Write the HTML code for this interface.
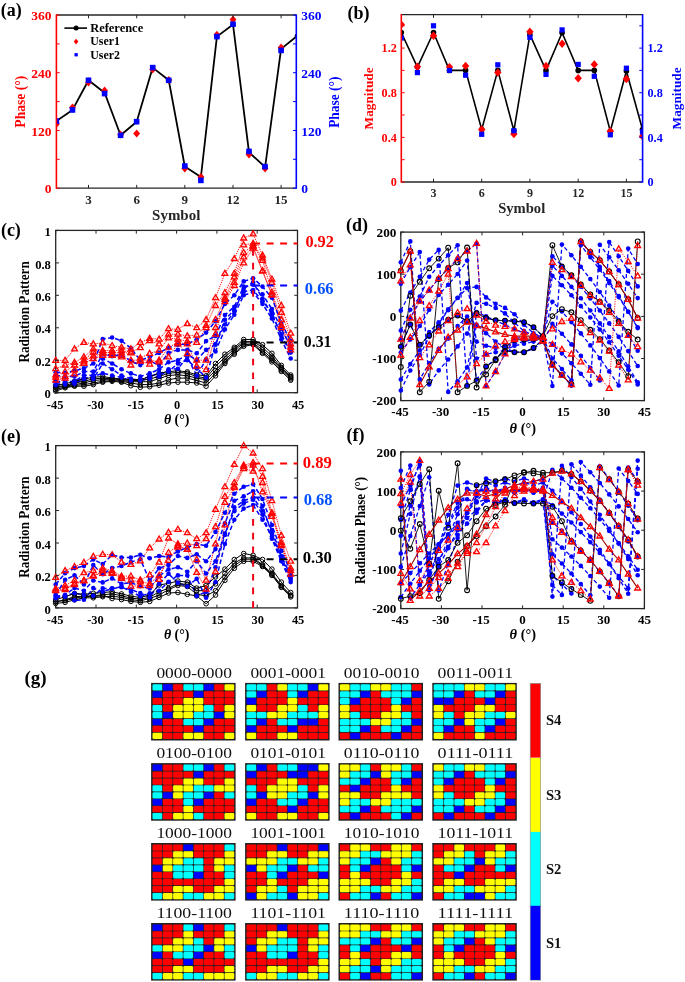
<!DOCTYPE html><html><head><meta charset="utf-8"><style>html,body{margin:0;padding:0;background:#fff;overflow:hidden}svg{display:block;will-change:transform}</style></head><body><svg width="685" height="982" viewBox="0 0 685 982">
<rect x="0" y="0" width="685" height="982" fill="#fff" stroke="none" stroke-width="0" rx="0"/>
<text x="0.7" y="15.6" font-family="Liberation Serif" font-size="18" font-weight="bold" fill="#000" text-anchor="start">(a)</text>
<text x="347.6" y="18.9" font-family="Liberation Serif" font-size="18" font-weight="bold" fill="#000" text-anchor="start">(b)</text>
<clipPath id="ca"><rect x="56.4" y="15" width="239.9" height="173.2"/></clipPath>
<g clip-path="url(#ca)">
<polyline points="56.4,121.1 72.5,109.9 88.5,80.3 104.6,92.8 120.6,135.3 136.7,121.7 152.7,67.6 168.8,80.3 184.8,166.5 200.9,177 216.9,36.6 233,24.5 249,152.3 265.1,167 281.1,48.9 297.1,35.9" fill="none" stroke="#000" stroke-width="1.8" stroke-linejoin="round" stroke-linecap="butt"/>
<circle cx="56.4" cy="121.1" r="2.5" fill="#000" stroke="none" stroke-width="0"/>
<circle cx="72.5" cy="109.9" r="2.5" fill="#000" stroke="none" stroke-width="0"/>
<circle cx="88.5" cy="80.3" r="2.5" fill="#000" stroke="none" stroke-width="0"/>
<circle cx="104.6" cy="92.8" r="2.5" fill="#000" stroke="none" stroke-width="0"/>
<circle cx="120.6" cy="135.3" r="2.5" fill="#000" stroke="none" stroke-width="0"/>
<circle cx="136.7" cy="121.7" r="2.5" fill="#000" stroke="none" stroke-width="0"/>
<circle cx="152.7" cy="67.6" r="2.5" fill="#000" stroke="none" stroke-width="0"/>
<circle cx="168.8" cy="80.3" r="2.5" fill="#000" stroke="none" stroke-width="0"/>
<circle cx="184.8" cy="166.5" r="2.5" fill="#000" stroke="none" stroke-width="0"/>
<circle cx="200.9" cy="177" r="2.5" fill="#000" stroke="none" stroke-width="0"/>
<circle cx="216.9" cy="36.6" r="2.5" fill="#000" stroke="none" stroke-width="0"/>
<circle cx="233" cy="24.5" r="2.5" fill="#000" stroke="none" stroke-width="0"/>
<circle cx="249" cy="152.3" r="2.5" fill="#000" stroke="none" stroke-width="0"/>
<circle cx="265.1" cy="167" r="2.5" fill="#000" stroke="none" stroke-width="0"/>
<circle cx="281.1" cy="48.9" r="2.5" fill="#000" stroke="none" stroke-width="0"/>
<circle cx="297.1" cy="35.9" r="2.5" fill="#000" stroke="none" stroke-width="0"/>
<path d="M56.4,120L59.8,124L56.4,128L53,124Z" fill="#ff0000"/>
<path d="M72.5,103.6L75.9,107.6L72.5,111.6L69,107.6Z" fill="#ff0000"/>
<path d="M88.5,78.5L91.9,82.5L88.5,86.5L85.1,82.5Z" fill="#ff0000"/>
<path d="M104.6,86.4L108,90.4L104.6,94.4L101.2,90.4Z" fill="#ff0000"/>
<path d="M120.6,130.5L124,134.5L120.6,138.5L117.2,134.5Z" fill="#ff0000"/>
<path d="M136.7,129.6L140.1,133.6L136.7,137.6L133.2,133.6Z" fill="#ff0000"/>
<path d="M152.7,65.5L156.1,69.5L152.7,73.5L149.3,69.5Z" fill="#ff0000"/>
<path d="M168.8,76L172.2,80L168.8,84L165.3,80Z" fill="#ff0000"/>
<path d="M184.8,164.5L188.2,168.5L184.8,172.5L181.4,168.5Z" fill="#ff0000"/>
<path d="M200.9,173L204.3,177L200.9,181L197.5,177Z" fill="#ff0000"/>
<path d="M216.9,30.8L220.3,34.8L216.9,38.8L213.5,34.8Z" fill="#ff0000"/>
<path d="M233,15.5L236.4,19.5L233,23.5L229.6,19.5Z" fill="#ff0000"/>
<path d="M249,150.6L252.4,154.6L249,158.6L245.6,154.6Z" fill="#ff0000"/>
<path d="M265.1,164.5L268.4,168.5L265.1,172.5L261.7,168.5Z" fill="#ff0000"/>
<path d="M281.1,43.4L284.5,47.4L281.1,51.4L277.7,47.4Z" fill="#ff0000"/>
<rect x="53.6" y="118.3" width="5.6" height="5.6" fill="#0000ff" stroke="none" stroke-width="0" rx="0"/>
<rect x="69.7" y="107.1" width="5.6" height="5.6" fill="#0000ff" stroke="none" stroke-width="0" rx="0"/>
<rect x="85.7" y="77.5" width="5.6" height="5.6" fill="#0000ff" stroke="none" stroke-width="0" rx="0"/>
<rect x="101.8" y="90.8" width="5.6" height="5.6" fill="#0000ff" stroke="none" stroke-width="0" rx="0"/>
<rect x="117.8" y="132.5" width="5.6" height="5.6" fill="#0000ff" stroke="none" stroke-width="0" rx="0"/>
<rect x="133.8" y="118.9" width="5.6" height="5.6" fill="#0000ff" stroke="none" stroke-width="0" rx="0"/>
<rect x="149.9" y="64.8" width="5.6" height="5.6" fill="#0000ff" stroke="none" stroke-width="0" rx="0"/>
<rect x="165.9" y="77.5" width="5.6" height="5.6" fill="#0000ff" stroke="none" stroke-width="0" rx="0"/>
<rect x="182" y="163.2" width="5.6" height="5.6" fill="#0000ff" stroke="none" stroke-width="0" rx="0"/>
<rect x="198.1" y="177.6" width="5.6" height="5.6" fill="#0000ff" stroke="none" stroke-width="0" rx="0"/>
<rect x="214.1" y="33.8" width="5.6" height="5.6" fill="#0000ff" stroke="none" stroke-width="0" rx="0"/>
<rect x="230.2" y="21.4" width="5.6" height="5.6" fill="#0000ff" stroke="none" stroke-width="0" rx="0"/>
<rect x="246.2" y="148.6" width="5.6" height="5.6" fill="#0000ff" stroke="none" stroke-width="0" rx="0"/>
<rect x="262.2" y="163.8" width="5.6" height="5.6" fill="#0000ff" stroke="none" stroke-width="0" rx="0"/>
<rect x="278.3" y="47.6" width="5.6" height="5.6" fill="#0000ff" stroke="none" stroke-width="0" rx="0"/>
</g>
<line x1="56.4" y1="15" x2="296.3" y2="15" stroke="#262626" stroke-width="1.3" stroke-linecap="butt"/>
<line x1="56.4" y1="188.2" x2="296.3" y2="188.2" stroke="#262626" stroke-width="1.3" stroke-linecap="butt"/>
<line x1="56.4" y1="14.4" x2="56.4" y2="188.8" stroke="#ff0000" stroke-width="1.6" stroke-linecap="butt"/>
<line x1="296.3" y1="14.4" x2="296.3" y2="188.8" stroke="#0000ff" stroke-width="1.6" stroke-linecap="butt"/>
<line x1="88.5" y1="188.2" x2="88.5" y2="184.9" stroke="#262626" stroke-width="1.0" stroke-linecap="butt"/>
<line x1="88.5" y1="15" x2="88.5" y2="18.3" stroke="#262626" stroke-width="1.0" stroke-linecap="butt"/>
<text x="88.5" y="204.3" font-family="Liberation Serif" font-size="13" font-weight="bold" fill="#262626" text-anchor="middle">3</text>
<line x1="136.7" y1="188.2" x2="136.7" y2="184.9" stroke="#262626" stroke-width="1.0" stroke-linecap="butt"/>
<line x1="136.7" y1="15" x2="136.7" y2="18.3" stroke="#262626" stroke-width="1.0" stroke-linecap="butt"/>
<text x="136.7" y="204.3" font-family="Liberation Serif" font-size="13" font-weight="bold" fill="#262626" text-anchor="middle">6</text>
<line x1="184.8" y1="188.2" x2="184.8" y2="184.9" stroke="#262626" stroke-width="1.0" stroke-linecap="butt"/>
<line x1="184.8" y1="15" x2="184.8" y2="18.3" stroke="#262626" stroke-width="1.0" stroke-linecap="butt"/>
<text x="184.8" y="204.3" font-family="Liberation Serif" font-size="13" font-weight="bold" fill="#262626" text-anchor="middle">9</text>
<line x1="233" y1="188.2" x2="233" y2="184.9" stroke="#262626" stroke-width="1.0" stroke-linecap="butt"/>
<line x1="233" y1="15" x2="233" y2="18.3" stroke="#262626" stroke-width="1.0" stroke-linecap="butt"/>
<text x="233" y="204.3" font-family="Liberation Serif" font-size="13" font-weight="bold" fill="#262626" text-anchor="middle">12</text>
<line x1="281.1" y1="188.2" x2="281.1" y2="184.9" stroke="#262626" stroke-width="1.0" stroke-linecap="butt"/>
<line x1="281.1" y1="15" x2="281.1" y2="18.3" stroke="#262626" stroke-width="1.0" stroke-linecap="butt"/>
<text x="281.1" y="204.3" font-family="Liberation Serif" font-size="13" font-weight="bold" fill="#262626" text-anchor="middle">15</text>
<line x1="56.4" y1="188.2" x2="59.7" y2="188.2" stroke="#ff0000" stroke-width="1.0" stroke-linecap="butt"/>
<line x1="296.3" y1="188.2" x2="293" y2="188.2" stroke="#0000ff" stroke-width="1.0" stroke-linecap="butt"/>
<line x1="56.4" y1="159.3" x2="59.7" y2="159.3" stroke="#ff0000" stroke-width="1.0" stroke-linecap="butt"/>
<line x1="296.3" y1="159.3" x2="293" y2="159.3" stroke="#0000ff" stroke-width="1.0" stroke-linecap="butt"/>
<line x1="56.4" y1="130.5" x2="59.7" y2="130.5" stroke="#ff0000" stroke-width="1.0" stroke-linecap="butt"/>
<line x1="296.3" y1="130.5" x2="293" y2="130.5" stroke="#0000ff" stroke-width="1.0" stroke-linecap="butt"/>
<line x1="56.4" y1="101.6" x2="59.7" y2="101.6" stroke="#ff0000" stroke-width="1.0" stroke-linecap="butt"/>
<line x1="296.3" y1="101.6" x2="293" y2="101.6" stroke="#0000ff" stroke-width="1.0" stroke-linecap="butt"/>
<line x1="56.4" y1="72.7" x2="59.7" y2="72.7" stroke="#ff0000" stroke-width="1.0" stroke-linecap="butt"/>
<line x1="296.3" y1="72.7" x2="293" y2="72.7" stroke="#0000ff" stroke-width="1.0" stroke-linecap="butt"/>
<line x1="56.4" y1="43.9" x2="59.7" y2="43.9" stroke="#ff0000" stroke-width="1.0" stroke-linecap="butt"/>
<line x1="296.3" y1="43.9" x2="293" y2="43.9" stroke="#0000ff" stroke-width="1.0" stroke-linecap="butt"/>
<line x1="56.4" y1="15" x2="59.7" y2="15" stroke="#ff0000" stroke-width="1.0" stroke-linecap="butt"/>
<line x1="296.3" y1="15" x2="293" y2="15" stroke="#0000ff" stroke-width="1.0" stroke-linecap="butt"/>
<text x="51.5" y="193.2" font-family="Liberation Serif" font-size="13.5" font-weight="bold" fill="#ff0000" text-anchor="end">0</text>
<text x="301.2" y="193.2" font-family="Liberation Serif" font-size="13.5" font-weight="bold" fill="#0000ff" text-anchor="start">0</text>
<text x="51.5" y="135.5" font-family="Liberation Serif" font-size="13.5" font-weight="bold" fill="#ff0000" text-anchor="end">120</text>
<text x="301.2" y="135.5" font-family="Liberation Serif" font-size="13.5" font-weight="bold" fill="#0000ff" text-anchor="start">120</text>
<text x="51.5" y="77.7" font-family="Liberation Serif" font-size="13.5" font-weight="bold" fill="#ff0000" text-anchor="end">240</text>
<text x="301.2" y="77.7" font-family="Liberation Serif" font-size="13.5" font-weight="bold" fill="#0000ff" text-anchor="start">240</text>
<text x="51.5" y="20" font-family="Liberation Serif" font-size="13.5" font-weight="bold" fill="#ff0000" text-anchor="end">360</text>
<text x="301.2" y="20" font-family="Liberation Serif" font-size="13.5" font-weight="bold" fill="#0000ff" text-anchor="start">360</text>
<text x="176.2" y="220.3" font-family="Liberation Serif" font-size="14.6" font-weight="bold" fill="#262626" text-anchor="middle" textLength="48.2" lengthAdjust="spacingAndGlyphs">Symbol</text>
<text x="24.9" y="101.7" font-family="Liberation Serif" font-size="14.2" font-weight="bold" fill="#ff0000" text-anchor="middle" transform="rotate(-90 24.9 101.7)" textLength="52" lengthAdjust="spacingAndGlyphs">Phase (°)</text>
<text x="339.2" y="102.2" font-family="Liberation Serif" font-size="14.2" font-weight="bold" fill="#0000ff" text-anchor="middle" transform="rotate(-90 339.2 102.2)" textLength="51.3" lengthAdjust="spacingAndGlyphs">Phase (°)</text>
<line x1="64.4" y1="28.1" x2="87" y2="28.1" stroke="#000" stroke-width="1.6" stroke-linecap="butt"/>
<circle cx="76.1" cy="28.1" r="2.5" fill="#000" stroke="none" stroke-width="0"/>
<path d="M76.1,38.8L78.4,41.6L76.1,44.4L73.8,41.6Z" fill="#ff0000"/>
<rect x="74.5" y="53.1" width="3.3" height="3.3" fill="#0000ff" stroke="none" stroke-width="0" rx="0"/>
<text x="90.2" y="31.9" font-family="Liberation Serif" font-size="12.4" font-weight="bold" fill="#000" text-anchor="start" textLength="53" lengthAdjust="spacingAndGlyphs">Reference</text>
<text x="90.2" y="45.4" font-family="Liberation Serif" font-size="12.4" font-weight="bold" fill="#000" text-anchor="start" textLength="29.7" lengthAdjust="spacingAndGlyphs">User1</text>
<text x="90.2" y="58.6" font-family="Liberation Serif" font-size="12.4" font-weight="bold" fill="#000" text-anchor="start" textLength="29.7" lengthAdjust="spacingAndGlyphs">User2</text>
<clipPath id="cb"><rect x="401.3" y="14.6" width="241.3" height="167.4"/></clipPath>
<g clip-path="url(#cb)">
<polyline points="401.3,32.5 417.4,67.1 433.5,32.5 449.5,70.4 465.6,70.4 481.7,129.5 497.8,70.4 513.9,130.7 529.9,34.7 546,70.4 562.1,32.8 578.2,70.4 594.3,70.4 610.3,131.2 626.4,71 642.5,129.5" fill="none" stroke="#000" stroke-width="1.6" stroke-linejoin="round" stroke-linecap="butt"/>
<circle cx="401.3" cy="32.5" r="2.8" fill="#000" stroke="none" stroke-width="0"/>
<circle cx="417.4" cy="67.1" r="2.8" fill="#000" stroke="none" stroke-width="0"/>
<circle cx="433.5" cy="32.5" r="2.8" fill="#000" stroke="none" stroke-width="0"/>
<circle cx="449.5" cy="70.4" r="2.8" fill="#000" stroke="none" stroke-width="0"/>
<circle cx="465.6" cy="70.4" r="2.8" fill="#000" stroke="none" stroke-width="0"/>
<circle cx="481.7" cy="129.5" r="2.8" fill="#000" stroke="none" stroke-width="0"/>
<circle cx="497.8" cy="70.4" r="2.8" fill="#000" stroke="none" stroke-width="0"/>
<circle cx="513.9" cy="130.7" r="2.8" fill="#000" stroke="none" stroke-width="0"/>
<circle cx="529.9" cy="34.7" r="2.8" fill="#000" stroke="none" stroke-width="0"/>
<circle cx="546" cy="70.4" r="2.8" fill="#000" stroke="none" stroke-width="0"/>
<circle cx="562.1" cy="32.8" r="2.8" fill="#000" stroke="none" stroke-width="0"/>
<circle cx="578.2" cy="70.4" r="2.8" fill="#000" stroke="none" stroke-width="0"/>
<circle cx="594.3" cy="70.4" r="2.8" fill="#000" stroke="none" stroke-width="0"/>
<circle cx="610.3" cy="131.2" r="2.8" fill="#000" stroke="none" stroke-width="0"/>
<circle cx="626.4" cy="71" r="2.8" fill="#000" stroke="none" stroke-width="0"/>
<circle cx="642.5" cy="129.5" r="2.8" fill="#000" stroke="none" stroke-width="0"/>
<path d="M401.3,20.4L405,24.6L401.3,28.8L397.6,24.6Z" fill="#ff0000"/>
<path d="M417.4,62.5L421.1,66.7L417.4,70.9L413.7,66.7Z" fill="#ff0000"/>
<path d="M433.5,31.6L437.2,35.8L433.5,40L429.8,35.8Z" fill="#ff0000"/>
<path d="M449.5,62.9L453.2,67.1L449.5,71.3L445.8,67.1Z" fill="#ff0000"/>
<path d="M465.6,61.7L469.3,65.9L465.6,70.1L461.9,65.9Z" fill="#ff0000"/>
<path d="M481.7,125.3L485.4,129.5L481.7,133.7L478,129.5Z" fill="#ff0000"/>
<path d="M497.8,68.4L501.5,72.6L497.8,76.8L494.1,72.6Z" fill="#ff0000"/>
<path d="M513.9,129.8L517.6,134L513.9,138.2L510.2,134Z" fill="#ff0000"/>
<path d="M529.9,27.6L533.6,31.8L529.9,36L526.2,31.8Z" fill="#ff0000"/>
<path d="M546,61.7L549.7,65.9L546,70.1L542.3,65.9Z" fill="#ff0000"/>
<path d="M562.1,39.6L565.8,43.8L562.1,48L558.4,43.8Z" fill="#ff0000"/>
<path d="M578.2,74L581.9,78.2L578.2,82.4L574.5,78.2Z" fill="#ff0000"/>
<path d="M594.3,60.2L598,64.4L594.3,68.6L590.6,64.4Z" fill="#ff0000"/>
<path d="M610.3,127L614,131.2L610.3,135.4L606.6,131.2Z" fill="#ff0000"/>
<path d="M626.4,74.8L630.1,79L626.4,83.2L622.7,79Z" fill="#ff0000"/>
<path d="M642.5,132L646.2,136.2L642.5,140.4L638.8,136.2Z" fill="#ff0000"/>
<rect x="398.7" y="35.4" width="5.2" height="5.2" fill="#0000ff" stroke="none" stroke-width="0" rx="0"/>
<rect x="414.8" y="70" width="5.2" height="5.2" fill="#0000ff" stroke="none" stroke-width="0" rx="0"/>
<rect x="430.9" y="23.2" width="5.2" height="5.2" fill="#0000ff" stroke="none" stroke-width="0" rx="0"/>
<rect x="446.9" y="67.8" width="5.2" height="5.2" fill="#0000ff" stroke="none" stroke-width="0" rx="0"/>
<rect x="463" y="72.6" width="5.2" height="5.2" fill="#0000ff" stroke="none" stroke-width="0" rx="0"/>
<rect x="479.1" y="131.7" width="5.2" height="5.2" fill="#0000ff" stroke="none" stroke-width="0" rx="0"/>
<rect x="495.2" y="62.2" width="5.2" height="5.2" fill="#0000ff" stroke="none" stroke-width="0" rx="0"/>
<rect x="511.3" y="128.1" width="5.2" height="5.2" fill="#0000ff" stroke="none" stroke-width="0" rx="0"/>
<rect x="527.3" y="34.8" width="5.2" height="5.2" fill="#0000ff" stroke="none" stroke-width="0" rx="0"/>
<rect x="543.4" y="71.8" width="5.2" height="5.2" fill="#0000ff" stroke="none" stroke-width="0" rx="0"/>
<rect x="559.5" y="27.3" width="5.2" height="5.2" fill="#0000ff" stroke="none" stroke-width="0" rx="0"/>
<rect x="575.6" y="61.8" width="5.2" height="5.2" fill="#0000ff" stroke="none" stroke-width="0" rx="0"/>
<rect x="591.7" y="73.7" width="5.2" height="5.2" fill="#0000ff" stroke="none" stroke-width="0" rx="0"/>
<rect x="607.7" y="132.2" width="5.2" height="5.2" fill="#0000ff" stroke="none" stroke-width="0" rx="0"/>
<rect x="623.8" y="65.6" width="5.2" height="5.2" fill="#0000ff" stroke="none" stroke-width="0" rx="0"/>
<rect x="639.9" y="129.2" width="5.2" height="5.2" fill="#0000ff" stroke="none" stroke-width="0" rx="0"/>
</g>
<line x1="401.3" y1="14.6" x2="642.6" y2="14.6" stroke="#262626" stroke-width="1.3" stroke-linecap="butt"/>
<line x1="401.3" y1="182" x2="642.6" y2="182" stroke="#262626" stroke-width="1.3" stroke-linecap="butt"/>
<line x1="401.3" y1="14" x2="401.3" y2="182.6" stroke="#ff0000" stroke-width="1.6" stroke-linecap="butt"/>
<line x1="642.6" y1="14" x2="642.6" y2="182.6" stroke="#0000ff" stroke-width="1.6" stroke-linecap="butt"/>
<line x1="433.5" y1="182" x2="433.5" y2="178.7" stroke="#262626" stroke-width="1.0" stroke-linecap="butt"/>
<line x1="433.5" y1="14.6" x2="433.5" y2="17.9" stroke="#262626" stroke-width="1.0" stroke-linecap="butt"/>
<text x="433.5" y="197.3" font-family="Liberation Serif" font-size="12" font-weight="bold" fill="#262626" text-anchor="middle">3</text>
<line x1="481.7" y1="182" x2="481.7" y2="178.7" stroke="#262626" stroke-width="1.0" stroke-linecap="butt"/>
<line x1="481.7" y1="14.6" x2="481.7" y2="17.9" stroke="#262626" stroke-width="1.0" stroke-linecap="butt"/>
<text x="481.7" y="197.3" font-family="Liberation Serif" font-size="12" font-weight="bold" fill="#262626" text-anchor="middle">6</text>
<line x1="529.9" y1="182" x2="529.9" y2="178.7" stroke="#262626" stroke-width="1.0" stroke-linecap="butt"/>
<line x1="529.9" y1="14.6" x2="529.9" y2="17.9" stroke="#262626" stroke-width="1.0" stroke-linecap="butt"/>
<text x="529.9" y="197.3" font-family="Liberation Serif" font-size="12" font-weight="bold" fill="#262626" text-anchor="middle">9</text>
<line x1="578.2" y1="182" x2="578.2" y2="178.7" stroke="#262626" stroke-width="1.0" stroke-linecap="butt"/>
<line x1="578.2" y1="14.6" x2="578.2" y2="17.9" stroke="#262626" stroke-width="1.0" stroke-linecap="butt"/>
<text x="578.2" y="197.3" font-family="Liberation Serif" font-size="12" font-weight="bold" fill="#262626" text-anchor="middle">12</text>
<line x1="626.4" y1="182" x2="626.4" y2="178.7" stroke="#262626" stroke-width="1.0" stroke-linecap="butt"/>
<line x1="626.4" y1="14.6" x2="626.4" y2="17.9" stroke="#262626" stroke-width="1.0" stroke-linecap="butt"/>
<text x="626.4" y="197.3" font-family="Liberation Serif" font-size="12" font-weight="bold" fill="#262626" text-anchor="middle">15</text>
<line x1="401.3" y1="182" x2="404.6" y2="182" stroke="#ff0000" stroke-width="1.0" stroke-linecap="butt"/>
<line x1="642.6" y1="182" x2="639.3" y2="182" stroke="#0000ff" stroke-width="1.0" stroke-linecap="butt"/>
<line x1="401.3" y1="159.7" x2="404.6" y2="159.7" stroke="#ff0000" stroke-width="1.0" stroke-linecap="butt"/>
<line x1="642.6" y1="159.7" x2="639.3" y2="159.7" stroke="#0000ff" stroke-width="1.0" stroke-linecap="butt"/>
<line x1="401.3" y1="137.4" x2="404.6" y2="137.4" stroke="#ff0000" stroke-width="1.0" stroke-linecap="butt"/>
<line x1="642.6" y1="137.4" x2="639.3" y2="137.4" stroke="#0000ff" stroke-width="1.0" stroke-linecap="butt"/>
<line x1="401.3" y1="115" x2="404.6" y2="115" stroke="#ff0000" stroke-width="1.0" stroke-linecap="butt"/>
<line x1="642.6" y1="115" x2="639.3" y2="115" stroke="#0000ff" stroke-width="1.0" stroke-linecap="butt"/>
<line x1="401.3" y1="92.7" x2="404.6" y2="92.7" stroke="#ff0000" stroke-width="1.0" stroke-linecap="butt"/>
<line x1="642.6" y1="92.7" x2="639.3" y2="92.7" stroke="#0000ff" stroke-width="1.0" stroke-linecap="butt"/>
<line x1="401.3" y1="70.4" x2="404.6" y2="70.4" stroke="#ff0000" stroke-width="1.0" stroke-linecap="butt"/>
<line x1="642.6" y1="70.4" x2="639.3" y2="70.4" stroke="#0000ff" stroke-width="1.0" stroke-linecap="butt"/>
<line x1="401.3" y1="48.1" x2="404.6" y2="48.1" stroke="#ff0000" stroke-width="1.0" stroke-linecap="butt"/>
<line x1="642.6" y1="48.1" x2="639.3" y2="48.1" stroke="#0000ff" stroke-width="1.0" stroke-linecap="butt"/>
<line x1="401.3" y1="25.8" x2="404.6" y2="25.8" stroke="#ff0000" stroke-width="1.0" stroke-linecap="butt"/>
<line x1="642.6" y1="25.8" x2="639.3" y2="25.8" stroke="#0000ff" stroke-width="1.0" stroke-linecap="butt"/>
<text x="396.8" y="186.2" font-family="Liberation Serif" font-size="12.2" font-weight="bold" fill="#ff0000" text-anchor="end">0</text>
<text x="647.5" y="186.2" font-family="Liberation Serif" font-size="12.2" font-weight="bold" fill="#0000ff" text-anchor="start">0</text>
<text x="396.8" y="141.6" font-family="Liberation Serif" font-size="12.2" font-weight="bold" fill="#ff0000" text-anchor="end">0.4</text>
<text x="647.5" y="141.6" font-family="Liberation Serif" font-size="12.2" font-weight="bold" fill="#0000ff" text-anchor="start">0.4</text>
<text x="396.8" y="96.9" font-family="Liberation Serif" font-size="12.2" font-weight="bold" fill="#ff0000" text-anchor="end">0.8</text>
<text x="647.5" y="96.9" font-family="Liberation Serif" font-size="12.2" font-weight="bold" fill="#0000ff" text-anchor="start">0.8</text>
<text x="396.8" y="52.3" font-family="Liberation Serif" font-size="12.2" font-weight="bold" fill="#ff0000" text-anchor="end">1.2</text>
<text x="647.5" y="52.3" font-family="Liberation Serif" font-size="12.2" font-weight="bold" fill="#0000ff" text-anchor="start">1.2</text>
<text x="521.7" y="212.9" font-family="Liberation Serif" font-size="14" font-weight="bold" fill="#262626" text-anchor="middle" textLength="47" lengthAdjust="spacingAndGlyphs">Symbol</text>
<text x="372.6" y="98.4" font-family="Liberation Serif" font-size="13.3" font-weight="bold" fill="#ff0000" text-anchor="middle" transform="rotate(-90 372.6 98.4)" textLength="62" lengthAdjust="spacingAndGlyphs">Magnitude</text>
<text x="681" y="98.4" font-family="Liberation Serif" font-size="13.3" font-weight="bold" fill="#0000ff" text-anchor="middle" transform="rotate(-90 681 98.4)" textLength="62" lengthAdjust="spacingAndGlyphs">Magnitude</text>
<text x="0.9" y="236" font-family="Liberation Serif" font-size="18" font-weight="bold" fill="#000" text-anchor="start">(c)</text>
<clipPath id="cc"><rect x="55.7" y="230.4" width="241.8" height="162.29999999999998"/></clipPath>
<g clip-path="url(#cc)">
<polyline points="55.7,360.4 65.1,360.4 74.5,348.9 83.9,342.4 93.3,344 102.7,342.9 112.1,345.6 121.5,347.3 130.9,348.9 140.3,342.4 149.7,338.5 159.1,339.1 168.5,328.8 177.9,329.4 187.3,323.7 196.7,327.8 206.1,319.7 215.5,297.8 224.9,273.4 234.3,258.8 243.7,238 253.1,234 262.5,255.2 271.9,279.1 281.3,305.5 290.7,333.3" fill="none" stroke="#ff0000" stroke-width="0.9" stroke-linejoin="round" stroke-linecap="butt" stroke-dasharray="1.3,0.9"/>
<polyline points="55.7,368.7 65.1,365.1 74.5,362.5 83.9,357 93.3,348.9 102.7,350.5 112.1,350.5 121.5,350.5 130.9,352.1 140.3,347.7 149.7,340.8 159.1,344 168.5,334.3 177.9,334.3 187.3,335.9 196.7,335.1 206.1,325.5 215.5,305.5 224.9,292.6 234.3,273.4 243.7,244.8 253.1,243.4 262.5,258 271.9,282.3 281.3,312.5 290.7,339.1" fill="none" stroke="#ff0000" stroke-width="0.9" stroke-linejoin="round" stroke-linecap="butt" stroke-dasharray="1.3,0.9"/>
<polyline points="55.7,374.8 65.1,371.6 74.5,365.1 83.9,360.2 93.3,352.1 102.7,352.1 112.1,352.8 121.5,352.9 130.9,352.9 140.3,358 149.7,353.4 159.1,350.5 168.5,338 177.9,339.1 187.3,341.4 196.7,342.4 206.1,327.8 215.5,319.7 224.9,297.8 234.3,277 243.7,252.6 253.1,245.3 262.5,260.4 271.9,292.1 281.3,319.7 290.7,344" fill="none" stroke="#ff0000" stroke-width="0.9" stroke-linejoin="round" stroke-linecap="butt" stroke-dasharray="1.3,0.9"/>
<polyline points="55.7,377.3 65.1,376.5 74.5,370 83.9,361.9 93.3,355.9 102.7,353.7 112.1,354.9 121.5,355.4 130.9,365.1 140.3,361.1 149.7,364.1 159.1,360.2 168.5,347.3 177.9,342.4 187.3,344 196.7,366.2 206.1,369.8 215.5,334.3 224.9,299.4 234.3,282.3 243.7,257 253.1,246.6 262.5,271 271.9,294.3 281.3,325.5 290.7,347.3" fill="none" stroke="#ff0000" stroke-width="0.9" stroke-linejoin="round" stroke-linecap="butt" stroke-dasharray="1.3,0.9"/>
<polyline points="55.7,380 65.1,378.1 74.5,373.9 83.9,363.5 93.3,358.6 102.7,355.4 112.1,355.4 121.5,357 130.9,360.2 140.3,360.2 149.7,360.2 159.1,361.9 168.5,357 177.9,344 187.3,353.7 196.7,360.2 206.1,360.2 215.5,327.8 224.9,301.8 234.3,285.6 243.7,262.9 253.1,248.3 262.5,271 271.9,295.3 281.3,327.8 290.7,349.9" fill="none" stroke="#ff0000" stroke-width="0.9" stroke-linejoin="round" stroke-linecap="butt" stroke-dasharray="1.3,0.9"/>
<polyline points="55.7,372.3 65.1,372.7 74.5,370.8 83.9,368.4 93.3,363.5 102.7,339.1 112.1,337.5 121.5,340.8 130.9,348.2 140.3,360.2 149.7,357 159.1,352.9 168.5,347.7 177.9,344.7 187.3,344 196.7,339.5 206.1,332.6 215.5,321.3 224.9,303.9 234.3,295.3 243.7,281.4 253.1,278.3 262.5,286.6 271.9,297.8 281.3,322.9 290.7,341.1" fill="none" stroke="#0000ff" stroke-width="1.5" stroke-linejoin="round" stroke-linecap="butt" stroke-dasharray="4.5,2.6"/>
<polyline points="55.7,375.3 65.1,376.5 74.5,376.5 83.9,371.6 93.3,371.6 102.7,353.7 112.1,356.2 121.5,354.4 130.9,361.1 140.3,365.1 149.7,361.1 159.1,365.1 168.5,352.9 177.9,349.9 187.3,349.9 196.7,353.3 206.1,341.1 215.5,335.9 224.9,315.1 234.3,306.7 243.7,286.6 253.1,284.8 262.5,294.3 271.9,309.1 281.3,328.9 290.7,346.3" fill="none" stroke="#0000ff" stroke-width="1.5" stroke-linejoin="round" stroke-linecap="butt" stroke-dasharray="4.5,2.6"/>
<polyline points="55.7,381.5 65.1,381.5 74.5,381.3 83.9,375.3 93.3,375.3 102.7,358.6 112.1,363.5 121.5,369.3 130.9,373.4 140.3,376.5 149.7,373.4 159.1,369.3 168.5,362.2 177.9,360.2 187.3,354.4 196.7,360.2 206.1,349.9 215.5,344.7 224.9,319.7 234.3,309.9 243.7,291.7 253.1,290 262.5,301.2 271.9,312.5 281.3,335.9 290.7,352.4" fill="none" stroke="#0000ff" stroke-width="1.5" stroke-linejoin="round" stroke-linecap="butt" stroke-dasharray="4.5,2.6"/>
<polyline points="55.7,385.1 65.1,384.6 74.5,383.8 83.9,378.9 93.3,378.9 102.7,363.5 112.1,369.3 121.5,375.5 130.9,378.6 140.3,380.5 149.7,378.6 159.1,376.5 168.5,369.3 177.9,368.8 187.3,357 196.7,375.8 206.1,359.4 215.5,351.5 224.9,329.4 234.3,314.8 243.7,295.3 253.1,292.1 262.5,303.9 271.9,318.5 281.3,339.5 290.7,358.5" fill="none" stroke="#0000ff" stroke-width="1.5" stroke-linejoin="round" stroke-linecap="butt" stroke-dasharray="4.5,2.6"/>
<polyline points="55.7,383 65.1,383 74.5,382.2 83.9,378.1 93.3,376.5 102.7,373.2 112.1,375.5 121.5,377.4 130.9,380.5 140.3,379.7 149.7,376.5 159.1,373.2 168.5,371.6 177.9,363.5 187.3,360.2 196.7,368.4 206.1,377.6 215.5,344 224.9,324.5 234.3,311.6 243.7,288.8 253.1,282.3 262.5,298.6 271.9,314.8 281.3,334.3 290.7,352.1" fill="none" stroke="#0000ff" stroke-width="1.5" stroke-linejoin="round" stroke-linecap="butt" stroke-dasharray="4.5,2.6"/>
<polyline points="55.7,385.4 65.1,383.8 74.5,381.3 83.9,378.9 93.3,377.3 102.7,376.5 112.1,378.1 121.5,378.9 130.9,379.7 140.3,379.7 149.7,376.5 159.1,373.4 168.5,371.6 177.9,370.8 187.3,371.9 196.7,374.8 206.1,375.8 215.5,363.5 224.9,354.2 234.3,347.3 243.7,339.5 253.1,339.5 262.5,344.7 271.9,353.3 281.3,365.4 290.7,375" fill="none" stroke="#000" stroke-width="1.0" stroke-linejoin="round" stroke-linecap="butt"/>
<polyline points="55.7,387 65.1,385.4 74.5,383 83.9,381.3 93.3,378.9 102.7,378.1 112.1,378.9 121.5,379.7 130.9,380.5 140.3,380.5 149.7,378.9 159.1,376.5 168.5,373.2 177.9,372.4 187.3,373.2 196.7,376.5 206.1,378.1 215.5,366.7 224.9,357 234.3,348.9 243.7,341.6 253.1,341.6 262.5,347.3 271.9,356.2 281.3,367.5 290.7,376.5" fill="none" stroke="#000" stroke-width="1.0" stroke-linejoin="round" stroke-linecap="butt"/>
<polyline points="55.7,387.8 65.1,386.2 74.5,384.6 83.9,383 93.3,380.5 102.7,379.7 112.1,379.7 121.5,380.5 130.9,381.7 140.3,381.7 149.7,381.7 159.1,378.6 168.5,375.5 177.9,374.8 187.3,375.8 196.7,378.1 206.1,379.7 215.5,370.6 224.9,360.2 234.3,350.7 243.7,342.9 253.1,342.9 262.5,349.9 271.9,358.5 281.3,368.8 290.7,377.6" fill="none" stroke="#000" stroke-width="1.0" stroke-linejoin="round" stroke-linecap="butt"/>
<polyline points="55.7,389.5 65.1,387 74.5,385.4 83.9,384.6 93.3,383 102.7,381.3 112.1,380.5 121.5,381.3 130.9,383 140.3,384.6 149.7,384.6 159.1,383 168.5,379.7 177.9,378.1 187.3,378.1 196.7,380.5 206.1,383 215.5,373.2 224.9,361.9 234.3,352.9 243.7,344.8 253.1,344 262.5,352.1 271.9,360.2 281.3,370 290.7,378.9" fill="none" stroke="#000" stroke-width="1.0" stroke-linejoin="round" stroke-linecap="butt"/>
<polyline points="55.7,391.1 65.1,387.8 74.5,386.2 83.9,386.2 93.3,384.6 102.7,382.2 112.1,381.3 121.5,382.2 130.9,385.7 140.3,387.3 149.7,386.7 159.1,385.2 168.5,383.1 177.9,382.2 187.3,382.2 196.7,383 206.1,386.2 215.5,375.8 224.9,363.5 234.3,354.2 243.7,346.3 253.1,344.7 262.5,353.3 271.9,361.9 281.3,371.4 290.7,380.2" fill="none" stroke="#000" stroke-width="1.0" stroke-linejoin="round" stroke-linecap="butt"/>
</g>
<rect x="55.7" y="230.4" width="241.8" height="162.29999999999998" fill="none" stroke="#262626" stroke-width="1.3"/>
<circle cx="55.7" cy="385.4" r="2.3" fill="none" stroke="#000" stroke-width="1.0"/>
<circle cx="65.1" cy="383.8" r="2.3" fill="none" stroke="#000" stroke-width="1.0"/>
<circle cx="74.5" cy="381.3" r="2.3" fill="none" stroke="#000" stroke-width="1.0"/>
<circle cx="83.9" cy="378.9" r="2.3" fill="none" stroke="#000" stroke-width="1.0"/>
<circle cx="93.3" cy="377.3" r="2.3" fill="none" stroke="#000" stroke-width="1.0"/>
<circle cx="102.7" cy="376.5" r="2.3" fill="none" stroke="#000" stroke-width="1.0"/>
<circle cx="112.1" cy="378.1" r="2.3" fill="none" stroke="#000" stroke-width="1.0"/>
<circle cx="121.5" cy="378.9" r="2.3" fill="none" stroke="#000" stroke-width="1.0"/>
<circle cx="130.9" cy="379.7" r="2.3" fill="none" stroke="#000" stroke-width="1.0"/>
<circle cx="140.3" cy="379.7" r="2.3" fill="none" stroke="#000" stroke-width="1.0"/>
<circle cx="149.7" cy="376.5" r="2.3" fill="none" stroke="#000" stroke-width="1.0"/>
<circle cx="159.1" cy="373.4" r="2.3" fill="none" stroke="#000" stroke-width="1.0"/>
<circle cx="168.5" cy="371.6" r="2.3" fill="none" stroke="#000" stroke-width="1.0"/>
<circle cx="177.9" cy="370.8" r="2.3" fill="none" stroke="#000" stroke-width="1.0"/>
<circle cx="187.3" cy="371.9" r="2.3" fill="none" stroke="#000" stroke-width="1.0"/>
<circle cx="196.7" cy="374.8" r="2.3" fill="none" stroke="#000" stroke-width="1.0"/>
<circle cx="206.1" cy="375.8" r="2.3" fill="none" stroke="#000" stroke-width="1.0"/>
<circle cx="215.5" cy="363.5" r="2.3" fill="none" stroke="#000" stroke-width="1.0"/>
<circle cx="224.9" cy="354.2" r="2.3" fill="none" stroke="#000" stroke-width="1.0"/>
<circle cx="234.3" cy="347.3" r="2.3" fill="none" stroke="#000" stroke-width="1.0"/>
<circle cx="243.7" cy="339.5" r="2.3" fill="none" stroke="#000" stroke-width="1.0"/>
<circle cx="253.1" cy="339.5" r="2.3" fill="none" stroke="#000" stroke-width="1.0"/>
<circle cx="262.5" cy="344.7" r="2.3" fill="none" stroke="#000" stroke-width="1.0"/>
<circle cx="271.9" cy="353.3" r="2.3" fill="none" stroke="#000" stroke-width="1.0"/>
<circle cx="281.3" cy="365.4" r="2.3" fill="none" stroke="#000" stroke-width="1.0"/>
<circle cx="290.7" cy="375" r="2.3" fill="none" stroke="#000" stroke-width="1.0"/>
<circle cx="55.7" cy="387" r="2.3" fill="none" stroke="#000" stroke-width="1.0"/>
<circle cx="65.1" cy="385.4" r="2.3" fill="none" stroke="#000" stroke-width="1.0"/>
<circle cx="74.5" cy="383" r="2.3" fill="none" stroke="#000" stroke-width="1.0"/>
<circle cx="83.9" cy="381.3" r="2.3" fill="none" stroke="#000" stroke-width="1.0"/>
<circle cx="93.3" cy="378.9" r="2.3" fill="none" stroke="#000" stroke-width="1.0"/>
<circle cx="102.7" cy="378.1" r="2.3" fill="none" stroke="#000" stroke-width="1.0"/>
<circle cx="112.1" cy="378.9" r="2.3" fill="none" stroke="#000" stroke-width="1.0"/>
<circle cx="121.5" cy="379.7" r="2.3" fill="none" stroke="#000" stroke-width="1.0"/>
<circle cx="130.9" cy="380.5" r="2.3" fill="none" stroke="#000" stroke-width="1.0"/>
<circle cx="140.3" cy="380.5" r="2.3" fill="none" stroke="#000" stroke-width="1.0"/>
<circle cx="149.7" cy="378.9" r="2.3" fill="none" stroke="#000" stroke-width="1.0"/>
<circle cx="159.1" cy="376.5" r="2.3" fill="none" stroke="#000" stroke-width="1.0"/>
<circle cx="168.5" cy="373.2" r="2.3" fill="none" stroke="#000" stroke-width="1.0"/>
<circle cx="177.9" cy="372.4" r="2.3" fill="none" stroke="#000" stroke-width="1.0"/>
<circle cx="187.3" cy="373.2" r="2.3" fill="none" stroke="#000" stroke-width="1.0"/>
<circle cx="196.7" cy="376.5" r="2.3" fill="none" stroke="#000" stroke-width="1.0"/>
<circle cx="206.1" cy="378.1" r="2.3" fill="none" stroke="#000" stroke-width="1.0"/>
<circle cx="215.5" cy="366.7" r="2.3" fill="none" stroke="#000" stroke-width="1.0"/>
<circle cx="224.9" cy="357" r="2.3" fill="none" stroke="#000" stroke-width="1.0"/>
<circle cx="234.3" cy="348.9" r="2.3" fill="none" stroke="#000" stroke-width="1.0"/>
<circle cx="243.7" cy="341.6" r="2.3" fill="none" stroke="#000" stroke-width="1.0"/>
<circle cx="253.1" cy="341.6" r="2.3" fill="none" stroke="#000" stroke-width="1.0"/>
<circle cx="262.5" cy="347.3" r="2.3" fill="none" stroke="#000" stroke-width="1.0"/>
<circle cx="271.9" cy="356.2" r="2.3" fill="none" stroke="#000" stroke-width="1.0"/>
<circle cx="281.3" cy="367.5" r="2.3" fill="none" stroke="#000" stroke-width="1.0"/>
<circle cx="290.7" cy="376.5" r="2.3" fill="none" stroke="#000" stroke-width="1.0"/>
<circle cx="55.7" cy="387.8" r="2.3" fill="none" stroke="#000" stroke-width="1.0"/>
<circle cx="65.1" cy="386.2" r="2.3" fill="none" stroke="#000" stroke-width="1.0"/>
<circle cx="74.5" cy="384.6" r="2.3" fill="none" stroke="#000" stroke-width="1.0"/>
<circle cx="83.9" cy="383" r="2.3" fill="none" stroke="#000" stroke-width="1.0"/>
<circle cx="93.3" cy="380.5" r="2.3" fill="none" stroke="#000" stroke-width="1.0"/>
<circle cx="102.7" cy="379.7" r="2.3" fill="none" stroke="#000" stroke-width="1.0"/>
<circle cx="112.1" cy="379.7" r="2.3" fill="none" stroke="#000" stroke-width="1.0"/>
<circle cx="121.5" cy="380.5" r="2.3" fill="none" stroke="#000" stroke-width="1.0"/>
<circle cx="130.9" cy="381.7" r="2.3" fill="none" stroke="#000" stroke-width="1.0"/>
<circle cx="140.3" cy="381.7" r="2.3" fill="none" stroke="#000" stroke-width="1.0"/>
<circle cx="149.7" cy="381.7" r="2.3" fill="none" stroke="#000" stroke-width="1.0"/>
<circle cx="159.1" cy="378.6" r="2.3" fill="none" stroke="#000" stroke-width="1.0"/>
<circle cx="168.5" cy="375.5" r="2.3" fill="none" stroke="#000" stroke-width="1.0"/>
<circle cx="177.9" cy="374.8" r="2.3" fill="none" stroke="#000" stroke-width="1.0"/>
<circle cx="187.3" cy="375.8" r="2.3" fill="none" stroke="#000" stroke-width="1.0"/>
<circle cx="196.7" cy="378.1" r="2.3" fill="none" stroke="#000" stroke-width="1.0"/>
<circle cx="206.1" cy="379.7" r="2.3" fill="none" stroke="#000" stroke-width="1.0"/>
<circle cx="215.5" cy="370.6" r="2.3" fill="none" stroke="#000" stroke-width="1.0"/>
<circle cx="224.9" cy="360.2" r="2.3" fill="none" stroke="#000" stroke-width="1.0"/>
<circle cx="234.3" cy="350.7" r="2.3" fill="none" stroke="#000" stroke-width="1.0"/>
<circle cx="243.7" cy="342.9" r="2.3" fill="none" stroke="#000" stroke-width="1.0"/>
<circle cx="253.1" cy="342.9" r="2.3" fill="none" stroke="#000" stroke-width="1.0"/>
<circle cx="262.5" cy="349.9" r="2.3" fill="none" stroke="#000" stroke-width="1.0"/>
<circle cx="271.9" cy="358.5" r="2.3" fill="none" stroke="#000" stroke-width="1.0"/>
<circle cx="281.3" cy="368.8" r="2.3" fill="none" stroke="#000" stroke-width="1.0"/>
<circle cx="290.7" cy="377.6" r="2.3" fill="none" stroke="#000" stroke-width="1.0"/>
<circle cx="55.7" cy="389.5" r="2.3" fill="none" stroke="#000" stroke-width="1.0"/>
<circle cx="65.1" cy="387" r="2.3" fill="none" stroke="#000" stroke-width="1.0"/>
<circle cx="74.5" cy="385.4" r="2.3" fill="none" stroke="#000" stroke-width="1.0"/>
<circle cx="83.9" cy="384.6" r="2.3" fill="none" stroke="#000" stroke-width="1.0"/>
<circle cx="93.3" cy="383" r="2.3" fill="none" stroke="#000" stroke-width="1.0"/>
<circle cx="102.7" cy="381.3" r="2.3" fill="none" stroke="#000" stroke-width="1.0"/>
<circle cx="112.1" cy="380.5" r="2.3" fill="none" stroke="#000" stroke-width="1.0"/>
<circle cx="121.5" cy="381.3" r="2.3" fill="none" stroke="#000" stroke-width="1.0"/>
<circle cx="130.9" cy="383" r="2.3" fill="none" stroke="#000" stroke-width="1.0"/>
<circle cx="140.3" cy="384.6" r="2.3" fill="none" stroke="#000" stroke-width="1.0"/>
<circle cx="149.7" cy="384.6" r="2.3" fill="none" stroke="#000" stroke-width="1.0"/>
<circle cx="159.1" cy="383" r="2.3" fill="none" stroke="#000" stroke-width="1.0"/>
<circle cx="168.5" cy="379.7" r="2.3" fill="none" stroke="#000" stroke-width="1.0"/>
<circle cx="177.9" cy="378.1" r="2.3" fill="none" stroke="#000" stroke-width="1.0"/>
<circle cx="187.3" cy="378.1" r="2.3" fill="none" stroke="#000" stroke-width="1.0"/>
<circle cx="196.7" cy="380.5" r="2.3" fill="none" stroke="#000" stroke-width="1.0"/>
<circle cx="206.1" cy="383" r="2.3" fill="none" stroke="#000" stroke-width="1.0"/>
<circle cx="215.5" cy="373.2" r="2.3" fill="none" stroke="#000" stroke-width="1.0"/>
<circle cx="224.9" cy="361.9" r="2.3" fill="none" stroke="#000" stroke-width="1.0"/>
<circle cx="234.3" cy="352.9" r="2.3" fill="none" stroke="#000" stroke-width="1.0"/>
<circle cx="243.7" cy="344.8" r="2.3" fill="none" stroke="#000" stroke-width="1.0"/>
<circle cx="253.1" cy="344" r="2.3" fill="none" stroke="#000" stroke-width="1.0"/>
<circle cx="262.5" cy="352.1" r="2.3" fill="none" stroke="#000" stroke-width="1.0"/>
<circle cx="271.9" cy="360.2" r="2.3" fill="none" stroke="#000" stroke-width="1.0"/>
<circle cx="281.3" cy="370" r="2.3" fill="none" stroke="#000" stroke-width="1.0"/>
<circle cx="290.7" cy="378.9" r="2.3" fill="none" stroke="#000" stroke-width="1.0"/>
<circle cx="55.7" cy="391.1" r="2.3" fill="none" stroke="#000" stroke-width="1.0"/>
<circle cx="65.1" cy="387.8" r="2.3" fill="none" stroke="#000" stroke-width="1.0"/>
<circle cx="74.5" cy="386.2" r="2.3" fill="none" stroke="#000" stroke-width="1.0"/>
<circle cx="83.9" cy="386.2" r="2.3" fill="none" stroke="#000" stroke-width="1.0"/>
<circle cx="93.3" cy="384.6" r="2.3" fill="none" stroke="#000" stroke-width="1.0"/>
<circle cx="102.7" cy="382.2" r="2.3" fill="none" stroke="#000" stroke-width="1.0"/>
<circle cx="112.1" cy="381.3" r="2.3" fill="none" stroke="#000" stroke-width="1.0"/>
<circle cx="121.5" cy="382.2" r="2.3" fill="none" stroke="#000" stroke-width="1.0"/>
<circle cx="130.9" cy="385.7" r="2.3" fill="none" stroke="#000" stroke-width="1.0"/>
<circle cx="140.3" cy="387.3" r="2.3" fill="none" stroke="#000" stroke-width="1.0"/>
<circle cx="149.7" cy="386.7" r="2.3" fill="none" stroke="#000" stroke-width="1.0"/>
<circle cx="159.1" cy="385.2" r="2.3" fill="none" stroke="#000" stroke-width="1.0"/>
<circle cx="168.5" cy="383.1" r="2.3" fill="none" stroke="#000" stroke-width="1.0"/>
<circle cx="177.9" cy="382.2" r="2.3" fill="none" stroke="#000" stroke-width="1.0"/>
<circle cx="187.3" cy="382.2" r="2.3" fill="none" stroke="#000" stroke-width="1.0"/>
<circle cx="196.7" cy="383" r="2.3" fill="none" stroke="#000" stroke-width="1.0"/>
<circle cx="206.1" cy="386.2" r="2.3" fill="none" stroke="#000" stroke-width="1.0"/>
<circle cx="215.5" cy="375.8" r="2.3" fill="none" stroke="#000" stroke-width="1.0"/>
<circle cx="224.9" cy="363.5" r="2.3" fill="none" stroke="#000" stroke-width="1.0"/>
<circle cx="234.3" cy="354.2" r="2.3" fill="none" stroke="#000" stroke-width="1.0"/>
<circle cx="243.7" cy="346.3" r="2.3" fill="none" stroke="#000" stroke-width="1.0"/>
<circle cx="253.1" cy="344.7" r="2.3" fill="none" stroke="#000" stroke-width="1.0"/>
<circle cx="262.5" cy="353.3" r="2.3" fill="none" stroke="#000" stroke-width="1.0"/>
<circle cx="271.9" cy="361.9" r="2.3" fill="none" stroke="#000" stroke-width="1.0"/>
<circle cx="281.3" cy="371.4" r="2.3" fill="none" stroke="#000" stroke-width="1.0"/>
<circle cx="290.7" cy="380.2" r="2.3" fill="none" stroke="#000" stroke-width="1.0"/>
<circle cx="55.7" cy="372.3" r="2.3" fill="#0000ff" stroke="none" stroke-width="0"/>
<circle cx="65.1" cy="372.7" r="2.3" fill="#0000ff" stroke="none" stroke-width="0"/>
<circle cx="74.5" cy="370.8" r="2.3" fill="#0000ff" stroke="none" stroke-width="0"/>
<circle cx="83.9" cy="368.4" r="2.3" fill="#0000ff" stroke="none" stroke-width="0"/>
<circle cx="93.3" cy="363.5" r="2.3" fill="#0000ff" stroke="none" stroke-width="0"/>
<circle cx="102.7" cy="339.1" r="2.3" fill="#0000ff" stroke="none" stroke-width="0"/>
<circle cx="112.1" cy="337.5" r="2.3" fill="#0000ff" stroke="none" stroke-width="0"/>
<circle cx="121.5" cy="340.8" r="2.3" fill="#0000ff" stroke="none" stroke-width="0"/>
<circle cx="130.9" cy="348.2" r="2.3" fill="#0000ff" stroke="none" stroke-width="0"/>
<circle cx="140.3" cy="360.2" r="2.3" fill="#0000ff" stroke="none" stroke-width="0"/>
<circle cx="149.7" cy="357" r="2.3" fill="#0000ff" stroke="none" stroke-width="0"/>
<circle cx="159.1" cy="352.9" r="2.3" fill="#0000ff" stroke="none" stroke-width="0"/>
<circle cx="168.5" cy="347.7" r="2.3" fill="#0000ff" stroke="none" stroke-width="0"/>
<circle cx="177.9" cy="344.7" r="2.3" fill="#0000ff" stroke="none" stroke-width="0"/>
<circle cx="187.3" cy="344" r="2.3" fill="#0000ff" stroke="none" stroke-width="0"/>
<circle cx="196.7" cy="339.5" r="2.3" fill="#0000ff" stroke="none" stroke-width="0"/>
<circle cx="206.1" cy="332.6" r="2.3" fill="#0000ff" stroke="none" stroke-width="0"/>
<circle cx="215.5" cy="321.3" r="2.3" fill="#0000ff" stroke="none" stroke-width="0"/>
<circle cx="224.9" cy="303.9" r="2.3" fill="#0000ff" stroke="none" stroke-width="0"/>
<circle cx="234.3" cy="295.3" r="2.3" fill="#0000ff" stroke="none" stroke-width="0"/>
<circle cx="243.7" cy="281.4" r="2.3" fill="#0000ff" stroke="none" stroke-width="0"/>
<circle cx="253.1" cy="278.3" r="2.3" fill="#0000ff" stroke="none" stroke-width="0"/>
<circle cx="262.5" cy="286.6" r="2.3" fill="#0000ff" stroke="none" stroke-width="0"/>
<circle cx="271.9" cy="297.8" r="2.3" fill="#0000ff" stroke="none" stroke-width="0"/>
<circle cx="281.3" cy="322.9" r="2.3" fill="#0000ff" stroke="none" stroke-width="0"/>
<circle cx="290.7" cy="341.1" r="2.3" fill="#0000ff" stroke="none" stroke-width="0"/>
<circle cx="55.7" cy="375.3" r="2.3" fill="#0000ff" stroke="none" stroke-width="0"/>
<circle cx="65.1" cy="376.5" r="2.3" fill="#0000ff" stroke="none" stroke-width="0"/>
<circle cx="74.5" cy="376.5" r="2.3" fill="#0000ff" stroke="none" stroke-width="0"/>
<circle cx="83.9" cy="371.6" r="2.3" fill="#0000ff" stroke="none" stroke-width="0"/>
<circle cx="93.3" cy="371.6" r="2.3" fill="#0000ff" stroke="none" stroke-width="0"/>
<circle cx="102.7" cy="353.7" r="2.3" fill="#0000ff" stroke="none" stroke-width="0"/>
<circle cx="112.1" cy="356.2" r="2.3" fill="#0000ff" stroke="none" stroke-width="0"/>
<circle cx="121.5" cy="354.4" r="2.3" fill="#0000ff" stroke="none" stroke-width="0"/>
<circle cx="130.9" cy="361.1" r="2.3" fill="#0000ff" stroke="none" stroke-width="0"/>
<circle cx="140.3" cy="365.1" r="2.3" fill="#0000ff" stroke="none" stroke-width="0"/>
<circle cx="149.7" cy="361.1" r="2.3" fill="#0000ff" stroke="none" stroke-width="0"/>
<circle cx="159.1" cy="365.1" r="2.3" fill="#0000ff" stroke="none" stroke-width="0"/>
<circle cx="168.5" cy="352.9" r="2.3" fill="#0000ff" stroke="none" stroke-width="0"/>
<circle cx="177.9" cy="349.9" r="2.3" fill="#0000ff" stroke="none" stroke-width="0"/>
<circle cx="187.3" cy="349.9" r="2.3" fill="#0000ff" stroke="none" stroke-width="0"/>
<circle cx="196.7" cy="353.3" r="2.3" fill="#0000ff" stroke="none" stroke-width="0"/>
<circle cx="206.1" cy="341.1" r="2.3" fill="#0000ff" stroke="none" stroke-width="0"/>
<circle cx="215.5" cy="335.9" r="2.3" fill="#0000ff" stroke="none" stroke-width="0"/>
<circle cx="224.9" cy="315.1" r="2.3" fill="#0000ff" stroke="none" stroke-width="0"/>
<circle cx="234.3" cy="306.7" r="2.3" fill="#0000ff" stroke="none" stroke-width="0"/>
<circle cx="243.7" cy="286.6" r="2.3" fill="#0000ff" stroke="none" stroke-width="0"/>
<circle cx="253.1" cy="284.8" r="2.3" fill="#0000ff" stroke="none" stroke-width="0"/>
<circle cx="262.5" cy="294.3" r="2.3" fill="#0000ff" stroke="none" stroke-width="0"/>
<circle cx="271.9" cy="309.1" r="2.3" fill="#0000ff" stroke="none" stroke-width="0"/>
<circle cx="281.3" cy="328.9" r="2.3" fill="#0000ff" stroke="none" stroke-width="0"/>
<circle cx="290.7" cy="346.3" r="2.3" fill="#0000ff" stroke="none" stroke-width="0"/>
<circle cx="55.7" cy="381.5" r="2.3" fill="#0000ff" stroke="none" stroke-width="0"/>
<circle cx="65.1" cy="381.5" r="2.3" fill="#0000ff" stroke="none" stroke-width="0"/>
<circle cx="74.5" cy="381.3" r="2.3" fill="#0000ff" stroke="none" stroke-width="0"/>
<circle cx="83.9" cy="375.3" r="2.3" fill="#0000ff" stroke="none" stroke-width="0"/>
<circle cx="93.3" cy="375.3" r="2.3" fill="#0000ff" stroke="none" stroke-width="0"/>
<circle cx="102.7" cy="358.6" r="2.3" fill="#0000ff" stroke="none" stroke-width="0"/>
<circle cx="112.1" cy="363.5" r="2.3" fill="#0000ff" stroke="none" stroke-width="0"/>
<circle cx="121.5" cy="369.3" r="2.3" fill="#0000ff" stroke="none" stroke-width="0"/>
<circle cx="130.9" cy="373.4" r="2.3" fill="#0000ff" stroke="none" stroke-width="0"/>
<circle cx="140.3" cy="376.5" r="2.3" fill="#0000ff" stroke="none" stroke-width="0"/>
<circle cx="149.7" cy="373.4" r="2.3" fill="#0000ff" stroke="none" stroke-width="0"/>
<circle cx="159.1" cy="369.3" r="2.3" fill="#0000ff" stroke="none" stroke-width="0"/>
<circle cx="168.5" cy="362.2" r="2.3" fill="#0000ff" stroke="none" stroke-width="0"/>
<circle cx="177.9" cy="360.2" r="2.3" fill="#0000ff" stroke="none" stroke-width="0"/>
<circle cx="187.3" cy="354.4" r="2.3" fill="#0000ff" stroke="none" stroke-width="0"/>
<circle cx="196.7" cy="360.2" r="2.3" fill="#0000ff" stroke="none" stroke-width="0"/>
<circle cx="206.1" cy="349.9" r="2.3" fill="#0000ff" stroke="none" stroke-width="0"/>
<circle cx="215.5" cy="344.7" r="2.3" fill="#0000ff" stroke="none" stroke-width="0"/>
<circle cx="224.9" cy="319.7" r="2.3" fill="#0000ff" stroke="none" stroke-width="0"/>
<circle cx="234.3" cy="309.9" r="2.3" fill="#0000ff" stroke="none" stroke-width="0"/>
<circle cx="243.7" cy="291.7" r="2.3" fill="#0000ff" stroke="none" stroke-width="0"/>
<circle cx="253.1" cy="290" r="2.3" fill="#0000ff" stroke="none" stroke-width="0"/>
<circle cx="262.5" cy="301.2" r="2.3" fill="#0000ff" stroke="none" stroke-width="0"/>
<circle cx="271.9" cy="312.5" r="2.3" fill="#0000ff" stroke="none" stroke-width="0"/>
<circle cx="281.3" cy="335.9" r="2.3" fill="#0000ff" stroke="none" stroke-width="0"/>
<circle cx="290.7" cy="352.4" r="2.3" fill="#0000ff" stroke="none" stroke-width="0"/>
<circle cx="55.7" cy="385.1" r="2.3" fill="#0000ff" stroke="none" stroke-width="0"/>
<circle cx="65.1" cy="384.6" r="2.3" fill="#0000ff" stroke="none" stroke-width="0"/>
<circle cx="74.5" cy="383.8" r="2.3" fill="#0000ff" stroke="none" stroke-width="0"/>
<circle cx="83.9" cy="378.9" r="2.3" fill="#0000ff" stroke="none" stroke-width="0"/>
<circle cx="93.3" cy="378.9" r="2.3" fill="#0000ff" stroke="none" stroke-width="0"/>
<circle cx="102.7" cy="363.5" r="2.3" fill="#0000ff" stroke="none" stroke-width="0"/>
<circle cx="112.1" cy="369.3" r="2.3" fill="#0000ff" stroke="none" stroke-width="0"/>
<circle cx="121.5" cy="375.5" r="2.3" fill="#0000ff" stroke="none" stroke-width="0"/>
<circle cx="130.9" cy="378.6" r="2.3" fill="#0000ff" stroke="none" stroke-width="0"/>
<circle cx="140.3" cy="380.5" r="2.3" fill="#0000ff" stroke="none" stroke-width="0"/>
<circle cx="149.7" cy="378.6" r="2.3" fill="#0000ff" stroke="none" stroke-width="0"/>
<circle cx="159.1" cy="376.5" r="2.3" fill="#0000ff" stroke="none" stroke-width="0"/>
<circle cx="168.5" cy="369.3" r="2.3" fill="#0000ff" stroke="none" stroke-width="0"/>
<circle cx="177.9" cy="368.8" r="2.3" fill="#0000ff" stroke="none" stroke-width="0"/>
<circle cx="187.3" cy="357" r="2.3" fill="#0000ff" stroke="none" stroke-width="0"/>
<circle cx="196.7" cy="375.8" r="2.3" fill="#0000ff" stroke="none" stroke-width="0"/>
<circle cx="206.1" cy="359.4" r="2.3" fill="#0000ff" stroke="none" stroke-width="0"/>
<circle cx="215.5" cy="351.5" r="2.3" fill="#0000ff" stroke="none" stroke-width="0"/>
<circle cx="224.9" cy="329.4" r="2.3" fill="#0000ff" stroke="none" stroke-width="0"/>
<circle cx="234.3" cy="314.8" r="2.3" fill="#0000ff" stroke="none" stroke-width="0"/>
<circle cx="243.7" cy="295.3" r="2.3" fill="#0000ff" stroke="none" stroke-width="0"/>
<circle cx="253.1" cy="292.1" r="2.3" fill="#0000ff" stroke="none" stroke-width="0"/>
<circle cx="262.5" cy="303.9" r="2.3" fill="#0000ff" stroke="none" stroke-width="0"/>
<circle cx="271.9" cy="318.5" r="2.3" fill="#0000ff" stroke="none" stroke-width="0"/>
<circle cx="281.3" cy="339.5" r="2.3" fill="#0000ff" stroke="none" stroke-width="0"/>
<circle cx="290.7" cy="358.5" r="2.3" fill="#0000ff" stroke="none" stroke-width="0"/>
<circle cx="55.7" cy="383" r="2.3" fill="#0000ff" stroke="none" stroke-width="0"/>
<circle cx="65.1" cy="383" r="2.3" fill="#0000ff" stroke="none" stroke-width="0"/>
<circle cx="74.5" cy="382.2" r="2.3" fill="#0000ff" stroke="none" stroke-width="0"/>
<circle cx="83.9" cy="378.1" r="2.3" fill="#0000ff" stroke="none" stroke-width="0"/>
<circle cx="93.3" cy="376.5" r="2.3" fill="#0000ff" stroke="none" stroke-width="0"/>
<circle cx="102.7" cy="373.2" r="2.3" fill="#0000ff" stroke="none" stroke-width="0"/>
<circle cx="112.1" cy="375.5" r="2.3" fill="#0000ff" stroke="none" stroke-width="0"/>
<circle cx="121.5" cy="377.4" r="2.3" fill="#0000ff" stroke="none" stroke-width="0"/>
<circle cx="130.9" cy="380.5" r="2.3" fill="#0000ff" stroke="none" stroke-width="0"/>
<circle cx="140.3" cy="379.7" r="2.3" fill="#0000ff" stroke="none" stroke-width="0"/>
<circle cx="149.7" cy="376.5" r="2.3" fill="#0000ff" stroke="none" stroke-width="0"/>
<circle cx="159.1" cy="373.2" r="2.3" fill="#0000ff" stroke="none" stroke-width="0"/>
<circle cx="168.5" cy="371.6" r="2.3" fill="#0000ff" stroke="none" stroke-width="0"/>
<circle cx="177.9" cy="363.5" r="2.3" fill="#0000ff" stroke="none" stroke-width="0"/>
<circle cx="187.3" cy="360.2" r="2.3" fill="#0000ff" stroke="none" stroke-width="0"/>
<circle cx="196.7" cy="368.4" r="2.3" fill="#0000ff" stroke="none" stroke-width="0"/>
<circle cx="206.1" cy="377.6" r="2.3" fill="#0000ff" stroke="none" stroke-width="0"/>
<circle cx="215.5" cy="344" r="2.3" fill="#0000ff" stroke="none" stroke-width="0"/>
<circle cx="224.9" cy="324.5" r="2.3" fill="#0000ff" stroke="none" stroke-width="0"/>
<circle cx="234.3" cy="311.6" r="2.3" fill="#0000ff" stroke="none" stroke-width="0"/>
<circle cx="243.7" cy="288.8" r="2.3" fill="#0000ff" stroke="none" stroke-width="0"/>
<circle cx="253.1" cy="282.3" r="2.3" fill="#0000ff" stroke="none" stroke-width="0"/>
<circle cx="262.5" cy="298.6" r="2.3" fill="#0000ff" stroke="none" stroke-width="0"/>
<circle cx="271.9" cy="314.8" r="2.3" fill="#0000ff" stroke="none" stroke-width="0"/>
<circle cx="281.3" cy="334.3" r="2.3" fill="#0000ff" stroke="none" stroke-width="0"/>
<circle cx="290.7" cy="352.1" r="2.3" fill="#0000ff" stroke="none" stroke-width="0"/>
<path d="M55.7,357.3L58.6,362.3L52.8,362.3Z" fill="none" stroke="#ff0000" stroke-width="1.3" stroke-linejoin="miter"/>
<path d="M65.1,357.3L68,362.3L62.2,362.3Z" fill="none" stroke="#ff0000" stroke-width="1.3" stroke-linejoin="miter"/>
<path d="M74.5,345.8L77.4,350.8L71.6,350.8Z" fill="none" stroke="#ff0000" stroke-width="1.3" stroke-linejoin="miter"/>
<path d="M83.9,339.3L86.8,344.3L81,344.3Z" fill="none" stroke="#ff0000" stroke-width="1.3" stroke-linejoin="miter"/>
<path d="M93.3,340.9L96.2,345.9L90.4,345.9Z" fill="none" stroke="#ff0000" stroke-width="1.3" stroke-linejoin="miter"/>
<path d="M102.7,339.8L105.6,344.8L99.8,344.8Z" fill="none" stroke="#ff0000" stroke-width="1.3" stroke-linejoin="miter"/>
<path d="M112.1,342.5L115,347.6L109.2,347.6Z" fill="none" stroke="#ff0000" stroke-width="1.3" stroke-linejoin="miter"/>
<path d="M121.5,344.2L124.4,349.2L118.6,349.2Z" fill="none" stroke="#ff0000" stroke-width="1.3" stroke-linejoin="miter"/>
<path d="M130.9,345.8L133.8,350.8L128,350.8Z" fill="none" stroke="#ff0000" stroke-width="1.3" stroke-linejoin="miter"/>
<path d="M140.3,339.3L143.2,344.3L137.4,344.3Z" fill="none" stroke="#ff0000" stroke-width="1.3" stroke-linejoin="miter"/>
<path d="M149.7,335.4L152.6,340.4L146.8,340.4Z" fill="none" stroke="#ff0000" stroke-width="1.3" stroke-linejoin="miter"/>
<path d="M159.1,336L162,341.1L156.2,341.1Z" fill="none" stroke="#ff0000" stroke-width="1.3" stroke-linejoin="miter"/>
<path d="M168.5,325.7L171.4,330.7L165.6,330.7Z" fill="none" stroke="#ff0000" stroke-width="1.3" stroke-linejoin="miter"/>
<path d="M177.9,326.3L180.8,331.3L175,331.3Z" fill="none" stroke="#ff0000" stroke-width="1.3" stroke-linejoin="miter"/>
<path d="M187.3,320.6L190.2,325.6L184.4,325.6Z" fill="none" stroke="#ff0000" stroke-width="1.3" stroke-linejoin="miter"/>
<path d="M196.7,324.7L199.6,329.7L193.8,329.7Z" fill="none" stroke="#ff0000" stroke-width="1.3" stroke-linejoin="miter"/>
<path d="M206.1,316.6L209,321.6L203.2,321.6Z" fill="none" stroke="#ff0000" stroke-width="1.3" stroke-linejoin="miter"/>
<path d="M215.5,294.7L218.4,299.7L212.6,299.7Z" fill="none" stroke="#ff0000" stroke-width="1.3" stroke-linejoin="miter"/>
<path d="M224.9,270.3L227.8,275.3L222,275.3Z" fill="none" stroke="#ff0000" stroke-width="1.3" stroke-linejoin="miter"/>
<path d="M234.3,255.7L237.2,260.7L231.4,260.7Z" fill="none" stroke="#ff0000" stroke-width="1.3" stroke-linejoin="miter"/>
<path d="M243.7,234.9L246.6,240L240.8,240Z" fill="none" stroke="#ff0000" stroke-width="1.3" stroke-linejoin="miter"/>
<path d="M253.1,230.9L256,235.9L250.2,235.9Z" fill="none" stroke="#ff0000" stroke-width="1.3" stroke-linejoin="miter"/>
<path d="M262.5,252.1L265.4,257.2L259.6,257.2Z" fill="none" stroke="#ff0000" stroke-width="1.3" stroke-linejoin="miter"/>
<path d="M271.9,276L274.8,281L269,281Z" fill="none" stroke="#ff0000" stroke-width="1.3" stroke-linejoin="miter"/>
<path d="M281.3,302.4L284.2,307.5L278.4,307.5Z" fill="none" stroke="#ff0000" stroke-width="1.3" stroke-linejoin="miter"/>
<path d="M290.7,330.2L293.6,335.2L287.8,335.2Z" fill="none" stroke="#ff0000" stroke-width="1.3" stroke-linejoin="miter"/>
<path d="M55.7,365.6L58.6,370.6L52.8,370.6Z" fill="none" stroke="#ff0000" stroke-width="1.3" stroke-linejoin="miter"/>
<path d="M65.1,362L68,367L62.2,367Z" fill="none" stroke="#ff0000" stroke-width="1.3" stroke-linejoin="miter"/>
<path d="M74.5,359.4L77.4,364.4L71.6,364.4Z" fill="none" stroke="#ff0000" stroke-width="1.3" stroke-linejoin="miter"/>
<path d="M83.9,353.9L86.8,358.9L81,358.9Z" fill="none" stroke="#ff0000" stroke-width="1.3" stroke-linejoin="miter"/>
<path d="M93.3,345.8L96.2,350.8L90.4,350.8Z" fill="none" stroke="#ff0000" stroke-width="1.3" stroke-linejoin="miter"/>
<path d="M102.7,347.4L105.6,352.4L99.8,352.4Z" fill="none" stroke="#ff0000" stroke-width="1.3" stroke-linejoin="miter"/>
<path d="M112.1,347.4L115,352.4L109.2,352.4Z" fill="none" stroke="#ff0000" stroke-width="1.3" stroke-linejoin="miter"/>
<path d="M121.5,347.4L124.4,352.4L118.6,352.4Z" fill="none" stroke="#ff0000" stroke-width="1.3" stroke-linejoin="miter"/>
<path d="M130.9,349L133.8,354L128,354Z" fill="none" stroke="#ff0000" stroke-width="1.3" stroke-linejoin="miter"/>
<path d="M140.3,344.6L143.2,349.7L137.4,349.7Z" fill="none" stroke="#ff0000" stroke-width="1.3" stroke-linejoin="miter"/>
<path d="M149.7,337.7L152.6,342.7L146.8,342.7Z" fill="none" stroke="#ff0000" stroke-width="1.3" stroke-linejoin="miter"/>
<path d="M159.1,340.9L162,345.9L156.2,345.9Z" fill="none" stroke="#ff0000" stroke-width="1.3" stroke-linejoin="miter"/>
<path d="M168.5,331.2L171.4,336.2L165.6,336.2Z" fill="none" stroke="#ff0000" stroke-width="1.3" stroke-linejoin="miter"/>
<path d="M177.9,331.2L180.8,336.2L175,336.2Z" fill="none" stroke="#ff0000" stroke-width="1.3" stroke-linejoin="miter"/>
<path d="M187.3,332.8L190.2,337.8L184.4,337.8Z" fill="none" stroke="#ff0000" stroke-width="1.3" stroke-linejoin="miter"/>
<path d="M196.7,332L199.6,337L193.8,337Z" fill="none" stroke="#ff0000" stroke-width="1.3" stroke-linejoin="miter"/>
<path d="M206.1,322.4L209,327.4L203.2,327.4Z" fill="none" stroke="#ff0000" stroke-width="1.3" stroke-linejoin="miter"/>
<path d="M215.5,302.4L218.4,307.5L212.6,307.5Z" fill="none" stroke="#ff0000" stroke-width="1.3" stroke-linejoin="miter"/>
<path d="M224.9,289.5L227.8,294.5L222,294.5Z" fill="none" stroke="#ff0000" stroke-width="1.3" stroke-linejoin="miter"/>
<path d="M234.3,270.3L237.2,275.3L231.4,275.3Z" fill="none" stroke="#ff0000" stroke-width="1.3" stroke-linejoin="miter"/>
<path d="M243.7,241.7L246.6,246.8L240.8,246.8Z" fill="none" stroke="#ff0000" stroke-width="1.3" stroke-linejoin="miter"/>
<path d="M253.1,240.3L256,245.3L250.2,245.3Z" fill="none" stroke="#ff0000" stroke-width="1.3" stroke-linejoin="miter"/>
<path d="M262.5,254.9L265.4,259.9L259.6,259.9Z" fill="none" stroke="#ff0000" stroke-width="1.3" stroke-linejoin="miter"/>
<path d="M271.9,279.2L274.8,284.3L269,284.3Z" fill="none" stroke="#ff0000" stroke-width="1.3" stroke-linejoin="miter"/>
<path d="M281.3,309.4L284.2,314.4L278.4,314.4Z" fill="none" stroke="#ff0000" stroke-width="1.3" stroke-linejoin="miter"/>
<path d="M290.7,336L293.6,341.1L287.8,341.1Z" fill="none" stroke="#ff0000" stroke-width="1.3" stroke-linejoin="miter"/>
<path d="M55.7,371.7L58.6,376.8L52.8,376.8Z" fill="none" stroke="#ff0000" stroke-width="1.3" stroke-linejoin="miter"/>
<path d="M65.1,368.5L68,373.5L62.2,373.5Z" fill="none" stroke="#ff0000" stroke-width="1.3" stroke-linejoin="miter"/>
<path d="M74.5,362L77.4,367L71.6,367Z" fill="none" stroke="#ff0000" stroke-width="1.3" stroke-linejoin="miter"/>
<path d="M83.9,357.1L86.8,362.2L81,362.2Z" fill="none" stroke="#ff0000" stroke-width="1.3" stroke-linejoin="miter"/>
<path d="M93.3,349L96.2,354L90.4,354Z" fill="none" stroke="#ff0000" stroke-width="1.3" stroke-linejoin="miter"/>
<path d="M102.7,349L105.6,354L99.8,354Z" fill="none" stroke="#ff0000" stroke-width="1.3" stroke-linejoin="miter"/>
<path d="M112.1,349.7L115,354.7L109.2,354.7Z" fill="none" stroke="#ff0000" stroke-width="1.3" stroke-linejoin="miter"/>
<path d="M121.5,349.8L124.4,354.9L118.6,354.9Z" fill="none" stroke="#ff0000" stroke-width="1.3" stroke-linejoin="miter"/>
<path d="M130.9,349.8L133.8,354.9L128,354.9Z" fill="none" stroke="#ff0000" stroke-width="1.3" stroke-linejoin="miter"/>
<path d="M140.3,354.9L143.2,359.9L137.4,359.9Z" fill="none" stroke="#ff0000" stroke-width="1.3" stroke-linejoin="miter"/>
<path d="M149.7,350.3L152.6,355.3L146.8,355.3Z" fill="none" stroke="#ff0000" stroke-width="1.3" stroke-linejoin="miter"/>
<path d="M159.1,347.4L162,352.4L156.2,352.4Z" fill="none" stroke="#ff0000" stroke-width="1.3" stroke-linejoin="miter"/>
<path d="M168.5,334.9L171.4,339.9L165.6,339.9Z" fill="none" stroke="#ff0000" stroke-width="1.3" stroke-linejoin="miter"/>
<path d="M177.9,336L180.8,341.1L175,341.1Z" fill="none" stroke="#ff0000" stroke-width="1.3" stroke-linejoin="miter"/>
<path d="M187.3,338.3L190.2,343.3L184.4,343.3Z" fill="none" stroke="#ff0000" stroke-width="1.3" stroke-linejoin="miter"/>
<path d="M196.7,339.3L199.6,344.3L193.8,344.3Z" fill="none" stroke="#ff0000" stroke-width="1.3" stroke-linejoin="miter"/>
<path d="M206.1,324.7L209,329.7L203.2,329.7Z" fill="none" stroke="#ff0000" stroke-width="1.3" stroke-linejoin="miter"/>
<path d="M215.5,316.6L218.4,321.6L212.6,321.6Z" fill="none" stroke="#ff0000" stroke-width="1.3" stroke-linejoin="miter"/>
<path d="M224.9,294.7L227.8,299.7L222,299.7Z" fill="none" stroke="#ff0000" stroke-width="1.3" stroke-linejoin="miter"/>
<path d="M234.3,273.9L237.2,278.9L231.4,278.9Z" fill="none" stroke="#ff0000" stroke-width="1.3" stroke-linejoin="miter"/>
<path d="M243.7,249.5L246.6,254.6L240.8,254.6Z" fill="none" stroke="#ff0000" stroke-width="1.3" stroke-linejoin="miter"/>
<path d="M253.1,242.2L256,247.3L250.2,247.3Z" fill="none" stroke="#ff0000" stroke-width="1.3" stroke-linejoin="miter"/>
<path d="M262.5,257.3L265.4,262.3L259.6,262.3Z" fill="none" stroke="#ff0000" stroke-width="1.3" stroke-linejoin="miter"/>
<path d="M271.9,289L274.8,294L269,294Z" fill="none" stroke="#ff0000" stroke-width="1.3" stroke-linejoin="miter"/>
<path d="M281.3,316.6L284.2,321.6L278.4,321.6Z" fill="none" stroke="#ff0000" stroke-width="1.3" stroke-linejoin="miter"/>
<path d="M290.7,340.9L293.6,345.9L287.8,345.9Z" fill="none" stroke="#ff0000" stroke-width="1.3" stroke-linejoin="miter"/>
<path d="M55.7,374.2L58.6,379.2L52.8,379.2Z" fill="none" stroke="#ff0000" stroke-width="1.3" stroke-linejoin="miter"/>
<path d="M65.1,373.4L68,378.4L62.2,378.4Z" fill="none" stroke="#ff0000" stroke-width="1.3" stroke-linejoin="miter"/>
<path d="M74.5,366.9L77.4,371.9L71.6,371.9Z" fill="none" stroke="#ff0000" stroke-width="1.3" stroke-linejoin="miter"/>
<path d="M83.9,358.8L86.8,363.8L81,363.8Z" fill="none" stroke="#ff0000" stroke-width="1.3" stroke-linejoin="miter"/>
<path d="M93.3,352.8L96.2,357.8L90.4,357.8Z" fill="none" stroke="#ff0000" stroke-width="1.3" stroke-linejoin="miter"/>
<path d="M102.7,350.6L105.6,355.7L99.8,355.7Z" fill="none" stroke="#ff0000" stroke-width="1.3" stroke-linejoin="miter"/>
<path d="M112.1,351.8L115,356.8L109.2,356.8Z" fill="none" stroke="#ff0000" stroke-width="1.3" stroke-linejoin="miter"/>
<path d="M121.5,352.3L124.4,357.3L118.6,357.3Z" fill="none" stroke="#ff0000" stroke-width="1.3" stroke-linejoin="miter"/>
<path d="M130.9,362L133.8,367L128,367Z" fill="none" stroke="#ff0000" stroke-width="1.3" stroke-linejoin="miter"/>
<path d="M140.3,358L143.2,363L137.4,363Z" fill="none" stroke="#ff0000" stroke-width="1.3" stroke-linejoin="miter"/>
<path d="M149.7,361L152.6,366.1L146.8,366.1Z" fill="none" stroke="#ff0000" stroke-width="1.3" stroke-linejoin="miter"/>
<path d="M159.1,357.1L162,362.2L156.2,362.2Z" fill="none" stroke="#ff0000" stroke-width="1.3" stroke-linejoin="miter"/>
<path d="M168.5,344.2L171.4,349.2L165.6,349.2Z" fill="none" stroke="#ff0000" stroke-width="1.3" stroke-linejoin="miter"/>
<path d="M177.9,339.3L180.8,344.3L175,344.3Z" fill="none" stroke="#ff0000" stroke-width="1.3" stroke-linejoin="miter"/>
<path d="M187.3,340.9L190.2,345.9L184.4,345.9Z" fill="none" stroke="#ff0000" stroke-width="1.3" stroke-linejoin="miter"/>
<path d="M196.7,363.1L199.6,368.2L193.8,368.2Z" fill="none" stroke="#ff0000" stroke-width="1.3" stroke-linejoin="miter"/>
<path d="M206.1,366.7L209,371.7L203.2,371.7Z" fill="none" stroke="#ff0000" stroke-width="1.3" stroke-linejoin="miter"/>
<path d="M215.5,331.2L218.4,336.2L212.6,336.2Z" fill="none" stroke="#ff0000" stroke-width="1.3" stroke-linejoin="miter"/>
<path d="M224.9,296.3L227.8,301.3L222,301.3Z" fill="none" stroke="#ff0000" stroke-width="1.3" stroke-linejoin="miter"/>
<path d="M234.3,279.2L237.2,284.3L231.4,284.3Z" fill="none" stroke="#ff0000" stroke-width="1.3" stroke-linejoin="miter"/>
<path d="M243.7,253.9L246.6,258.9L240.8,258.9Z" fill="none" stroke="#ff0000" stroke-width="1.3" stroke-linejoin="miter"/>
<path d="M253.1,243.5L256,248.6L250.2,248.6Z" fill="none" stroke="#ff0000" stroke-width="1.3" stroke-linejoin="miter"/>
<path d="M262.5,267.9L265.4,272.9L259.6,272.9Z" fill="none" stroke="#ff0000" stroke-width="1.3" stroke-linejoin="miter"/>
<path d="M271.9,291.2L274.8,296.3L269,296.3Z" fill="none" stroke="#ff0000" stroke-width="1.3" stroke-linejoin="miter"/>
<path d="M281.3,322.4L284.2,327.4L278.4,327.4Z" fill="none" stroke="#ff0000" stroke-width="1.3" stroke-linejoin="miter"/>
<path d="M290.7,344.2L293.6,349.2L287.8,349.2Z" fill="none" stroke="#ff0000" stroke-width="1.3" stroke-linejoin="miter"/>
<path d="M55.7,376.9L58.6,382L52.8,382Z" fill="none" stroke="#ff0000" stroke-width="1.3" stroke-linejoin="miter"/>
<path d="M65.1,375L68,380L62.2,380Z" fill="none" stroke="#ff0000" stroke-width="1.3" stroke-linejoin="miter"/>
<path d="M74.5,370.8L77.4,375.8L71.6,375.8Z" fill="none" stroke="#ff0000" stroke-width="1.3" stroke-linejoin="miter"/>
<path d="M83.9,360.4L86.8,365.4L81,365.4Z" fill="none" stroke="#ff0000" stroke-width="1.3" stroke-linejoin="miter"/>
<path d="M93.3,355.5L96.2,360.5L90.4,360.5Z" fill="none" stroke="#ff0000" stroke-width="1.3" stroke-linejoin="miter"/>
<path d="M102.7,352.3L105.6,357.3L99.8,357.3Z" fill="none" stroke="#ff0000" stroke-width="1.3" stroke-linejoin="miter"/>
<path d="M112.1,352.3L115,357.3L109.2,357.3Z" fill="none" stroke="#ff0000" stroke-width="1.3" stroke-linejoin="miter"/>
<path d="M121.5,353.9L124.4,358.9L118.6,358.9Z" fill="none" stroke="#ff0000" stroke-width="1.3" stroke-linejoin="miter"/>
<path d="M130.9,357.1L133.8,362.2L128,362.2Z" fill="none" stroke="#ff0000" stroke-width="1.3" stroke-linejoin="miter"/>
<path d="M140.3,357.1L143.2,362.2L137.4,362.2Z" fill="none" stroke="#ff0000" stroke-width="1.3" stroke-linejoin="miter"/>
<path d="M149.7,357.1L152.6,362.2L146.8,362.2Z" fill="none" stroke="#ff0000" stroke-width="1.3" stroke-linejoin="miter"/>
<path d="M159.1,358.8L162,363.8L156.2,363.8Z" fill="none" stroke="#ff0000" stroke-width="1.3" stroke-linejoin="miter"/>
<path d="M168.5,353.9L171.4,358.9L165.6,358.9Z" fill="none" stroke="#ff0000" stroke-width="1.3" stroke-linejoin="miter"/>
<path d="M177.9,340.9L180.8,345.9L175,345.9Z" fill="none" stroke="#ff0000" stroke-width="1.3" stroke-linejoin="miter"/>
<path d="M187.3,350.6L190.2,355.7L184.4,355.7Z" fill="none" stroke="#ff0000" stroke-width="1.3" stroke-linejoin="miter"/>
<path d="M196.7,357.1L199.6,362.2L193.8,362.2Z" fill="none" stroke="#ff0000" stroke-width="1.3" stroke-linejoin="miter"/>
<path d="M206.1,357.1L209,362.2L203.2,362.2Z" fill="none" stroke="#ff0000" stroke-width="1.3" stroke-linejoin="miter"/>
<path d="M215.5,324.7L218.4,329.7L212.6,329.7Z" fill="none" stroke="#ff0000" stroke-width="1.3" stroke-linejoin="miter"/>
<path d="M224.9,298.7L227.8,303.7L222,303.7Z" fill="none" stroke="#ff0000" stroke-width="1.3" stroke-linejoin="miter"/>
<path d="M234.3,282.5L237.2,287.5L231.4,287.5Z" fill="none" stroke="#ff0000" stroke-width="1.3" stroke-linejoin="miter"/>
<path d="M243.7,259.8L246.6,264.8L240.8,264.8Z" fill="none" stroke="#ff0000" stroke-width="1.3" stroke-linejoin="miter"/>
<path d="M253.1,245.2L256,250.2L250.2,250.2Z" fill="none" stroke="#ff0000" stroke-width="1.3" stroke-linejoin="miter"/>
<path d="M262.5,267.9L265.4,272.9L259.6,272.9Z" fill="none" stroke="#ff0000" stroke-width="1.3" stroke-linejoin="miter"/>
<path d="M271.9,292.2L274.8,297.2L269,297.2Z" fill="none" stroke="#ff0000" stroke-width="1.3" stroke-linejoin="miter"/>
<path d="M281.3,324.7L284.2,329.7L278.4,329.7Z" fill="none" stroke="#ff0000" stroke-width="1.3" stroke-linejoin="miter"/>
<path d="M290.7,346.8L293.6,351.8L287.8,351.8Z" fill="none" stroke="#ff0000" stroke-width="1.3" stroke-linejoin="miter"/>
<line x1="253.1" y1="392.7" x2="253.1" y2="243.4" stroke="#ee0018" stroke-width="2.0" stroke-linecap="butt" stroke-dasharray="6.6,7.1"/>
<line x1="253.1" y1="243.4" x2="297.5" y2="243.4" stroke="#ff0000" stroke-width="2.0" stroke-linecap="butt" stroke-dasharray="7,6.5"/>
<line x1="253.1" y1="285.6" x2="297.5" y2="285.6" stroke="#0000ff" stroke-width="2.0" stroke-linecap="butt" stroke-dasharray="7,6.5"/>
<line x1="253.1" y1="342.4" x2="297.5" y2="342.4" stroke="#000" stroke-width="2.0" stroke-linecap="butt" stroke-dasharray="7,6.5"/>
<line x1="55.7" y1="392.7" x2="55.7" y2="389.4" stroke="#262626" stroke-width="1.0" stroke-linecap="butt"/>
<line x1="55.7" y1="230.4" x2="55.7" y2="233.7" stroke="#262626" stroke-width="1.0" stroke-linecap="butt"/>
<text x="55.1" y="408.6" font-family="Liberation Serif" font-size="12.4" font-weight="bold" fill="#000" text-anchor="middle">-45</text>
<line x1="96" y1="392.7" x2="96" y2="389.4" stroke="#262626" stroke-width="1.0" stroke-linecap="butt"/>
<line x1="96" y1="230.4" x2="96" y2="233.7" stroke="#262626" stroke-width="1.0" stroke-linecap="butt"/>
<text x="95.4" y="408.6" font-family="Liberation Serif" font-size="12.4" font-weight="bold" fill="#000" text-anchor="middle">-30</text>
<line x1="136.3" y1="392.7" x2="136.3" y2="389.4" stroke="#262626" stroke-width="1.0" stroke-linecap="butt"/>
<line x1="136.3" y1="230.4" x2="136.3" y2="233.7" stroke="#262626" stroke-width="1.0" stroke-linecap="butt"/>
<text x="135.7" y="408.6" font-family="Liberation Serif" font-size="12.4" font-weight="bold" fill="#000" text-anchor="middle">-15</text>
<line x1="176.6" y1="392.7" x2="176.6" y2="389.4" stroke="#262626" stroke-width="1.0" stroke-linecap="butt"/>
<line x1="176.6" y1="230.4" x2="176.6" y2="233.7" stroke="#262626" stroke-width="1.0" stroke-linecap="butt"/>
<text x="177.2" y="408.6" font-family="Liberation Serif" font-size="12.4" font-weight="bold" fill="#000" text-anchor="middle">0</text>
<line x1="216.9" y1="392.7" x2="216.9" y2="389.4" stroke="#262626" stroke-width="1.0" stroke-linecap="butt"/>
<line x1="216.9" y1="230.4" x2="216.9" y2="233.7" stroke="#262626" stroke-width="1.0" stroke-linecap="butt"/>
<text x="217.5" y="408.6" font-family="Liberation Serif" font-size="12.4" font-weight="bold" fill="#000" text-anchor="middle">15</text>
<line x1="257.2" y1="392.7" x2="257.2" y2="389.4" stroke="#262626" stroke-width="1.0" stroke-linecap="butt"/>
<line x1="257.2" y1="230.4" x2="257.2" y2="233.7" stroke="#262626" stroke-width="1.0" stroke-linecap="butt"/>
<text x="257.8" y="408.6" font-family="Liberation Serif" font-size="12.4" font-weight="bold" fill="#000" text-anchor="middle">30</text>
<line x1="297.5" y1="392.7" x2="297.5" y2="389.4" stroke="#262626" stroke-width="1.0" stroke-linecap="butt"/>
<line x1="297.5" y1="230.4" x2="297.5" y2="233.7" stroke="#262626" stroke-width="1.0" stroke-linecap="butt"/>
<text x="298.1" y="408.6" font-family="Liberation Serif" font-size="12.4" font-weight="bold" fill="#000" text-anchor="middle">45</text>
<line x1="55.7" y1="392.7" x2="59" y2="392.7" stroke="#262626" stroke-width="1.0" stroke-linecap="butt"/>
<line x1="297.5" y1="392.7" x2="294.2" y2="392.7" stroke="#262626" stroke-width="1.0" stroke-linecap="butt"/>
<text x="50.9" y="398.3" font-family="Liberation Serif" font-size="12.6" font-weight="bold" fill="#000" text-anchor="end">0</text>
<line x1="55.7" y1="360.2" x2="59" y2="360.2" stroke="#262626" stroke-width="1.0" stroke-linecap="butt"/>
<line x1="297.5" y1="360.2" x2="294.2" y2="360.2" stroke="#262626" stroke-width="1.0" stroke-linecap="butt"/>
<text x="50.9" y="365.8" font-family="Liberation Serif" font-size="12.6" font-weight="bold" fill="#000" text-anchor="end">0.2</text>
<line x1="55.7" y1="327.8" x2="59" y2="327.8" stroke="#262626" stroke-width="1.0" stroke-linecap="butt"/>
<line x1="297.5" y1="327.8" x2="294.2" y2="327.8" stroke="#262626" stroke-width="1.0" stroke-linecap="butt"/>
<text x="50.9" y="333.4" font-family="Liberation Serif" font-size="12.6" font-weight="bold" fill="#000" text-anchor="end">0.4</text>
<line x1="55.7" y1="295.3" x2="59" y2="295.3" stroke="#262626" stroke-width="1.0" stroke-linecap="butt"/>
<line x1="297.5" y1="295.3" x2="294.2" y2="295.3" stroke="#262626" stroke-width="1.0" stroke-linecap="butt"/>
<text x="50.9" y="300.9" font-family="Liberation Serif" font-size="12.6" font-weight="bold" fill="#000" text-anchor="end">0.6</text>
<line x1="55.7" y1="262.9" x2="59" y2="262.9" stroke="#262626" stroke-width="1.0" stroke-linecap="butt"/>
<line x1="297.5" y1="262.9" x2="294.2" y2="262.9" stroke="#262626" stroke-width="1.0" stroke-linecap="butt"/>
<text x="50.9" y="268.5" font-family="Liberation Serif" font-size="12.6" font-weight="bold" fill="#000" text-anchor="end">0.8</text>
<line x1="55.7" y1="230.4" x2="59" y2="230.4" stroke="#262626" stroke-width="1.0" stroke-linecap="butt"/>
<line x1="297.5" y1="230.4" x2="294.2" y2="230.4" stroke="#262626" stroke-width="1.0" stroke-linecap="butt"/>
<text x="50.9" y="236" font-family="Liberation Serif" font-size="12.6" font-weight="bold" fill="#000" text-anchor="end">1</text>
<text x="176.7" y="424.1" font-family="Liberation Serif" font-size="14" font-weight="bold" fill="#000" text-anchor="middle" textLength="25.6" lengthAdjust="spacingAndGlyphs"><tspan font-style="italic">θ</tspan> (°)</text>
<text x="29.2" y="311.9" font-family="Liberation Serif" font-size="14.6" font-weight="bold" fill="#000" text-anchor="middle" transform="rotate(-90 29.2 311.9)" textLength="101.3" lengthAdjust="spacingAndGlyphs">Radiation Pattern</text>
<text x="305.4" y="246.8" font-family="Liberation Serif" font-size="16.8" font-weight="bold" fill="#ff0000" text-anchor="start" textLength="28.5" lengthAdjust="spacingAndGlyphs">0.92</text>
<text x="304.8" y="293.6" font-family="Liberation Serif" font-size="16.8" font-weight="bold" fill="#0050ff" text-anchor="start" textLength="28.8" lengthAdjust="spacingAndGlyphs">0.66</text>
<text x="303.8" y="346.9" font-family="Liberation Serif" font-size="16.8" font-weight="bold" fill="#000" text-anchor="start" textLength="27.7" lengthAdjust="spacingAndGlyphs">0.31</text>
<text x="0.9" y="441.8" font-family="Liberation Serif" font-size="18" font-weight="bold" fill="#000" text-anchor="start">(e)</text>
<clipPath id="ce"><rect x="55.7" y="445.6" width="241.8" height="162.29999999999995"/></clipPath>
<g clip-path="url(#ce)">
<polyline points="55.7,577.4 65.1,570.7 74.5,566.7 83.9,562.5 93.3,556.5 102.7,554.3 112.1,554.8 121.5,562.1 130.9,564.4 140.3,561 149.7,548 159.1,539.1 168.5,532.4 177.9,529.3 187.3,532.8 196.7,538.8 206.1,532.8 215.5,509.4 224.9,486.8 234.3,464.4 243.7,445.6 253.1,453.1 262.5,468.6 271.9,500.8 281.3,535.4 290.7,561.3" fill="none" stroke="#ff0000" stroke-width="0.9" stroke-linejoin="round" stroke-linecap="butt" stroke-dasharray="1.3,0.9"/>
<polyline points="55.7,588.6 65.1,585.5 74.5,580.5 83.9,572.7 93.3,570.7 102.7,568.1 112.1,570.6 121.5,576.1 130.9,576.1 140.3,580 149.7,575 159.1,562.1 168.5,538.1 177.9,544 187.3,543.1 196.7,545.7 206.1,538.8 215.5,526.8 224.9,496.4 234.3,482.6 243.7,465.2 253.1,462.6 262.5,476.4 271.9,512.8 281.3,542.3 290.7,568.3" fill="none" stroke="#ff0000" stroke-width="0.9" stroke-linejoin="round" stroke-linecap="butt" stroke-dasharray="1.3,0.9"/>
<polyline points="55.7,590.7 65.1,589.6 74.5,584.5 83.9,581 93.3,576.3 102.7,570.7 112.1,573.3 121.5,578.4 130.9,586.2 140.3,585.7 149.7,585.7 159.1,579.5 168.5,552.6 177.9,545.7 187.3,549.1 196.7,559.5 206.1,580.3 215.5,544 224.9,502.4 234.3,487.8 243.7,468.6 253.1,471.2 262.5,482.6 271.9,516.4 281.3,545.7 290.7,574.3" fill="none" stroke="#ff0000" stroke-width="0.9" stroke-linejoin="round" stroke-linecap="butt" stroke-dasharray="1.3,0.9"/>
<polyline points="55.7,590 65.1,588.4 74.5,583.6 83.9,580.3 93.3,575.4 102.7,573.3 112.1,572.7 121.5,577.1 130.9,580.3 140.3,581.9 149.7,583.6 159.1,575.4 168.5,560.3 177.9,547 187.3,549.5 196.7,572.5 206.1,589.1 215.5,571.7 224.9,525 234.3,486.2 243.7,466.7 253.1,465.1 262.5,492 271.9,513.8 281.3,544.6 290.7,570.6" fill="none" stroke="#ff0000" stroke-width="0.9" stroke-linejoin="round" stroke-linecap="butt" stroke-dasharray="1.3,0.9"/>
<polyline points="55.7,584.5 65.1,573.3 74.5,568.1 83.9,566 93.3,559.5 102.7,564.1 112.1,554.8 121.5,557.6 130.9,557.6 140.3,554.8 149.7,558.2 159.1,556 168.5,557.1 177.9,551.4 187.3,547.5 196.7,544 206.1,545.7 215.5,531.9 224.9,512.8 234.3,493.8 243.7,486.8 253.1,484.2 262.5,499 271.9,525 281.3,550.9 290.7,571.7" fill="none" stroke="#0000ff" stroke-width="1.5" stroke-linejoin="round" stroke-linecap="butt" stroke-dasharray="4.5,2.6"/>
<polyline points="55.7,594.8 65.1,579.8 74.5,575.4 83.9,584.5 93.3,565.1 102.7,574.3 112.1,568.1 121.5,566 130.9,562.1 140.3,559.2 149.7,580.6 159.1,568.3 168.5,564.9 177.9,556 187.3,557.9 196.7,554.3 206.1,561.3 215.5,549.1 224.9,523.2 234.3,500.8 243.7,496.4 253.1,491.2 262.5,506 271.9,533.6 281.3,557.9 290.7,576.9" fill="none" stroke="#0000ff" stroke-width="1.5" stroke-linejoin="round" stroke-linecap="butt" stroke-dasharray="4.5,2.6"/>
<polyline points="55.7,596.7 65.1,594.8 74.5,588.1 83.9,590.7 93.3,580.5 102.7,582.4 112.1,578.4 121.5,583.9 130.9,582.7 140.3,586.2 149.7,588.4 159.1,576.1 168.5,569.4 177.9,567.2 187.3,571.7 196.7,561.3 206.1,573.5 215.5,561.3 224.9,533.6 234.3,511.2 243.7,503.4 253.1,499.8 262.5,514.6 271.9,538.8 281.3,561.3 290.7,582.1" fill="none" stroke="#0000ff" stroke-width="1.5" stroke-linejoin="round" stroke-linecap="butt" stroke-dasharray="4.5,2.6"/>
<polyline points="55.7,595.7 65.1,596.7 74.5,600.3 83.9,599.8 93.3,588.1 102.7,591.7 112.1,588.6 121.5,587.3 130.9,589.6 140.3,593 149.7,597.4 159.1,583.9 168.5,573.8 177.9,582.7 187.3,586.5 196.7,578.7 206.1,597.7 215.5,582.1 224.9,544 234.3,519.8 243.7,508.6 253.1,505 262.5,519.8 271.9,536.5 281.3,559.2 290.7,579.5" fill="none" stroke="#0000ff" stroke-width="1.5" stroke-linejoin="round" stroke-linecap="butt" stroke-dasharray="4.5,2.6"/>
<polyline points="55.7,598.2 65.1,595.7 74.5,593.3 83.9,594.9 93.3,595.7 102.7,588.4 112.1,588.4 121.5,586.8 130.9,591.7 140.3,596.2 149.7,593.3 159.1,590.7 168.5,581.9 177.9,575.4 187.3,575.4 196.7,595.9 206.1,591.7 215.5,567.3 224.9,534.9 234.3,507.3 243.7,500.8 253.1,497.5 262.5,510.5 271.9,530 281.3,556 290.7,575.4" fill="none" stroke="#0000ff" stroke-width="1.5" stroke-linejoin="round" stroke-linecap="butt" stroke-dasharray="4.5,2.6"/>
<polyline points="55.7,599.8 65.1,596.7 74.5,593.6 83.9,594.3 93.3,593.3 102.7,592.6 112.1,591.7 121.5,593.9 130.9,596.2 140.3,597.4 149.7,595.1 159.1,585 168.5,583.4 177.9,581.1 187.3,582.1 196.7,588.1 206.1,585.5 215.5,576.9 224.9,569.1 234.3,559.5 243.7,553.5 253.1,555.3 262.5,559.5 271.9,569.1 281.3,582.1 290.7,592.5" fill="none" stroke="#000" stroke-width="1.0" stroke-linejoin="round" stroke-linecap="butt"/>
<polyline points="55.7,601.9 65.1,599.8 74.5,596.7 83.9,596.2 93.3,595.7 102.7,594.8 112.1,593.9 121.5,595.7 130.9,598.2 140.3,599 149.7,597.4 159.1,591.7 168.5,588.4 177.9,583.6 187.3,584.4 196.7,590.7 206.1,590.7 215.5,583.9 224.9,573.5 234.3,563.1 243.7,557.9 253.1,557.9 262.5,564.7 271.9,573.5 281.3,585.5 290.7,595.1" fill="none" stroke="#000" stroke-width="1.0" stroke-linejoin="round" stroke-linecap="butt"/>
<polyline points="55.7,603.4 65.1,602.4 74.5,599.8 83.9,597.8 93.3,597.8 102.7,596.7 112.1,596.2 121.5,597.4 130.9,599.6 140.3,600.8 149.7,598.5 159.1,595.1 168.5,589.6 177.9,585.5 187.3,586.5 196.7,594.3 206.1,595.9 215.5,590.7 224.9,577.1 234.3,565.7 243.7,559.2 253.1,559.2 262.5,565.7 271.9,574.6 281.3,586.8 290.7,595.7" fill="none" stroke="#000" stroke-width="1.0" stroke-linejoin="round" stroke-linecap="butt"/>
<polyline points="55.7,601.4 65.1,600.6 74.5,598.2 83.9,596.5 93.3,596.5 102.7,595.7 112.1,598.5 121.5,599.6 130.9,601.4 140.3,602.4 149.7,601.4 159.1,597.4 168.5,593 177.9,592.5 187.3,594.3 196.7,595.9 206.1,603.7 215.5,595.1 224.9,580.3 234.3,568.3 243.7,561.3 253.1,561.3 262.5,566.5 271.9,575.4 281.3,587.3 290.7,596.9" fill="none" stroke="#000" stroke-width="1.0" stroke-linejoin="round" stroke-linecap="butt"/>
</g>
<rect x="55.7" y="445.6" width="241.8" height="162.29999999999995" fill="none" stroke="#262626" stroke-width="1.3"/>
<circle cx="55.7" cy="599.8" r="2.3" fill="none" stroke="#000" stroke-width="1.0"/>
<circle cx="65.1" cy="596.7" r="2.3" fill="none" stroke="#000" stroke-width="1.0"/>
<circle cx="74.5" cy="593.6" r="2.3" fill="none" stroke="#000" stroke-width="1.0"/>
<circle cx="83.9" cy="594.3" r="2.3" fill="none" stroke="#000" stroke-width="1.0"/>
<circle cx="93.3" cy="593.3" r="2.3" fill="none" stroke="#000" stroke-width="1.0"/>
<circle cx="102.7" cy="592.6" r="2.3" fill="none" stroke="#000" stroke-width="1.0"/>
<circle cx="112.1" cy="591.7" r="2.3" fill="none" stroke="#000" stroke-width="1.0"/>
<circle cx="121.5" cy="593.9" r="2.3" fill="none" stroke="#000" stroke-width="1.0"/>
<circle cx="130.9" cy="596.2" r="2.3" fill="none" stroke="#000" stroke-width="1.0"/>
<circle cx="140.3" cy="597.4" r="2.3" fill="none" stroke="#000" stroke-width="1.0"/>
<circle cx="149.7" cy="595.1" r="2.3" fill="none" stroke="#000" stroke-width="1.0"/>
<circle cx="159.1" cy="585" r="2.3" fill="none" stroke="#000" stroke-width="1.0"/>
<circle cx="168.5" cy="583.4" r="2.3" fill="none" stroke="#000" stroke-width="1.0"/>
<circle cx="177.9" cy="581.1" r="2.3" fill="none" stroke="#000" stroke-width="1.0"/>
<circle cx="187.3" cy="582.1" r="2.3" fill="none" stroke="#000" stroke-width="1.0"/>
<circle cx="196.7" cy="588.1" r="2.3" fill="none" stroke="#000" stroke-width="1.0"/>
<circle cx="206.1" cy="585.5" r="2.3" fill="none" stroke="#000" stroke-width="1.0"/>
<circle cx="215.5" cy="576.9" r="2.3" fill="none" stroke="#000" stroke-width="1.0"/>
<circle cx="224.9" cy="569.1" r="2.3" fill="none" stroke="#000" stroke-width="1.0"/>
<circle cx="234.3" cy="559.5" r="2.3" fill="none" stroke="#000" stroke-width="1.0"/>
<circle cx="243.7" cy="553.5" r="2.3" fill="none" stroke="#000" stroke-width="1.0"/>
<circle cx="253.1" cy="555.3" r="2.3" fill="none" stroke="#000" stroke-width="1.0"/>
<circle cx="262.5" cy="559.5" r="2.3" fill="none" stroke="#000" stroke-width="1.0"/>
<circle cx="271.9" cy="569.1" r="2.3" fill="none" stroke="#000" stroke-width="1.0"/>
<circle cx="281.3" cy="582.1" r="2.3" fill="none" stroke="#000" stroke-width="1.0"/>
<circle cx="290.7" cy="592.5" r="2.3" fill="none" stroke="#000" stroke-width="1.0"/>
<circle cx="55.7" cy="601.9" r="2.3" fill="none" stroke="#000" stroke-width="1.0"/>
<circle cx="65.1" cy="599.8" r="2.3" fill="none" stroke="#000" stroke-width="1.0"/>
<circle cx="74.5" cy="596.7" r="2.3" fill="none" stroke="#000" stroke-width="1.0"/>
<circle cx="83.9" cy="596.2" r="2.3" fill="none" stroke="#000" stroke-width="1.0"/>
<circle cx="93.3" cy="595.7" r="2.3" fill="none" stroke="#000" stroke-width="1.0"/>
<circle cx="102.7" cy="594.8" r="2.3" fill="none" stroke="#000" stroke-width="1.0"/>
<circle cx="112.1" cy="593.9" r="2.3" fill="none" stroke="#000" stroke-width="1.0"/>
<circle cx="121.5" cy="595.7" r="2.3" fill="none" stroke="#000" stroke-width="1.0"/>
<circle cx="130.9" cy="598.2" r="2.3" fill="none" stroke="#000" stroke-width="1.0"/>
<circle cx="140.3" cy="599" r="2.3" fill="none" stroke="#000" stroke-width="1.0"/>
<circle cx="149.7" cy="597.4" r="2.3" fill="none" stroke="#000" stroke-width="1.0"/>
<circle cx="159.1" cy="591.7" r="2.3" fill="none" stroke="#000" stroke-width="1.0"/>
<circle cx="168.5" cy="588.4" r="2.3" fill="none" stroke="#000" stroke-width="1.0"/>
<circle cx="177.9" cy="583.6" r="2.3" fill="none" stroke="#000" stroke-width="1.0"/>
<circle cx="187.3" cy="584.4" r="2.3" fill="none" stroke="#000" stroke-width="1.0"/>
<circle cx="196.7" cy="590.7" r="2.3" fill="none" stroke="#000" stroke-width="1.0"/>
<circle cx="206.1" cy="590.7" r="2.3" fill="none" stroke="#000" stroke-width="1.0"/>
<circle cx="215.5" cy="583.9" r="2.3" fill="none" stroke="#000" stroke-width="1.0"/>
<circle cx="224.9" cy="573.5" r="2.3" fill="none" stroke="#000" stroke-width="1.0"/>
<circle cx="234.3" cy="563.1" r="2.3" fill="none" stroke="#000" stroke-width="1.0"/>
<circle cx="243.7" cy="557.9" r="2.3" fill="none" stroke="#000" stroke-width="1.0"/>
<circle cx="253.1" cy="557.9" r="2.3" fill="none" stroke="#000" stroke-width="1.0"/>
<circle cx="262.5" cy="564.7" r="2.3" fill="none" stroke="#000" stroke-width="1.0"/>
<circle cx="271.9" cy="573.5" r="2.3" fill="none" stroke="#000" stroke-width="1.0"/>
<circle cx="281.3" cy="585.5" r="2.3" fill="none" stroke="#000" stroke-width="1.0"/>
<circle cx="290.7" cy="595.1" r="2.3" fill="none" stroke="#000" stroke-width="1.0"/>
<circle cx="55.7" cy="603.4" r="2.3" fill="none" stroke="#000" stroke-width="1.0"/>
<circle cx="65.1" cy="602.4" r="2.3" fill="none" stroke="#000" stroke-width="1.0"/>
<circle cx="74.5" cy="599.8" r="2.3" fill="none" stroke="#000" stroke-width="1.0"/>
<circle cx="83.9" cy="597.8" r="2.3" fill="none" stroke="#000" stroke-width="1.0"/>
<circle cx="93.3" cy="597.8" r="2.3" fill="none" stroke="#000" stroke-width="1.0"/>
<circle cx="102.7" cy="596.7" r="2.3" fill="none" stroke="#000" stroke-width="1.0"/>
<circle cx="112.1" cy="596.2" r="2.3" fill="none" stroke="#000" stroke-width="1.0"/>
<circle cx="121.5" cy="597.4" r="2.3" fill="none" stroke="#000" stroke-width="1.0"/>
<circle cx="130.9" cy="599.6" r="2.3" fill="none" stroke="#000" stroke-width="1.0"/>
<circle cx="140.3" cy="600.8" r="2.3" fill="none" stroke="#000" stroke-width="1.0"/>
<circle cx="149.7" cy="598.5" r="2.3" fill="none" stroke="#000" stroke-width="1.0"/>
<circle cx="159.1" cy="595.1" r="2.3" fill="none" stroke="#000" stroke-width="1.0"/>
<circle cx="168.5" cy="589.6" r="2.3" fill="none" stroke="#000" stroke-width="1.0"/>
<circle cx="177.9" cy="585.5" r="2.3" fill="none" stroke="#000" stroke-width="1.0"/>
<circle cx="187.3" cy="586.5" r="2.3" fill="none" stroke="#000" stroke-width="1.0"/>
<circle cx="196.7" cy="594.3" r="2.3" fill="none" stroke="#000" stroke-width="1.0"/>
<circle cx="206.1" cy="595.9" r="2.3" fill="none" stroke="#000" stroke-width="1.0"/>
<circle cx="215.5" cy="590.7" r="2.3" fill="none" stroke="#000" stroke-width="1.0"/>
<circle cx="224.9" cy="577.1" r="2.3" fill="none" stroke="#000" stroke-width="1.0"/>
<circle cx="234.3" cy="565.7" r="2.3" fill="none" stroke="#000" stroke-width="1.0"/>
<circle cx="243.7" cy="559.2" r="2.3" fill="none" stroke="#000" stroke-width="1.0"/>
<circle cx="253.1" cy="559.2" r="2.3" fill="none" stroke="#000" stroke-width="1.0"/>
<circle cx="262.5" cy="565.7" r="2.3" fill="none" stroke="#000" stroke-width="1.0"/>
<circle cx="271.9" cy="574.6" r="2.3" fill="none" stroke="#000" stroke-width="1.0"/>
<circle cx="281.3" cy="586.8" r="2.3" fill="none" stroke="#000" stroke-width="1.0"/>
<circle cx="290.7" cy="595.7" r="2.3" fill="none" stroke="#000" stroke-width="1.0"/>
<circle cx="55.7" cy="601.4" r="2.3" fill="none" stroke="#000" stroke-width="1.0"/>
<circle cx="65.1" cy="600.6" r="2.3" fill="none" stroke="#000" stroke-width="1.0"/>
<circle cx="74.5" cy="598.2" r="2.3" fill="none" stroke="#000" stroke-width="1.0"/>
<circle cx="83.9" cy="596.5" r="2.3" fill="none" stroke="#000" stroke-width="1.0"/>
<circle cx="93.3" cy="596.5" r="2.3" fill="none" stroke="#000" stroke-width="1.0"/>
<circle cx="102.7" cy="595.7" r="2.3" fill="none" stroke="#000" stroke-width="1.0"/>
<circle cx="112.1" cy="598.5" r="2.3" fill="none" stroke="#000" stroke-width="1.0"/>
<circle cx="121.5" cy="599.6" r="2.3" fill="none" stroke="#000" stroke-width="1.0"/>
<circle cx="130.9" cy="601.4" r="2.3" fill="none" stroke="#000" stroke-width="1.0"/>
<circle cx="140.3" cy="602.4" r="2.3" fill="none" stroke="#000" stroke-width="1.0"/>
<circle cx="149.7" cy="601.4" r="2.3" fill="none" stroke="#000" stroke-width="1.0"/>
<circle cx="159.1" cy="597.4" r="2.3" fill="none" stroke="#000" stroke-width="1.0"/>
<circle cx="168.5" cy="593" r="2.3" fill="none" stroke="#000" stroke-width="1.0"/>
<circle cx="177.9" cy="592.5" r="2.3" fill="none" stroke="#000" stroke-width="1.0"/>
<circle cx="187.3" cy="594.3" r="2.3" fill="none" stroke="#000" stroke-width="1.0"/>
<circle cx="196.7" cy="595.9" r="2.3" fill="none" stroke="#000" stroke-width="1.0"/>
<circle cx="206.1" cy="603.7" r="2.3" fill="none" stroke="#000" stroke-width="1.0"/>
<circle cx="215.5" cy="595.1" r="2.3" fill="none" stroke="#000" stroke-width="1.0"/>
<circle cx="224.9" cy="580.3" r="2.3" fill="none" stroke="#000" stroke-width="1.0"/>
<circle cx="234.3" cy="568.3" r="2.3" fill="none" stroke="#000" stroke-width="1.0"/>
<circle cx="243.7" cy="561.3" r="2.3" fill="none" stroke="#000" stroke-width="1.0"/>
<circle cx="253.1" cy="561.3" r="2.3" fill="none" stroke="#000" stroke-width="1.0"/>
<circle cx="262.5" cy="566.5" r="2.3" fill="none" stroke="#000" stroke-width="1.0"/>
<circle cx="271.9" cy="575.4" r="2.3" fill="none" stroke="#000" stroke-width="1.0"/>
<circle cx="281.3" cy="587.3" r="2.3" fill="none" stroke="#000" stroke-width="1.0"/>
<circle cx="290.7" cy="596.9" r="2.3" fill="none" stroke="#000" stroke-width="1.0"/>
<circle cx="55.7" cy="584.5" r="2.3" fill="#0000ff" stroke="none" stroke-width="0"/>
<circle cx="65.1" cy="573.3" r="2.3" fill="#0000ff" stroke="none" stroke-width="0"/>
<circle cx="74.5" cy="568.1" r="2.3" fill="#0000ff" stroke="none" stroke-width="0"/>
<circle cx="83.9" cy="566" r="2.3" fill="#0000ff" stroke="none" stroke-width="0"/>
<circle cx="93.3" cy="559.5" r="2.3" fill="#0000ff" stroke="none" stroke-width="0"/>
<circle cx="102.7" cy="564.1" r="2.3" fill="#0000ff" stroke="none" stroke-width="0"/>
<circle cx="112.1" cy="554.8" r="2.3" fill="#0000ff" stroke="none" stroke-width="0"/>
<circle cx="121.5" cy="557.6" r="2.3" fill="#0000ff" stroke="none" stroke-width="0"/>
<circle cx="130.9" cy="557.6" r="2.3" fill="#0000ff" stroke="none" stroke-width="0"/>
<circle cx="140.3" cy="554.8" r="2.3" fill="#0000ff" stroke="none" stroke-width="0"/>
<circle cx="149.7" cy="558.2" r="2.3" fill="#0000ff" stroke="none" stroke-width="0"/>
<circle cx="159.1" cy="556" r="2.3" fill="#0000ff" stroke="none" stroke-width="0"/>
<circle cx="168.5" cy="557.1" r="2.3" fill="#0000ff" stroke="none" stroke-width="0"/>
<circle cx="177.9" cy="551.4" r="2.3" fill="#0000ff" stroke="none" stroke-width="0"/>
<circle cx="187.3" cy="547.5" r="2.3" fill="#0000ff" stroke="none" stroke-width="0"/>
<circle cx="196.7" cy="544" r="2.3" fill="#0000ff" stroke="none" stroke-width="0"/>
<circle cx="206.1" cy="545.7" r="2.3" fill="#0000ff" stroke="none" stroke-width="0"/>
<circle cx="215.5" cy="531.9" r="2.3" fill="#0000ff" stroke="none" stroke-width="0"/>
<circle cx="224.9" cy="512.8" r="2.3" fill="#0000ff" stroke="none" stroke-width="0"/>
<circle cx="234.3" cy="493.8" r="2.3" fill="#0000ff" stroke="none" stroke-width="0"/>
<circle cx="243.7" cy="486.8" r="2.3" fill="#0000ff" stroke="none" stroke-width="0"/>
<circle cx="253.1" cy="484.2" r="2.3" fill="#0000ff" stroke="none" stroke-width="0"/>
<circle cx="262.5" cy="499" r="2.3" fill="#0000ff" stroke="none" stroke-width="0"/>
<circle cx="271.9" cy="525" r="2.3" fill="#0000ff" stroke="none" stroke-width="0"/>
<circle cx="281.3" cy="550.9" r="2.3" fill="#0000ff" stroke="none" stroke-width="0"/>
<circle cx="290.7" cy="571.7" r="2.3" fill="#0000ff" stroke="none" stroke-width="0"/>
<circle cx="55.7" cy="594.8" r="2.3" fill="#0000ff" stroke="none" stroke-width="0"/>
<circle cx="65.1" cy="579.8" r="2.3" fill="#0000ff" stroke="none" stroke-width="0"/>
<circle cx="74.5" cy="575.4" r="2.3" fill="#0000ff" stroke="none" stroke-width="0"/>
<circle cx="83.9" cy="584.5" r="2.3" fill="#0000ff" stroke="none" stroke-width="0"/>
<circle cx="93.3" cy="565.1" r="2.3" fill="#0000ff" stroke="none" stroke-width="0"/>
<circle cx="102.7" cy="574.3" r="2.3" fill="#0000ff" stroke="none" stroke-width="0"/>
<circle cx="112.1" cy="568.1" r="2.3" fill="#0000ff" stroke="none" stroke-width="0"/>
<circle cx="121.5" cy="566" r="2.3" fill="#0000ff" stroke="none" stroke-width="0"/>
<circle cx="130.9" cy="562.1" r="2.3" fill="#0000ff" stroke="none" stroke-width="0"/>
<circle cx="140.3" cy="559.2" r="2.3" fill="#0000ff" stroke="none" stroke-width="0"/>
<circle cx="149.7" cy="580.6" r="2.3" fill="#0000ff" stroke="none" stroke-width="0"/>
<circle cx="159.1" cy="568.3" r="2.3" fill="#0000ff" stroke="none" stroke-width="0"/>
<circle cx="168.5" cy="564.9" r="2.3" fill="#0000ff" stroke="none" stroke-width="0"/>
<circle cx="177.9" cy="556" r="2.3" fill="#0000ff" stroke="none" stroke-width="0"/>
<circle cx="187.3" cy="557.9" r="2.3" fill="#0000ff" stroke="none" stroke-width="0"/>
<circle cx="196.7" cy="554.3" r="2.3" fill="#0000ff" stroke="none" stroke-width="0"/>
<circle cx="206.1" cy="561.3" r="2.3" fill="#0000ff" stroke="none" stroke-width="0"/>
<circle cx="215.5" cy="549.1" r="2.3" fill="#0000ff" stroke="none" stroke-width="0"/>
<circle cx="224.9" cy="523.2" r="2.3" fill="#0000ff" stroke="none" stroke-width="0"/>
<circle cx="234.3" cy="500.8" r="2.3" fill="#0000ff" stroke="none" stroke-width="0"/>
<circle cx="243.7" cy="496.4" r="2.3" fill="#0000ff" stroke="none" stroke-width="0"/>
<circle cx="253.1" cy="491.2" r="2.3" fill="#0000ff" stroke="none" stroke-width="0"/>
<circle cx="262.5" cy="506" r="2.3" fill="#0000ff" stroke="none" stroke-width="0"/>
<circle cx="271.9" cy="533.6" r="2.3" fill="#0000ff" stroke="none" stroke-width="0"/>
<circle cx="281.3" cy="557.9" r="2.3" fill="#0000ff" stroke="none" stroke-width="0"/>
<circle cx="290.7" cy="576.9" r="2.3" fill="#0000ff" stroke="none" stroke-width="0"/>
<circle cx="55.7" cy="596.7" r="2.3" fill="#0000ff" stroke="none" stroke-width="0"/>
<circle cx="65.1" cy="594.8" r="2.3" fill="#0000ff" stroke="none" stroke-width="0"/>
<circle cx="74.5" cy="588.1" r="2.3" fill="#0000ff" stroke="none" stroke-width="0"/>
<circle cx="83.9" cy="590.7" r="2.3" fill="#0000ff" stroke="none" stroke-width="0"/>
<circle cx="93.3" cy="580.5" r="2.3" fill="#0000ff" stroke="none" stroke-width="0"/>
<circle cx="102.7" cy="582.4" r="2.3" fill="#0000ff" stroke="none" stroke-width="0"/>
<circle cx="112.1" cy="578.4" r="2.3" fill="#0000ff" stroke="none" stroke-width="0"/>
<circle cx="121.5" cy="583.9" r="2.3" fill="#0000ff" stroke="none" stroke-width="0"/>
<circle cx="130.9" cy="582.7" r="2.3" fill="#0000ff" stroke="none" stroke-width="0"/>
<circle cx="140.3" cy="586.2" r="2.3" fill="#0000ff" stroke="none" stroke-width="0"/>
<circle cx="149.7" cy="588.4" r="2.3" fill="#0000ff" stroke="none" stroke-width="0"/>
<circle cx="159.1" cy="576.1" r="2.3" fill="#0000ff" stroke="none" stroke-width="0"/>
<circle cx="168.5" cy="569.4" r="2.3" fill="#0000ff" stroke="none" stroke-width="0"/>
<circle cx="177.9" cy="567.2" r="2.3" fill="#0000ff" stroke="none" stroke-width="0"/>
<circle cx="187.3" cy="571.7" r="2.3" fill="#0000ff" stroke="none" stroke-width="0"/>
<circle cx="196.7" cy="561.3" r="2.3" fill="#0000ff" stroke="none" stroke-width="0"/>
<circle cx="206.1" cy="573.5" r="2.3" fill="#0000ff" stroke="none" stroke-width="0"/>
<circle cx="215.5" cy="561.3" r="2.3" fill="#0000ff" stroke="none" stroke-width="0"/>
<circle cx="224.9" cy="533.6" r="2.3" fill="#0000ff" stroke="none" stroke-width="0"/>
<circle cx="234.3" cy="511.2" r="2.3" fill="#0000ff" stroke="none" stroke-width="0"/>
<circle cx="243.7" cy="503.4" r="2.3" fill="#0000ff" stroke="none" stroke-width="0"/>
<circle cx="253.1" cy="499.8" r="2.3" fill="#0000ff" stroke="none" stroke-width="0"/>
<circle cx="262.5" cy="514.6" r="2.3" fill="#0000ff" stroke="none" stroke-width="0"/>
<circle cx="271.9" cy="538.8" r="2.3" fill="#0000ff" stroke="none" stroke-width="0"/>
<circle cx="281.3" cy="561.3" r="2.3" fill="#0000ff" stroke="none" stroke-width="0"/>
<circle cx="290.7" cy="582.1" r="2.3" fill="#0000ff" stroke="none" stroke-width="0"/>
<circle cx="55.7" cy="595.7" r="2.3" fill="#0000ff" stroke="none" stroke-width="0"/>
<circle cx="65.1" cy="596.7" r="2.3" fill="#0000ff" stroke="none" stroke-width="0"/>
<circle cx="74.5" cy="600.3" r="2.3" fill="#0000ff" stroke="none" stroke-width="0"/>
<circle cx="83.9" cy="599.8" r="2.3" fill="#0000ff" stroke="none" stroke-width="0"/>
<circle cx="93.3" cy="588.1" r="2.3" fill="#0000ff" stroke="none" stroke-width="0"/>
<circle cx="102.7" cy="591.7" r="2.3" fill="#0000ff" stroke="none" stroke-width="0"/>
<circle cx="112.1" cy="588.6" r="2.3" fill="#0000ff" stroke="none" stroke-width="0"/>
<circle cx="121.5" cy="587.3" r="2.3" fill="#0000ff" stroke="none" stroke-width="0"/>
<circle cx="130.9" cy="589.6" r="2.3" fill="#0000ff" stroke="none" stroke-width="0"/>
<circle cx="140.3" cy="593" r="2.3" fill="#0000ff" stroke="none" stroke-width="0"/>
<circle cx="149.7" cy="597.4" r="2.3" fill="#0000ff" stroke="none" stroke-width="0"/>
<circle cx="159.1" cy="583.9" r="2.3" fill="#0000ff" stroke="none" stroke-width="0"/>
<circle cx="168.5" cy="573.8" r="2.3" fill="#0000ff" stroke="none" stroke-width="0"/>
<circle cx="177.9" cy="582.7" r="2.3" fill="#0000ff" stroke="none" stroke-width="0"/>
<circle cx="187.3" cy="586.5" r="2.3" fill="#0000ff" stroke="none" stroke-width="0"/>
<circle cx="196.7" cy="578.7" r="2.3" fill="#0000ff" stroke="none" stroke-width="0"/>
<circle cx="206.1" cy="597.7" r="2.3" fill="#0000ff" stroke="none" stroke-width="0"/>
<circle cx="215.5" cy="582.1" r="2.3" fill="#0000ff" stroke="none" stroke-width="0"/>
<circle cx="224.9" cy="544" r="2.3" fill="#0000ff" stroke="none" stroke-width="0"/>
<circle cx="234.3" cy="519.8" r="2.3" fill="#0000ff" stroke="none" stroke-width="0"/>
<circle cx="243.7" cy="508.6" r="2.3" fill="#0000ff" stroke="none" stroke-width="0"/>
<circle cx="253.1" cy="505" r="2.3" fill="#0000ff" stroke="none" stroke-width="0"/>
<circle cx="262.5" cy="519.8" r="2.3" fill="#0000ff" stroke="none" stroke-width="0"/>
<circle cx="271.9" cy="536.5" r="2.3" fill="#0000ff" stroke="none" stroke-width="0"/>
<circle cx="281.3" cy="559.2" r="2.3" fill="#0000ff" stroke="none" stroke-width="0"/>
<circle cx="290.7" cy="579.5" r="2.3" fill="#0000ff" stroke="none" stroke-width="0"/>
<circle cx="55.7" cy="598.2" r="2.3" fill="#0000ff" stroke="none" stroke-width="0"/>
<circle cx="65.1" cy="595.7" r="2.3" fill="#0000ff" stroke="none" stroke-width="0"/>
<circle cx="74.5" cy="593.3" r="2.3" fill="#0000ff" stroke="none" stroke-width="0"/>
<circle cx="83.9" cy="594.9" r="2.3" fill="#0000ff" stroke="none" stroke-width="0"/>
<circle cx="93.3" cy="595.7" r="2.3" fill="#0000ff" stroke="none" stroke-width="0"/>
<circle cx="102.7" cy="588.4" r="2.3" fill="#0000ff" stroke="none" stroke-width="0"/>
<circle cx="112.1" cy="588.4" r="2.3" fill="#0000ff" stroke="none" stroke-width="0"/>
<circle cx="121.5" cy="586.8" r="2.3" fill="#0000ff" stroke="none" stroke-width="0"/>
<circle cx="130.9" cy="591.7" r="2.3" fill="#0000ff" stroke="none" stroke-width="0"/>
<circle cx="140.3" cy="596.2" r="2.3" fill="#0000ff" stroke="none" stroke-width="0"/>
<circle cx="149.7" cy="593.3" r="2.3" fill="#0000ff" stroke="none" stroke-width="0"/>
<circle cx="159.1" cy="590.7" r="2.3" fill="#0000ff" stroke="none" stroke-width="0"/>
<circle cx="168.5" cy="581.9" r="2.3" fill="#0000ff" stroke="none" stroke-width="0"/>
<circle cx="177.9" cy="575.4" r="2.3" fill="#0000ff" stroke="none" stroke-width="0"/>
<circle cx="187.3" cy="575.4" r="2.3" fill="#0000ff" stroke="none" stroke-width="0"/>
<circle cx="196.7" cy="595.9" r="2.3" fill="#0000ff" stroke="none" stroke-width="0"/>
<circle cx="206.1" cy="591.7" r="2.3" fill="#0000ff" stroke="none" stroke-width="0"/>
<circle cx="215.5" cy="567.3" r="2.3" fill="#0000ff" stroke="none" stroke-width="0"/>
<circle cx="224.9" cy="534.9" r="2.3" fill="#0000ff" stroke="none" stroke-width="0"/>
<circle cx="234.3" cy="507.3" r="2.3" fill="#0000ff" stroke="none" stroke-width="0"/>
<circle cx="243.7" cy="500.8" r="2.3" fill="#0000ff" stroke="none" stroke-width="0"/>
<circle cx="253.1" cy="497.5" r="2.3" fill="#0000ff" stroke="none" stroke-width="0"/>
<circle cx="262.5" cy="510.5" r="2.3" fill="#0000ff" stroke="none" stroke-width="0"/>
<circle cx="271.9" cy="530" r="2.3" fill="#0000ff" stroke="none" stroke-width="0"/>
<circle cx="281.3" cy="556" r="2.3" fill="#0000ff" stroke="none" stroke-width="0"/>
<circle cx="290.7" cy="575.4" r="2.3" fill="#0000ff" stroke="none" stroke-width="0"/>
<path d="M55.7,574.3L58.6,579.3L52.8,579.3Z" fill="none" stroke="#ff0000" stroke-width="1.3" stroke-linejoin="miter"/>
<path d="M65.1,567.6L68,572.7L62.2,572.7Z" fill="none" stroke="#ff0000" stroke-width="1.3" stroke-linejoin="miter"/>
<path d="M74.5,563.6L77.4,568.6L71.6,568.6Z" fill="none" stroke="#ff0000" stroke-width="1.3" stroke-linejoin="miter"/>
<path d="M83.9,559.4L86.8,564.4L81,564.4Z" fill="none" stroke="#ff0000" stroke-width="1.3" stroke-linejoin="miter"/>
<path d="M93.3,553.4L96.2,558.4L90.4,558.4Z" fill="none" stroke="#ff0000" stroke-width="1.3" stroke-linejoin="miter"/>
<path d="M102.7,551.2L105.6,556.3L99.8,556.3Z" fill="none" stroke="#ff0000" stroke-width="1.3" stroke-linejoin="miter"/>
<path d="M112.1,551.7L115,556.7L109.2,556.7Z" fill="none" stroke="#ff0000" stroke-width="1.3" stroke-linejoin="miter"/>
<path d="M121.5,559L124.4,564.1L118.6,564.1Z" fill="none" stroke="#ff0000" stroke-width="1.3" stroke-linejoin="miter"/>
<path d="M130.9,561.3L133.8,566.3L128,566.3Z" fill="none" stroke="#ff0000" stroke-width="1.3" stroke-linejoin="miter"/>
<path d="M140.3,557.9L143.2,562.9L137.4,562.9Z" fill="none" stroke="#ff0000" stroke-width="1.3" stroke-linejoin="miter"/>
<path d="M149.7,544.9L152.6,549.9L146.8,549.9Z" fill="none" stroke="#ff0000" stroke-width="1.3" stroke-linejoin="miter"/>
<path d="M159.1,536L162,541L156.2,541Z" fill="none" stroke="#ff0000" stroke-width="1.3" stroke-linejoin="miter"/>
<path d="M168.5,529.3L171.4,534.4L165.6,534.4Z" fill="none" stroke="#ff0000" stroke-width="1.3" stroke-linejoin="miter"/>
<path d="M177.9,526.2L180.8,531.3L175,531.3Z" fill="none" stroke="#ff0000" stroke-width="1.3" stroke-linejoin="miter"/>
<path d="M187.3,529.7L190.2,534.7L184.4,534.7Z" fill="none" stroke="#ff0000" stroke-width="1.3" stroke-linejoin="miter"/>
<path d="M196.7,535.7L199.6,540.7L193.8,540.7Z" fill="none" stroke="#ff0000" stroke-width="1.3" stroke-linejoin="miter"/>
<path d="M206.1,529.7L209,534.7L203.2,534.7Z" fill="none" stroke="#ff0000" stroke-width="1.3" stroke-linejoin="miter"/>
<path d="M215.5,506.3L218.4,511.3L212.6,511.3Z" fill="none" stroke="#ff0000" stroke-width="1.3" stroke-linejoin="miter"/>
<path d="M224.9,483.7L227.8,488.7L222,488.7Z" fill="none" stroke="#ff0000" stroke-width="1.3" stroke-linejoin="miter"/>
<path d="M234.3,461.3L237.2,466.3L231.4,466.3Z" fill="none" stroke="#ff0000" stroke-width="1.3" stroke-linejoin="miter"/>
<path d="M243.7,442.5L246.6,447.5L240.8,447.5Z" fill="none" stroke="#ff0000" stroke-width="1.3" stroke-linejoin="miter"/>
<path d="M253.1,450L256,455L250.2,455Z" fill="none" stroke="#ff0000" stroke-width="1.3" stroke-linejoin="miter"/>
<path d="M262.5,465.5L265.4,470.6L259.6,470.6Z" fill="none" stroke="#ff0000" stroke-width="1.3" stroke-linejoin="miter"/>
<path d="M271.9,497.7L274.8,502.7L269,502.7Z" fill="none" stroke="#ff0000" stroke-width="1.3" stroke-linejoin="miter"/>
<path d="M281.3,532.3L284.2,537.3L278.4,537.3Z" fill="none" stroke="#ff0000" stroke-width="1.3" stroke-linejoin="miter"/>
<path d="M290.7,558.2L293.6,563.2L287.8,563.2Z" fill="none" stroke="#ff0000" stroke-width="1.3" stroke-linejoin="miter"/>
<path d="M55.7,585.5L58.6,590.5L52.8,590.5Z" fill="none" stroke="#ff0000" stroke-width="1.3" stroke-linejoin="miter"/>
<path d="M65.1,582.4L68,587.4L62.2,587.4Z" fill="none" stroke="#ff0000" stroke-width="1.3" stroke-linejoin="miter"/>
<path d="M74.5,577.4L77.4,582.4L71.6,582.4Z" fill="none" stroke="#ff0000" stroke-width="1.3" stroke-linejoin="miter"/>
<path d="M83.9,569.6L86.8,574.6L81,574.6Z" fill="none" stroke="#ff0000" stroke-width="1.3" stroke-linejoin="miter"/>
<path d="M93.3,567.6L96.2,572.7L90.4,572.7Z" fill="none" stroke="#ff0000" stroke-width="1.3" stroke-linejoin="miter"/>
<path d="M102.7,565L105.6,570.1L99.8,570.1Z" fill="none" stroke="#ff0000" stroke-width="1.3" stroke-linejoin="miter"/>
<path d="M112.1,567.5L115,572.5L109.2,572.5Z" fill="none" stroke="#ff0000" stroke-width="1.3" stroke-linejoin="miter"/>
<path d="M121.5,573L124.4,578L118.6,578Z" fill="none" stroke="#ff0000" stroke-width="1.3" stroke-linejoin="miter"/>
<path d="M130.9,573L133.8,578L128,578Z" fill="none" stroke="#ff0000" stroke-width="1.3" stroke-linejoin="miter"/>
<path d="M140.3,576.9L143.2,581.9L137.4,581.9Z" fill="none" stroke="#ff0000" stroke-width="1.3" stroke-linejoin="miter"/>
<path d="M149.7,571.9L152.6,576.9L146.8,576.9Z" fill="none" stroke="#ff0000" stroke-width="1.3" stroke-linejoin="miter"/>
<path d="M159.1,559L162,564.1L156.2,564.1Z" fill="none" stroke="#ff0000" stroke-width="1.3" stroke-linejoin="miter"/>
<path d="M168.5,535L171.4,540L165.6,540Z" fill="none" stroke="#ff0000" stroke-width="1.3" stroke-linejoin="miter"/>
<path d="M177.9,540.9L180.8,545.9L175,545.9Z" fill="none" stroke="#ff0000" stroke-width="1.3" stroke-linejoin="miter"/>
<path d="M187.3,540L190.2,545.1L184.4,545.1Z" fill="none" stroke="#ff0000" stroke-width="1.3" stroke-linejoin="miter"/>
<path d="M196.7,542.6L199.6,547.7L193.8,547.7Z" fill="none" stroke="#ff0000" stroke-width="1.3" stroke-linejoin="miter"/>
<path d="M206.1,535.7L209,540.7L203.2,540.7Z" fill="none" stroke="#ff0000" stroke-width="1.3" stroke-linejoin="miter"/>
<path d="M215.5,523.6L218.4,528.7L212.6,528.7Z" fill="none" stroke="#ff0000" stroke-width="1.3" stroke-linejoin="miter"/>
<path d="M224.9,493.3L227.8,498.3L222,498.3Z" fill="none" stroke="#ff0000" stroke-width="1.3" stroke-linejoin="miter"/>
<path d="M234.3,479.5L237.2,484.5L231.4,484.5Z" fill="none" stroke="#ff0000" stroke-width="1.3" stroke-linejoin="miter"/>
<path d="M243.7,462.1L246.6,467.2L240.8,467.2Z" fill="none" stroke="#ff0000" stroke-width="1.3" stroke-linejoin="miter"/>
<path d="M253.1,459.5L256,464.6L250.2,464.6Z" fill="none" stroke="#ff0000" stroke-width="1.3" stroke-linejoin="miter"/>
<path d="M262.5,473.3L265.4,478.4L259.6,478.4Z" fill="none" stroke="#ff0000" stroke-width="1.3" stroke-linejoin="miter"/>
<path d="M271.9,509.7L274.8,514.7L269,514.7Z" fill="none" stroke="#ff0000" stroke-width="1.3" stroke-linejoin="miter"/>
<path d="M281.3,539.2L284.2,544.3L278.4,544.3Z" fill="none" stroke="#ff0000" stroke-width="1.3" stroke-linejoin="miter"/>
<path d="M290.7,565.2L293.6,570.2L287.8,570.2Z" fill="none" stroke="#ff0000" stroke-width="1.3" stroke-linejoin="miter"/>
<path d="M55.7,587.6L58.6,592.6L52.8,592.6Z" fill="none" stroke="#ff0000" stroke-width="1.3" stroke-linejoin="miter"/>
<path d="M65.1,586.5L68,591.5L62.2,591.5Z" fill="none" stroke="#ff0000" stroke-width="1.3" stroke-linejoin="miter"/>
<path d="M74.5,581.4L77.4,586.5L71.6,586.5Z" fill="none" stroke="#ff0000" stroke-width="1.3" stroke-linejoin="miter"/>
<path d="M83.9,577.9L86.8,582.9L81,582.9Z" fill="none" stroke="#ff0000" stroke-width="1.3" stroke-linejoin="miter"/>
<path d="M93.3,573.2L96.2,578.2L90.4,578.2Z" fill="none" stroke="#ff0000" stroke-width="1.3" stroke-linejoin="miter"/>
<path d="M102.7,567.6L105.6,572.7L99.8,572.7Z" fill="none" stroke="#ff0000" stroke-width="1.3" stroke-linejoin="miter"/>
<path d="M112.1,570.2L115,575.3L109.2,575.3Z" fill="none" stroke="#ff0000" stroke-width="1.3" stroke-linejoin="miter"/>
<path d="M121.5,575.3L124.4,580.3L118.6,580.3Z" fill="none" stroke="#ff0000" stroke-width="1.3" stroke-linejoin="miter"/>
<path d="M130.9,583.1L133.8,588.1L128,588.1Z" fill="none" stroke="#ff0000" stroke-width="1.3" stroke-linejoin="miter"/>
<path d="M140.3,582.6L143.2,587.6L137.4,587.6Z" fill="none" stroke="#ff0000" stroke-width="1.3" stroke-linejoin="miter"/>
<path d="M149.7,582.6L152.6,587.6L146.8,587.6Z" fill="none" stroke="#ff0000" stroke-width="1.3" stroke-linejoin="miter"/>
<path d="M159.1,576.4L162,581.4L156.2,581.4Z" fill="none" stroke="#ff0000" stroke-width="1.3" stroke-linejoin="miter"/>
<path d="M168.5,549.5L171.4,554.5L165.6,554.5Z" fill="none" stroke="#ff0000" stroke-width="1.3" stroke-linejoin="miter"/>
<path d="M177.9,542.6L180.8,547.7L175,547.7Z" fill="none" stroke="#ff0000" stroke-width="1.3" stroke-linejoin="miter"/>
<path d="M187.3,546L190.2,551.1L184.4,551.1Z" fill="none" stroke="#ff0000" stroke-width="1.3" stroke-linejoin="miter"/>
<path d="M196.7,556.4L199.6,561.5L193.8,561.5Z" fill="none" stroke="#ff0000" stroke-width="1.3" stroke-linejoin="miter"/>
<path d="M206.1,577.2L209,582.2L203.2,582.2Z" fill="none" stroke="#ff0000" stroke-width="1.3" stroke-linejoin="miter"/>
<path d="M215.5,540.9L218.4,545.9L212.6,545.9Z" fill="none" stroke="#ff0000" stroke-width="1.3" stroke-linejoin="miter"/>
<path d="M224.9,499.3L227.8,504.3L222,504.3Z" fill="none" stroke="#ff0000" stroke-width="1.3" stroke-linejoin="miter"/>
<path d="M234.3,484.7L237.2,489.7L231.4,489.7Z" fill="none" stroke="#ff0000" stroke-width="1.3" stroke-linejoin="miter"/>
<path d="M243.7,465.5L246.6,470.6L240.8,470.6Z" fill="none" stroke="#ff0000" stroke-width="1.3" stroke-linejoin="miter"/>
<path d="M253.1,468.1L256,473.2L250.2,473.2Z" fill="none" stroke="#ff0000" stroke-width="1.3" stroke-linejoin="miter"/>
<path d="M262.5,479.5L265.4,484.5L259.6,484.5Z" fill="none" stroke="#ff0000" stroke-width="1.3" stroke-linejoin="miter"/>
<path d="M271.9,513.3L274.8,518.3L269,518.3Z" fill="none" stroke="#ff0000" stroke-width="1.3" stroke-linejoin="miter"/>
<path d="M281.3,542.6L284.2,547.7L278.4,547.7Z" fill="none" stroke="#ff0000" stroke-width="1.3" stroke-linejoin="miter"/>
<path d="M290.7,571.2L293.6,576.2L287.8,576.2Z" fill="none" stroke="#ff0000" stroke-width="1.3" stroke-linejoin="miter"/>
<path d="M55.7,586.9L58.6,592L52.8,592Z" fill="none" stroke="#ff0000" stroke-width="1.3" stroke-linejoin="miter"/>
<path d="M65.1,585.3L68,590.3L62.2,590.3Z" fill="none" stroke="#ff0000" stroke-width="1.3" stroke-linejoin="miter"/>
<path d="M74.5,580.5L77.4,585.5L71.6,585.5Z" fill="none" stroke="#ff0000" stroke-width="1.3" stroke-linejoin="miter"/>
<path d="M83.9,577.2L86.8,582.2L81,582.2Z" fill="none" stroke="#ff0000" stroke-width="1.3" stroke-linejoin="miter"/>
<path d="M93.3,572.3L96.2,577.4L90.4,577.4Z" fill="none" stroke="#ff0000" stroke-width="1.3" stroke-linejoin="miter"/>
<path d="M102.7,570.2L105.6,575.3L99.8,575.3Z" fill="none" stroke="#ff0000" stroke-width="1.3" stroke-linejoin="miter"/>
<path d="M112.1,569.6L115,574.6L109.2,574.6Z" fill="none" stroke="#ff0000" stroke-width="1.3" stroke-linejoin="miter"/>
<path d="M121.5,574L124.4,579L118.6,579Z" fill="none" stroke="#ff0000" stroke-width="1.3" stroke-linejoin="miter"/>
<path d="M130.9,577.2L133.8,582.2L128,582.2Z" fill="none" stroke="#ff0000" stroke-width="1.3" stroke-linejoin="miter"/>
<path d="M140.3,578.8L143.2,583.9L137.4,583.9Z" fill="none" stroke="#ff0000" stroke-width="1.3" stroke-linejoin="miter"/>
<path d="M149.7,580.5L152.6,585.5L146.8,585.5Z" fill="none" stroke="#ff0000" stroke-width="1.3" stroke-linejoin="miter"/>
<path d="M159.1,572.3L162,577.4L156.2,577.4Z" fill="none" stroke="#ff0000" stroke-width="1.3" stroke-linejoin="miter"/>
<path d="M168.5,557.2L171.4,562.3L165.6,562.3Z" fill="none" stroke="#ff0000" stroke-width="1.3" stroke-linejoin="miter"/>
<path d="M177.9,543.9L180.8,549L175,549Z" fill="none" stroke="#ff0000" stroke-width="1.3" stroke-linejoin="miter"/>
<path d="M187.3,546.4L190.2,551.4L184.4,551.4Z" fill="none" stroke="#ff0000" stroke-width="1.3" stroke-linejoin="miter"/>
<path d="M196.7,569.4L199.6,574.4L193.8,574.4Z" fill="none" stroke="#ff0000" stroke-width="1.3" stroke-linejoin="miter"/>
<path d="M206.1,586L209,591L203.2,591Z" fill="none" stroke="#ff0000" stroke-width="1.3" stroke-linejoin="miter"/>
<path d="M215.5,568.6L218.4,573.6L212.6,573.6Z" fill="none" stroke="#ff0000" stroke-width="1.3" stroke-linejoin="miter"/>
<path d="M224.9,521.9L227.8,526.9L222,526.9Z" fill="none" stroke="#ff0000" stroke-width="1.3" stroke-linejoin="miter"/>
<path d="M234.3,483.1L237.2,488.1L231.4,488.1Z" fill="none" stroke="#ff0000" stroke-width="1.3" stroke-linejoin="miter"/>
<path d="M243.7,463.6L246.6,468.6L240.8,468.6Z" fill="none" stroke="#ff0000" stroke-width="1.3" stroke-linejoin="miter"/>
<path d="M253.1,462L256,467L250.2,467Z" fill="none" stroke="#ff0000" stroke-width="1.3" stroke-linejoin="miter"/>
<path d="M262.5,488.9L265.4,493.9L259.6,493.9Z" fill="none" stroke="#ff0000" stroke-width="1.3" stroke-linejoin="miter"/>
<path d="M271.9,510.7L274.8,515.7L269,515.7Z" fill="none" stroke="#ff0000" stroke-width="1.3" stroke-linejoin="miter"/>
<path d="M281.3,541.5L284.2,546.5L278.4,546.5Z" fill="none" stroke="#ff0000" stroke-width="1.3" stroke-linejoin="miter"/>
<path d="M290.7,567.5L293.6,572.5L287.8,572.5Z" fill="none" stroke="#ff0000" stroke-width="1.3" stroke-linejoin="miter"/>
<line x1="253.1" y1="607.9" x2="253.1" y2="463.5" stroke="#ee0018" stroke-width="2.0" stroke-linecap="butt" stroke-dasharray="6.6,7.1"/>
<line x1="253.1" y1="463.5" x2="297.5" y2="463.5" stroke="#ff0000" stroke-width="2.0" stroke-linecap="butt" stroke-dasharray="7,6.5"/>
<line x1="253.1" y1="497.5" x2="297.5" y2="497.5" stroke="#0000ff" stroke-width="2.0" stroke-linecap="butt" stroke-dasharray="7,6.5"/>
<line x1="253.1" y1="559.2" x2="297.5" y2="559.2" stroke="#000" stroke-width="2.0" stroke-linecap="butt" stroke-dasharray="7,6.5"/>
<line x1="55.7" y1="607.9" x2="55.7" y2="604.6" stroke="#262626" stroke-width="1.0" stroke-linecap="butt"/>
<line x1="55.7" y1="445.6" x2="55.7" y2="448.9" stroke="#262626" stroke-width="1.0" stroke-linecap="butt"/>
<text x="55.1" y="623.8" font-family="Liberation Serif" font-size="12.4" font-weight="bold" fill="#000" text-anchor="middle">-45</text>
<line x1="96" y1="607.9" x2="96" y2="604.6" stroke="#262626" stroke-width="1.0" stroke-linecap="butt"/>
<line x1="96" y1="445.6" x2="96" y2="448.9" stroke="#262626" stroke-width="1.0" stroke-linecap="butt"/>
<text x="95.4" y="623.8" font-family="Liberation Serif" font-size="12.4" font-weight="bold" fill="#000" text-anchor="middle">-30</text>
<line x1="136.3" y1="607.9" x2="136.3" y2="604.6" stroke="#262626" stroke-width="1.0" stroke-linecap="butt"/>
<line x1="136.3" y1="445.6" x2="136.3" y2="448.9" stroke="#262626" stroke-width="1.0" stroke-linecap="butt"/>
<text x="135.7" y="623.8" font-family="Liberation Serif" font-size="12.4" font-weight="bold" fill="#000" text-anchor="middle">-15</text>
<line x1="176.6" y1="607.9" x2="176.6" y2="604.6" stroke="#262626" stroke-width="1.0" stroke-linecap="butt"/>
<line x1="176.6" y1="445.6" x2="176.6" y2="448.9" stroke="#262626" stroke-width="1.0" stroke-linecap="butt"/>
<text x="177.2" y="623.8" font-family="Liberation Serif" font-size="12.4" font-weight="bold" fill="#000" text-anchor="middle">0</text>
<line x1="216.9" y1="607.9" x2="216.9" y2="604.6" stroke="#262626" stroke-width="1.0" stroke-linecap="butt"/>
<line x1="216.9" y1="445.6" x2="216.9" y2="448.9" stroke="#262626" stroke-width="1.0" stroke-linecap="butt"/>
<text x="217.5" y="623.8" font-family="Liberation Serif" font-size="12.4" font-weight="bold" fill="#000" text-anchor="middle">15</text>
<line x1="257.2" y1="607.9" x2="257.2" y2="604.6" stroke="#262626" stroke-width="1.0" stroke-linecap="butt"/>
<line x1="257.2" y1="445.6" x2="257.2" y2="448.9" stroke="#262626" stroke-width="1.0" stroke-linecap="butt"/>
<text x="257.8" y="623.8" font-family="Liberation Serif" font-size="12.4" font-weight="bold" fill="#000" text-anchor="middle">30</text>
<line x1="297.5" y1="607.9" x2="297.5" y2="604.6" stroke="#262626" stroke-width="1.0" stroke-linecap="butt"/>
<line x1="297.5" y1="445.6" x2="297.5" y2="448.9" stroke="#262626" stroke-width="1.0" stroke-linecap="butt"/>
<text x="298.1" y="623.8" font-family="Liberation Serif" font-size="12.4" font-weight="bold" fill="#000" text-anchor="middle">45</text>
<line x1="55.7" y1="607.9" x2="59" y2="607.9" stroke="#262626" stroke-width="1.0" stroke-linecap="butt"/>
<line x1="297.5" y1="607.9" x2="294.2" y2="607.9" stroke="#262626" stroke-width="1.0" stroke-linecap="butt"/>
<text x="50.9" y="613.5" font-family="Liberation Serif" font-size="12.6" font-weight="bold" fill="#000" text-anchor="end">0</text>
<line x1="55.7" y1="575.4" x2="59" y2="575.4" stroke="#262626" stroke-width="1.0" stroke-linecap="butt"/>
<line x1="297.5" y1="575.4" x2="294.2" y2="575.4" stroke="#262626" stroke-width="1.0" stroke-linecap="butt"/>
<text x="50.9" y="581" font-family="Liberation Serif" font-size="12.6" font-weight="bold" fill="#000" text-anchor="end">0.2</text>
<line x1="55.7" y1="543" x2="59" y2="543" stroke="#262626" stroke-width="1.0" stroke-linecap="butt"/>
<line x1="297.5" y1="543" x2="294.2" y2="543" stroke="#262626" stroke-width="1.0" stroke-linecap="butt"/>
<text x="50.9" y="548.6" font-family="Liberation Serif" font-size="12.6" font-weight="bold" fill="#000" text-anchor="end">0.4</text>
<line x1="55.7" y1="510.5" x2="59" y2="510.5" stroke="#262626" stroke-width="1.0" stroke-linecap="butt"/>
<line x1="297.5" y1="510.5" x2="294.2" y2="510.5" stroke="#262626" stroke-width="1.0" stroke-linecap="butt"/>
<text x="50.9" y="516.1" font-family="Liberation Serif" font-size="12.6" font-weight="bold" fill="#000" text-anchor="end">0.6</text>
<line x1="55.7" y1="478.1" x2="59" y2="478.1" stroke="#262626" stroke-width="1.0" stroke-linecap="butt"/>
<line x1="297.5" y1="478.1" x2="294.2" y2="478.1" stroke="#262626" stroke-width="1.0" stroke-linecap="butt"/>
<text x="50.9" y="483.7" font-family="Liberation Serif" font-size="12.6" font-weight="bold" fill="#000" text-anchor="end">0.8</text>
<line x1="55.7" y1="445.6" x2="59" y2="445.6" stroke="#262626" stroke-width="1.0" stroke-linecap="butt"/>
<line x1="297.5" y1="445.6" x2="294.2" y2="445.6" stroke="#262626" stroke-width="1.0" stroke-linecap="butt"/>
<text x="50.9" y="451.2" font-family="Liberation Serif" font-size="12.6" font-weight="bold" fill="#000" text-anchor="end">1</text>
<text x="176.7" y="639.3" font-family="Liberation Serif" font-size="14" font-weight="bold" fill="#000" text-anchor="middle" textLength="25.6" lengthAdjust="spacingAndGlyphs"><tspan font-style="italic">θ</tspan> (°)</text>
<text x="29.2" y="527" font-family="Liberation Serif" font-size="14.6" font-weight="bold" fill="#000" text-anchor="middle" transform="rotate(-90 29.2 527)" textLength="101.3" lengthAdjust="spacingAndGlyphs">Radiation Pattern</text>
<text x="302.7" y="468" font-family="Liberation Serif" font-size="16.8" font-weight="bold" fill="#ff0000" text-anchor="start" textLength="29.1" lengthAdjust="spacingAndGlyphs">0.89</text>
<text x="303.7" y="504.6" font-family="Liberation Serif" font-size="16.8" font-weight="bold" fill="#0050ff" text-anchor="start" textLength="28.9" lengthAdjust="spacingAndGlyphs">0.68</text>
<text x="302.7" y="563.4" font-family="Liberation Serif" font-size="16.8" font-weight="bold" fill="#000" text-anchor="start" textLength="29.1" lengthAdjust="spacingAndGlyphs">0.30</text>
<text x="346.1" y="231.4" font-family="Liberation Serif" font-size="18" font-weight="bold" fill="#000" text-anchor="start">(d)</text>
<clipPath id="cd"><rect x="400.8" y="232.1" width="243.59999999999997" height="168.50000000000003"/></clipPath>
<g clip-path="url(#cd)">
<polyline points="400.8,379.5 410.3,364.1 419.8,350.2 429.2,332.1 438.7,322.3 448.2,309.4 457.6,297.7 467.1,288.1 476.6,286.9 486.1,297.4 495.6,303.7 505,307.9 514.5,314.2 524,324.8 533.5,333.2 542.9,337.4 552.4,256.3 561.9,265.8 571.4,276 580.8,286.8 590.3,298.4 599.8,310.5 609.2,323.4 618.7,336.9 628.2,351.1 637.7,366" fill="none" stroke="#0000ff" stroke-width="1.3" stroke-linejoin="round" stroke-linecap="butt" stroke-dasharray="4,2.6"/>
<polyline points="400.8,352.6 410.3,339.4 419.8,326 429.2,309.8 438.7,294.9 448.2,284.8 457.6,274 467.1,260.5 476.6,358.5 486.1,354.3 495.6,352.2 505,350.1 514.5,352.2 524,352.2 533.5,347.9 542.9,339.5 552.4,275.8 561.9,285.2 571.4,295.3 580.8,306.1 590.3,317.5 599.8,329.5 609.2,342.3 618.7,355.7 628.2,369.7 637.7,384.4" fill="none" stroke="#0000ff" stroke-width="1.3" stroke-linejoin="round" stroke-linecap="butt" stroke-dasharray="4,2.6"/>
<polyline points="400.8,330.5 410.3,309.7 419.8,296.6 429.2,276.8 438.7,265.6 448.2,255.3 457.6,245.3 467.1,385.6 476.6,312.1 486.1,316.4 495.6,320.6 505,324.8 514.5,329 524,333.2 533.5,335.3 542.9,336.6 552.4,301.7 561.9,311.5 571.4,322.1 580.8,333.4 590.3,345.4 599.8,358.1 609.2,371.4 618.7,385.5 628.2,248.6 637.7,264" fill="none" stroke="#0000ff" stroke-width="1.3" stroke-linejoin="round" stroke-linecap="butt" stroke-dasharray="4,2.6"/>
<polyline points="400.8,310.6 410.3,292.6 419.8,276.8 429.2,259.6 438.7,249.9 448.2,391.9 457.6,381.2 467.1,367.4 476.6,324.8 486.1,333.2 495.6,341.6 505,347.9 514.5,352.2 524,352.2 533.5,348.8 542.9,341.6 552.4,323.9 561.9,333.8 571.4,344.4 580.8,355.7 590.3,367.7 599.8,380.4 609.2,242.1 618.7,256.2 628.2,270.9 637.7,286.4" fill="none" stroke="#0000ff" stroke-width="1.3" stroke-linejoin="round" stroke-linecap="butt" stroke-dasharray="4,2.6"/>
<polyline points="400.8,283.7 410.3,267.2 419.8,252.1 429.2,384.4 438.7,370.4 448.2,359.5 457.6,346.4 467.1,333.6 476.6,302.9 486.1,303.7 495.6,307.9 505,313.4 514.5,322.7 524,331.1 533.5,335.3 542.9,337.4 552.4,344.3 561.9,353.4 571.4,363.2 580.8,373.7 590.3,384.7 599.8,244.8 609.2,257.2 618.7,270.2 628.2,283.8 637.7,298.1" fill="none" stroke="#0000ff" stroke-width="1.3" stroke-linejoin="round" stroke-linecap="butt" stroke-dasharray="4,2.6"/>
<polyline points="400.8,262.3 410.3,241.4 419.8,379.4 429.2,363.2 438.7,348.9 448.2,338.6 457.6,326 467.1,316.5 476.6,379.5 486.1,366.9 495.6,358.5 505,350.1 514.5,345.8 524,343.7 533.5,341.6 542.9,337.4 552.4,365.1 561.9,375 571.4,385.6 580.8,245.2 590.3,257.1 599.8,269.7 609.2,283.1 618.7,297.1 628.2,311.8 637.7,327.2" fill="none" stroke="#0000ff" stroke-width="1.3" stroke-linejoin="round" stroke-linecap="butt" stroke-dasharray="4,2.6"/>
<polyline points="400.8,390.5 410.3,370.5 419.8,355.2 429.2,336.7 438.7,323.5 448.2,310.3 457.6,298 467.1,283 476.6,341.6 486.1,345.8 495.6,347.9 505,345.8 514.5,343.7 524,341.6 533.5,339.5 542.9,338.3 552.4,386 561.9,244.5 571.4,255.3 580.8,266.8 590.3,279 599.8,292 609.2,305.6 618.7,320 628.2,335 637.7,350.8" fill="none" stroke="#0000ff" stroke-width="1.3" stroke-linejoin="round" stroke-linecap="butt" stroke-dasharray="4,2.6"/>
<polyline points="400.8,346.6 410.3,324.4 419.8,344.8 429.2,335.5 438.7,327.2 448.2,319.7 457.6,315.5 467.1,321.2 476.6,313.3 486.1,318 495.6,320.3 505,320.6 514.5,321.2 524,322.1 533.5,327.3 542.9,336.1 552.4,265.8 561.9,275.9 571.4,286.7 580.8,298.3 590.3,310.5 599.8,323.4 609.2,337.1 618.7,351.4 628.2,366.5 637.7,382.3" fill="none" stroke="#0000ff" stroke-width="1.3" stroke-linejoin="round" stroke-linecap="butt" stroke-dasharray="4,2.6"/>
<polyline points="400.8,339.1 410.3,318 419.8,301.2 429.2,290.2 438.7,278.4 448.2,268.7 457.6,258.6 467.1,251.1 476.6,243.5 486.1,385.9 495.6,371.5 505,353.8 514.5,338.3 524,337.4 533.5,337.4 542.9,337.4 552.4,358.5 561.9,369 571.4,380.3 580.8,240.6 590.3,253.4 599.8,266.9 609.2,281.1 618.7,296 628.2,311.7 637.7,328.1" fill="none" stroke="#0000ff" stroke-width="1.3" stroke-linejoin="round" stroke-linecap="butt" stroke-dasharray="4,2.6"/>
<polyline points="400.8,270.6 410.3,251.2 419.8,392.2 429.2,381.6 438.7,279 448.2,267.9 457.6,262.4 467.1,247.5 476.6,387.5 486.1,366.5 495.6,360.2 505,347.1 514.5,339.9 524,339.5 533.5,338.7 542.9,339.5 552.4,245.2 561.9,266.6 571.4,275.3 580.8,284.5 590.3,294.4 599.8,301.8 609.2,310.5 618.7,321.6 628.2,331.8 637.7,339.5" fill="none" stroke="#000" stroke-width="0.9" stroke-linejoin="round" stroke-linecap="butt"/>
<polyline points="400.8,346.6 410.3,324.4 419.8,344.8 429.2,335.5 438.7,327.2 448.2,319.7 457.6,315.5 467.1,321.2 476.6,313.3 486.1,318 495.6,320.3 505,320.6 514.5,321.2 524,322.1 533.5,327.3 542.9,336.1 552.4,316.1 561.9,309.2 571.4,312.3 580.8,320.1 590.3,329.8 599.8,339.1 609.2,350.5 618.7,362.3 628.2,376.2 637.7,241.4" fill="none" stroke="#000" stroke-width="0.9" stroke-linejoin="round" stroke-linecap="butt"/>
<polyline points="400.8,366.9 410.3,295.7 419.8,281.8 429.2,268.3 438.7,258.6 448.2,247.7 457.6,392.2 467.1,385.9 476.6,380.8 486.1,374.5 495.6,359.3 505,350.9 514.5,352.2 524,352.2 533.5,347.9 542.9,339.9 552.4,364.4 561.9,374.9 571.4,384.2 580.8,241.6 590.3,251.9 599.8,260.1 609.2,271.5 618.7,284.3 628.2,299.3 637.7,318" fill="none" stroke="#000" stroke-width="0.9" stroke-linejoin="round" stroke-linecap="butt"/>
<polyline points="400.8,270.6 410.3,251.2 419.8,384.6 429.2,366.9 438.7,350.5 448.2,337.2 457.6,330.1 467.1,322.1 476.6,325.6 486.1,328.3 495.6,331.9 505,334.5 514.5,336.1 524,336.1 533.5,336.1 542.9,340.8 552.4,365.2 561.9,375.3 571.4,384.6 580.8,241.8 590.3,252.1 599.8,260.3 609.2,271.7 618.7,284.5 628.2,299.5 637.7,318.3" fill="none" stroke="#a00000" stroke-width="1.1" stroke-linejoin="round" stroke-linecap="butt"/>
<polyline points="400.8,281 410.3,265 419.8,357.6 429.2,345 438.7,331.1 448.2,320.6 457.6,312.6 467.1,308.8 476.6,315.1 486.1,321.4 495.6,325.2 505,326.5 514.5,329 524,332.4 533.5,334.9 542.9,337.4 552.4,262.4 561.9,269.7 571.4,276.6 580.8,285.5 590.3,295.7 599.8,302.2 609.2,312.3 618.7,323.5 628.2,335.5 637.7,346.7" fill="none" stroke="#ff0000" stroke-width="0.9" stroke-linejoin="round" stroke-linecap="butt" stroke-dasharray="1.2,1.2"/>
<polyline points="400.8,339.1 410.3,318 419.8,301.2 429.2,290.2 438.7,278.4 448.2,268.7 457.6,258.6 467.1,251.1 476.6,243.5 486.1,385.9 495.6,371.5 505,353.8 514.5,338.3 524,337.4 533.5,337.4 542.9,337.4 552.4,329 561.9,321.6 571.4,318.5 580.8,323.5 590.3,332.8 599.8,340.2 609.2,351.3 618.7,365.2 628.2,380 637.7,245.6" fill="none" stroke="#ff0000" stroke-width="0.9" stroke-linejoin="round" stroke-linecap="butt" stroke-dasharray="1.2,1.2"/>
<polyline points="400.8,355.1 410.3,337.4 419.8,320.6 429.2,305.8 438.7,291.1 448.2,274.2 457.6,385 467.1,377 476.6,363.7 486.1,354.3 495.6,345.8 505,341.6 514.5,339.5 524,338.3 533.5,338.3 542.9,341.1 552.4,344.4 561.9,349.4 571.4,354.1 580.8,361.8 590.3,370.3 599.8,377.9 609.2,388.4 618.7,249 628.2,261.6 637.7,275.9" fill="none" stroke="#ff0000" stroke-width="0.9" stroke-linejoin="round" stroke-linecap="butt" stroke-dasharray="1.2,1.2"/>
</g>
<rect x="400.8" y="232.1" width="243.59999999999997" height="168.50000000000003" fill="none" stroke="#262626" stroke-width="1.3"/>
<circle cx="400.8" cy="379.5" r="2.3" fill="#0000ff" stroke="none" stroke-width="0"/>
<circle cx="410.3" cy="364.1" r="2.3" fill="#0000ff" stroke="none" stroke-width="0"/>
<circle cx="419.8" cy="350.2" r="2.3" fill="#0000ff" stroke="none" stroke-width="0"/>
<circle cx="429.2" cy="332.1" r="2.3" fill="#0000ff" stroke="none" stroke-width="0"/>
<circle cx="438.7" cy="322.3" r="2.3" fill="#0000ff" stroke="none" stroke-width="0"/>
<circle cx="448.2" cy="309.4" r="2.3" fill="#0000ff" stroke="none" stroke-width="0"/>
<circle cx="457.6" cy="297.7" r="2.3" fill="#0000ff" stroke="none" stroke-width="0"/>
<circle cx="467.1" cy="288.1" r="2.3" fill="#0000ff" stroke="none" stroke-width="0"/>
<circle cx="476.6" cy="286.9" r="2.3" fill="#0000ff" stroke="none" stroke-width="0"/>
<circle cx="486.1" cy="297.4" r="2.3" fill="#0000ff" stroke="none" stroke-width="0"/>
<circle cx="495.6" cy="303.7" r="2.3" fill="#0000ff" stroke="none" stroke-width="0"/>
<circle cx="505" cy="307.9" r="2.3" fill="#0000ff" stroke="none" stroke-width="0"/>
<circle cx="514.5" cy="314.2" r="2.3" fill="#0000ff" stroke="none" stroke-width="0"/>
<circle cx="524" cy="324.8" r="2.3" fill="#0000ff" stroke="none" stroke-width="0"/>
<circle cx="533.5" cy="333.2" r="2.3" fill="#0000ff" stroke="none" stroke-width="0"/>
<circle cx="542.9" cy="337.4" r="2.3" fill="#0000ff" stroke="none" stroke-width="0"/>
<circle cx="552.4" cy="256.3" r="2.3" fill="#0000ff" stroke="none" stroke-width="0"/>
<circle cx="561.9" cy="265.8" r="2.3" fill="#0000ff" stroke="none" stroke-width="0"/>
<circle cx="571.4" cy="276" r="2.3" fill="#0000ff" stroke="none" stroke-width="0"/>
<circle cx="580.8" cy="286.8" r="2.3" fill="#0000ff" stroke="none" stroke-width="0"/>
<circle cx="590.3" cy="298.4" r="2.3" fill="#0000ff" stroke="none" stroke-width="0"/>
<circle cx="599.8" cy="310.5" r="2.3" fill="#0000ff" stroke="none" stroke-width="0"/>
<circle cx="609.2" cy="323.4" r="2.3" fill="#0000ff" stroke="none" stroke-width="0"/>
<circle cx="618.7" cy="336.9" r="2.3" fill="#0000ff" stroke="none" stroke-width="0"/>
<circle cx="628.2" cy="351.1" r="2.3" fill="#0000ff" stroke="none" stroke-width="0"/>
<circle cx="637.7" cy="366" r="2.3" fill="#0000ff" stroke="none" stroke-width="0"/>
<circle cx="400.8" cy="352.6" r="2.3" fill="#0000ff" stroke="none" stroke-width="0"/>
<circle cx="410.3" cy="339.4" r="2.3" fill="#0000ff" stroke="none" stroke-width="0"/>
<circle cx="419.8" cy="326" r="2.3" fill="#0000ff" stroke="none" stroke-width="0"/>
<circle cx="429.2" cy="309.8" r="2.3" fill="#0000ff" stroke="none" stroke-width="0"/>
<circle cx="438.7" cy="294.9" r="2.3" fill="#0000ff" stroke="none" stroke-width="0"/>
<circle cx="448.2" cy="284.8" r="2.3" fill="#0000ff" stroke="none" stroke-width="0"/>
<circle cx="457.6" cy="274" r="2.3" fill="#0000ff" stroke="none" stroke-width="0"/>
<circle cx="467.1" cy="260.5" r="2.3" fill="#0000ff" stroke="none" stroke-width="0"/>
<circle cx="476.6" cy="358.5" r="2.3" fill="#0000ff" stroke="none" stroke-width="0"/>
<circle cx="486.1" cy="354.3" r="2.3" fill="#0000ff" stroke="none" stroke-width="0"/>
<circle cx="495.6" cy="352.2" r="2.3" fill="#0000ff" stroke="none" stroke-width="0"/>
<circle cx="505" cy="350.1" r="2.3" fill="#0000ff" stroke="none" stroke-width="0"/>
<circle cx="514.5" cy="352.2" r="2.3" fill="#0000ff" stroke="none" stroke-width="0"/>
<circle cx="524" cy="352.2" r="2.3" fill="#0000ff" stroke="none" stroke-width="0"/>
<circle cx="533.5" cy="347.9" r="2.3" fill="#0000ff" stroke="none" stroke-width="0"/>
<circle cx="542.9" cy="339.5" r="2.3" fill="#0000ff" stroke="none" stroke-width="0"/>
<circle cx="552.4" cy="275.8" r="2.3" fill="#0000ff" stroke="none" stroke-width="0"/>
<circle cx="561.9" cy="285.2" r="2.3" fill="#0000ff" stroke="none" stroke-width="0"/>
<circle cx="571.4" cy="295.3" r="2.3" fill="#0000ff" stroke="none" stroke-width="0"/>
<circle cx="580.8" cy="306.1" r="2.3" fill="#0000ff" stroke="none" stroke-width="0"/>
<circle cx="590.3" cy="317.5" r="2.3" fill="#0000ff" stroke="none" stroke-width="0"/>
<circle cx="599.8" cy="329.5" r="2.3" fill="#0000ff" stroke="none" stroke-width="0"/>
<circle cx="609.2" cy="342.3" r="2.3" fill="#0000ff" stroke="none" stroke-width="0"/>
<circle cx="618.7" cy="355.7" r="2.3" fill="#0000ff" stroke="none" stroke-width="0"/>
<circle cx="628.2" cy="369.7" r="2.3" fill="#0000ff" stroke="none" stroke-width="0"/>
<circle cx="637.7" cy="384.4" r="2.3" fill="#0000ff" stroke="none" stroke-width="0"/>
<circle cx="400.8" cy="330.5" r="2.3" fill="#0000ff" stroke="none" stroke-width="0"/>
<circle cx="410.3" cy="309.7" r="2.3" fill="#0000ff" stroke="none" stroke-width="0"/>
<circle cx="419.8" cy="296.6" r="2.3" fill="#0000ff" stroke="none" stroke-width="0"/>
<circle cx="429.2" cy="276.8" r="2.3" fill="#0000ff" stroke="none" stroke-width="0"/>
<circle cx="438.7" cy="265.6" r="2.3" fill="#0000ff" stroke="none" stroke-width="0"/>
<circle cx="448.2" cy="255.3" r="2.3" fill="#0000ff" stroke="none" stroke-width="0"/>
<circle cx="457.6" cy="245.3" r="2.3" fill="#0000ff" stroke="none" stroke-width="0"/>
<circle cx="467.1" cy="385.6" r="2.3" fill="#0000ff" stroke="none" stroke-width="0"/>
<circle cx="476.6" cy="312.1" r="2.3" fill="#0000ff" stroke="none" stroke-width="0"/>
<circle cx="486.1" cy="316.4" r="2.3" fill="#0000ff" stroke="none" stroke-width="0"/>
<circle cx="495.6" cy="320.6" r="2.3" fill="#0000ff" stroke="none" stroke-width="0"/>
<circle cx="505" cy="324.8" r="2.3" fill="#0000ff" stroke="none" stroke-width="0"/>
<circle cx="514.5" cy="329" r="2.3" fill="#0000ff" stroke="none" stroke-width="0"/>
<circle cx="524" cy="333.2" r="2.3" fill="#0000ff" stroke="none" stroke-width="0"/>
<circle cx="533.5" cy="335.3" r="2.3" fill="#0000ff" stroke="none" stroke-width="0"/>
<circle cx="542.9" cy="336.6" r="2.3" fill="#0000ff" stroke="none" stroke-width="0"/>
<circle cx="552.4" cy="301.7" r="2.3" fill="#0000ff" stroke="none" stroke-width="0"/>
<circle cx="561.9" cy="311.5" r="2.3" fill="#0000ff" stroke="none" stroke-width="0"/>
<circle cx="571.4" cy="322.1" r="2.3" fill="#0000ff" stroke="none" stroke-width="0"/>
<circle cx="580.8" cy="333.4" r="2.3" fill="#0000ff" stroke="none" stroke-width="0"/>
<circle cx="590.3" cy="345.4" r="2.3" fill="#0000ff" stroke="none" stroke-width="0"/>
<circle cx="599.8" cy="358.1" r="2.3" fill="#0000ff" stroke="none" stroke-width="0"/>
<circle cx="609.2" cy="371.4" r="2.3" fill="#0000ff" stroke="none" stroke-width="0"/>
<circle cx="618.7" cy="385.5" r="2.3" fill="#0000ff" stroke="none" stroke-width="0"/>
<circle cx="628.2" cy="248.6" r="2.3" fill="#0000ff" stroke="none" stroke-width="0"/>
<circle cx="637.7" cy="264" r="2.3" fill="#0000ff" stroke="none" stroke-width="0"/>
<circle cx="400.8" cy="310.6" r="2.3" fill="#0000ff" stroke="none" stroke-width="0"/>
<circle cx="410.3" cy="292.6" r="2.3" fill="#0000ff" stroke="none" stroke-width="0"/>
<circle cx="419.8" cy="276.8" r="2.3" fill="#0000ff" stroke="none" stroke-width="0"/>
<circle cx="429.2" cy="259.6" r="2.3" fill="#0000ff" stroke="none" stroke-width="0"/>
<circle cx="438.7" cy="249.9" r="2.3" fill="#0000ff" stroke="none" stroke-width="0"/>
<circle cx="448.2" cy="391.9" r="2.3" fill="#0000ff" stroke="none" stroke-width="0"/>
<circle cx="457.6" cy="381.2" r="2.3" fill="#0000ff" stroke="none" stroke-width="0"/>
<circle cx="467.1" cy="367.4" r="2.3" fill="#0000ff" stroke="none" stroke-width="0"/>
<circle cx="476.6" cy="324.8" r="2.3" fill="#0000ff" stroke="none" stroke-width="0"/>
<circle cx="486.1" cy="333.2" r="2.3" fill="#0000ff" stroke="none" stroke-width="0"/>
<circle cx="495.6" cy="341.6" r="2.3" fill="#0000ff" stroke="none" stroke-width="0"/>
<circle cx="505" cy="347.9" r="2.3" fill="#0000ff" stroke="none" stroke-width="0"/>
<circle cx="514.5" cy="352.2" r="2.3" fill="#0000ff" stroke="none" stroke-width="0"/>
<circle cx="524" cy="352.2" r="2.3" fill="#0000ff" stroke="none" stroke-width="0"/>
<circle cx="533.5" cy="348.8" r="2.3" fill="#0000ff" stroke="none" stroke-width="0"/>
<circle cx="542.9" cy="341.6" r="2.3" fill="#0000ff" stroke="none" stroke-width="0"/>
<circle cx="552.4" cy="323.9" r="2.3" fill="#0000ff" stroke="none" stroke-width="0"/>
<circle cx="561.9" cy="333.8" r="2.3" fill="#0000ff" stroke="none" stroke-width="0"/>
<circle cx="571.4" cy="344.4" r="2.3" fill="#0000ff" stroke="none" stroke-width="0"/>
<circle cx="580.8" cy="355.7" r="2.3" fill="#0000ff" stroke="none" stroke-width="0"/>
<circle cx="590.3" cy="367.7" r="2.3" fill="#0000ff" stroke="none" stroke-width="0"/>
<circle cx="599.8" cy="380.4" r="2.3" fill="#0000ff" stroke="none" stroke-width="0"/>
<circle cx="609.2" cy="242.1" r="2.3" fill="#0000ff" stroke="none" stroke-width="0"/>
<circle cx="618.7" cy="256.2" r="2.3" fill="#0000ff" stroke="none" stroke-width="0"/>
<circle cx="628.2" cy="270.9" r="2.3" fill="#0000ff" stroke="none" stroke-width="0"/>
<circle cx="637.7" cy="286.4" r="2.3" fill="#0000ff" stroke="none" stroke-width="0"/>
<circle cx="400.8" cy="283.7" r="2.3" fill="#0000ff" stroke="none" stroke-width="0"/>
<circle cx="410.3" cy="267.2" r="2.3" fill="#0000ff" stroke="none" stroke-width="0"/>
<circle cx="419.8" cy="252.1" r="2.3" fill="#0000ff" stroke="none" stroke-width="0"/>
<circle cx="429.2" cy="384.4" r="2.3" fill="#0000ff" stroke="none" stroke-width="0"/>
<circle cx="438.7" cy="370.4" r="2.3" fill="#0000ff" stroke="none" stroke-width="0"/>
<circle cx="448.2" cy="359.5" r="2.3" fill="#0000ff" stroke="none" stroke-width="0"/>
<circle cx="457.6" cy="346.4" r="2.3" fill="#0000ff" stroke="none" stroke-width="0"/>
<circle cx="467.1" cy="333.6" r="2.3" fill="#0000ff" stroke="none" stroke-width="0"/>
<circle cx="476.6" cy="302.9" r="2.3" fill="#0000ff" stroke="none" stroke-width="0"/>
<circle cx="486.1" cy="303.7" r="2.3" fill="#0000ff" stroke="none" stroke-width="0"/>
<circle cx="495.6" cy="307.9" r="2.3" fill="#0000ff" stroke="none" stroke-width="0"/>
<circle cx="505" cy="313.4" r="2.3" fill="#0000ff" stroke="none" stroke-width="0"/>
<circle cx="514.5" cy="322.7" r="2.3" fill="#0000ff" stroke="none" stroke-width="0"/>
<circle cx="524" cy="331.1" r="2.3" fill="#0000ff" stroke="none" stroke-width="0"/>
<circle cx="533.5" cy="335.3" r="2.3" fill="#0000ff" stroke="none" stroke-width="0"/>
<circle cx="542.9" cy="337.4" r="2.3" fill="#0000ff" stroke="none" stroke-width="0"/>
<circle cx="552.4" cy="344.3" r="2.3" fill="#0000ff" stroke="none" stroke-width="0"/>
<circle cx="561.9" cy="353.4" r="2.3" fill="#0000ff" stroke="none" stroke-width="0"/>
<circle cx="571.4" cy="363.2" r="2.3" fill="#0000ff" stroke="none" stroke-width="0"/>
<circle cx="580.8" cy="373.7" r="2.3" fill="#0000ff" stroke="none" stroke-width="0"/>
<circle cx="590.3" cy="384.7" r="2.3" fill="#0000ff" stroke="none" stroke-width="0"/>
<circle cx="599.8" cy="244.8" r="2.3" fill="#0000ff" stroke="none" stroke-width="0"/>
<circle cx="609.2" cy="257.2" r="2.3" fill="#0000ff" stroke="none" stroke-width="0"/>
<circle cx="618.7" cy="270.2" r="2.3" fill="#0000ff" stroke="none" stroke-width="0"/>
<circle cx="628.2" cy="283.8" r="2.3" fill="#0000ff" stroke="none" stroke-width="0"/>
<circle cx="637.7" cy="298.1" r="2.3" fill="#0000ff" stroke="none" stroke-width="0"/>
<circle cx="400.8" cy="262.3" r="2.3" fill="#0000ff" stroke="none" stroke-width="0"/>
<circle cx="410.3" cy="241.4" r="2.3" fill="#0000ff" stroke="none" stroke-width="0"/>
<circle cx="419.8" cy="379.4" r="2.3" fill="#0000ff" stroke="none" stroke-width="0"/>
<circle cx="429.2" cy="363.2" r="2.3" fill="#0000ff" stroke="none" stroke-width="0"/>
<circle cx="438.7" cy="348.9" r="2.3" fill="#0000ff" stroke="none" stroke-width="0"/>
<circle cx="448.2" cy="338.6" r="2.3" fill="#0000ff" stroke="none" stroke-width="0"/>
<circle cx="457.6" cy="326" r="2.3" fill="#0000ff" stroke="none" stroke-width="0"/>
<circle cx="467.1" cy="316.5" r="2.3" fill="#0000ff" stroke="none" stroke-width="0"/>
<circle cx="476.6" cy="379.5" r="2.3" fill="#0000ff" stroke="none" stroke-width="0"/>
<circle cx="486.1" cy="366.9" r="2.3" fill="#0000ff" stroke="none" stroke-width="0"/>
<circle cx="495.6" cy="358.5" r="2.3" fill="#0000ff" stroke="none" stroke-width="0"/>
<circle cx="505" cy="350.1" r="2.3" fill="#0000ff" stroke="none" stroke-width="0"/>
<circle cx="514.5" cy="345.8" r="2.3" fill="#0000ff" stroke="none" stroke-width="0"/>
<circle cx="524" cy="343.7" r="2.3" fill="#0000ff" stroke="none" stroke-width="0"/>
<circle cx="533.5" cy="341.6" r="2.3" fill="#0000ff" stroke="none" stroke-width="0"/>
<circle cx="542.9" cy="337.4" r="2.3" fill="#0000ff" stroke="none" stroke-width="0"/>
<circle cx="552.4" cy="365.1" r="2.3" fill="#0000ff" stroke="none" stroke-width="0"/>
<circle cx="561.9" cy="375" r="2.3" fill="#0000ff" stroke="none" stroke-width="0"/>
<circle cx="571.4" cy="385.6" r="2.3" fill="#0000ff" stroke="none" stroke-width="0"/>
<circle cx="580.8" cy="245.2" r="2.3" fill="#0000ff" stroke="none" stroke-width="0"/>
<circle cx="590.3" cy="257.1" r="2.3" fill="#0000ff" stroke="none" stroke-width="0"/>
<circle cx="599.8" cy="269.7" r="2.3" fill="#0000ff" stroke="none" stroke-width="0"/>
<circle cx="609.2" cy="283.1" r="2.3" fill="#0000ff" stroke="none" stroke-width="0"/>
<circle cx="618.7" cy="297.1" r="2.3" fill="#0000ff" stroke="none" stroke-width="0"/>
<circle cx="628.2" cy="311.8" r="2.3" fill="#0000ff" stroke="none" stroke-width="0"/>
<circle cx="637.7" cy="327.2" r="2.3" fill="#0000ff" stroke="none" stroke-width="0"/>
<circle cx="400.8" cy="390.5" r="2.3" fill="#0000ff" stroke="none" stroke-width="0"/>
<circle cx="410.3" cy="370.5" r="2.3" fill="#0000ff" stroke="none" stroke-width="0"/>
<circle cx="419.8" cy="355.2" r="2.3" fill="#0000ff" stroke="none" stroke-width="0"/>
<circle cx="429.2" cy="336.7" r="2.3" fill="#0000ff" stroke="none" stroke-width="0"/>
<circle cx="438.7" cy="323.5" r="2.3" fill="#0000ff" stroke="none" stroke-width="0"/>
<circle cx="448.2" cy="310.3" r="2.3" fill="#0000ff" stroke="none" stroke-width="0"/>
<circle cx="457.6" cy="298" r="2.3" fill="#0000ff" stroke="none" stroke-width="0"/>
<circle cx="467.1" cy="283" r="2.3" fill="#0000ff" stroke="none" stroke-width="0"/>
<circle cx="476.6" cy="341.6" r="2.3" fill="#0000ff" stroke="none" stroke-width="0"/>
<circle cx="486.1" cy="345.8" r="2.3" fill="#0000ff" stroke="none" stroke-width="0"/>
<circle cx="495.6" cy="347.9" r="2.3" fill="#0000ff" stroke="none" stroke-width="0"/>
<circle cx="505" cy="345.8" r="2.3" fill="#0000ff" stroke="none" stroke-width="0"/>
<circle cx="514.5" cy="343.7" r="2.3" fill="#0000ff" stroke="none" stroke-width="0"/>
<circle cx="524" cy="341.6" r="2.3" fill="#0000ff" stroke="none" stroke-width="0"/>
<circle cx="533.5" cy="339.5" r="2.3" fill="#0000ff" stroke="none" stroke-width="0"/>
<circle cx="542.9" cy="338.3" r="2.3" fill="#0000ff" stroke="none" stroke-width="0"/>
<circle cx="552.4" cy="386" r="2.3" fill="#0000ff" stroke="none" stroke-width="0"/>
<circle cx="561.9" cy="244.5" r="2.3" fill="#0000ff" stroke="none" stroke-width="0"/>
<circle cx="571.4" cy="255.3" r="2.3" fill="#0000ff" stroke="none" stroke-width="0"/>
<circle cx="580.8" cy="266.8" r="2.3" fill="#0000ff" stroke="none" stroke-width="0"/>
<circle cx="590.3" cy="279" r="2.3" fill="#0000ff" stroke="none" stroke-width="0"/>
<circle cx="599.8" cy="292" r="2.3" fill="#0000ff" stroke="none" stroke-width="0"/>
<circle cx="609.2" cy="305.6" r="2.3" fill="#0000ff" stroke="none" stroke-width="0"/>
<circle cx="618.7" cy="320" r="2.3" fill="#0000ff" stroke="none" stroke-width="0"/>
<circle cx="628.2" cy="335" r="2.3" fill="#0000ff" stroke="none" stroke-width="0"/>
<circle cx="637.7" cy="350.8" r="2.3" fill="#0000ff" stroke="none" stroke-width="0"/>
<circle cx="400.8" cy="346.6" r="2.3" fill="#0000ff" stroke="none" stroke-width="0"/>
<circle cx="410.3" cy="324.4" r="2.3" fill="#0000ff" stroke="none" stroke-width="0"/>
<circle cx="419.8" cy="344.8" r="2.3" fill="#0000ff" stroke="none" stroke-width="0"/>
<circle cx="429.2" cy="335.5" r="2.3" fill="#0000ff" stroke="none" stroke-width="0"/>
<circle cx="438.7" cy="327.2" r="2.3" fill="#0000ff" stroke="none" stroke-width="0"/>
<circle cx="448.2" cy="319.7" r="2.3" fill="#0000ff" stroke="none" stroke-width="0"/>
<circle cx="457.6" cy="315.5" r="2.3" fill="#0000ff" stroke="none" stroke-width="0"/>
<circle cx="467.1" cy="321.2" r="2.3" fill="#0000ff" stroke="none" stroke-width="0"/>
<circle cx="476.6" cy="313.3" r="2.3" fill="#0000ff" stroke="none" stroke-width="0"/>
<circle cx="486.1" cy="318" r="2.3" fill="#0000ff" stroke="none" stroke-width="0"/>
<circle cx="495.6" cy="320.3" r="2.3" fill="#0000ff" stroke="none" stroke-width="0"/>
<circle cx="505" cy="320.6" r="2.3" fill="#0000ff" stroke="none" stroke-width="0"/>
<circle cx="514.5" cy="321.2" r="2.3" fill="#0000ff" stroke="none" stroke-width="0"/>
<circle cx="524" cy="322.1" r="2.3" fill="#0000ff" stroke="none" stroke-width="0"/>
<circle cx="533.5" cy="327.3" r="2.3" fill="#0000ff" stroke="none" stroke-width="0"/>
<circle cx="542.9" cy="336.1" r="2.3" fill="#0000ff" stroke="none" stroke-width="0"/>
<circle cx="552.4" cy="265.8" r="2.3" fill="#0000ff" stroke="none" stroke-width="0"/>
<circle cx="561.9" cy="275.9" r="2.3" fill="#0000ff" stroke="none" stroke-width="0"/>
<circle cx="571.4" cy="286.7" r="2.3" fill="#0000ff" stroke="none" stroke-width="0"/>
<circle cx="580.8" cy="298.3" r="2.3" fill="#0000ff" stroke="none" stroke-width="0"/>
<circle cx="590.3" cy="310.5" r="2.3" fill="#0000ff" stroke="none" stroke-width="0"/>
<circle cx="599.8" cy="323.4" r="2.3" fill="#0000ff" stroke="none" stroke-width="0"/>
<circle cx="609.2" cy="337.1" r="2.3" fill="#0000ff" stroke="none" stroke-width="0"/>
<circle cx="618.7" cy="351.4" r="2.3" fill="#0000ff" stroke="none" stroke-width="0"/>
<circle cx="628.2" cy="366.5" r="2.3" fill="#0000ff" stroke="none" stroke-width="0"/>
<circle cx="637.7" cy="382.3" r="2.3" fill="#0000ff" stroke="none" stroke-width="0"/>
<circle cx="400.8" cy="339.1" r="2.3" fill="#0000ff" stroke="none" stroke-width="0"/>
<circle cx="410.3" cy="318" r="2.3" fill="#0000ff" stroke="none" stroke-width="0"/>
<circle cx="419.8" cy="301.2" r="2.3" fill="#0000ff" stroke="none" stroke-width="0"/>
<circle cx="429.2" cy="290.2" r="2.3" fill="#0000ff" stroke="none" stroke-width="0"/>
<circle cx="438.7" cy="278.4" r="2.3" fill="#0000ff" stroke="none" stroke-width="0"/>
<circle cx="448.2" cy="268.7" r="2.3" fill="#0000ff" stroke="none" stroke-width="0"/>
<circle cx="457.6" cy="258.6" r="2.3" fill="#0000ff" stroke="none" stroke-width="0"/>
<circle cx="467.1" cy="251.1" r="2.3" fill="#0000ff" stroke="none" stroke-width="0"/>
<circle cx="476.6" cy="243.5" r="2.3" fill="#0000ff" stroke="none" stroke-width="0"/>
<circle cx="486.1" cy="385.9" r="2.3" fill="#0000ff" stroke="none" stroke-width="0"/>
<circle cx="495.6" cy="371.5" r="2.3" fill="#0000ff" stroke="none" stroke-width="0"/>
<circle cx="505" cy="353.8" r="2.3" fill="#0000ff" stroke="none" stroke-width="0"/>
<circle cx="514.5" cy="338.3" r="2.3" fill="#0000ff" stroke="none" stroke-width="0"/>
<circle cx="524" cy="337.4" r="2.3" fill="#0000ff" stroke="none" stroke-width="0"/>
<circle cx="533.5" cy="337.4" r="2.3" fill="#0000ff" stroke="none" stroke-width="0"/>
<circle cx="542.9" cy="337.4" r="2.3" fill="#0000ff" stroke="none" stroke-width="0"/>
<circle cx="552.4" cy="358.5" r="2.3" fill="#0000ff" stroke="none" stroke-width="0"/>
<circle cx="561.9" cy="369" r="2.3" fill="#0000ff" stroke="none" stroke-width="0"/>
<circle cx="571.4" cy="380.3" r="2.3" fill="#0000ff" stroke="none" stroke-width="0"/>
<circle cx="580.8" cy="240.6" r="2.3" fill="#0000ff" stroke="none" stroke-width="0"/>
<circle cx="590.3" cy="253.4" r="2.3" fill="#0000ff" stroke="none" stroke-width="0"/>
<circle cx="599.8" cy="266.9" r="2.3" fill="#0000ff" stroke="none" stroke-width="0"/>
<circle cx="609.2" cy="281.1" r="2.3" fill="#0000ff" stroke="none" stroke-width="0"/>
<circle cx="618.7" cy="296" r="2.3" fill="#0000ff" stroke="none" stroke-width="0"/>
<circle cx="628.2" cy="311.7" r="2.3" fill="#0000ff" stroke="none" stroke-width="0"/>
<circle cx="637.7" cy="328.1" r="2.3" fill="#0000ff" stroke="none" stroke-width="0"/>
<circle cx="400.8" cy="270.6" r="2.4" fill="none" stroke="#000" stroke-width="1.1"/>
<circle cx="410.3" cy="251.2" r="2.4" fill="none" stroke="#000" stroke-width="1.1"/>
<circle cx="419.8" cy="392.2" r="2.4" fill="none" stroke="#000" stroke-width="1.1"/>
<circle cx="429.2" cy="381.6" r="2.4" fill="none" stroke="#000" stroke-width="1.1"/>
<circle cx="438.7" cy="279" r="2.4" fill="none" stroke="#000" stroke-width="1.1"/>
<circle cx="448.2" cy="267.9" r="2.4" fill="none" stroke="#000" stroke-width="1.1"/>
<circle cx="457.6" cy="262.4" r="2.4" fill="none" stroke="#000" stroke-width="1.1"/>
<circle cx="467.1" cy="247.5" r="2.4" fill="none" stroke="#000" stroke-width="1.1"/>
<circle cx="476.6" cy="387.5" r="2.4" fill="none" stroke="#000" stroke-width="1.1"/>
<circle cx="486.1" cy="366.5" r="2.4" fill="none" stroke="#000" stroke-width="1.1"/>
<circle cx="495.6" cy="360.2" r="2.4" fill="none" stroke="#000" stroke-width="1.1"/>
<circle cx="505" cy="347.1" r="2.4" fill="none" stroke="#000" stroke-width="1.1"/>
<circle cx="514.5" cy="339.9" r="2.4" fill="none" stroke="#000" stroke-width="1.1"/>
<circle cx="524" cy="339.5" r="2.4" fill="none" stroke="#000" stroke-width="1.1"/>
<circle cx="533.5" cy="338.7" r="2.4" fill="none" stroke="#000" stroke-width="1.1"/>
<circle cx="542.9" cy="339.5" r="2.4" fill="none" stroke="#000" stroke-width="1.1"/>
<circle cx="552.4" cy="245.2" r="2.4" fill="none" stroke="#000" stroke-width="1.1"/>
<circle cx="561.9" cy="266.6" r="2.4" fill="none" stroke="#000" stroke-width="1.1"/>
<circle cx="571.4" cy="275.3" r="2.4" fill="none" stroke="#000" stroke-width="1.1"/>
<circle cx="580.8" cy="284.5" r="2.4" fill="none" stroke="#000" stroke-width="1.1"/>
<circle cx="590.3" cy="294.4" r="2.4" fill="none" stroke="#000" stroke-width="1.1"/>
<circle cx="599.8" cy="301.8" r="2.4" fill="none" stroke="#000" stroke-width="1.1"/>
<circle cx="609.2" cy="310.5" r="2.4" fill="none" stroke="#000" stroke-width="1.1"/>
<circle cx="618.7" cy="321.6" r="2.4" fill="none" stroke="#000" stroke-width="1.1"/>
<circle cx="628.2" cy="331.8" r="2.4" fill="none" stroke="#000" stroke-width="1.1"/>
<circle cx="637.7" cy="339.5" r="2.4" fill="none" stroke="#000" stroke-width="1.1"/>
<circle cx="400.8" cy="346.6" r="2.4" fill="none" stroke="#000" stroke-width="1.1"/>
<circle cx="410.3" cy="324.4" r="2.4" fill="none" stroke="#000" stroke-width="1.1"/>
<circle cx="419.8" cy="344.8" r="2.4" fill="none" stroke="#000" stroke-width="1.1"/>
<circle cx="429.2" cy="335.5" r="2.4" fill="none" stroke="#000" stroke-width="1.1"/>
<circle cx="438.7" cy="327.2" r="2.4" fill="none" stroke="#000" stroke-width="1.1"/>
<circle cx="448.2" cy="319.7" r="2.4" fill="none" stroke="#000" stroke-width="1.1"/>
<circle cx="457.6" cy="315.5" r="2.4" fill="none" stroke="#000" stroke-width="1.1"/>
<circle cx="467.1" cy="321.2" r="2.4" fill="none" stroke="#000" stroke-width="1.1"/>
<circle cx="476.6" cy="313.3" r="2.4" fill="none" stroke="#000" stroke-width="1.1"/>
<circle cx="486.1" cy="318" r="2.4" fill="none" stroke="#000" stroke-width="1.1"/>
<circle cx="495.6" cy="320.3" r="2.4" fill="none" stroke="#000" stroke-width="1.1"/>
<circle cx="505" cy="320.6" r="2.4" fill="none" stroke="#000" stroke-width="1.1"/>
<circle cx="514.5" cy="321.2" r="2.4" fill="none" stroke="#000" stroke-width="1.1"/>
<circle cx="524" cy="322.1" r="2.4" fill="none" stroke="#000" stroke-width="1.1"/>
<circle cx="533.5" cy="327.3" r="2.4" fill="none" stroke="#000" stroke-width="1.1"/>
<circle cx="542.9" cy="336.1" r="2.4" fill="none" stroke="#000" stroke-width="1.1"/>
<circle cx="552.4" cy="316.1" r="2.4" fill="none" stroke="#000" stroke-width="1.1"/>
<circle cx="561.9" cy="309.2" r="2.4" fill="none" stroke="#000" stroke-width="1.1"/>
<circle cx="571.4" cy="312.3" r="2.4" fill="none" stroke="#000" stroke-width="1.1"/>
<circle cx="580.8" cy="320.1" r="2.4" fill="none" stroke="#000" stroke-width="1.1"/>
<circle cx="590.3" cy="329.8" r="2.4" fill="none" stroke="#000" stroke-width="1.1"/>
<circle cx="599.8" cy="339.1" r="2.4" fill="none" stroke="#000" stroke-width="1.1"/>
<circle cx="609.2" cy="350.5" r="2.4" fill="none" stroke="#000" stroke-width="1.1"/>
<circle cx="618.7" cy="362.3" r="2.4" fill="none" stroke="#000" stroke-width="1.1"/>
<circle cx="628.2" cy="376.2" r="2.4" fill="none" stroke="#000" stroke-width="1.1"/>
<circle cx="637.7" cy="241.4" r="2.4" fill="none" stroke="#000" stroke-width="1.1"/>
<circle cx="400.8" cy="366.9" r="2.4" fill="none" stroke="#000" stroke-width="1.1"/>
<circle cx="410.3" cy="295.7" r="2.4" fill="none" stroke="#000" stroke-width="1.1"/>
<circle cx="419.8" cy="281.8" r="2.4" fill="none" stroke="#000" stroke-width="1.1"/>
<circle cx="429.2" cy="268.3" r="2.4" fill="none" stroke="#000" stroke-width="1.1"/>
<circle cx="438.7" cy="258.6" r="2.4" fill="none" stroke="#000" stroke-width="1.1"/>
<circle cx="448.2" cy="247.7" r="2.4" fill="none" stroke="#000" stroke-width="1.1"/>
<circle cx="457.6" cy="392.2" r="2.4" fill="none" stroke="#000" stroke-width="1.1"/>
<circle cx="467.1" cy="385.9" r="2.4" fill="none" stroke="#000" stroke-width="1.1"/>
<circle cx="476.6" cy="380.8" r="2.4" fill="none" stroke="#000" stroke-width="1.1"/>
<circle cx="486.1" cy="374.5" r="2.4" fill="none" stroke="#000" stroke-width="1.1"/>
<circle cx="495.6" cy="359.3" r="2.4" fill="none" stroke="#000" stroke-width="1.1"/>
<circle cx="505" cy="350.9" r="2.4" fill="none" stroke="#000" stroke-width="1.1"/>
<circle cx="514.5" cy="352.2" r="2.4" fill="none" stroke="#000" stroke-width="1.1"/>
<circle cx="524" cy="352.2" r="2.4" fill="none" stroke="#000" stroke-width="1.1"/>
<circle cx="533.5" cy="347.9" r="2.4" fill="none" stroke="#000" stroke-width="1.1"/>
<circle cx="542.9" cy="339.9" r="2.4" fill="none" stroke="#000" stroke-width="1.1"/>
<circle cx="552.4" cy="364.4" r="2.4" fill="none" stroke="#000" stroke-width="1.1"/>
<circle cx="561.9" cy="374.9" r="2.4" fill="none" stroke="#000" stroke-width="1.1"/>
<circle cx="571.4" cy="384.2" r="2.4" fill="none" stroke="#000" stroke-width="1.1"/>
<circle cx="580.8" cy="241.6" r="2.4" fill="none" stroke="#000" stroke-width="1.1"/>
<circle cx="590.3" cy="251.9" r="2.4" fill="none" stroke="#000" stroke-width="1.1"/>
<circle cx="599.8" cy="260.1" r="2.4" fill="none" stroke="#000" stroke-width="1.1"/>
<circle cx="609.2" cy="271.5" r="2.4" fill="none" stroke="#000" stroke-width="1.1"/>
<circle cx="618.7" cy="284.3" r="2.4" fill="none" stroke="#000" stroke-width="1.1"/>
<circle cx="628.2" cy="299.3" r="2.4" fill="none" stroke="#000" stroke-width="1.1"/>
<circle cx="637.7" cy="318" r="2.4" fill="none" stroke="#000" stroke-width="1.1"/>
<path d="M400.8,277.9L403.7,282.9L397.9,282.9Z" fill="none" stroke="#ff0000" stroke-width="1.3" stroke-linejoin="miter"/>
<path d="M410.3,261.9L413.2,266.9L407.3,266.9Z" fill="none" stroke="#ff0000" stroke-width="1.3" stroke-linejoin="miter"/>
<path d="M419.8,354.5L422.7,359.6L416.8,359.6Z" fill="none" stroke="#ff0000" stroke-width="1.3" stroke-linejoin="miter"/>
<path d="M429.2,341.9L432.2,346.9L426.3,346.9Z" fill="none" stroke="#ff0000" stroke-width="1.3" stroke-linejoin="miter"/>
<path d="M438.7,328L441.6,333L435.8,333Z" fill="none" stroke="#ff0000" stroke-width="1.3" stroke-linejoin="miter"/>
<path d="M448.2,317.5L451.1,322.5L445.2,322.5Z" fill="none" stroke="#ff0000" stroke-width="1.3" stroke-linejoin="miter"/>
<path d="M457.6,309.5L460.6,314.5L454.7,314.5Z" fill="none" stroke="#ff0000" stroke-width="1.3" stroke-linejoin="miter"/>
<path d="M467.1,305.7L470.1,310.7L464.2,310.7Z" fill="none" stroke="#ff0000" stroke-width="1.3" stroke-linejoin="miter"/>
<path d="M476.6,312L479.5,317L473.7,317Z" fill="none" stroke="#ff0000" stroke-width="1.3" stroke-linejoin="miter"/>
<path d="M486.1,318.3L489,323.3L483.1,323.3Z" fill="none" stroke="#ff0000" stroke-width="1.3" stroke-linejoin="miter"/>
<path d="M495.6,322.1L498.5,327.1L492.6,327.1Z" fill="none" stroke="#ff0000" stroke-width="1.3" stroke-linejoin="miter"/>
<path d="M505,323.4L508,328.4L502.1,328.4Z" fill="none" stroke="#ff0000" stroke-width="1.3" stroke-linejoin="miter"/>
<path d="M514.5,325.9L517.4,330.9L511.6,330.9Z" fill="none" stroke="#ff0000" stroke-width="1.3" stroke-linejoin="miter"/>
<path d="M524,329.3L526.9,334.3L521,334.3Z" fill="none" stroke="#ff0000" stroke-width="1.3" stroke-linejoin="miter"/>
<path d="M533.5,331.8L536.4,336.8L530.5,336.8Z" fill="none" stroke="#ff0000" stroke-width="1.3" stroke-linejoin="miter"/>
<path d="M542.9,334.3L545.9,339.3L540,339.3Z" fill="none" stroke="#ff0000" stroke-width="1.3" stroke-linejoin="miter"/>
<path d="M552.4,259.3L555.3,264.4L549.5,264.4Z" fill="none" stroke="#ff0000" stroke-width="1.3" stroke-linejoin="miter"/>
<path d="M561.9,266.6L564.8,271.6L558.9,271.6Z" fill="none" stroke="#ff0000" stroke-width="1.3" stroke-linejoin="miter"/>
<path d="M571.4,273.5L574.3,278.5L568.4,278.5Z" fill="none" stroke="#ff0000" stroke-width="1.3" stroke-linejoin="miter"/>
<path d="M580.8,282.4L583.8,287.4L577.9,287.4Z" fill="none" stroke="#ff0000" stroke-width="1.3" stroke-linejoin="miter"/>
<path d="M590.3,292.6L593.2,297.6L587.4,297.6Z" fill="none" stroke="#ff0000" stroke-width="1.3" stroke-linejoin="miter"/>
<path d="M599.8,299.1L602.7,304.1L596.8,304.1Z" fill="none" stroke="#ff0000" stroke-width="1.3" stroke-linejoin="miter"/>
<path d="M609.2,309.2L612.2,314.3L606.3,314.3Z" fill="none" stroke="#ff0000" stroke-width="1.3" stroke-linejoin="miter"/>
<path d="M618.7,320.4L621.7,325.4L615.8,325.4Z" fill="none" stroke="#ff0000" stroke-width="1.3" stroke-linejoin="miter"/>
<path d="M628.2,332.4L631.1,337.4L625.3,337.4Z" fill="none" stroke="#ff0000" stroke-width="1.3" stroke-linejoin="miter"/>
<path d="M637.7,343.6L640.6,348.6L634.7,348.6Z" fill="none" stroke="#ff0000" stroke-width="1.3" stroke-linejoin="miter"/>
<path d="M400.8,336L403.7,341L397.9,341Z" fill="none" stroke="#ff0000" stroke-width="1.3" stroke-linejoin="miter"/>
<path d="M410.3,314.9L413.2,320L407.3,320Z" fill="none" stroke="#ff0000" stroke-width="1.3" stroke-linejoin="miter"/>
<path d="M419.8,298.1L422.7,303.1L416.8,303.1Z" fill="none" stroke="#ff0000" stroke-width="1.3" stroke-linejoin="miter"/>
<path d="M429.2,287.1L432.2,292.2L426.3,292.2Z" fill="none" stroke="#ff0000" stroke-width="1.3" stroke-linejoin="miter"/>
<path d="M438.7,275.3L441.6,280.4L435.8,280.4Z" fill="none" stroke="#ff0000" stroke-width="1.3" stroke-linejoin="miter"/>
<path d="M448.2,265.6L451.1,270.7L445.2,270.7Z" fill="none" stroke="#ff0000" stroke-width="1.3" stroke-linejoin="miter"/>
<path d="M457.6,255.5L460.6,260.6L454.7,260.6Z" fill="none" stroke="#ff0000" stroke-width="1.3" stroke-linejoin="miter"/>
<path d="M467.1,248L470.1,253L464.2,253Z" fill="none" stroke="#ff0000" stroke-width="1.3" stroke-linejoin="miter"/>
<path d="M476.6,240.4L479.5,245.4L473.7,245.4Z" fill="none" stroke="#ff0000" stroke-width="1.3" stroke-linejoin="miter"/>
<path d="M486.1,382.8L489,387.8L483.1,387.8Z" fill="none" stroke="#ff0000" stroke-width="1.3" stroke-linejoin="miter"/>
<path d="M495.6,368.4L498.5,373.5L492.6,373.5Z" fill="none" stroke="#ff0000" stroke-width="1.3" stroke-linejoin="miter"/>
<path d="M505,350.7L508,355.8L502.1,355.8Z" fill="none" stroke="#ff0000" stroke-width="1.3" stroke-linejoin="miter"/>
<path d="M514.5,335.2L517.4,340.2L511.6,340.2Z" fill="none" stroke="#ff0000" stroke-width="1.3" stroke-linejoin="miter"/>
<path d="M524,334.3L526.9,339.3L521,339.3Z" fill="none" stroke="#ff0000" stroke-width="1.3" stroke-linejoin="miter"/>
<path d="M533.5,334.3L536.4,339.3L530.5,339.3Z" fill="none" stroke="#ff0000" stroke-width="1.3" stroke-linejoin="miter"/>
<path d="M542.9,334.3L545.9,339.3L540,339.3Z" fill="none" stroke="#ff0000" stroke-width="1.3" stroke-linejoin="miter"/>
<path d="M552.4,325.9L555.3,330.9L549.5,330.9Z" fill="none" stroke="#ff0000" stroke-width="1.3" stroke-linejoin="miter"/>
<path d="M561.9,318.5L564.8,323.5L558.9,323.5Z" fill="none" stroke="#ff0000" stroke-width="1.3" stroke-linejoin="miter"/>
<path d="M571.4,315.4L574.3,320.4L568.4,320.4Z" fill="none" stroke="#ff0000" stroke-width="1.3" stroke-linejoin="miter"/>
<path d="M580.8,320.4L583.8,325.4L577.9,325.4Z" fill="none" stroke="#ff0000" stroke-width="1.3" stroke-linejoin="miter"/>
<path d="M590.3,329.7L593.2,334.7L587.4,334.7Z" fill="none" stroke="#ff0000" stroke-width="1.3" stroke-linejoin="miter"/>
<path d="M599.8,337.1L602.7,342.1L596.8,342.1Z" fill="none" stroke="#ff0000" stroke-width="1.3" stroke-linejoin="miter"/>
<path d="M609.2,348.2L612.2,353.2L606.3,353.2Z" fill="none" stroke="#ff0000" stroke-width="1.3" stroke-linejoin="miter"/>
<path d="M618.7,362.1L621.7,367.1L615.8,367.1Z" fill="none" stroke="#ff0000" stroke-width="1.3" stroke-linejoin="miter"/>
<path d="M628.2,376.9L631.1,381.9L625.3,381.9Z" fill="none" stroke="#ff0000" stroke-width="1.3" stroke-linejoin="miter"/>
<path d="M637.7,242.5L640.6,247.5L634.7,247.5Z" fill="none" stroke="#ff0000" stroke-width="1.3" stroke-linejoin="miter"/>
<path d="M400.8,352L403.7,357L397.9,357Z" fill="none" stroke="#ff0000" stroke-width="1.3" stroke-linejoin="miter"/>
<path d="M410.3,334.3L413.2,339.3L407.3,339.3Z" fill="none" stroke="#ff0000" stroke-width="1.3" stroke-linejoin="miter"/>
<path d="M419.8,317.5L422.7,322.5L416.8,322.5Z" fill="none" stroke="#ff0000" stroke-width="1.3" stroke-linejoin="miter"/>
<path d="M429.2,302.7L432.2,307.7L426.3,307.7Z" fill="none" stroke="#ff0000" stroke-width="1.3" stroke-linejoin="miter"/>
<path d="M438.7,288L441.6,293L435.8,293Z" fill="none" stroke="#ff0000" stroke-width="1.3" stroke-linejoin="miter"/>
<path d="M448.2,271.1L451.1,276.1L445.2,276.1Z" fill="none" stroke="#ff0000" stroke-width="1.3" stroke-linejoin="miter"/>
<path d="M457.6,381.9L460.6,386.9L454.7,386.9Z" fill="none" stroke="#ff0000" stroke-width="1.3" stroke-linejoin="miter"/>
<path d="M467.1,373.9L470.1,378.9L464.2,378.9Z" fill="none" stroke="#ff0000" stroke-width="1.3" stroke-linejoin="miter"/>
<path d="M476.6,360.6L479.5,365.7L473.7,365.7Z" fill="none" stroke="#ff0000" stroke-width="1.3" stroke-linejoin="miter"/>
<path d="M486.1,351.2L489,356.2L483.1,356.2Z" fill="none" stroke="#ff0000" stroke-width="1.3" stroke-linejoin="miter"/>
<path d="M495.6,342.7L498.5,347.8L492.6,347.8Z" fill="none" stroke="#ff0000" stroke-width="1.3" stroke-linejoin="miter"/>
<path d="M505,338.5L508,343.5L502.1,343.5Z" fill="none" stroke="#ff0000" stroke-width="1.3" stroke-linejoin="miter"/>
<path d="M514.5,336.4L517.4,341.4L511.6,341.4Z" fill="none" stroke="#ff0000" stroke-width="1.3" stroke-linejoin="miter"/>
<path d="M524,335.2L526.9,340.2L521,340.2Z" fill="none" stroke="#ff0000" stroke-width="1.3" stroke-linejoin="miter"/>
<path d="M533.5,335.2L536.4,340.2L530.5,340.2Z" fill="none" stroke="#ff0000" stroke-width="1.3" stroke-linejoin="miter"/>
<path d="M542.9,338L545.9,343L540,343Z" fill="none" stroke="#ff0000" stroke-width="1.3" stroke-linejoin="miter"/>
<path d="M552.4,341.3L555.3,346.3L549.5,346.3Z" fill="none" stroke="#ff0000" stroke-width="1.3" stroke-linejoin="miter"/>
<path d="M561.9,346.3L564.8,351.3L558.9,351.3Z" fill="none" stroke="#ff0000" stroke-width="1.3" stroke-linejoin="miter"/>
<path d="M571.4,351L574.3,356L568.4,356Z" fill="none" stroke="#ff0000" stroke-width="1.3" stroke-linejoin="miter"/>
<path d="M580.8,358.7L583.8,363.8L577.9,363.8Z" fill="none" stroke="#ff0000" stroke-width="1.3" stroke-linejoin="miter"/>
<path d="M590.3,367.2L593.2,372.2L587.4,372.2Z" fill="none" stroke="#ff0000" stroke-width="1.3" stroke-linejoin="miter"/>
<path d="M599.8,374.8L602.7,379.8L596.8,379.8Z" fill="none" stroke="#ff0000" stroke-width="1.3" stroke-linejoin="miter"/>
<path d="M609.2,385.3L612.2,390.3L606.3,390.3Z" fill="none" stroke="#ff0000" stroke-width="1.3" stroke-linejoin="miter"/>
<path d="M618.7,245.9L621.7,250.9L615.8,250.9Z" fill="none" stroke="#ff0000" stroke-width="1.3" stroke-linejoin="miter"/>
<path d="M628.2,258.5L631.1,263.5L625.3,263.5Z" fill="none" stroke="#ff0000" stroke-width="1.3" stroke-linejoin="miter"/>
<path d="M637.7,272.8L640.6,277.8L634.7,277.8Z" fill="none" stroke="#ff0000" stroke-width="1.3" stroke-linejoin="miter"/>
<path d="M400.8,267.5L403.7,272.6L397.9,272.6Z" fill="none" stroke="#ff0000" stroke-width="1.3" stroke-linejoin="miter"/>
<path d="M410.3,248.1L413.2,253.1L407.3,253.1Z" fill="none" stroke="#ff0000" stroke-width="1.3" stroke-linejoin="miter"/>
<path d="M419.8,381.5L422.7,386.5L416.8,386.5Z" fill="none" stroke="#ff0000" stroke-width="1.3" stroke-linejoin="miter"/>
<path d="M429.2,363.8L432.2,368.8L426.3,368.8Z" fill="none" stroke="#ff0000" stroke-width="1.3" stroke-linejoin="miter"/>
<path d="M438.7,347.4L441.6,352.4L435.8,352.4Z" fill="none" stroke="#ff0000" stroke-width="1.3" stroke-linejoin="miter"/>
<path d="M448.2,334.1L451.1,339.1L445.2,339.1Z" fill="none" stroke="#ff0000" stroke-width="1.3" stroke-linejoin="miter"/>
<path d="M457.6,327L460.6,332L454.7,332Z" fill="none" stroke="#ff0000" stroke-width="1.3" stroke-linejoin="miter"/>
<path d="M467.1,319L470.1,324L464.2,324Z" fill="none" stroke="#ff0000" stroke-width="1.3" stroke-linejoin="miter"/>
<path d="M476.6,322.5L479.5,327.5L473.7,327.5Z" fill="none" stroke="#ff0000" stroke-width="1.3" stroke-linejoin="miter"/>
<path d="M486.1,325.2L489,330.2L483.1,330.2Z" fill="none" stroke="#ff0000" stroke-width="1.3" stroke-linejoin="miter"/>
<path d="M495.6,328.8L498.5,333.8L492.6,333.8Z" fill="none" stroke="#ff0000" stroke-width="1.3" stroke-linejoin="miter"/>
<path d="M505,331.4L508,336.4L502.1,336.4Z" fill="none" stroke="#ff0000" stroke-width="1.3" stroke-linejoin="miter"/>
<path d="M514.5,333L517.4,338.1L511.6,338.1Z" fill="none" stroke="#ff0000" stroke-width="1.3" stroke-linejoin="miter"/>
<path d="M524,333L526.9,338.1L521,338.1Z" fill="none" stroke="#ff0000" stroke-width="1.3" stroke-linejoin="miter"/>
<path d="M533.5,333L536.4,338.1L530.5,338.1Z" fill="none" stroke="#ff0000" stroke-width="1.3" stroke-linejoin="miter"/>
<path d="M542.9,337.7L545.9,342.7L540,342.7Z" fill="none" stroke="#ff0000" stroke-width="1.3" stroke-linejoin="miter"/>
<path d="M552.4,362.1L555.3,367.1L549.5,367.1Z" fill="none" stroke="#ff0000" stroke-width="1.3" stroke-linejoin="miter"/>
<path d="M561.9,372.2L564.8,377.2L558.9,377.2Z" fill="none" stroke="#ff0000" stroke-width="1.3" stroke-linejoin="miter"/>
<path d="M571.4,381.5L574.3,386.5L568.4,386.5Z" fill="none" stroke="#ff0000" stroke-width="1.3" stroke-linejoin="miter"/>
<path d="M580.8,238.7L583.8,243.7L577.9,243.7Z" fill="none" stroke="#ff0000" stroke-width="1.3" stroke-linejoin="miter"/>
<path d="M590.3,249L593.2,254L587.4,254Z" fill="none" stroke="#ff0000" stroke-width="1.3" stroke-linejoin="miter"/>
<path d="M599.8,257.2L602.7,262.2L596.8,262.2Z" fill="none" stroke="#ff0000" stroke-width="1.3" stroke-linejoin="miter"/>
<path d="M609.2,268.6L612.2,273.6L606.3,273.6Z" fill="none" stroke="#ff0000" stroke-width="1.3" stroke-linejoin="miter"/>
<path d="M618.7,281.4L621.7,286.5L615.8,286.5Z" fill="none" stroke="#ff0000" stroke-width="1.3" stroke-linejoin="miter"/>
<path d="M628.2,296.4L631.1,301.4L625.3,301.4Z" fill="none" stroke="#ff0000" stroke-width="1.3" stroke-linejoin="miter"/>
<path d="M637.7,315.2L640.6,320.2L634.7,320.2Z" fill="none" stroke="#ff0000" stroke-width="1.3" stroke-linejoin="miter"/>
<line x1="400.8" y1="400.6" x2="400.8" y2="397.3" stroke="#262626" stroke-width="1.0" stroke-linecap="butt"/>
<line x1="400.8" y1="232.1" x2="400.8" y2="235.4" stroke="#262626" stroke-width="1.0" stroke-linecap="butt"/>
<text x="400" y="416.2" font-family="Liberation Serif" font-size="13.0" font-weight="bold" fill="#000" text-anchor="middle">-45</text>
<line x1="441.4" y1="400.6" x2="441.4" y2="397.3" stroke="#262626" stroke-width="1.0" stroke-linecap="butt"/>
<line x1="441.4" y1="232.1" x2="441.4" y2="235.4" stroke="#262626" stroke-width="1.0" stroke-linecap="butt"/>
<text x="440.6" y="416.2" font-family="Liberation Serif" font-size="13.0" font-weight="bold" fill="#000" text-anchor="middle">-30</text>
<line x1="482" y1="400.6" x2="482" y2="397.3" stroke="#262626" stroke-width="1.0" stroke-linecap="butt"/>
<line x1="482" y1="232.1" x2="482" y2="235.4" stroke="#262626" stroke-width="1.0" stroke-linecap="butt"/>
<text x="481.2" y="416.2" font-family="Liberation Serif" font-size="13.0" font-weight="bold" fill="#000" text-anchor="middle">-15</text>
<line x1="522.6" y1="400.6" x2="522.6" y2="397.3" stroke="#262626" stroke-width="1.0" stroke-linecap="butt"/>
<line x1="522.6" y1="232.1" x2="522.6" y2="235.4" stroke="#262626" stroke-width="1.0" stroke-linecap="butt"/>
<text x="522.6" y="416.2" font-family="Liberation Serif" font-size="13.0" font-weight="bold" fill="#000" text-anchor="middle">0</text>
<line x1="563.2" y1="400.6" x2="563.2" y2="397.3" stroke="#262626" stroke-width="1.0" stroke-linecap="butt"/>
<line x1="563.2" y1="232.1" x2="563.2" y2="235.4" stroke="#262626" stroke-width="1.0" stroke-linecap="butt"/>
<text x="563.2" y="416.2" font-family="Liberation Serif" font-size="13.0" font-weight="bold" fill="#000" text-anchor="middle">15</text>
<line x1="603.8" y1="400.6" x2="603.8" y2="397.3" stroke="#262626" stroke-width="1.0" stroke-linecap="butt"/>
<line x1="603.8" y1="232.1" x2="603.8" y2="235.4" stroke="#262626" stroke-width="1.0" stroke-linecap="butt"/>
<text x="603.8" y="416.2" font-family="Liberation Serif" font-size="13.0" font-weight="bold" fill="#000" text-anchor="middle">30</text>
<line x1="644.4" y1="400.6" x2="644.4" y2="397.3" stroke="#262626" stroke-width="1.0" stroke-linecap="butt"/>
<line x1="644.4" y1="232.1" x2="644.4" y2="235.4" stroke="#262626" stroke-width="1.0" stroke-linecap="butt"/>
<text x="644.4" y="416.2" font-family="Liberation Serif" font-size="13.0" font-weight="bold" fill="#000" text-anchor="middle">45</text>
<line x1="400.8" y1="400.6" x2="404.1" y2="400.6" stroke="#262626" stroke-width="1.0" stroke-linecap="butt"/>
<line x1="644.4" y1="400.6" x2="641.1" y2="400.6" stroke="#262626" stroke-width="1.0" stroke-linecap="butt"/>
<text x="396.4" y="405.4" font-family="Liberation Serif" font-size="13.2" font-weight="bold" fill="#000" text-anchor="end">-200</text>
<line x1="400.8" y1="358.5" x2="404.1" y2="358.5" stroke="#262626" stroke-width="1.0" stroke-linecap="butt"/>
<line x1="644.4" y1="358.5" x2="641.1" y2="358.5" stroke="#262626" stroke-width="1.0" stroke-linecap="butt"/>
<text x="396.4" y="363.3" font-family="Liberation Serif" font-size="13.2" font-weight="bold" fill="#000" text-anchor="end">-100</text>
<line x1="400.8" y1="316.4" x2="404.1" y2="316.4" stroke="#262626" stroke-width="1.0" stroke-linecap="butt"/>
<line x1="644.4" y1="316.4" x2="641.1" y2="316.4" stroke="#262626" stroke-width="1.0" stroke-linecap="butt"/>
<text x="396.4" y="321.2" font-family="Liberation Serif" font-size="13.2" font-weight="bold" fill="#000" text-anchor="end">0</text>
<line x1="400.8" y1="274.2" x2="404.1" y2="274.2" stroke="#262626" stroke-width="1.0" stroke-linecap="butt"/>
<line x1="644.4" y1="274.2" x2="641.1" y2="274.2" stroke="#262626" stroke-width="1.0" stroke-linecap="butt"/>
<text x="396.4" y="279" font-family="Liberation Serif" font-size="13.2" font-weight="bold" fill="#000" text-anchor="end">100</text>
<line x1="400.8" y1="232.1" x2="404.1" y2="232.1" stroke="#262626" stroke-width="1.0" stroke-linecap="butt"/>
<line x1="644.4" y1="232.1" x2="641.1" y2="232.1" stroke="#262626" stroke-width="1.0" stroke-linecap="butt"/>
<text x="396.4" y="236.9" font-family="Liberation Serif" font-size="13.2" font-weight="bold" fill="#000" text-anchor="end">200</text>
<text x="522.8" y="432.7" font-family="Liberation Serif" font-size="14" font-weight="bold" fill="#000" text-anchor="middle" textLength="26.5" lengthAdjust="spacingAndGlyphs"><tspan font-style="italic">θ</tspan> (°)</text>
<text x="346.5" y="440.5" font-family="Liberation Serif" font-size="18" font-weight="bold" fill="#000" text-anchor="start">(f)</text>
<clipPath id="cf"><rect x="400.8" y="451.9" width="243.59999999999997" height="156.70000000000005"/></clipPath>
<g clip-path="url(#cf)">
<polyline points="400.8,597.1 410.3,583.7 419.8,570.8 429.2,558.2 438.7,546 448.2,534.3 457.6,522.9 467.1,511.9 476.6,501.3 486.1,489.5 495.6,492.6 505,489.5 514.5,492.6 524,489.5 533.5,492.6 542.9,489.5 552.4,596.6 561.9,465.9 571.4,477.1 580.8,488.9 590.3,501.5 599.8,514.8 609.2,528.9 618.7,543.6 628.2,559.1 637.7,575.3" fill="none" stroke="#0000ff" stroke-width="1.3" stroke-linejoin="round" stroke-linecap="butt" stroke-dasharray="4,2.6"/>
<polyline points="400.8,583.4 410.3,573.1 419.8,563.2 429.2,553.5 438.7,544.2 448.2,535.2 457.6,526.4 467.1,518 476.6,509.9 486.1,500.5 495.6,503.6 505,500.5 514.5,503.6 524,500.5 533.5,503.6 542.9,500.5 552.4,469.8 561.9,478.5 571.4,487.8 580.8,497.7 590.3,508.2 599.8,519.3 609.2,531 618.7,543.3 628.2,556.2 637.7,569.7" fill="none" stroke="#0000ff" stroke-width="1.3" stroke-linejoin="round" stroke-linecap="butt" stroke-dasharray="4,2.6"/>
<polyline points="400.8,566.9 410.3,536 419.8,506.1 429.2,477.3 438.7,590.5 448.2,563.7 457.6,538 467.1,513.2 476.6,491.1 486.1,487.9 495.6,491.1 505,487.9 514.5,491.1 524,487.9 533.5,491.1 542.9,487.9 552.4,575.9 561.9,584.3 571.4,593.4 580.8,462 590.3,472.2 599.8,483 609.2,494.4 618.7,506.4 628.2,519 637.7,532.2" fill="none" stroke="#0000ff" stroke-width="1.3" stroke-linejoin="round" stroke-linecap="butt" stroke-dasharray="4,2.6"/>
<polyline points="400.8,553.5 410.3,514 419.8,476.3 429.2,581.4 438.7,547.2 448.2,514.7 457.6,485.6 467.1,482.5 476.6,485.6 486.1,482.5 495.6,485.6 505,482.5 514.5,485.6 524,482.5 533.5,485.6 542.9,482.5 552.4,490.9 561.9,501.2 571.4,512.3 580.8,524 590.3,536.5 599.8,549.7 609.2,563.6 618.7,578.3 628.2,593.7 637.7,468.7" fill="none" stroke="#0000ff" stroke-width="1.3" stroke-linejoin="round" stroke-linecap="butt" stroke-dasharray="4,2.6"/>
<polyline points="400.8,535.7 410.3,505.7 419.8,477 429.2,590.3 438.7,563.8 448.2,538.4 457.6,514.2 467.1,489.5 476.6,492.6 486.1,489.5 495.6,492.6 505,489.5 514.5,492.6 524,489.5 533.5,492.6 542.9,489.5 552.4,554.2 561.9,563.5 571.4,573.5 580.8,584.1 590.3,595.3 599.8,466.2 609.2,478.7 618.7,491.9 628.2,505.8 637.7,520.3" fill="none" stroke="#0000ff" stroke-width="1.3" stroke-linejoin="round" stroke-linecap="butt" stroke-dasharray="4,2.6"/>
<polyline points="400.8,519.9 410.3,489.9 419.8,461.2 429.2,574.9 438.7,548.9 448.2,524.2 457.6,502.4 467.1,499.3 476.6,502.4 486.1,499.3 495.6,502.4 505,499.3 514.5,502.4 524,499.3 533.5,502.4 542.9,499.3 552.4,505.2 561.9,513.6 571.4,522.5 580.8,532.1 590.3,542.2 599.8,552.9 609.2,564.2 618.7,576.1 628.2,588.6 637.7,460.6" fill="none" stroke="#0000ff" stroke-width="1.3" stroke-linejoin="round" stroke-linecap="butt" stroke-dasharray="4,2.6"/>
<polyline points="400.8,506.2 410.3,485.2 419.8,464.8 429.2,586 438.7,566.8 448.2,548.2 457.6,530.3 467.1,512.9 476.6,496.2 486.1,478.5 495.6,481.7 505,478.5 514.5,481.7 524,478.5 533.5,481.7 542.9,478.5 552.4,539.3 561.9,547.6 571.4,556.5 580.8,565.9 590.3,576 599.8,586.6 609.2,597.8 618.7,468.5 628.2,480.9 637.7,493.9" fill="none" stroke="#0000ff" stroke-width="1.3" stroke-linejoin="round" stroke-linecap="butt" stroke-dasharray="4,2.6"/>
<polyline points="400.8,488 410.3,465.6 419.8,585.1 429.2,564.5 438.7,544.6 448.2,525.7 457.6,507.6 467.1,488.7 476.6,491.9 486.1,488.7 495.6,491.9 505,488.7 514.5,491.9 524,488.7 533.5,491.9 542.9,488.7 552.4,522 561.9,530.7 571.4,540 580.8,549.9 590.3,560.4 599.8,571.5 609.2,583.2 618.7,595.6 628.2,467.5 637.7,481" fill="none" stroke="#0000ff" stroke-width="1.3" stroke-linejoin="round" stroke-linecap="butt" stroke-dasharray="4,2.6"/>
<polyline points="400.8,470.8 410.3,598 419.8,584.6 429.2,571.6 438.7,559 448.2,546.8 457.6,535 467.1,523.6 476.6,512.6 486.1,500.5 495.6,503.6 505,500.5 514.5,503.6 524,500.5 533.5,503.6 542.9,500.5 552.4,585.1 561.9,594.9 571.4,464.3 580.8,475.5 590.3,487.3 599.8,499.8 609.2,513 618.7,526.9 628.2,541.5 637.7,556.8" fill="none" stroke="#0000ff" stroke-width="1.3" stroke-linejoin="round" stroke-linecap="butt" stroke-dasharray="4,2.6"/>
<polyline points="400.8,598.8 410.3,596.1 419.8,593.2 429.2,579.9 438.7,566.7 448.2,560 457.6,542.8 467.1,535.3 476.6,521.2 486.1,508.7 495.6,504.9 505,502 514.5,503.1 524,503.5 533.5,503.6 542.9,503.6 552.4,506.7 561.9,521.2 571.4,541.6 580.8,550.9 590.3,560 599.8,571.4 609.2,583.3 618.7,596.3 628.2,469.5 637.7,481.4" fill="none" stroke="#000" stroke-width="0.9" stroke-linejoin="round" stroke-linecap="butt"/>
<polyline points="400.8,518.2 410.3,501.3 419.8,484.1 429.2,469.3 438.7,598.8 448.2,581.2 457.6,561.6 467.1,545.9 476.6,536.1 486.1,526.3 495.6,516.5 505,504.8 514.5,480.5 524,472.7 533.5,470.8 542.9,472.7 552.4,472.7 561.9,470.8 571.4,474 580.8,481.4 590.3,490.7 599.8,500.9 609.2,513 618.7,525.9 628.2,539.7 637.7,556.5" fill="none" stroke="#000" stroke-width="0.9" stroke-linejoin="round" stroke-linecap="butt"/>
<polyline points="400.8,530.6 410.3,548.7 419.8,524 429.2,563.7 438.7,490.8 448.2,527.7 457.6,463.3 467.1,590.2 476.6,485.2 486.1,483.2 495.6,481.3 505,479.3 514.5,475.4 524,472.3 533.5,473.4 542.9,475.4 552.4,575.7 561.9,582.4 571.4,589 580.8,594.9 590.3,600.8 599.8,467.6 609.2,479.3 618.7,491.9 628.2,503.6 637.7,518.5" fill="none" stroke="#000" stroke-width="0.9" stroke-linejoin="round" stroke-linecap="butt"/>
<polyline points="400.8,582.7 410.3,566.7 419.8,549.6 429.2,534.4 438.7,520.1 448.2,507.8 457.6,499.3 467.1,493 476.6,493 486.1,496.6 495.6,493.6 505,490.7 514.5,489.9 524,488.9 533.5,489.5 542.9,490.3 552.4,495.4 561.9,501.8 571.4,508.3 580.8,517.7 590.3,526.8 599.8,536 609.2,549.1 618.7,560 628.2,574.1 637.7,588.1" fill="none" stroke="#a00000" stroke-width="1.1" stroke-linejoin="round" stroke-linecap="butt"/>
<polyline points="400.8,479.3 410.3,600.4 419.8,591 429.2,581.2 438.7,573.3 448.2,564.7 457.6,553.8 467.1,545.9 476.6,534.2 486.1,514.6 495.6,498.9 505,489.1 514.5,485.2 524,483.2 533.5,481.3 542.9,479.3 552.4,473.1 561.9,471.2 571.4,474 580.8,481.4 590.3,490.7 599.8,500.9 609.2,513 618.7,525.9 628.2,539.7 637.7,556.5" fill="none" stroke="#a00000" stroke-width="1.1" stroke-linejoin="round" stroke-linecap="butt"/>
<polyline points="400.8,493.6 410.3,474.6 419.8,460.5 429.2,596.1 438.7,588.5 448.2,578.4 457.6,563.2 467.1,553.4 476.6,551.8 486.1,542.8 495.6,525.9 505,510.7 514.5,495.8 524,491.1 533.5,490.3 542.9,490.3 552.4,517.7 561.9,532.4 571.4,541.6 580.8,550.9 590.3,560 599.8,571.4 609.2,583.3 618.7,596.3 628.2,469.5 637.7,481.4" fill="none" stroke="#ff0000" stroke-width="0.9" stroke-linejoin="round" stroke-linecap="butt" stroke-dasharray="1.2,1.2"/>
<polyline points="400.8,503.1 410.3,482.2 419.8,580.8 429.2,564.7 438.7,550.5 448.2,540 457.6,527.7 467.1,508.7 476.6,492.6 486.1,491.1 495.6,490.7 505,490.3 514.5,489.5 524,488.7 533.5,488.7 542.9,491.1 552.4,522.4 561.9,532.4 571.4,541.6 580.8,550.9 590.3,560 599.8,571.4 609.2,583.3 618.7,595.3 628.2,469.5 637.7,485.2" fill="none" stroke="#ff0000" stroke-width="0.9" stroke-linejoin="round" stroke-linecap="butt" stroke-dasharray="1.2,1.2"/>
<polyline points="400.8,573.3 410.3,589 419.8,596.1 429.2,588.5 438.7,577.7 448.2,573 457.6,566.7 467.1,551.4 476.6,542.8 486.1,525.9 495.6,506.7 505,493 514.5,487.2 524,487.2 533.5,487.9 542.9,489.1 552.4,560 561.9,575.9 571.4,582.4 580.8,590.8 590.3,599 599.8,467.6 609.2,479.7 618.7,491.6 628.2,503.6 637.7,519.3" fill="none" stroke="#ff0000" stroke-width="0.9" stroke-linejoin="round" stroke-linecap="butt" stroke-dasharray="1.2,1.2"/>
</g>
<rect x="400.8" y="451.9" width="243.59999999999997" height="156.70000000000005" fill="none" stroke="#262626" stroke-width="1.3"/>
<circle cx="400.8" cy="597.1" r="2.3" fill="#0000ff" stroke="none" stroke-width="0"/>
<circle cx="410.3" cy="583.7" r="2.3" fill="#0000ff" stroke="none" stroke-width="0"/>
<circle cx="419.8" cy="570.8" r="2.3" fill="#0000ff" stroke="none" stroke-width="0"/>
<circle cx="429.2" cy="558.2" r="2.3" fill="#0000ff" stroke="none" stroke-width="0"/>
<circle cx="438.7" cy="546" r="2.3" fill="#0000ff" stroke="none" stroke-width="0"/>
<circle cx="448.2" cy="534.3" r="2.3" fill="#0000ff" stroke="none" stroke-width="0"/>
<circle cx="457.6" cy="522.9" r="2.3" fill="#0000ff" stroke="none" stroke-width="0"/>
<circle cx="467.1" cy="511.9" r="2.3" fill="#0000ff" stroke="none" stroke-width="0"/>
<circle cx="476.6" cy="501.3" r="2.3" fill="#0000ff" stroke="none" stroke-width="0"/>
<circle cx="486.1" cy="489.5" r="2.3" fill="#0000ff" stroke="none" stroke-width="0"/>
<circle cx="495.6" cy="492.6" r="2.3" fill="#0000ff" stroke="none" stroke-width="0"/>
<circle cx="505" cy="489.5" r="2.3" fill="#0000ff" stroke="none" stroke-width="0"/>
<circle cx="514.5" cy="492.6" r="2.3" fill="#0000ff" stroke="none" stroke-width="0"/>
<circle cx="524" cy="489.5" r="2.3" fill="#0000ff" stroke="none" stroke-width="0"/>
<circle cx="533.5" cy="492.6" r="2.3" fill="#0000ff" stroke="none" stroke-width="0"/>
<circle cx="542.9" cy="489.5" r="2.3" fill="#0000ff" stroke="none" stroke-width="0"/>
<circle cx="552.4" cy="596.6" r="2.3" fill="#0000ff" stroke="none" stroke-width="0"/>
<circle cx="561.9" cy="465.9" r="2.3" fill="#0000ff" stroke="none" stroke-width="0"/>
<circle cx="571.4" cy="477.1" r="2.3" fill="#0000ff" stroke="none" stroke-width="0"/>
<circle cx="580.8" cy="488.9" r="2.3" fill="#0000ff" stroke="none" stroke-width="0"/>
<circle cx="590.3" cy="501.5" r="2.3" fill="#0000ff" stroke="none" stroke-width="0"/>
<circle cx="599.8" cy="514.8" r="2.3" fill="#0000ff" stroke="none" stroke-width="0"/>
<circle cx="609.2" cy="528.9" r="2.3" fill="#0000ff" stroke="none" stroke-width="0"/>
<circle cx="618.7" cy="543.6" r="2.3" fill="#0000ff" stroke="none" stroke-width="0"/>
<circle cx="628.2" cy="559.1" r="2.3" fill="#0000ff" stroke="none" stroke-width="0"/>
<circle cx="637.7" cy="575.3" r="2.3" fill="#0000ff" stroke="none" stroke-width="0"/>
<circle cx="400.8" cy="583.4" r="2.3" fill="#0000ff" stroke="none" stroke-width="0"/>
<circle cx="410.3" cy="573.1" r="2.3" fill="#0000ff" stroke="none" stroke-width="0"/>
<circle cx="419.8" cy="563.2" r="2.3" fill="#0000ff" stroke="none" stroke-width="0"/>
<circle cx="429.2" cy="553.5" r="2.3" fill="#0000ff" stroke="none" stroke-width="0"/>
<circle cx="438.7" cy="544.2" r="2.3" fill="#0000ff" stroke="none" stroke-width="0"/>
<circle cx="448.2" cy="535.2" r="2.3" fill="#0000ff" stroke="none" stroke-width="0"/>
<circle cx="457.6" cy="526.4" r="2.3" fill="#0000ff" stroke="none" stroke-width="0"/>
<circle cx="467.1" cy="518" r="2.3" fill="#0000ff" stroke="none" stroke-width="0"/>
<circle cx="476.6" cy="509.9" r="2.3" fill="#0000ff" stroke="none" stroke-width="0"/>
<circle cx="486.1" cy="500.5" r="2.3" fill="#0000ff" stroke="none" stroke-width="0"/>
<circle cx="495.6" cy="503.6" r="2.3" fill="#0000ff" stroke="none" stroke-width="0"/>
<circle cx="505" cy="500.5" r="2.3" fill="#0000ff" stroke="none" stroke-width="0"/>
<circle cx="514.5" cy="503.6" r="2.3" fill="#0000ff" stroke="none" stroke-width="0"/>
<circle cx="524" cy="500.5" r="2.3" fill="#0000ff" stroke="none" stroke-width="0"/>
<circle cx="533.5" cy="503.6" r="2.3" fill="#0000ff" stroke="none" stroke-width="0"/>
<circle cx="542.9" cy="500.5" r="2.3" fill="#0000ff" stroke="none" stroke-width="0"/>
<circle cx="552.4" cy="469.8" r="2.3" fill="#0000ff" stroke="none" stroke-width="0"/>
<circle cx="561.9" cy="478.5" r="2.3" fill="#0000ff" stroke="none" stroke-width="0"/>
<circle cx="571.4" cy="487.8" r="2.3" fill="#0000ff" stroke="none" stroke-width="0"/>
<circle cx="580.8" cy="497.7" r="2.3" fill="#0000ff" stroke="none" stroke-width="0"/>
<circle cx="590.3" cy="508.2" r="2.3" fill="#0000ff" stroke="none" stroke-width="0"/>
<circle cx="599.8" cy="519.3" r="2.3" fill="#0000ff" stroke="none" stroke-width="0"/>
<circle cx="609.2" cy="531" r="2.3" fill="#0000ff" stroke="none" stroke-width="0"/>
<circle cx="618.7" cy="543.3" r="2.3" fill="#0000ff" stroke="none" stroke-width="0"/>
<circle cx="628.2" cy="556.2" r="2.3" fill="#0000ff" stroke="none" stroke-width="0"/>
<circle cx="637.7" cy="569.7" r="2.3" fill="#0000ff" stroke="none" stroke-width="0"/>
<circle cx="400.8" cy="566.9" r="2.3" fill="#0000ff" stroke="none" stroke-width="0"/>
<circle cx="410.3" cy="536" r="2.3" fill="#0000ff" stroke="none" stroke-width="0"/>
<circle cx="419.8" cy="506.1" r="2.3" fill="#0000ff" stroke="none" stroke-width="0"/>
<circle cx="429.2" cy="477.3" r="2.3" fill="#0000ff" stroke="none" stroke-width="0"/>
<circle cx="438.7" cy="590.5" r="2.3" fill="#0000ff" stroke="none" stroke-width="0"/>
<circle cx="448.2" cy="563.7" r="2.3" fill="#0000ff" stroke="none" stroke-width="0"/>
<circle cx="457.6" cy="538" r="2.3" fill="#0000ff" stroke="none" stroke-width="0"/>
<circle cx="467.1" cy="513.2" r="2.3" fill="#0000ff" stroke="none" stroke-width="0"/>
<circle cx="476.6" cy="491.1" r="2.3" fill="#0000ff" stroke="none" stroke-width="0"/>
<circle cx="486.1" cy="487.9" r="2.3" fill="#0000ff" stroke="none" stroke-width="0"/>
<circle cx="495.6" cy="491.1" r="2.3" fill="#0000ff" stroke="none" stroke-width="0"/>
<circle cx="505" cy="487.9" r="2.3" fill="#0000ff" stroke="none" stroke-width="0"/>
<circle cx="514.5" cy="491.1" r="2.3" fill="#0000ff" stroke="none" stroke-width="0"/>
<circle cx="524" cy="487.9" r="2.3" fill="#0000ff" stroke="none" stroke-width="0"/>
<circle cx="533.5" cy="491.1" r="2.3" fill="#0000ff" stroke="none" stroke-width="0"/>
<circle cx="542.9" cy="487.9" r="2.3" fill="#0000ff" stroke="none" stroke-width="0"/>
<circle cx="552.4" cy="575.9" r="2.3" fill="#0000ff" stroke="none" stroke-width="0"/>
<circle cx="561.9" cy="584.3" r="2.3" fill="#0000ff" stroke="none" stroke-width="0"/>
<circle cx="571.4" cy="593.4" r="2.3" fill="#0000ff" stroke="none" stroke-width="0"/>
<circle cx="580.8" cy="462" r="2.3" fill="#0000ff" stroke="none" stroke-width="0"/>
<circle cx="590.3" cy="472.2" r="2.3" fill="#0000ff" stroke="none" stroke-width="0"/>
<circle cx="599.8" cy="483" r="2.3" fill="#0000ff" stroke="none" stroke-width="0"/>
<circle cx="609.2" cy="494.4" r="2.3" fill="#0000ff" stroke="none" stroke-width="0"/>
<circle cx="618.7" cy="506.4" r="2.3" fill="#0000ff" stroke="none" stroke-width="0"/>
<circle cx="628.2" cy="519" r="2.3" fill="#0000ff" stroke="none" stroke-width="0"/>
<circle cx="637.7" cy="532.2" r="2.3" fill="#0000ff" stroke="none" stroke-width="0"/>
<circle cx="400.8" cy="553.5" r="2.3" fill="#0000ff" stroke="none" stroke-width="0"/>
<circle cx="410.3" cy="514" r="2.3" fill="#0000ff" stroke="none" stroke-width="0"/>
<circle cx="419.8" cy="476.3" r="2.3" fill="#0000ff" stroke="none" stroke-width="0"/>
<circle cx="429.2" cy="581.4" r="2.3" fill="#0000ff" stroke="none" stroke-width="0"/>
<circle cx="438.7" cy="547.2" r="2.3" fill="#0000ff" stroke="none" stroke-width="0"/>
<circle cx="448.2" cy="514.7" r="2.3" fill="#0000ff" stroke="none" stroke-width="0"/>
<circle cx="457.6" cy="485.6" r="2.3" fill="#0000ff" stroke="none" stroke-width="0"/>
<circle cx="467.1" cy="482.5" r="2.3" fill="#0000ff" stroke="none" stroke-width="0"/>
<circle cx="476.6" cy="485.6" r="2.3" fill="#0000ff" stroke="none" stroke-width="0"/>
<circle cx="486.1" cy="482.5" r="2.3" fill="#0000ff" stroke="none" stroke-width="0"/>
<circle cx="495.6" cy="485.6" r="2.3" fill="#0000ff" stroke="none" stroke-width="0"/>
<circle cx="505" cy="482.5" r="2.3" fill="#0000ff" stroke="none" stroke-width="0"/>
<circle cx="514.5" cy="485.6" r="2.3" fill="#0000ff" stroke="none" stroke-width="0"/>
<circle cx="524" cy="482.5" r="2.3" fill="#0000ff" stroke="none" stroke-width="0"/>
<circle cx="533.5" cy="485.6" r="2.3" fill="#0000ff" stroke="none" stroke-width="0"/>
<circle cx="542.9" cy="482.5" r="2.3" fill="#0000ff" stroke="none" stroke-width="0"/>
<circle cx="552.4" cy="490.9" r="2.3" fill="#0000ff" stroke="none" stroke-width="0"/>
<circle cx="561.9" cy="501.2" r="2.3" fill="#0000ff" stroke="none" stroke-width="0"/>
<circle cx="571.4" cy="512.3" r="2.3" fill="#0000ff" stroke="none" stroke-width="0"/>
<circle cx="580.8" cy="524" r="2.3" fill="#0000ff" stroke="none" stroke-width="0"/>
<circle cx="590.3" cy="536.5" r="2.3" fill="#0000ff" stroke="none" stroke-width="0"/>
<circle cx="599.8" cy="549.7" r="2.3" fill="#0000ff" stroke="none" stroke-width="0"/>
<circle cx="609.2" cy="563.6" r="2.3" fill="#0000ff" stroke="none" stroke-width="0"/>
<circle cx="618.7" cy="578.3" r="2.3" fill="#0000ff" stroke="none" stroke-width="0"/>
<circle cx="628.2" cy="593.7" r="2.3" fill="#0000ff" stroke="none" stroke-width="0"/>
<circle cx="637.7" cy="468.7" r="2.3" fill="#0000ff" stroke="none" stroke-width="0"/>
<circle cx="400.8" cy="535.7" r="2.3" fill="#0000ff" stroke="none" stroke-width="0"/>
<circle cx="410.3" cy="505.7" r="2.3" fill="#0000ff" stroke="none" stroke-width="0"/>
<circle cx="419.8" cy="477" r="2.3" fill="#0000ff" stroke="none" stroke-width="0"/>
<circle cx="429.2" cy="590.3" r="2.3" fill="#0000ff" stroke="none" stroke-width="0"/>
<circle cx="438.7" cy="563.8" r="2.3" fill="#0000ff" stroke="none" stroke-width="0"/>
<circle cx="448.2" cy="538.4" r="2.3" fill="#0000ff" stroke="none" stroke-width="0"/>
<circle cx="457.6" cy="514.2" r="2.3" fill="#0000ff" stroke="none" stroke-width="0"/>
<circle cx="467.1" cy="489.5" r="2.3" fill="#0000ff" stroke="none" stroke-width="0"/>
<circle cx="476.6" cy="492.6" r="2.3" fill="#0000ff" stroke="none" stroke-width="0"/>
<circle cx="486.1" cy="489.5" r="2.3" fill="#0000ff" stroke="none" stroke-width="0"/>
<circle cx="495.6" cy="492.6" r="2.3" fill="#0000ff" stroke="none" stroke-width="0"/>
<circle cx="505" cy="489.5" r="2.3" fill="#0000ff" stroke="none" stroke-width="0"/>
<circle cx="514.5" cy="492.6" r="2.3" fill="#0000ff" stroke="none" stroke-width="0"/>
<circle cx="524" cy="489.5" r="2.3" fill="#0000ff" stroke="none" stroke-width="0"/>
<circle cx="533.5" cy="492.6" r="2.3" fill="#0000ff" stroke="none" stroke-width="0"/>
<circle cx="542.9" cy="489.5" r="2.3" fill="#0000ff" stroke="none" stroke-width="0"/>
<circle cx="552.4" cy="554.2" r="2.3" fill="#0000ff" stroke="none" stroke-width="0"/>
<circle cx="561.9" cy="563.5" r="2.3" fill="#0000ff" stroke="none" stroke-width="0"/>
<circle cx="571.4" cy="573.5" r="2.3" fill="#0000ff" stroke="none" stroke-width="0"/>
<circle cx="580.8" cy="584.1" r="2.3" fill="#0000ff" stroke="none" stroke-width="0"/>
<circle cx="590.3" cy="595.3" r="2.3" fill="#0000ff" stroke="none" stroke-width="0"/>
<circle cx="599.8" cy="466.2" r="2.3" fill="#0000ff" stroke="none" stroke-width="0"/>
<circle cx="609.2" cy="478.7" r="2.3" fill="#0000ff" stroke="none" stroke-width="0"/>
<circle cx="618.7" cy="491.9" r="2.3" fill="#0000ff" stroke="none" stroke-width="0"/>
<circle cx="628.2" cy="505.8" r="2.3" fill="#0000ff" stroke="none" stroke-width="0"/>
<circle cx="637.7" cy="520.3" r="2.3" fill="#0000ff" stroke="none" stroke-width="0"/>
<circle cx="400.8" cy="519.9" r="2.3" fill="#0000ff" stroke="none" stroke-width="0"/>
<circle cx="410.3" cy="489.9" r="2.3" fill="#0000ff" stroke="none" stroke-width="0"/>
<circle cx="419.8" cy="461.2" r="2.3" fill="#0000ff" stroke="none" stroke-width="0"/>
<circle cx="429.2" cy="574.9" r="2.3" fill="#0000ff" stroke="none" stroke-width="0"/>
<circle cx="438.7" cy="548.9" r="2.3" fill="#0000ff" stroke="none" stroke-width="0"/>
<circle cx="448.2" cy="524.2" r="2.3" fill="#0000ff" stroke="none" stroke-width="0"/>
<circle cx="457.6" cy="502.4" r="2.3" fill="#0000ff" stroke="none" stroke-width="0"/>
<circle cx="467.1" cy="499.3" r="2.3" fill="#0000ff" stroke="none" stroke-width="0"/>
<circle cx="476.6" cy="502.4" r="2.3" fill="#0000ff" stroke="none" stroke-width="0"/>
<circle cx="486.1" cy="499.3" r="2.3" fill="#0000ff" stroke="none" stroke-width="0"/>
<circle cx="495.6" cy="502.4" r="2.3" fill="#0000ff" stroke="none" stroke-width="0"/>
<circle cx="505" cy="499.3" r="2.3" fill="#0000ff" stroke="none" stroke-width="0"/>
<circle cx="514.5" cy="502.4" r="2.3" fill="#0000ff" stroke="none" stroke-width="0"/>
<circle cx="524" cy="499.3" r="2.3" fill="#0000ff" stroke="none" stroke-width="0"/>
<circle cx="533.5" cy="502.4" r="2.3" fill="#0000ff" stroke="none" stroke-width="0"/>
<circle cx="542.9" cy="499.3" r="2.3" fill="#0000ff" stroke="none" stroke-width="0"/>
<circle cx="552.4" cy="505.2" r="2.3" fill="#0000ff" stroke="none" stroke-width="0"/>
<circle cx="561.9" cy="513.6" r="2.3" fill="#0000ff" stroke="none" stroke-width="0"/>
<circle cx="571.4" cy="522.5" r="2.3" fill="#0000ff" stroke="none" stroke-width="0"/>
<circle cx="580.8" cy="532.1" r="2.3" fill="#0000ff" stroke="none" stroke-width="0"/>
<circle cx="590.3" cy="542.2" r="2.3" fill="#0000ff" stroke="none" stroke-width="0"/>
<circle cx="599.8" cy="552.9" r="2.3" fill="#0000ff" stroke="none" stroke-width="0"/>
<circle cx="609.2" cy="564.2" r="2.3" fill="#0000ff" stroke="none" stroke-width="0"/>
<circle cx="618.7" cy="576.1" r="2.3" fill="#0000ff" stroke="none" stroke-width="0"/>
<circle cx="628.2" cy="588.6" r="2.3" fill="#0000ff" stroke="none" stroke-width="0"/>
<circle cx="637.7" cy="460.6" r="2.3" fill="#0000ff" stroke="none" stroke-width="0"/>
<circle cx="400.8" cy="506.2" r="2.3" fill="#0000ff" stroke="none" stroke-width="0"/>
<circle cx="410.3" cy="485.2" r="2.3" fill="#0000ff" stroke="none" stroke-width="0"/>
<circle cx="419.8" cy="464.8" r="2.3" fill="#0000ff" stroke="none" stroke-width="0"/>
<circle cx="429.2" cy="586" r="2.3" fill="#0000ff" stroke="none" stroke-width="0"/>
<circle cx="438.7" cy="566.8" r="2.3" fill="#0000ff" stroke="none" stroke-width="0"/>
<circle cx="448.2" cy="548.2" r="2.3" fill="#0000ff" stroke="none" stroke-width="0"/>
<circle cx="457.6" cy="530.3" r="2.3" fill="#0000ff" stroke="none" stroke-width="0"/>
<circle cx="467.1" cy="512.9" r="2.3" fill="#0000ff" stroke="none" stroke-width="0"/>
<circle cx="476.6" cy="496.2" r="2.3" fill="#0000ff" stroke="none" stroke-width="0"/>
<circle cx="486.1" cy="478.5" r="2.3" fill="#0000ff" stroke="none" stroke-width="0"/>
<circle cx="495.6" cy="481.7" r="2.3" fill="#0000ff" stroke="none" stroke-width="0"/>
<circle cx="505" cy="478.5" r="2.3" fill="#0000ff" stroke="none" stroke-width="0"/>
<circle cx="514.5" cy="481.7" r="2.3" fill="#0000ff" stroke="none" stroke-width="0"/>
<circle cx="524" cy="478.5" r="2.3" fill="#0000ff" stroke="none" stroke-width="0"/>
<circle cx="533.5" cy="481.7" r="2.3" fill="#0000ff" stroke="none" stroke-width="0"/>
<circle cx="542.9" cy="478.5" r="2.3" fill="#0000ff" stroke="none" stroke-width="0"/>
<circle cx="552.4" cy="539.3" r="2.3" fill="#0000ff" stroke="none" stroke-width="0"/>
<circle cx="561.9" cy="547.6" r="2.3" fill="#0000ff" stroke="none" stroke-width="0"/>
<circle cx="571.4" cy="556.5" r="2.3" fill="#0000ff" stroke="none" stroke-width="0"/>
<circle cx="580.8" cy="565.9" r="2.3" fill="#0000ff" stroke="none" stroke-width="0"/>
<circle cx="590.3" cy="576" r="2.3" fill="#0000ff" stroke="none" stroke-width="0"/>
<circle cx="599.8" cy="586.6" r="2.3" fill="#0000ff" stroke="none" stroke-width="0"/>
<circle cx="609.2" cy="597.8" r="2.3" fill="#0000ff" stroke="none" stroke-width="0"/>
<circle cx="618.7" cy="468.5" r="2.3" fill="#0000ff" stroke="none" stroke-width="0"/>
<circle cx="628.2" cy="480.9" r="2.3" fill="#0000ff" stroke="none" stroke-width="0"/>
<circle cx="637.7" cy="493.9" r="2.3" fill="#0000ff" stroke="none" stroke-width="0"/>
<circle cx="400.8" cy="488" r="2.3" fill="#0000ff" stroke="none" stroke-width="0"/>
<circle cx="410.3" cy="465.6" r="2.3" fill="#0000ff" stroke="none" stroke-width="0"/>
<circle cx="419.8" cy="585.1" r="2.3" fill="#0000ff" stroke="none" stroke-width="0"/>
<circle cx="429.2" cy="564.5" r="2.3" fill="#0000ff" stroke="none" stroke-width="0"/>
<circle cx="438.7" cy="544.6" r="2.3" fill="#0000ff" stroke="none" stroke-width="0"/>
<circle cx="448.2" cy="525.7" r="2.3" fill="#0000ff" stroke="none" stroke-width="0"/>
<circle cx="457.6" cy="507.6" r="2.3" fill="#0000ff" stroke="none" stroke-width="0"/>
<circle cx="467.1" cy="488.7" r="2.3" fill="#0000ff" stroke="none" stroke-width="0"/>
<circle cx="476.6" cy="491.9" r="2.3" fill="#0000ff" stroke="none" stroke-width="0"/>
<circle cx="486.1" cy="488.7" r="2.3" fill="#0000ff" stroke="none" stroke-width="0"/>
<circle cx="495.6" cy="491.9" r="2.3" fill="#0000ff" stroke="none" stroke-width="0"/>
<circle cx="505" cy="488.7" r="2.3" fill="#0000ff" stroke="none" stroke-width="0"/>
<circle cx="514.5" cy="491.9" r="2.3" fill="#0000ff" stroke="none" stroke-width="0"/>
<circle cx="524" cy="488.7" r="2.3" fill="#0000ff" stroke="none" stroke-width="0"/>
<circle cx="533.5" cy="491.9" r="2.3" fill="#0000ff" stroke="none" stroke-width="0"/>
<circle cx="542.9" cy="488.7" r="2.3" fill="#0000ff" stroke="none" stroke-width="0"/>
<circle cx="552.4" cy="522" r="2.3" fill="#0000ff" stroke="none" stroke-width="0"/>
<circle cx="561.9" cy="530.7" r="2.3" fill="#0000ff" stroke="none" stroke-width="0"/>
<circle cx="571.4" cy="540" r="2.3" fill="#0000ff" stroke="none" stroke-width="0"/>
<circle cx="580.8" cy="549.9" r="2.3" fill="#0000ff" stroke="none" stroke-width="0"/>
<circle cx="590.3" cy="560.4" r="2.3" fill="#0000ff" stroke="none" stroke-width="0"/>
<circle cx="599.8" cy="571.5" r="2.3" fill="#0000ff" stroke="none" stroke-width="0"/>
<circle cx="609.2" cy="583.2" r="2.3" fill="#0000ff" stroke="none" stroke-width="0"/>
<circle cx="618.7" cy="595.6" r="2.3" fill="#0000ff" stroke="none" stroke-width="0"/>
<circle cx="628.2" cy="467.5" r="2.3" fill="#0000ff" stroke="none" stroke-width="0"/>
<circle cx="637.7" cy="481" r="2.3" fill="#0000ff" stroke="none" stroke-width="0"/>
<circle cx="400.8" cy="470.8" r="2.3" fill="#0000ff" stroke="none" stroke-width="0"/>
<circle cx="410.3" cy="598" r="2.3" fill="#0000ff" stroke="none" stroke-width="0"/>
<circle cx="419.8" cy="584.6" r="2.3" fill="#0000ff" stroke="none" stroke-width="0"/>
<circle cx="429.2" cy="571.6" r="2.3" fill="#0000ff" stroke="none" stroke-width="0"/>
<circle cx="438.7" cy="559" r="2.3" fill="#0000ff" stroke="none" stroke-width="0"/>
<circle cx="448.2" cy="546.8" r="2.3" fill="#0000ff" stroke="none" stroke-width="0"/>
<circle cx="457.6" cy="535" r="2.3" fill="#0000ff" stroke="none" stroke-width="0"/>
<circle cx="467.1" cy="523.6" r="2.3" fill="#0000ff" stroke="none" stroke-width="0"/>
<circle cx="476.6" cy="512.6" r="2.3" fill="#0000ff" stroke="none" stroke-width="0"/>
<circle cx="486.1" cy="500.5" r="2.3" fill="#0000ff" stroke="none" stroke-width="0"/>
<circle cx="495.6" cy="503.6" r="2.3" fill="#0000ff" stroke="none" stroke-width="0"/>
<circle cx="505" cy="500.5" r="2.3" fill="#0000ff" stroke="none" stroke-width="0"/>
<circle cx="514.5" cy="503.6" r="2.3" fill="#0000ff" stroke="none" stroke-width="0"/>
<circle cx="524" cy="500.5" r="2.3" fill="#0000ff" stroke="none" stroke-width="0"/>
<circle cx="533.5" cy="503.6" r="2.3" fill="#0000ff" stroke="none" stroke-width="0"/>
<circle cx="542.9" cy="500.5" r="2.3" fill="#0000ff" stroke="none" stroke-width="0"/>
<circle cx="552.4" cy="585.1" r="2.3" fill="#0000ff" stroke="none" stroke-width="0"/>
<circle cx="561.9" cy="594.9" r="2.3" fill="#0000ff" stroke="none" stroke-width="0"/>
<circle cx="571.4" cy="464.3" r="2.3" fill="#0000ff" stroke="none" stroke-width="0"/>
<circle cx="580.8" cy="475.5" r="2.3" fill="#0000ff" stroke="none" stroke-width="0"/>
<circle cx="590.3" cy="487.3" r="2.3" fill="#0000ff" stroke="none" stroke-width="0"/>
<circle cx="599.8" cy="499.8" r="2.3" fill="#0000ff" stroke="none" stroke-width="0"/>
<circle cx="609.2" cy="513" r="2.3" fill="#0000ff" stroke="none" stroke-width="0"/>
<circle cx="618.7" cy="526.9" r="2.3" fill="#0000ff" stroke="none" stroke-width="0"/>
<circle cx="628.2" cy="541.5" r="2.3" fill="#0000ff" stroke="none" stroke-width="0"/>
<circle cx="637.7" cy="556.8" r="2.3" fill="#0000ff" stroke="none" stroke-width="0"/>
<circle cx="400.8" cy="598.8" r="2.4" fill="none" stroke="#000" stroke-width="1.1"/>
<circle cx="410.3" cy="596.1" r="2.4" fill="none" stroke="#000" stroke-width="1.1"/>
<circle cx="419.8" cy="593.2" r="2.4" fill="none" stroke="#000" stroke-width="1.1"/>
<circle cx="429.2" cy="579.9" r="2.4" fill="none" stroke="#000" stroke-width="1.1"/>
<circle cx="438.7" cy="566.7" r="2.4" fill="none" stroke="#000" stroke-width="1.1"/>
<circle cx="448.2" cy="560" r="2.4" fill="none" stroke="#000" stroke-width="1.1"/>
<circle cx="457.6" cy="542.8" r="2.4" fill="none" stroke="#000" stroke-width="1.1"/>
<circle cx="467.1" cy="535.3" r="2.4" fill="none" stroke="#000" stroke-width="1.1"/>
<circle cx="476.6" cy="521.2" r="2.4" fill="none" stroke="#000" stroke-width="1.1"/>
<circle cx="486.1" cy="508.7" r="2.4" fill="none" stroke="#000" stroke-width="1.1"/>
<circle cx="495.6" cy="504.9" r="2.4" fill="none" stroke="#000" stroke-width="1.1"/>
<circle cx="505" cy="502" r="2.4" fill="none" stroke="#000" stroke-width="1.1"/>
<circle cx="514.5" cy="503.1" r="2.4" fill="none" stroke="#000" stroke-width="1.1"/>
<circle cx="524" cy="503.5" r="2.4" fill="none" stroke="#000" stroke-width="1.1"/>
<circle cx="533.5" cy="503.6" r="2.4" fill="none" stroke="#000" stroke-width="1.1"/>
<circle cx="542.9" cy="503.6" r="2.4" fill="none" stroke="#000" stroke-width="1.1"/>
<circle cx="552.4" cy="506.7" r="2.4" fill="none" stroke="#000" stroke-width="1.1"/>
<circle cx="561.9" cy="521.2" r="2.4" fill="none" stroke="#000" stroke-width="1.1"/>
<circle cx="571.4" cy="541.6" r="2.4" fill="none" stroke="#000" stroke-width="1.1"/>
<circle cx="580.8" cy="550.9" r="2.4" fill="none" stroke="#000" stroke-width="1.1"/>
<circle cx="590.3" cy="560" r="2.4" fill="none" stroke="#000" stroke-width="1.1"/>
<circle cx="599.8" cy="571.4" r="2.4" fill="none" stroke="#000" stroke-width="1.1"/>
<circle cx="609.2" cy="583.3" r="2.4" fill="none" stroke="#000" stroke-width="1.1"/>
<circle cx="618.7" cy="596.3" r="2.4" fill="none" stroke="#000" stroke-width="1.1"/>
<circle cx="628.2" cy="469.5" r="2.4" fill="none" stroke="#000" stroke-width="1.1"/>
<circle cx="637.7" cy="481.4" r="2.4" fill="none" stroke="#000" stroke-width="1.1"/>
<circle cx="400.8" cy="518.2" r="2.4" fill="none" stroke="#000" stroke-width="1.1"/>
<circle cx="410.3" cy="501.3" r="2.4" fill="none" stroke="#000" stroke-width="1.1"/>
<circle cx="419.8" cy="484.1" r="2.4" fill="none" stroke="#000" stroke-width="1.1"/>
<circle cx="429.2" cy="469.3" r="2.4" fill="none" stroke="#000" stroke-width="1.1"/>
<circle cx="438.7" cy="598.8" r="2.4" fill="none" stroke="#000" stroke-width="1.1"/>
<circle cx="448.2" cy="581.2" r="2.4" fill="none" stroke="#000" stroke-width="1.1"/>
<circle cx="457.6" cy="561.6" r="2.4" fill="none" stroke="#000" stroke-width="1.1"/>
<circle cx="467.1" cy="545.9" r="2.4" fill="none" stroke="#000" stroke-width="1.1"/>
<circle cx="476.6" cy="536.1" r="2.4" fill="none" stroke="#000" stroke-width="1.1"/>
<circle cx="486.1" cy="526.3" r="2.4" fill="none" stroke="#000" stroke-width="1.1"/>
<circle cx="495.6" cy="516.5" r="2.4" fill="none" stroke="#000" stroke-width="1.1"/>
<circle cx="505" cy="504.8" r="2.4" fill="none" stroke="#000" stroke-width="1.1"/>
<circle cx="514.5" cy="480.5" r="2.4" fill="none" stroke="#000" stroke-width="1.1"/>
<circle cx="524" cy="472.7" r="2.4" fill="none" stroke="#000" stroke-width="1.1"/>
<circle cx="533.5" cy="470.8" r="2.4" fill="none" stroke="#000" stroke-width="1.1"/>
<circle cx="542.9" cy="472.7" r="2.4" fill="none" stroke="#000" stroke-width="1.1"/>
<circle cx="552.4" cy="472.7" r="2.4" fill="none" stroke="#000" stroke-width="1.1"/>
<circle cx="561.9" cy="470.8" r="2.4" fill="none" stroke="#000" stroke-width="1.1"/>
<circle cx="571.4" cy="474" r="2.4" fill="none" stroke="#000" stroke-width="1.1"/>
<circle cx="580.8" cy="481.4" r="2.4" fill="none" stroke="#000" stroke-width="1.1"/>
<circle cx="590.3" cy="490.7" r="2.4" fill="none" stroke="#000" stroke-width="1.1"/>
<circle cx="599.8" cy="500.9" r="2.4" fill="none" stroke="#000" stroke-width="1.1"/>
<circle cx="609.2" cy="513" r="2.4" fill="none" stroke="#000" stroke-width="1.1"/>
<circle cx="618.7" cy="525.9" r="2.4" fill="none" stroke="#000" stroke-width="1.1"/>
<circle cx="628.2" cy="539.7" r="2.4" fill="none" stroke="#000" stroke-width="1.1"/>
<circle cx="637.7" cy="556.5" r="2.4" fill="none" stroke="#000" stroke-width="1.1"/>
<circle cx="400.8" cy="530.6" r="2.4" fill="none" stroke="#000" stroke-width="1.1"/>
<circle cx="410.3" cy="548.7" r="2.4" fill="none" stroke="#000" stroke-width="1.1"/>
<circle cx="419.8" cy="524" r="2.4" fill="none" stroke="#000" stroke-width="1.1"/>
<circle cx="429.2" cy="563.7" r="2.4" fill="none" stroke="#000" stroke-width="1.1"/>
<circle cx="438.7" cy="490.8" r="2.4" fill="none" stroke="#000" stroke-width="1.1"/>
<circle cx="448.2" cy="527.7" r="2.4" fill="none" stroke="#000" stroke-width="1.1"/>
<circle cx="457.6" cy="463.3" r="2.4" fill="none" stroke="#000" stroke-width="1.1"/>
<circle cx="467.1" cy="590.2" r="2.4" fill="none" stroke="#000" stroke-width="1.1"/>
<circle cx="476.6" cy="485.2" r="2.4" fill="none" stroke="#000" stroke-width="1.1"/>
<circle cx="486.1" cy="483.2" r="2.4" fill="none" stroke="#000" stroke-width="1.1"/>
<circle cx="495.6" cy="481.3" r="2.4" fill="none" stroke="#000" stroke-width="1.1"/>
<circle cx="505" cy="479.3" r="2.4" fill="none" stroke="#000" stroke-width="1.1"/>
<circle cx="514.5" cy="475.4" r="2.4" fill="none" stroke="#000" stroke-width="1.1"/>
<circle cx="524" cy="472.3" r="2.4" fill="none" stroke="#000" stroke-width="1.1"/>
<circle cx="533.5" cy="473.4" r="2.4" fill="none" stroke="#000" stroke-width="1.1"/>
<circle cx="542.9" cy="475.4" r="2.4" fill="none" stroke="#000" stroke-width="1.1"/>
<circle cx="552.4" cy="575.7" r="2.4" fill="none" stroke="#000" stroke-width="1.1"/>
<circle cx="561.9" cy="582.4" r="2.4" fill="none" stroke="#000" stroke-width="1.1"/>
<circle cx="571.4" cy="589" r="2.4" fill="none" stroke="#000" stroke-width="1.1"/>
<circle cx="580.8" cy="594.9" r="2.4" fill="none" stroke="#000" stroke-width="1.1"/>
<circle cx="590.3" cy="600.8" r="2.4" fill="none" stroke="#000" stroke-width="1.1"/>
<circle cx="599.8" cy="467.6" r="2.4" fill="none" stroke="#000" stroke-width="1.1"/>
<circle cx="609.2" cy="479.3" r="2.4" fill="none" stroke="#000" stroke-width="1.1"/>
<circle cx="618.7" cy="491.9" r="2.4" fill="none" stroke="#000" stroke-width="1.1"/>
<circle cx="628.2" cy="503.6" r="2.4" fill="none" stroke="#000" stroke-width="1.1"/>
<circle cx="637.7" cy="518.5" r="2.4" fill="none" stroke="#000" stroke-width="1.1"/>
<path d="M400.8,490.5L403.7,495.5L397.9,495.5Z" fill="none" stroke="#ff0000" stroke-width="1.3" stroke-linejoin="miter"/>
<path d="M410.3,471.5L413.2,476.5L407.3,476.5Z" fill="none" stroke="#ff0000" stroke-width="1.3" stroke-linejoin="miter"/>
<path d="M419.8,457.4L422.7,462.4L416.8,462.4Z" fill="none" stroke="#ff0000" stroke-width="1.3" stroke-linejoin="miter"/>
<path d="M429.2,593L432.2,598L426.3,598Z" fill="none" stroke="#ff0000" stroke-width="1.3" stroke-linejoin="miter"/>
<path d="M438.7,585.4L441.6,590.4L435.8,590.4Z" fill="none" stroke="#ff0000" stroke-width="1.3" stroke-linejoin="miter"/>
<path d="M448.2,575.3L451.1,580.4L445.2,580.4Z" fill="none" stroke="#ff0000" stroke-width="1.3" stroke-linejoin="miter"/>
<path d="M457.6,560.1L460.6,565.1L454.7,565.1Z" fill="none" stroke="#ff0000" stroke-width="1.3" stroke-linejoin="miter"/>
<path d="M467.1,550.3L470.1,555.3L464.2,555.3Z" fill="none" stroke="#ff0000" stroke-width="1.3" stroke-linejoin="miter"/>
<path d="M476.6,548.7L479.5,553.7L473.7,553.7Z" fill="none" stroke="#ff0000" stroke-width="1.3" stroke-linejoin="miter"/>
<path d="M486.1,539.7L489,544.7L483.1,544.7Z" fill="none" stroke="#ff0000" stroke-width="1.3" stroke-linejoin="miter"/>
<path d="M495.6,522.8L498.5,527.9L492.6,527.9Z" fill="none" stroke="#ff0000" stroke-width="1.3" stroke-linejoin="miter"/>
<path d="M505,507.6L508,512.6L502.1,512.6Z" fill="none" stroke="#ff0000" stroke-width="1.3" stroke-linejoin="miter"/>
<path d="M514.5,492.7L517.4,497.7L511.6,497.7Z" fill="none" stroke="#ff0000" stroke-width="1.3" stroke-linejoin="miter"/>
<path d="M524,488L526.9,493L521,493Z" fill="none" stroke="#ff0000" stroke-width="1.3" stroke-linejoin="miter"/>
<path d="M533.5,487.2L536.4,492.2L530.5,492.2Z" fill="none" stroke="#ff0000" stroke-width="1.3" stroke-linejoin="miter"/>
<path d="M542.9,487.2L545.9,492.2L540,492.2Z" fill="none" stroke="#ff0000" stroke-width="1.3" stroke-linejoin="miter"/>
<path d="M552.4,514.6L555.3,519.6L549.5,519.6Z" fill="none" stroke="#ff0000" stroke-width="1.3" stroke-linejoin="miter"/>
<path d="M561.9,529.3L564.8,534.3L558.9,534.3Z" fill="none" stroke="#ff0000" stroke-width="1.3" stroke-linejoin="miter"/>
<path d="M571.4,538.5L574.3,543.5L568.4,543.5Z" fill="none" stroke="#ff0000" stroke-width="1.3" stroke-linejoin="miter"/>
<path d="M580.8,547.8L583.8,552.9L577.9,552.9Z" fill="none" stroke="#ff0000" stroke-width="1.3" stroke-linejoin="miter"/>
<path d="M590.3,556.9L593.2,561.9L587.4,561.9Z" fill="none" stroke="#ff0000" stroke-width="1.3" stroke-linejoin="miter"/>
<path d="M599.8,568.3L602.7,573.3L596.8,573.3Z" fill="none" stroke="#ff0000" stroke-width="1.3" stroke-linejoin="miter"/>
<path d="M609.2,580.2L612.2,585.3L606.3,585.3Z" fill="none" stroke="#ff0000" stroke-width="1.3" stroke-linejoin="miter"/>
<path d="M618.7,593.2L621.7,598.2L615.8,598.2Z" fill="none" stroke="#ff0000" stroke-width="1.3" stroke-linejoin="miter"/>
<path d="M628.2,466.4L631.1,471.5L625.3,471.5Z" fill="none" stroke="#ff0000" stroke-width="1.3" stroke-linejoin="miter"/>
<path d="M637.7,478.3L640.6,483.4L634.7,483.4Z" fill="none" stroke="#ff0000" stroke-width="1.3" stroke-linejoin="miter"/>
<path d="M400.8,500L403.7,505L397.9,505Z" fill="none" stroke="#ff0000" stroke-width="1.3" stroke-linejoin="miter"/>
<path d="M410.3,479.1L413.2,484.1L407.3,484.1Z" fill="none" stroke="#ff0000" stroke-width="1.3" stroke-linejoin="miter"/>
<path d="M419.8,577.7L422.7,582.7L416.8,582.7Z" fill="none" stroke="#ff0000" stroke-width="1.3" stroke-linejoin="miter"/>
<path d="M429.2,561.6L432.2,566.6L426.3,566.6Z" fill="none" stroke="#ff0000" stroke-width="1.3" stroke-linejoin="miter"/>
<path d="M438.7,547.4L441.6,552.4L435.8,552.4Z" fill="none" stroke="#ff0000" stroke-width="1.3" stroke-linejoin="miter"/>
<path d="M448.2,536.9L451.1,542L445.2,542Z" fill="none" stroke="#ff0000" stroke-width="1.3" stroke-linejoin="miter"/>
<path d="M457.6,524.6L460.6,529.6L454.7,529.6Z" fill="none" stroke="#ff0000" stroke-width="1.3" stroke-linejoin="miter"/>
<path d="M467.1,505.6L470.1,510.6L464.2,510.6Z" fill="none" stroke="#ff0000" stroke-width="1.3" stroke-linejoin="miter"/>
<path d="M476.6,489.5L479.5,494.6L473.7,494.6Z" fill="none" stroke="#ff0000" stroke-width="1.3" stroke-linejoin="miter"/>
<path d="M486.1,488L489,493L483.1,493Z" fill="none" stroke="#ff0000" stroke-width="1.3" stroke-linejoin="miter"/>
<path d="M495.6,487.6L498.5,492.6L492.6,492.6Z" fill="none" stroke="#ff0000" stroke-width="1.3" stroke-linejoin="miter"/>
<path d="M505,487.2L508,492.2L502.1,492.2Z" fill="none" stroke="#ff0000" stroke-width="1.3" stroke-linejoin="miter"/>
<path d="M514.5,486.4L517.4,491.4L511.6,491.4Z" fill="none" stroke="#ff0000" stroke-width="1.3" stroke-linejoin="miter"/>
<path d="M524,485.6L526.9,490.6L521,490.6Z" fill="none" stroke="#ff0000" stroke-width="1.3" stroke-linejoin="miter"/>
<path d="M533.5,485.6L536.4,490.6L530.5,490.6Z" fill="none" stroke="#ff0000" stroke-width="1.3" stroke-linejoin="miter"/>
<path d="M542.9,488L545.9,493L540,493Z" fill="none" stroke="#ff0000" stroke-width="1.3" stroke-linejoin="miter"/>
<path d="M552.4,519.3L555.3,524.3L549.5,524.3Z" fill="none" stroke="#ff0000" stroke-width="1.3" stroke-linejoin="miter"/>
<path d="M561.9,529.3L564.8,534.3L558.9,534.3Z" fill="none" stroke="#ff0000" stroke-width="1.3" stroke-linejoin="miter"/>
<path d="M571.4,538.5L574.3,543.5L568.4,543.5Z" fill="none" stroke="#ff0000" stroke-width="1.3" stroke-linejoin="miter"/>
<path d="M580.8,547.8L583.8,552.9L577.9,552.9Z" fill="none" stroke="#ff0000" stroke-width="1.3" stroke-linejoin="miter"/>
<path d="M590.3,556.9L593.2,561.9L587.4,561.9Z" fill="none" stroke="#ff0000" stroke-width="1.3" stroke-linejoin="miter"/>
<path d="M599.8,568.3L602.7,573.3L596.8,573.3Z" fill="none" stroke="#ff0000" stroke-width="1.3" stroke-linejoin="miter"/>
<path d="M609.2,580.2L612.2,585.3L606.3,585.3Z" fill="none" stroke="#ff0000" stroke-width="1.3" stroke-linejoin="miter"/>
<path d="M618.7,592.2L621.7,597.2L615.8,597.2Z" fill="none" stroke="#ff0000" stroke-width="1.3" stroke-linejoin="miter"/>
<path d="M628.2,466.4L631.1,471.5L625.3,471.5Z" fill="none" stroke="#ff0000" stroke-width="1.3" stroke-linejoin="miter"/>
<path d="M637.7,482.1L640.6,487.1L634.7,487.1Z" fill="none" stroke="#ff0000" stroke-width="1.3" stroke-linejoin="miter"/>
<path d="M400.8,570.2L403.7,575.3L397.9,575.3Z" fill="none" stroke="#ff0000" stroke-width="1.3" stroke-linejoin="miter"/>
<path d="M410.3,585.9L413.2,590.9L407.3,590.9Z" fill="none" stroke="#ff0000" stroke-width="1.3" stroke-linejoin="miter"/>
<path d="M419.8,593L422.7,598L416.8,598Z" fill="none" stroke="#ff0000" stroke-width="1.3" stroke-linejoin="miter"/>
<path d="M429.2,585.4L432.2,590.4L426.3,590.4Z" fill="none" stroke="#ff0000" stroke-width="1.3" stroke-linejoin="miter"/>
<path d="M438.7,574.6L441.6,579.6L435.8,579.6Z" fill="none" stroke="#ff0000" stroke-width="1.3" stroke-linejoin="miter"/>
<path d="M448.2,569.9L451.1,574.9L445.2,574.9Z" fill="none" stroke="#ff0000" stroke-width="1.3" stroke-linejoin="miter"/>
<path d="M457.6,563.6L460.6,568.6L454.7,568.6Z" fill="none" stroke="#ff0000" stroke-width="1.3" stroke-linejoin="miter"/>
<path d="M467.1,548.3L470.1,553.3L464.2,553.3Z" fill="none" stroke="#ff0000" stroke-width="1.3" stroke-linejoin="miter"/>
<path d="M476.6,539.7L479.5,544.7L473.7,544.7Z" fill="none" stroke="#ff0000" stroke-width="1.3" stroke-linejoin="miter"/>
<path d="M486.1,522.8L489,527.9L483.1,527.9Z" fill="none" stroke="#ff0000" stroke-width="1.3" stroke-linejoin="miter"/>
<path d="M495.6,503.6L498.5,508.7L492.6,508.7Z" fill="none" stroke="#ff0000" stroke-width="1.3" stroke-linejoin="miter"/>
<path d="M505,489.9L508,495L502.1,495Z" fill="none" stroke="#ff0000" stroke-width="1.3" stroke-linejoin="miter"/>
<path d="M514.5,484.1L517.4,489.1L511.6,489.1Z" fill="none" stroke="#ff0000" stroke-width="1.3" stroke-linejoin="miter"/>
<path d="M524,484.1L526.9,489.1L521,489.1Z" fill="none" stroke="#ff0000" stroke-width="1.3" stroke-linejoin="miter"/>
<path d="M533.5,484.8L536.4,489.9L530.5,489.9Z" fill="none" stroke="#ff0000" stroke-width="1.3" stroke-linejoin="miter"/>
<path d="M542.9,486L545.9,491L540,491Z" fill="none" stroke="#ff0000" stroke-width="1.3" stroke-linejoin="miter"/>
<path d="M552.4,556.9L555.3,561.9L549.5,561.9Z" fill="none" stroke="#ff0000" stroke-width="1.3" stroke-linejoin="miter"/>
<path d="M561.9,572.8L564.8,577.8L558.9,577.8Z" fill="none" stroke="#ff0000" stroke-width="1.3" stroke-linejoin="miter"/>
<path d="M571.4,579.3L574.3,584.3L568.4,584.3Z" fill="none" stroke="#ff0000" stroke-width="1.3" stroke-linejoin="miter"/>
<path d="M580.8,587.7L583.8,592.7L577.9,592.7Z" fill="none" stroke="#ff0000" stroke-width="1.3" stroke-linejoin="miter"/>
<path d="M590.3,595.9L593.2,601L587.4,601Z" fill="none" stroke="#ff0000" stroke-width="1.3" stroke-linejoin="miter"/>
<path d="M599.8,464.5L602.7,469.5L596.8,469.5Z" fill="none" stroke="#ff0000" stroke-width="1.3" stroke-linejoin="miter"/>
<path d="M609.2,476.6L612.2,481.6L606.3,481.6Z" fill="none" stroke="#ff0000" stroke-width="1.3" stroke-linejoin="miter"/>
<path d="M618.7,488.5L621.7,493.5L615.8,493.5Z" fill="none" stroke="#ff0000" stroke-width="1.3" stroke-linejoin="miter"/>
<path d="M628.2,500.5L631.1,505.5L625.3,505.5Z" fill="none" stroke="#ff0000" stroke-width="1.3" stroke-linejoin="miter"/>
<path d="M637.7,516.2L640.6,521.2L634.7,521.2Z" fill="none" stroke="#ff0000" stroke-width="1.3" stroke-linejoin="miter"/>
<path d="M400.8,579.6L403.7,584.7L397.9,584.7Z" fill="none" stroke="#ff0000" stroke-width="1.3" stroke-linejoin="miter"/>
<path d="M410.3,563.6L413.2,568.6L407.3,568.6Z" fill="none" stroke="#ff0000" stroke-width="1.3" stroke-linejoin="miter"/>
<path d="M419.8,546.5L422.7,551.6L416.8,551.6Z" fill="none" stroke="#ff0000" stroke-width="1.3" stroke-linejoin="miter"/>
<path d="M429.2,531.3L432.2,536.3L426.3,536.3Z" fill="none" stroke="#ff0000" stroke-width="1.3" stroke-linejoin="miter"/>
<path d="M438.7,517L441.6,522L435.8,522Z" fill="none" stroke="#ff0000" stroke-width="1.3" stroke-linejoin="miter"/>
<path d="M448.2,504.7L451.1,509.7L445.2,509.7Z" fill="none" stroke="#ff0000" stroke-width="1.3" stroke-linejoin="miter"/>
<path d="M457.6,496.2L460.6,501.2L454.7,501.2Z" fill="none" stroke="#ff0000" stroke-width="1.3" stroke-linejoin="miter"/>
<path d="M467.1,489.9L470.1,495L464.2,495Z" fill="none" stroke="#ff0000" stroke-width="1.3" stroke-linejoin="miter"/>
<path d="M476.6,489.9L479.5,495L473.7,495Z" fill="none" stroke="#ff0000" stroke-width="1.3" stroke-linejoin="miter"/>
<path d="M486.1,493.5L489,498.5L483.1,498.5Z" fill="none" stroke="#ff0000" stroke-width="1.3" stroke-linejoin="miter"/>
<path d="M495.6,490.5L498.5,495.5L492.6,495.5Z" fill="none" stroke="#ff0000" stroke-width="1.3" stroke-linejoin="miter"/>
<path d="M505,487.6L508,492.6L502.1,492.6Z" fill="none" stroke="#ff0000" stroke-width="1.3" stroke-linejoin="miter"/>
<path d="M514.5,486.8L517.4,491.8L511.6,491.8Z" fill="none" stroke="#ff0000" stroke-width="1.3" stroke-linejoin="miter"/>
<path d="M524,485.8L526.9,490.8L521,490.8Z" fill="none" stroke="#ff0000" stroke-width="1.3" stroke-linejoin="miter"/>
<path d="M533.5,486.4L536.4,491.4L530.5,491.4Z" fill="none" stroke="#ff0000" stroke-width="1.3" stroke-linejoin="miter"/>
<path d="M542.9,487.2L545.9,492.2L540,492.2Z" fill="none" stroke="#ff0000" stroke-width="1.3" stroke-linejoin="miter"/>
<path d="M552.4,492.3L555.3,497.3L549.5,497.3Z" fill="none" stroke="#ff0000" stroke-width="1.3" stroke-linejoin="miter"/>
<path d="M561.9,498.7L564.8,503.7L558.9,503.7Z" fill="none" stroke="#ff0000" stroke-width="1.3" stroke-linejoin="miter"/>
<path d="M571.4,505.2L574.3,510.2L568.4,510.2Z" fill="none" stroke="#ff0000" stroke-width="1.3" stroke-linejoin="miter"/>
<path d="M580.8,514.6L583.8,519.6L577.9,519.6Z" fill="none" stroke="#ff0000" stroke-width="1.3" stroke-linejoin="miter"/>
<path d="M590.3,523.7L593.2,528.7L587.4,528.7Z" fill="none" stroke="#ff0000" stroke-width="1.3" stroke-linejoin="miter"/>
<path d="M599.8,532.9L602.7,538L596.8,538Z" fill="none" stroke="#ff0000" stroke-width="1.3" stroke-linejoin="miter"/>
<path d="M609.2,546L612.2,551L606.3,551Z" fill="none" stroke="#ff0000" stroke-width="1.3" stroke-linejoin="miter"/>
<path d="M618.7,556.9L621.7,561.9L615.8,561.9Z" fill="none" stroke="#ff0000" stroke-width="1.3" stroke-linejoin="miter"/>
<path d="M628.2,571L631.1,576L625.3,576Z" fill="none" stroke="#ff0000" stroke-width="1.3" stroke-linejoin="miter"/>
<path d="M637.7,585L640.6,590L634.7,590Z" fill="none" stroke="#ff0000" stroke-width="1.3" stroke-linejoin="miter"/>
<path d="M400.8,476.2L403.7,481.2L397.9,481.2Z" fill="none" stroke="#ff0000" stroke-width="1.3" stroke-linejoin="miter"/>
<path d="M410.3,597.3L413.2,602.3L407.3,602.3Z" fill="none" stroke="#ff0000" stroke-width="1.3" stroke-linejoin="miter"/>
<path d="M419.8,587.9L422.7,592.9L416.8,592.9Z" fill="none" stroke="#ff0000" stroke-width="1.3" stroke-linejoin="miter"/>
<path d="M429.2,578.1L432.2,583.1L426.3,583.1Z" fill="none" stroke="#ff0000" stroke-width="1.3" stroke-linejoin="miter"/>
<path d="M438.7,570.2L441.6,575.3L435.8,575.3Z" fill="none" stroke="#ff0000" stroke-width="1.3" stroke-linejoin="miter"/>
<path d="M448.2,561.6L451.1,566.6L445.2,566.6Z" fill="none" stroke="#ff0000" stroke-width="1.3" stroke-linejoin="miter"/>
<path d="M457.6,550.7L460.6,555.7L454.7,555.7Z" fill="none" stroke="#ff0000" stroke-width="1.3" stroke-linejoin="miter"/>
<path d="M467.1,542.8L470.1,547.8L464.2,547.8Z" fill="none" stroke="#ff0000" stroke-width="1.3" stroke-linejoin="miter"/>
<path d="M476.6,531.1L479.5,536.1L473.7,536.1Z" fill="none" stroke="#ff0000" stroke-width="1.3" stroke-linejoin="miter"/>
<path d="M486.1,511.5L489,516.5L483.1,516.5Z" fill="none" stroke="#ff0000" stroke-width="1.3" stroke-linejoin="miter"/>
<path d="M495.6,495.8L498.5,500.8L492.6,500.8Z" fill="none" stroke="#ff0000" stroke-width="1.3" stroke-linejoin="miter"/>
<path d="M505,486L508,491L502.1,491Z" fill="none" stroke="#ff0000" stroke-width="1.3" stroke-linejoin="miter"/>
<path d="M514.5,482.1L517.4,487.1L511.6,487.1Z" fill="none" stroke="#ff0000" stroke-width="1.3" stroke-linejoin="miter"/>
<path d="M524,480.1L526.9,485.2L521,485.2Z" fill="none" stroke="#ff0000" stroke-width="1.3" stroke-linejoin="miter"/>
<path d="M533.5,478.2L536.4,483.2L530.5,483.2Z" fill="none" stroke="#ff0000" stroke-width="1.3" stroke-linejoin="miter"/>
<path d="M542.9,476.2L545.9,481.2L540,481.2Z" fill="none" stroke="#ff0000" stroke-width="1.3" stroke-linejoin="miter"/>
<path d="M552.4,470L555.3,475L549.5,475Z" fill="none" stroke="#ff0000" stroke-width="1.3" stroke-linejoin="miter"/>
<path d="M561.9,468.1L564.8,473.1L558.9,473.1Z" fill="none" stroke="#ff0000" stroke-width="1.3" stroke-linejoin="miter"/>
<path d="M571.4,470.9L574.3,475.9L568.4,475.9Z" fill="none" stroke="#ff0000" stroke-width="1.3" stroke-linejoin="miter"/>
<path d="M580.8,478.3L583.8,483.3L577.9,483.3Z" fill="none" stroke="#ff0000" stroke-width="1.3" stroke-linejoin="miter"/>
<path d="M590.3,487.6L593.2,492.6L587.4,492.6Z" fill="none" stroke="#ff0000" stroke-width="1.3" stroke-linejoin="miter"/>
<path d="M599.8,497.8L602.7,502.8L596.8,502.8Z" fill="none" stroke="#ff0000" stroke-width="1.3" stroke-linejoin="miter"/>
<path d="M609.2,509.9L612.2,514.9L606.3,514.9Z" fill="none" stroke="#ff0000" stroke-width="1.3" stroke-linejoin="miter"/>
<path d="M618.7,522.8L621.7,527.9L615.8,527.9Z" fill="none" stroke="#ff0000" stroke-width="1.3" stroke-linejoin="miter"/>
<path d="M628.2,536.6L631.1,541.6L625.3,541.6Z" fill="none" stroke="#ff0000" stroke-width="1.3" stroke-linejoin="miter"/>
<path d="M637.7,553.4L640.6,558.4L634.7,558.4Z" fill="none" stroke="#ff0000" stroke-width="1.3" stroke-linejoin="miter"/>
<line x1="400.8" y1="608.6" x2="400.8" y2="605.3" stroke="#262626" stroke-width="1.0" stroke-linecap="butt"/>
<line x1="400.8" y1="451.9" x2="400.8" y2="455.2" stroke="#262626" stroke-width="1.0" stroke-linecap="butt"/>
<text x="400" y="624.2" font-family="Liberation Serif" font-size="13.0" font-weight="bold" fill="#000" text-anchor="middle">-45</text>
<line x1="441.4" y1="608.6" x2="441.4" y2="605.3" stroke="#262626" stroke-width="1.0" stroke-linecap="butt"/>
<line x1="441.4" y1="451.9" x2="441.4" y2="455.2" stroke="#262626" stroke-width="1.0" stroke-linecap="butt"/>
<text x="440.6" y="624.2" font-family="Liberation Serif" font-size="13.0" font-weight="bold" fill="#000" text-anchor="middle">-30</text>
<line x1="482" y1="608.6" x2="482" y2="605.3" stroke="#262626" stroke-width="1.0" stroke-linecap="butt"/>
<line x1="482" y1="451.9" x2="482" y2="455.2" stroke="#262626" stroke-width="1.0" stroke-linecap="butt"/>
<text x="481.2" y="624.2" font-family="Liberation Serif" font-size="13.0" font-weight="bold" fill="#000" text-anchor="middle">-15</text>
<line x1="522.6" y1="608.6" x2="522.6" y2="605.3" stroke="#262626" stroke-width="1.0" stroke-linecap="butt"/>
<line x1="522.6" y1="451.9" x2="522.6" y2="455.2" stroke="#262626" stroke-width="1.0" stroke-linecap="butt"/>
<text x="522.6" y="624.2" font-family="Liberation Serif" font-size="13.0" font-weight="bold" fill="#000" text-anchor="middle">0</text>
<line x1="563.2" y1="608.6" x2="563.2" y2="605.3" stroke="#262626" stroke-width="1.0" stroke-linecap="butt"/>
<line x1="563.2" y1="451.9" x2="563.2" y2="455.2" stroke="#262626" stroke-width="1.0" stroke-linecap="butt"/>
<text x="563.2" y="624.2" font-family="Liberation Serif" font-size="13.0" font-weight="bold" fill="#000" text-anchor="middle">15</text>
<line x1="603.8" y1="608.6" x2="603.8" y2="605.3" stroke="#262626" stroke-width="1.0" stroke-linecap="butt"/>
<line x1="603.8" y1="451.9" x2="603.8" y2="455.2" stroke="#262626" stroke-width="1.0" stroke-linecap="butt"/>
<text x="603.8" y="624.2" font-family="Liberation Serif" font-size="13.0" font-weight="bold" fill="#000" text-anchor="middle">30</text>
<line x1="644.4" y1="608.6" x2="644.4" y2="605.3" stroke="#262626" stroke-width="1.0" stroke-linecap="butt"/>
<line x1="644.4" y1="451.9" x2="644.4" y2="455.2" stroke="#262626" stroke-width="1.0" stroke-linecap="butt"/>
<text x="644.4" y="624.2" font-family="Liberation Serif" font-size="13.0" font-weight="bold" fill="#000" text-anchor="middle">45</text>
<line x1="400.8" y1="608.6" x2="404.1" y2="608.6" stroke="#262626" stroke-width="1.0" stroke-linecap="butt"/>
<line x1="644.4" y1="608.6" x2="641.1" y2="608.6" stroke="#262626" stroke-width="1.0" stroke-linecap="butt"/>
<text x="396.4" y="613.4" font-family="Liberation Serif" font-size="13.2" font-weight="bold" fill="#000" text-anchor="end">-200</text>
<line x1="400.8" y1="569.4" x2="404.1" y2="569.4" stroke="#262626" stroke-width="1.0" stroke-linecap="butt"/>
<line x1="644.4" y1="569.4" x2="641.1" y2="569.4" stroke="#262626" stroke-width="1.0" stroke-linecap="butt"/>
<text x="396.4" y="574.2" font-family="Liberation Serif" font-size="13.2" font-weight="bold" fill="#000" text-anchor="end">-100</text>
<line x1="400.8" y1="530.2" x2="404.1" y2="530.2" stroke="#262626" stroke-width="1.0" stroke-linecap="butt"/>
<line x1="644.4" y1="530.2" x2="641.1" y2="530.2" stroke="#262626" stroke-width="1.0" stroke-linecap="butt"/>
<text x="396.4" y="535" font-family="Liberation Serif" font-size="13.2" font-weight="bold" fill="#000" text-anchor="end">0</text>
<line x1="400.8" y1="491.1" x2="404.1" y2="491.1" stroke="#262626" stroke-width="1.0" stroke-linecap="butt"/>
<line x1="644.4" y1="491.1" x2="641.1" y2="491.1" stroke="#262626" stroke-width="1.0" stroke-linecap="butt"/>
<text x="396.4" y="495.9" font-family="Liberation Serif" font-size="13.2" font-weight="bold" fill="#000" text-anchor="end">100</text>
<line x1="400.8" y1="451.9" x2="404.1" y2="451.9" stroke="#262626" stroke-width="1.0" stroke-linecap="butt"/>
<line x1="644.4" y1="451.9" x2="641.1" y2="451.9" stroke="#262626" stroke-width="1.0" stroke-linecap="butt"/>
<text x="396.4" y="456.7" font-family="Liberation Serif" font-size="13.2" font-weight="bold" fill="#000" text-anchor="end">200</text>
<text x="522.8" y="638.7" font-family="Liberation Serif" font-size="14" font-weight="bold" fill="#000" text-anchor="middle" textLength="26.5" lengthAdjust="spacingAndGlyphs"><tspan font-style="italic">θ</tspan> (°)</text>
<text x="365" y="530.5" font-family="Liberation Serif" font-size="14.2" font-weight="bold" fill="#000" text-anchor="middle" transform="rotate(-90 365 530.5)" textLength="107.2" lengthAdjust="spacingAndGlyphs">Radiation Phase (°)</text>
<rect x="151.1" y="682.9" width="84.5" height="57.6" fill="#222" stroke="none" stroke-width="0" rx="0"/>
<rect x="152.5" y="684.3" width="9.7" height="6.3" fill="#00ffff" stroke="none" stroke-width="0" rx="1.3"/>
<rect x="162.8" y="684.3" width="9.7" height="6.3" fill="#0000ff" stroke="none" stroke-width="0" rx="1.3"/>
<rect x="173.1" y="684.3" width="9.7" height="6.3" fill="#ff0000" stroke="none" stroke-width="0" rx="1.3"/>
<rect x="183.4" y="684.3" width="9.7" height="6.3" fill="#00ffff" stroke="none" stroke-width="0" rx="1.3"/>
<rect x="193.7" y="684.3" width="9.7" height="6.3" fill="#00ffff" stroke="none" stroke-width="0" rx="1.3"/>
<rect x="203.9" y="684.3" width="9.7" height="6.3" fill="#0000ff" stroke="none" stroke-width="0" rx="1.3"/>
<rect x="214.2" y="684.3" width="9.7" height="6.3" fill="#ff0000" stroke="none" stroke-width="0" rx="1.3"/>
<rect x="224.5" y="684.3" width="9.7" height="6.3" fill="#ffff00" stroke="none" stroke-width="0" rx="1.3"/>
<rect x="152.5" y="691.2" width="9.7" height="6.3" fill="#0000ff" stroke="none" stroke-width="0" rx="1.3"/>
<rect x="162.8" y="691.2" width="9.7" height="6.3" fill="#ff0000" stroke="none" stroke-width="0" rx="1.3"/>
<rect x="173.1" y="691.2" width="9.7" height="6.3" fill="#ff0000" stroke="none" stroke-width="0" rx="1.3"/>
<rect x="183.4" y="691.2" width="9.7" height="6.3" fill="#ff0000" stroke="none" stroke-width="0" rx="1.3"/>
<rect x="193.7" y="691.2" width="9.7" height="6.3" fill="#0000ff" stroke="none" stroke-width="0" rx="1.3"/>
<rect x="203.9" y="691.2" width="9.7" height="6.3" fill="#ff0000" stroke="none" stroke-width="0" rx="1.3"/>
<rect x="214.2" y="691.2" width="9.7" height="6.3" fill="#ff0000" stroke="none" stroke-width="0" rx="1.3"/>
<rect x="224.5" y="691.2" width="9.7" height="6.3" fill="#ff0000" stroke="none" stroke-width="0" rx="1.3"/>
<rect x="152.5" y="698.1" width="9.7" height="6.3" fill="#ff0000" stroke="none" stroke-width="0" rx="1.3"/>
<rect x="162.8" y="698.1" width="9.7" height="6.3" fill="#ff0000" stroke="none" stroke-width="0" rx="1.3"/>
<rect x="173.1" y="698.1" width="9.7" height="6.3" fill="#ff0000" stroke="none" stroke-width="0" rx="1.3"/>
<rect x="183.4" y="698.1" width="9.7" height="6.3" fill="#ffff00" stroke="none" stroke-width="0" rx="1.3"/>
<rect x="193.7" y="698.1" width="9.7" height="6.3" fill="#ffff00" stroke="none" stroke-width="0" rx="1.3"/>
<rect x="203.9" y="698.1" width="9.7" height="6.3" fill="#ff0000" stroke="none" stroke-width="0" rx="1.3"/>
<rect x="214.2" y="698.1" width="9.7" height="6.3" fill="#ff0000" stroke="none" stroke-width="0" rx="1.3"/>
<rect x="224.5" y="698.1" width="9.7" height="6.3" fill="#ff0000" stroke="none" stroke-width="0" rx="1.3"/>
<rect x="152.5" y="705.1" width="9.7" height="6.3" fill="#00ffff" stroke="none" stroke-width="0" rx="1.3"/>
<rect x="162.8" y="705.1" width="9.7" height="6.3" fill="#ff0000" stroke="none" stroke-width="0" rx="1.3"/>
<rect x="173.1" y="705.1" width="9.7" height="6.3" fill="#ffff00" stroke="none" stroke-width="0" rx="1.3"/>
<rect x="183.4" y="705.1" width="9.7" height="6.3" fill="#ffff00" stroke="none" stroke-width="0" rx="1.3"/>
<rect x="193.7" y="705.1" width="9.7" height="6.3" fill="#ffff00" stroke="none" stroke-width="0" rx="1.3"/>
<rect x="203.9" y="705.1" width="9.7" height="6.3" fill="#00ffff" stroke="none" stroke-width="0" rx="1.3"/>
<rect x="214.2" y="705.1" width="9.7" height="6.3" fill="#ff0000" stroke="none" stroke-width="0" rx="1.3"/>
<rect x="224.5" y="705.1" width="9.7" height="6.3" fill="#ffff00" stroke="none" stroke-width="0" rx="1.3"/>
<rect x="152.5" y="712" width="9.7" height="6.3" fill="#00ffff" stroke="none" stroke-width="0" rx="1.3"/>
<rect x="162.8" y="712" width="9.7" height="6.3" fill="#0000ff" stroke="none" stroke-width="0" rx="1.3"/>
<rect x="173.1" y="712" width="9.7" height="6.3" fill="#ffff00" stroke="none" stroke-width="0" rx="1.3"/>
<rect x="183.4" y="712" width="9.7" height="6.3" fill="#ffff00" stroke="none" stroke-width="0" rx="1.3"/>
<rect x="193.7" y="712" width="9.7" height="6.3" fill="#00ffff" stroke="none" stroke-width="0" rx="1.3"/>
<rect x="203.9" y="712" width="9.7" height="6.3" fill="#00ffff" stroke="none" stroke-width="0" rx="1.3"/>
<rect x="214.2" y="712" width="9.7" height="6.3" fill="#0000ff" stroke="none" stroke-width="0" rx="1.3"/>
<rect x="224.5" y="712" width="9.7" height="6.3" fill="#ffff00" stroke="none" stroke-width="0" rx="1.3"/>
<rect x="152.5" y="718.9" width="9.7" height="6.3" fill="#0000ff" stroke="none" stroke-width="0" rx="1.3"/>
<rect x="162.8" y="718.9" width="9.7" height="6.3" fill="#ff0000" stroke="none" stroke-width="0" rx="1.3"/>
<rect x="173.1" y="718.9" width="9.7" height="6.3" fill="#ff0000" stroke="none" stroke-width="0" rx="1.3"/>
<rect x="183.4" y="718.9" width="9.7" height="6.3" fill="#00ffff" stroke="none" stroke-width="0" rx="1.3"/>
<rect x="193.7" y="718.9" width="9.7" height="6.3" fill="#00ffff" stroke="none" stroke-width="0" rx="1.3"/>
<rect x="203.9" y="718.9" width="9.7" height="6.3" fill="#0000ff" stroke="none" stroke-width="0" rx="1.3"/>
<rect x="214.2" y="718.9" width="9.7" height="6.3" fill="#ff0000" stroke="none" stroke-width="0" rx="1.3"/>
<rect x="224.5" y="718.9" width="9.7" height="6.3" fill="#ff0000" stroke="none" stroke-width="0" rx="1.3"/>
<rect x="152.5" y="725.8" width="9.7" height="6.3" fill="#ff0000" stroke="none" stroke-width="0" rx="1.3"/>
<rect x="162.8" y="725.8" width="9.7" height="6.3" fill="#ff0000" stroke="none" stroke-width="0" rx="1.3"/>
<rect x="173.1" y="725.8" width="9.7" height="6.3" fill="#ff0000" stroke="none" stroke-width="0" rx="1.3"/>
<rect x="183.4" y="725.8" width="9.7" height="6.3" fill="#ff0000" stroke="none" stroke-width="0" rx="1.3"/>
<rect x="193.7" y="725.8" width="9.7" height="6.3" fill="#0000ff" stroke="none" stroke-width="0" rx="1.3"/>
<rect x="203.9" y="725.8" width="9.7" height="6.3" fill="#ff0000" stroke="none" stroke-width="0" rx="1.3"/>
<rect x="214.2" y="725.8" width="9.7" height="6.3" fill="#ff0000" stroke="none" stroke-width="0" rx="1.3"/>
<rect x="224.5" y="725.8" width="9.7" height="6.3" fill="#ff0000" stroke="none" stroke-width="0" rx="1.3"/>
<rect x="152.5" y="732.8" width="9.7" height="6.3" fill="#ffff00" stroke="none" stroke-width="0" rx="1.3"/>
<rect x="162.8" y="732.8" width="9.7" height="6.3" fill="#ff0000" stroke="none" stroke-width="0" rx="1.3"/>
<rect x="173.1" y="732.8" width="9.7" height="6.3" fill="#ff0000" stroke="none" stroke-width="0" rx="1.3"/>
<rect x="183.4" y="732.8" width="9.7" height="6.3" fill="#ffff00" stroke="none" stroke-width="0" rx="1.3"/>
<rect x="193.7" y="732.8" width="9.7" height="6.3" fill="#ffff00" stroke="none" stroke-width="0" rx="1.3"/>
<rect x="203.9" y="732.8" width="9.7" height="6.3" fill="#ff0000" stroke="none" stroke-width="0" rx="1.3"/>
<rect x="214.2" y="732.8" width="9.7" height="6.3" fill="#ff0000" stroke="none" stroke-width="0" rx="1.3"/>
<rect x="224.5" y="732.8" width="9.7" height="6.3" fill="#ffff00" stroke="none" stroke-width="0" rx="1.3"/>
<text x="194.2" y="677.7" font-family="Liberation Serif" font-size="14.8" font-weight="normal" fill="#111" text-anchor="middle" textLength="75.6" lengthAdjust="spacingAndGlyphs">0000-0000</text>
<rect x="245.1" y="682.9" width="84.5" height="57.6" fill="#222" stroke="none" stroke-width="0" rx="0"/>
<rect x="246.5" y="684.3" width="9.7" height="6.3" fill="#00ffff" stroke="none" stroke-width="0" rx="1.3"/>
<rect x="256.8" y="684.3" width="9.7" height="6.3" fill="#00ffff" stroke="none" stroke-width="0" rx="1.3"/>
<rect x="267.1" y="684.3" width="9.7" height="6.3" fill="#ff0000" stroke="none" stroke-width="0" rx="1.3"/>
<rect x="277.4" y="684.3" width="9.7" height="6.3" fill="#ffff00" stroke="none" stroke-width="0" rx="1.3"/>
<rect x="287.6" y="684.3" width="9.7" height="6.3" fill="#00ffff" stroke="none" stroke-width="0" rx="1.3"/>
<rect x="297.9" y="684.3" width="9.7" height="6.3" fill="#00ffff" stroke="none" stroke-width="0" rx="1.3"/>
<rect x="308.2" y="684.3" width="9.7" height="6.3" fill="#0000ff" stroke="none" stroke-width="0" rx="1.3"/>
<rect x="318.5" y="684.3" width="9.7" height="6.3" fill="#ffff00" stroke="none" stroke-width="0" rx="1.3"/>
<rect x="246.5" y="691.2" width="9.7" height="6.3" fill="#00ffff" stroke="none" stroke-width="0" rx="1.3"/>
<rect x="256.8" y="691.2" width="9.7" height="6.3" fill="#0000ff" stroke="none" stroke-width="0" rx="1.3"/>
<rect x="267.1" y="691.2" width="9.7" height="6.3" fill="#ff0000" stroke="none" stroke-width="0" rx="1.3"/>
<rect x="277.4" y="691.2" width="9.7" height="6.3" fill="#ff0000" stroke="none" stroke-width="0" rx="1.3"/>
<rect x="287.6" y="691.2" width="9.7" height="6.3" fill="#00ffff" stroke="none" stroke-width="0" rx="1.3"/>
<rect x="297.9" y="691.2" width="9.7" height="6.3" fill="#0000ff" stroke="none" stroke-width="0" rx="1.3"/>
<rect x="308.2" y="691.2" width="9.7" height="6.3" fill="#ff0000" stroke="none" stroke-width="0" rx="1.3"/>
<rect x="318.5" y="691.2" width="9.7" height="6.3" fill="#ff0000" stroke="none" stroke-width="0" rx="1.3"/>
<rect x="246.5" y="698.1" width="9.7" height="6.3" fill="#0000ff" stroke="none" stroke-width="0" rx="1.3"/>
<rect x="256.8" y="698.1" width="9.7" height="6.3" fill="#ff0000" stroke="none" stroke-width="0" rx="1.3"/>
<rect x="267.1" y="698.1" width="9.7" height="6.3" fill="#ff0000" stroke="none" stroke-width="0" rx="1.3"/>
<rect x="277.4" y="698.1" width="9.7" height="6.3" fill="#ff0000" stroke="none" stroke-width="0" rx="1.3"/>
<rect x="287.6" y="698.1" width="9.7" height="6.3" fill="#ffff00" stroke="none" stroke-width="0" rx="1.3"/>
<rect x="297.9" y="698.1" width="9.7" height="6.3" fill="#ff0000" stroke="none" stroke-width="0" rx="1.3"/>
<rect x="308.2" y="698.1" width="9.7" height="6.3" fill="#ff0000" stroke="none" stroke-width="0" rx="1.3"/>
<rect x="318.5" y="698.1" width="9.7" height="6.3" fill="#ff0000" stroke="none" stroke-width="0" rx="1.3"/>
<rect x="246.5" y="705.1" width="9.7" height="6.3" fill="#ffff00" stroke="none" stroke-width="0" rx="1.3"/>
<rect x="256.8" y="705.1" width="9.7" height="6.3" fill="#ff0000" stroke="none" stroke-width="0" rx="1.3"/>
<rect x="267.1" y="705.1" width="9.7" height="6.3" fill="#ff0000" stroke="none" stroke-width="0" rx="1.3"/>
<rect x="277.4" y="705.1" width="9.7" height="6.3" fill="#ffff00" stroke="none" stroke-width="0" rx="1.3"/>
<rect x="287.6" y="705.1" width="9.7" height="6.3" fill="#ffff00" stroke="none" stroke-width="0" rx="1.3"/>
<rect x="297.9" y="705.1" width="9.7" height="6.3" fill="#00ffff" stroke="none" stroke-width="0" rx="1.3"/>
<rect x="308.2" y="705.1" width="9.7" height="6.3" fill="#ff0000" stroke="none" stroke-width="0" rx="1.3"/>
<rect x="318.5" y="705.1" width="9.7" height="6.3" fill="#ffff00" stroke="none" stroke-width="0" rx="1.3"/>
<rect x="246.5" y="712" width="9.7" height="6.3" fill="#00ffff" stroke="none" stroke-width="0" rx="1.3"/>
<rect x="256.8" y="712" width="9.7" height="6.3" fill="#00ffff" stroke="none" stroke-width="0" rx="1.3"/>
<rect x="267.1" y="712" width="9.7" height="6.3" fill="#ffff00" stroke="none" stroke-width="0" rx="1.3"/>
<rect x="277.4" y="712" width="9.7" height="6.3" fill="#ffff00" stroke="none" stroke-width="0" rx="1.3"/>
<rect x="287.6" y="712" width="9.7" height="6.3" fill="#00ffff" stroke="none" stroke-width="0" rx="1.3"/>
<rect x="297.9" y="712" width="9.7" height="6.3" fill="#00ffff" stroke="none" stroke-width="0" rx="1.3"/>
<rect x="308.2" y="712" width="9.7" height="6.3" fill="#00ffff" stroke="none" stroke-width="0" rx="1.3"/>
<rect x="318.5" y="712" width="9.7" height="6.3" fill="#ffff00" stroke="none" stroke-width="0" rx="1.3"/>
<rect x="246.5" y="718.9" width="9.7" height="6.3" fill="#00ffff" stroke="none" stroke-width="0" rx="1.3"/>
<rect x="256.8" y="718.9" width="9.7" height="6.3" fill="#0000ff" stroke="none" stroke-width="0" rx="1.3"/>
<rect x="267.1" y="718.9" width="9.7" height="6.3" fill="#ff0000" stroke="none" stroke-width="0" rx="1.3"/>
<rect x="277.4" y="718.9" width="9.7" height="6.3" fill="#00ffff" stroke="none" stroke-width="0" rx="1.3"/>
<rect x="287.6" y="718.9" width="9.7" height="6.3" fill="#00ffff" stroke="none" stroke-width="0" rx="1.3"/>
<rect x="297.9" y="718.9" width="9.7" height="6.3" fill="#0000ff" stroke="none" stroke-width="0" rx="1.3"/>
<rect x="308.2" y="718.9" width="9.7" height="6.3" fill="#0000ff" stroke="none" stroke-width="0" rx="1.3"/>
<rect x="318.5" y="718.9" width="9.7" height="6.3" fill="#ff0000" stroke="none" stroke-width="0" rx="1.3"/>
<rect x="246.5" y="725.8" width="9.7" height="6.3" fill="#0000ff" stroke="none" stroke-width="0" rx="1.3"/>
<rect x="256.8" y="725.8" width="9.7" height="6.3" fill="#ff0000" stroke="none" stroke-width="0" rx="1.3"/>
<rect x="267.1" y="725.8" width="9.7" height="6.3" fill="#ff0000" stroke="none" stroke-width="0" rx="1.3"/>
<rect x="277.4" y="725.8" width="9.7" height="6.3" fill="#ff0000" stroke="none" stroke-width="0" rx="1.3"/>
<rect x="287.6" y="725.8" width="9.7" height="6.3" fill="#0000ff" stroke="none" stroke-width="0" rx="1.3"/>
<rect x="297.9" y="725.8" width="9.7" height="6.3" fill="#ff0000" stroke="none" stroke-width="0" rx="1.3"/>
<rect x="308.2" y="725.8" width="9.7" height="6.3" fill="#ff0000" stroke="none" stroke-width="0" rx="1.3"/>
<rect x="318.5" y="725.8" width="9.7" height="6.3" fill="#ff0000" stroke="none" stroke-width="0" rx="1.3"/>
<rect x="246.5" y="732.8" width="9.7" height="6.3" fill="#ffff00" stroke="none" stroke-width="0" rx="1.3"/>
<rect x="256.8" y="732.8" width="9.7" height="6.3" fill="#ff0000" stroke="none" stroke-width="0" rx="1.3"/>
<rect x="267.1" y="732.8" width="9.7" height="6.3" fill="#ff0000" stroke="none" stroke-width="0" rx="1.3"/>
<rect x="277.4" y="732.8" width="9.7" height="6.3" fill="#ffff00" stroke="none" stroke-width="0" rx="1.3"/>
<rect x="287.6" y="732.8" width="9.7" height="6.3" fill="#ffff00" stroke="none" stroke-width="0" rx="1.3"/>
<rect x="297.9" y="732.8" width="9.7" height="6.3" fill="#ff0000" stroke="none" stroke-width="0" rx="1.3"/>
<rect x="308.2" y="732.8" width="9.7" height="6.3" fill="#ff0000" stroke="none" stroke-width="0" rx="1.3"/>
<rect x="318.5" y="732.8" width="9.7" height="6.3" fill="#ff0000" stroke="none" stroke-width="0" rx="1.3"/>
<text x="288.2" y="677.7" font-family="Liberation Serif" font-size="14.8" font-weight="normal" fill="#111" text-anchor="middle" textLength="75.6" lengthAdjust="spacingAndGlyphs">0001-0001</text>
<rect x="338.5" y="682.9" width="84.5" height="57.6" fill="#222" stroke="none" stroke-width="0" rx="0"/>
<rect x="339.9" y="684.3" width="9.7" height="6.3" fill="#ffff00" stroke="none" stroke-width="0" rx="1.3"/>
<rect x="350.2" y="684.3" width="9.7" height="6.3" fill="#00ffff" stroke="none" stroke-width="0" rx="1.3"/>
<rect x="360.5" y="684.3" width="9.7" height="6.3" fill="#00ffff" stroke="none" stroke-width="0" rx="1.3"/>
<rect x="370.8" y="684.3" width="9.7" height="6.3" fill="#ffff00" stroke="none" stroke-width="0" rx="1.3"/>
<rect x="381.1" y="684.3" width="9.7" height="6.3" fill="#ffff00" stroke="none" stroke-width="0" rx="1.3"/>
<rect x="391.3" y="684.3" width="9.7" height="6.3" fill="#00ffff" stroke="none" stroke-width="0" rx="1.3"/>
<rect x="401.6" y="684.3" width="9.7" height="6.3" fill="#00ffff" stroke="none" stroke-width="0" rx="1.3"/>
<rect x="411.9" y="684.3" width="9.7" height="6.3" fill="#ff0000" stroke="none" stroke-width="0" rx="1.3"/>
<rect x="339.9" y="691.2" width="9.7" height="6.3" fill="#00ffff" stroke="none" stroke-width="0" rx="1.3"/>
<rect x="350.2" y="691.2" width="9.7" height="6.3" fill="#00ffff" stroke="none" stroke-width="0" rx="1.3"/>
<rect x="360.5" y="691.2" width="9.7" height="6.3" fill="#0000ff" stroke="none" stroke-width="0" rx="1.3"/>
<rect x="370.8" y="691.2" width="9.7" height="6.3" fill="#ff0000" stroke="none" stroke-width="0" rx="1.3"/>
<rect x="381.1" y="691.2" width="9.7" height="6.3" fill="#00ffff" stroke="none" stroke-width="0" rx="1.3"/>
<rect x="391.3" y="691.2" width="9.7" height="6.3" fill="#00ffff" stroke="none" stroke-width="0" rx="1.3"/>
<rect x="401.6" y="691.2" width="9.7" height="6.3" fill="#00ffff" stroke="none" stroke-width="0" rx="1.3"/>
<rect x="411.9" y="691.2" width="9.7" height="6.3" fill="#0000ff" stroke="none" stroke-width="0" rx="1.3"/>
<rect x="339.9" y="698.1" width="9.7" height="6.3" fill="#00ffff" stroke="none" stroke-width="0" rx="1.3"/>
<rect x="350.2" y="698.1" width="9.7" height="6.3" fill="#0000ff" stroke="none" stroke-width="0" rx="1.3"/>
<rect x="360.5" y="698.1" width="9.7" height="6.3" fill="#ff0000" stroke="none" stroke-width="0" rx="1.3"/>
<rect x="370.8" y="698.1" width="9.7" height="6.3" fill="#ff0000" stroke="none" stroke-width="0" rx="1.3"/>
<rect x="381.1" y="698.1" width="9.7" height="6.3" fill="#ff0000" stroke="none" stroke-width="0" rx="1.3"/>
<rect x="391.3" y="698.1" width="9.7" height="6.3" fill="#00ffff" stroke="none" stroke-width="0" rx="1.3"/>
<rect x="401.6" y="698.1" width="9.7" height="6.3" fill="#0000ff" stroke="none" stroke-width="0" rx="1.3"/>
<rect x="411.9" y="698.1" width="9.7" height="6.3" fill="#ff0000" stroke="none" stroke-width="0" rx="1.3"/>
<rect x="339.9" y="705.1" width="9.7" height="6.3" fill="#ffff00" stroke="none" stroke-width="0" rx="1.3"/>
<rect x="350.2" y="705.1" width="9.7" height="6.3" fill="#ff0000" stroke="none" stroke-width="0" rx="1.3"/>
<rect x="360.5" y="705.1" width="9.7" height="6.3" fill="#ff0000" stroke="none" stroke-width="0" rx="1.3"/>
<rect x="370.8" y="705.1" width="9.7" height="6.3" fill="#ff0000" stroke="none" stroke-width="0" rx="1.3"/>
<rect x="381.1" y="705.1" width="9.7" height="6.3" fill="#ff0000" stroke="none" stroke-width="0" rx="1.3"/>
<rect x="391.3" y="705.1" width="9.7" height="6.3" fill="#ffff00" stroke="none" stroke-width="0" rx="1.3"/>
<rect x="401.6" y="705.1" width="9.7" height="6.3" fill="#ff0000" stroke="none" stroke-width="0" rx="1.3"/>
<rect x="411.9" y="705.1" width="9.7" height="6.3" fill="#ff0000" stroke="none" stroke-width="0" rx="1.3"/>
<rect x="339.9" y="712" width="9.7" height="6.3" fill="#ffff00" stroke="none" stroke-width="0" rx="1.3"/>
<rect x="350.2" y="712" width="9.7" height="6.3" fill="#00ffff" stroke="none" stroke-width="0" rx="1.3"/>
<rect x="360.5" y="712" width="9.7" height="6.3" fill="#ff0000" stroke="none" stroke-width="0" rx="1.3"/>
<rect x="370.8" y="712" width="9.7" height="6.3" fill="#ff0000" stroke="none" stroke-width="0" rx="1.3"/>
<rect x="381.1" y="712" width="9.7" height="6.3" fill="#ffff00" stroke="none" stroke-width="0" rx="1.3"/>
<rect x="391.3" y="712" width="9.7" height="6.3" fill="#ffff00" stroke="none" stroke-width="0" rx="1.3"/>
<rect x="401.6" y="712" width="9.7" height="6.3" fill="#00ffff" stroke="none" stroke-width="0" rx="1.3"/>
<rect x="411.9" y="712" width="9.7" height="6.3" fill="#ff0000" stroke="none" stroke-width="0" rx="1.3"/>
<rect x="339.9" y="718.9" width="9.7" height="6.3" fill="#00ffff" stroke="none" stroke-width="0" rx="1.3"/>
<rect x="350.2" y="718.9" width="9.7" height="6.3" fill="#00ffff" stroke="none" stroke-width="0" rx="1.3"/>
<rect x="360.5" y="718.9" width="9.7" height="6.3" fill="#00ffff" stroke="none" stroke-width="0" rx="1.3"/>
<rect x="370.8" y="718.9" width="9.7" height="6.3" fill="#ffff00" stroke="none" stroke-width="0" rx="1.3"/>
<rect x="381.1" y="718.9" width="9.7" height="6.3" fill="#ffff00" stroke="none" stroke-width="0" rx="1.3"/>
<rect x="391.3" y="718.9" width="9.7" height="6.3" fill="#00ffff" stroke="none" stroke-width="0" rx="1.3"/>
<rect x="401.6" y="718.9" width="9.7" height="6.3" fill="#00ffff" stroke="none" stroke-width="0" rx="1.3"/>
<rect x="411.9" y="718.9" width="9.7" height="6.3" fill="#0000ff" stroke="none" stroke-width="0" rx="1.3"/>
<rect x="339.9" y="725.8" width="9.7" height="6.3" fill="#00ffff" stroke="none" stroke-width="0" rx="1.3"/>
<rect x="350.2" y="725.8" width="9.7" height="6.3" fill="#00ffff" stroke="none" stroke-width="0" rx="1.3"/>
<rect x="360.5" y="725.8" width="9.7" height="6.3" fill="#0000ff" stroke="none" stroke-width="0" rx="1.3"/>
<rect x="370.8" y="725.8" width="9.7" height="6.3" fill="#ff0000" stroke="none" stroke-width="0" rx="1.3"/>
<rect x="381.1" y="725.8" width="9.7" height="6.3" fill="#00ffff" stroke="none" stroke-width="0" rx="1.3"/>
<rect x="391.3" y="725.8" width="9.7" height="6.3" fill="#00ffff" stroke="none" stroke-width="0" rx="1.3"/>
<rect x="401.6" y="725.8" width="9.7" height="6.3" fill="#0000ff" stroke="none" stroke-width="0" rx="1.3"/>
<rect x="411.9" y="725.8" width="9.7" height="6.3" fill="#ff0000" stroke="none" stroke-width="0" rx="1.3"/>
<rect x="339.9" y="732.8" width="9.7" height="6.3" fill="#ff0000" stroke="none" stroke-width="0" rx="1.3"/>
<rect x="350.2" y="732.8" width="9.7" height="6.3" fill="#0000ff" stroke="none" stroke-width="0" rx="1.3"/>
<rect x="360.5" y="732.8" width="9.7" height="6.3" fill="#ff0000" stroke="none" stroke-width="0" rx="1.3"/>
<rect x="370.8" y="732.8" width="9.7" height="6.3" fill="#ff0000" stroke="none" stroke-width="0" rx="1.3"/>
<rect x="381.1" y="732.8" width="9.7" height="6.3" fill="#ff0000" stroke="none" stroke-width="0" rx="1.3"/>
<rect x="391.3" y="732.8" width="9.7" height="6.3" fill="#0000ff" stroke="none" stroke-width="0" rx="1.3"/>
<rect x="401.6" y="732.8" width="9.7" height="6.3" fill="#ff0000" stroke="none" stroke-width="0" rx="1.3"/>
<rect x="411.9" y="732.8" width="9.7" height="6.3" fill="#ff0000" stroke="none" stroke-width="0" rx="1.3"/>
<text x="381.6" y="677.7" font-family="Liberation Serif" font-size="14.8" font-weight="normal" fill="#111" text-anchor="middle" textLength="75.6" lengthAdjust="spacingAndGlyphs">0010-0010</text>
<rect x="432.3" y="682.9" width="84.5" height="57.6" fill="#222" stroke="none" stroke-width="0" rx="0"/>
<rect x="433.7" y="684.3" width="9.7" height="6.3" fill="#00ffff" stroke="none" stroke-width="0" rx="1.3"/>
<rect x="444" y="684.3" width="9.7" height="6.3" fill="#00ffff" stroke="none" stroke-width="0" rx="1.3"/>
<rect x="454.3" y="684.3" width="9.7" height="6.3" fill="#00ffff" stroke="none" stroke-width="0" rx="1.3"/>
<rect x="464.6" y="684.3" width="9.7" height="6.3" fill="#ffff00" stroke="none" stroke-width="0" rx="1.3"/>
<rect x="474.9" y="684.3" width="9.7" height="6.3" fill="#ffff00" stroke="none" stroke-width="0" rx="1.3"/>
<rect x="485.1" y="684.3" width="9.7" height="6.3" fill="#00ffff" stroke="none" stroke-width="0" rx="1.3"/>
<rect x="495.4" y="684.3" width="9.7" height="6.3" fill="#00ffff" stroke="none" stroke-width="0" rx="1.3"/>
<rect x="505.7" y="684.3" width="9.7" height="6.3" fill="#ffff00" stroke="none" stroke-width="0" rx="1.3"/>
<rect x="433.7" y="691.2" width="9.7" height="6.3" fill="#00ffff" stroke="none" stroke-width="0" rx="1.3"/>
<rect x="444" y="691.2" width="9.7" height="6.3" fill="#00ffff" stroke="none" stroke-width="0" rx="1.3"/>
<rect x="454.3" y="691.2" width="9.7" height="6.3" fill="#0000ff" stroke="none" stroke-width="0" rx="1.3"/>
<rect x="464.6" y="691.2" width="9.7" height="6.3" fill="#ff0000" stroke="none" stroke-width="0" rx="1.3"/>
<rect x="474.9" y="691.2" width="9.7" height="6.3" fill="#00ffff" stroke="none" stroke-width="0" rx="1.3"/>
<rect x="485.1" y="691.2" width="9.7" height="6.3" fill="#00ffff" stroke="none" stroke-width="0" rx="1.3"/>
<rect x="495.4" y="691.2" width="9.7" height="6.3" fill="#0000ff" stroke="none" stroke-width="0" rx="1.3"/>
<rect x="505.7" y="691.2" width="9.7" height="6.3" fill="#ff0000" stroke="none" stroke-width="0" rx="1.3"/>
<rect x="433.7" y="698.1" width="9.7" height="6.3" fill="#0000ff" stroke="none" stroke-width="0" rx="1.3"/>
<rect x="444" y="698.1" width="9.7" height="6.3" fill="#0000ff" stroke="none" stroke-width="0" rx="1.3"/>
<rect x="454.3" y="698.1" width="9.7" height="6.3" fill="#ff0000" stroke="none" stroke-width="0" rx="1.3"/>
<rect x="464.6" y="698.1" width="9.7" height="6.3" fill="#ff0000" stroke="none" stroke-width="0" rx="1.3"/>
<rect x="474.9" y="698.1" width="9.7" height="6.3" fill="#ff0000" stroke="none" stroke-width="0" rx="1.3"/>
<rect x="485.1" y="698.1" width="9.7" height="6.3" fill="#0000ff" stroke="none" stroke-width="0" rx="1.3"/>
<rect x="495.4" y="698.1" width="9.7" height="6.3" fill="#ff0000" stroke="none" stroke-width="0" rx="1.3"/>
<rect x="505.7" y="698.1" width="9.7" height="6.3" fill="#ff0000" stroke="none" stroke-width="0" rx="1.3"/>
<rect x="433.7" y="705.1" width="9.7" height="6.3" fill="#ffff00" stroke="none" stroke-width="0" rx="1.3"/>
<rect x="444" y="705.1" width="9.7" height="6.3" fill="#ff0000" stroke="none" stroke-width="0" rx="1.3"/>
<rect x="454.3" y="705.1" width="9.7" height="6.3" fill="#ff0000" stroke="none" stroke-width="0" rx="1.3"/>
<rect x="464.6" y="705.1" width="9.7" height="6.3" fill="#ff0000" stroke="none" stroke-width="0" rx="1.3"/>
<rect x="474.9" y="705.1" width="9.7" height="6.3" fill="#ffff00" stroke="none" stroke-width="0" rx="1.3"/>
<rect x="485.1" y="705.1" width="9.7" height="6.3" fill="#ffff00" stroke="none" stroke-width="0" rx="1.3"/>
<rect x="495.4" y="705.1" width="9.7" height="6.3" fill="#ff0000" stroke="none" stroke-width="0" rx="1.3"/>
<rect x="505.7" y="705.1" width="9.7" height="6.3" fill="#ff0000" stroke="none" stroke-width="0" rx="1.3"/>
<rect x="433.7" y="712" width="9.7" height="6.3" fill="#ffff00" stroke="none" stroke-width="0" rx="1.3"/>
<rect x="444" y="712" width="9.7" height="6.3" fill="#00ffff" stroke="none" stroke-width="0" rx="1.3"/>
<rect x="454.3" y="712" width="9.7" height="6.3" fill="#ff0000" stroke="none" stroke-width="0" rx="1.3"/>
<rect x="464.6" y="712" width="9.7" height="6.3" fill="#ffff00" stroke="none" stroke-width="0" rx="1.3"/>
<rect x="474.9" y="712" width="9.7" height="6.3" fill="#ffff00" stroke="none" stroke-width="0" rx="1.3"/>
<rect x="485.1" y="712" width="9.7" height="6.3" fill="#00ffff" stroke="none" stroke-width="0" rx="1.3"/>
<rect x="495.4" y="712" width="9.7" height="6.3" fill="#00ffff" stroke="none" stroke-width="0" rx="1.3"/>
<rect x="505.7" y="712" width="9.7" height="6.3" fill="#ffff00" stroke="none" stroke-width="0" rx="1.3"/>
<rect x="433.7" y="718.9" width="9.7" height="6.3" fill="#00ffff" stroke="none" stroke-width="0" rx="1.3"/>
<rect x="444" y="718.9" width="9.7" height="6.3" fill="#00ffff" stroke="none" stroke-width="0" rx="1.3"/>
<rect x="454.3" y="718.9" width="9.7" height="6.3" fill="#0000ff" stroke="none" stroke-width="0" rx="1.3"/>
<rect x="464.6" y="718.9" width="9.7" height="6.3" fill="#ffff00" stroke="none" stroke-width="0" rx="1.3"/>
<rect x="474.9" y="718.9" width="9.7" height="6.3" fill="#00ffff" stroke="none" stroke-width="0" rx="1.3"/>
<rect x="485.1" y="718.9" width="9.7" height="6.3" fill="#00ffff" stroke="none" stroke-width="0" rx="1.3"/>
<rect x="495.4" y="718.9" width="9.7" height="6.3" fill="#0000ff" stroke="none" stroke-width="0" rx="1.3"/>
<rect x="505.7" y="718.9" width="9.7" height="6.3" fill="#ff0000" stroke="none" stroke-width="0" rx="1.3"/>
<rect x="433.7" y="725.8" width="9.7" height="6.3" fill="#00ffff" stroke="none" stroke-width="0" rx="1.3"/>
<rect x="444" y="725.8" width="9.7" height="6.3" fill="#0000ff" stroke="none" stroke-width="0" rx="1.3"/>
<rect x="454.3" y="725.8" width="9.7" height="6.3" fill="#ff0000" stroke="none" stroke-width="0" rx="1.3"/>
<rect x="464.6" y="725.8" width="9.7" height="6.3" fill="#ff0000" stroke="none" stroke-width="0" rx="1.3"/>
<rect x="474.9" y="725.8" width="9.7" height="6.3" fill="#00ffff" stroke="none" stroke-width="0" rx="1.3"/>
<rect x="485.1" y="725.8" width="9.7" height="6.3" fill="#0000ff" stroke="none" stroke-width="0" rx="1.3"/>
<rect x="495.4" y="725.8" width="9.7" height="6.3" fill="#ff0000" stroke="none" stroke-width="0" rx="1.3"/>
<rect x="505.7" y="725.8" width="9.7" height="6.3" fill="#ff0000" stroke="none" stroke-width="0" rx="1.3"/>
<rect x="433.7" y="732.8" width="9.7" height="6.3" fill="#ffff00" stroke="none" stroke-width="0" rx="1.3"/>
<rect x="444" y="732.8" width="9.7" height="6.3" fill="#ff0000" stroke="none" stroke-width="0" rx="1.3"/>
<rect x="454.3" y="732.8" width="9.7" height="6.3" fill="#ff0000" stroke="none" stroke-width="0" rx="1.3"/>
<rect x="464.6" y="732.8" width="9.7" height="6.3" fill="#ff0000" stroke="none" stroke-width="0" rx="1.3"/>
<rect x="474.9" y="732.8" width="9.7" height="6.3" fill="#ffff00" stroke="none" stroke-width="0" rx="1.3"/>
<rect x="485.1" y="732.8" width="9.7" height="6.3" fill="#ff0000" stroke="none" stroke-width="0" rx="1.3"/>
<rect x="495.4" y="732.8" width="9.7" height="6.3" fill="#ff0000" stroke="none" stroke-width="0" rx="1.3"/>
<rect x="505.7" y="732.8" width="9.7" height="6.3" fill="#ff0000" stroke="none" stroke-width="0" rx="1.3"/>
<text x="475.4" y="677.7" font-family="Liberation Serif" font-size="14.8" font-weight="normal" fill="#111" text-anchor="middle" textLength="75.6" lengthAdjust="spacingAndGlyphs">0011-0011</text>
<rect x="151.1" y="763.1" width="84.5" height="57.6" fill="#222" stroke="none" stroke-width="0" rx="0"/>
<rect x="152.5" y="764.5" width="9.7" height="6.3" fill="#0000ff" stroke="none" stroke-width="0" rx="1.3"/>
<rect x="162.8" y="764.5" width="9.7" height="6.3" fill="#ff0000" stroke="none" stroke-width="0" rx="1.3"/>
<rect x="173.1" y="764.5" width="9.7" height="6.3" fill="#ff0000" stroke="none" stroke-width="0" rx="1.3"/>
<rect x="183.4" y="764.5" width="9.7" height="6.3" fill="#00ffff" stroke="none" stroke-width="0" rx="1.3"/>
<rect x="193.7" y="764.5" width="9.7" height="6.3" fill="#00ffff" stroke="none" stroke-width="0" rx="1.3"/>
<rect x="203.9" y="764.5" width="9.7" height="6.3" fill="#0000ff" stroke="none" stroke-width="0" rx="1.3"/>
<rect x="214.2" y="764.5" width="9.7" height="6.3" fill="#ff0000" stroke="none" stroke-width="0" rx="1.3"/>
<rect x="224.5" y="764.5" width="9.7" height="6.3" fill="#00ffff" stroke="none" stroke-width="0" rx="1.3"/>
<rect x="152.5" y="771.4" width="9.7" height="6.3" fill="#ff0000" stroke="none" stroke-width="0" rx="1.3"/>
<rect x="162.8" y="771.4" width="9.7" height="6.3" fill="#ff0000" stroke="none" stroke-width="0" rx="1.3"/>
<rect x="173.1" y="771.4" width="9.7" height="6.3" fill="#ff0000" stroke="none" stroke-width="0" rx="1.3"/>
<rect x="183.4" y="771.4" width="9.7" height="6.3" fill="#ff0000" stroke="none" stroke-width="0" rx="1.3"/>
<rect x="193.7" y="771.4" width="9.7" height="6.3" fill="#0000ff" stroke="none" stroke-width="0" rx="1.3"/>
<rect x="203.9" y="771.4" width="9.7" height="6.3" fill="#ff0000" stroke="none" stroke-width="0" rx="1.3"/>
<rect x="214.2" y="771.4" width="9.7" height="6.3" fill="#ff0000" stroke="none" stroke-width="0" rx="1.3"/>
<rect x="224.5" y="771.4" width="9.7" height="6.3" fill="#ff0000" stroke="none" stroke-width="0" rx="1.3"/>
<rect x="152.5" y="778.4" width="9.7" height="6.3" fill="#ff0000" stroke="none" stroke-width="0" rx="1.3"/>
<rect x="162.8" y="778.4" width="9.7" height="6.3" fill="#ff0000" stroke="none" stroke-width="0" rx="1.3"/>
<rect x="173.1" y="778.4" width="9.7" height="6.3" fill="#ff0000" stroke="none" stroke-width="0" rx="1.3"/>
<rect x="183.4" y="778.4" width="9.7" height="6.3" fill="#ffff00" stroke="none" stroke-width="0" rx="1.3"/>
<rect x="193.7" y="778.4" width="9.7" height="6.3" fill="#ffff00" stroke="none" stroke-width="0" rx="1.3"/>
<rect x="203.9" y="778.4" width="9.7" height="6.3" fill="#ff0000" stroke="none" stroke-width="0" rx="1.3"/>
<rect x="214.2" y="778.4" width="9.7" height="6.3" fill="#ff0000" stroke="none" stroke-width="0" rx="1.3"/>
<rect x="224.5" y="778.4" width="9.7" height="6.3" fill="#ffff00" stroke="none" stroke-width="0" rx="1.3"/>
<rect x="152.5" y="785.3" width="9.7" height="6.3" fill="#00ffff" stroke="none" stroke-width="0" rx="1.3"/>
<rect x="162.8" y="785.3" width="9.7" height="6.3" fill="#ff0000" stroke="none" stroke-width="0" rx="1.3"/>
<rect x="173.1" y="785.3" width="9.7" height="6.3" fill="#ffff00" stroke="none" stroke-width="0" rx="1.3"/>
<rect x="183.4" y="785.3" width="9.7" height="6.3" fill="#ffff00" stroke="none" stroke-width="0" rx="1.3"/>
<rect x="193.7" y="785.3" width="9.7" height="6.3" fill="#00ffff" stroke="none" stroke-width="0" rx="1.3"/>
<rect x="203.9" y="785.3" width="9.7" height="6.3" fill="#00ffff" stroke="none" stroke-width="0" rx="1.3"/>
<rect x="214.2" y="785.3" width="9.7" height="6.3" fill="#ffff00" stroke="none" stroke-width="0" rx="1.3"/>
<rect x="224.5" y="785.3" width="9.7" height="6.3" fill="#ffff00" stroke="none" stroke-width="0" rx="1.3"/>
<rect x="152.5" y="792.2" width="9.7" height="6.3" fill="#00ffff" stroke="none" stroke-width="0" rx="1.3"/>
<rect x="162.8" y="792.2" width="9.7" height="6.3" fill="#0000ff" stroke="none" stroke-width="0" rx="1.3"/>
<rect x="173.1" y="792.2" width="9.7" height="6.3" fill="#ffff00" stroke="none" stroke-width="0" rx="1.3"/>
<rect x="183.4" y="792.2" width="9.7" height="6.3" fill="#00ffff" stroke="none" stroke-width="0" rx="1.3"/>
<rect x="193.7" y="792.2" width="9.7" height="6.3" fill="#00ffff" stroke="none" stroke-width="0" rx="1.3"/>
<rect x="203.9" y="792.2" width="9.7" height="6.3" fill="#0000ff" stroke="none" stroke-width="0" rx="1.3"/>
<rect x="214.2" y="792.2" width="9.7" height="6.3" fill="#ff0000" stroke="none" stroke-width="0" rx="1.3"/>
<rect x="224.5" y="792.2" width="9.7" height="6.3" fill="#00ffff" stroke="none" stroke-width="0" rx="1.3"/>
<rect x="152.5" y="799.1" width="9.7" height="6.3" fill="#0000ff" stroke="none" stroke-width="0" rx="1.3"/>
<rect x="162.8" y="799.1" width="9.7" height="6.3" fill="#ff0000" stroke="none" stroke-width="0" rx="1.3"/>
<rect x="173.1" y="799.1" width="9.7" height="6.3" fill="#ff0000" stroke="none" stroke-width="0" rx="1.3"/>
<rect x="183.4" y="799.1" width="9.7" height="6.3" fill="#00ffff" stroke="none" stroke-width="0" rx="1.3"/>
<rect x="193.7" y="799.1" width="9.7" height="6.3" fill="#0000ff" stroke="none" stroke-width="0" rx="1.3"/>
<rect x="203.9" y="799.1" width="9.7" height="6.3" fill="#ff0000" stroke="none" stroke-width="0" rx="1.3"/>
<rect x="214.2" y="799.1" width="9.7" height="6.3" fill="#ff0000" stroke="none" stroke-width="0" rx="1.3"/>
<rect x="224.5" y="799.1" width="9.7" height="6.3" fill="#ff0000" stroke="none" stroke-width="0" rx="1.3"/>
<rect x="152.5" y="806" width="9.7" height="6.3" fill="#ff0000" stroke="none" stroke-width="0" rx="1.3"/>
<rect x="162.8" y="806" width="9.7" height="6.3" fill="#ff0000" stroke="none" stroke-width="0" rx="1.3"/>
<rect x="173.1" y="806" width="9.7" height="6.3" fill="#ff0000" stroke="none" stroke-width="0" rx="1.3"/>
<rect x="183.4" y="806" width="9.7" height="6.3" fill="#ffff00" stroke="none" stroke-width="0" rx="1.3"/>
<rect x="193.7" y="806" width="9.7" height="6.3" fill="#ff0000" stroke="none" stroke-width="0" rx="1.3"/>
<rect x="203.9" y="806" width="9.7" height="6.3" fill="#ff0000" stroke="none" stroke-width="0" rx="1.3"/>
<rect x="214.2" y="806" width="9.7" height="6.3" fill="#ff0000" stroke="none" stroke-width="0" rx="1.3"/>
<rect x="224.5" y="806" width="9.7" height="6.3" fill="#ff0000" stroke="none" stroke-width="0" rx="1.3"/>
<rect x="152.5" y="813" width="9.7" height="6.3" fill="#00ffff" stroke="none" stroke-width="0" rx="1.3"/>
<rect x="162.8" y="813" width="9.7" height="6.3" fill="#ff0000" stroke="none" stroke-width="0" rx="1.3"/>
<rect x="173.1" y="813" width="9.7" height="6.3" fill="#ffff00" stroke="none" stroke-width="0" rx="1.3"/>
<rect x="183.4" y="813" width="9.7" height="6.3" fill="#ffff00" stroke="none" stroke-width="0" rx="1.3"/>
<rect x="193.7" y="813" width="9.7" height="6.3" fill="#00ffff" stroke="none" stroke-width="0" rx="1.3"/>
<rect x="203.9" y="813" width="9.7" height="6.3" fill="#ff0000" stroke="none" stroke-width="0" rx="1.3"/>
<rect x="214.2" y="813" width="9.7" height="6.3" fill="#ff0000" stroke="none" stroke-width="0" rx="1.3"/>
<rect x="224.5" y="813" width="9.7" height="6.3" fill="#ffff00" stroke="none" stroke-width="0" rx="1.3"/>
<text x="194.2" y="757.9" font-family="Liberation Serif" font-size="14.8" font-weight="normal" fill="#111" text-anchor="middle" textLength="75.6" lengthAdjust="spacingAndGlyphs">0100-0100</text>
<rect x="245.1" y="763.1" width="84.5" height="57.6" fill="#222" stroke="none" stroke-width="0" rx="0"/>
<rect x="246.5" y="764.5" width="9.7" height="6.3" fill="#00ffff" stroke="none" stroke-width="0" rx="1.3"/>
<rect x="256.8" y="764.5" width="9.7" height="6.3" fill="#0000ff" stroke="none" stroke-width="0" rx="1.3"/>
<rect x="267.1" y="764.5" width="9.7" height="6.3" fill="#ff0000" stroke="none" stroke-width="0" rx="1.3"/>
<rect x="277.4" y="764.5" width="9.7" height="6.3" fill="#00ffff" stroke="none" stroke-width="0" rx="1.3"/>
<rect x="287.6" y="764.5" width="9.7" height="6.3" fill="#00ffff" stroke="none" stroke-width="0" rx="1.3"/>
<rect x="297.9" y="764.5" width="9.7" height="6.3" fill="#0000ff" stroke="none" stroke-width="0" rx="1.3"/>
<rect x="308.2" y="764.5" width="9.7" height="6.3" fill="#0000ff" stroke="none" stroke-width="0" rx="1.3"/>
<rect x="318.5" y="764.5" width="9.7" height="6.3" fill="#ffff00" stroke="none" stroke-width="0" rx="1.3"/>
<rect x="246.5" y="771.4" width="9.7" height="6.3" fill="#0000ff" stroke="none" stroke-width="0" rx="1.3"/>
<rect x="256.8" y="771.4" width="9.7" height="6.3" fill="#ff0000" stroke="none" stroke-width="0" rx="1.3"/>
<rect x="267.1" y="771.4" width="9.7" height="6.3" fill="#ff0000" stroke="none" stroke-width="0" rx="1.3"/>
<rect x="277.4" y="771.4" width="9.7" height="6.3" fill="#ff0000" stroke="none" stroke-width="0" rx="1.3"/>
<rect x="287.6" y="771.4" width="9.7" height="6.3" fill="#0000ff" stroke="none" stroke-width="0" rx="1.3"/>
<rect x="297.9" y="771.4" width="9.7" height="6.3" fill="#0000ff" stroke="none" stroke-width="0" rx="1.3"/>
<rect x="308.2" y="771.4" width="9.7" height="6.3" fill="#ff0000" stroke="none" stroke-width="0" rx="1.3"/>
<rect x="318.5" y="771.4" width="9.7" height="6.3" fill="#ff0000" stroke="none" stroke-width="0" rx="1.3"/>
<rect x="246.5" y="778.4" width="9.7" height="6.3" fill="#ff0000" stroke="none" stroke-width="0" rx="1.3"/>
<rect x="256.8" y="778.4" width="9.7" height="6.3" fill="#ff0000" stroke="none" stroke-width="0" rx="1.3"/>
<rect x="267.1" y="778.4" width="9.7" height="6.3" fill="#ff0000" stroke="none" stroke-width="0" rx="1.3"/>
<rect x="277.4" y="778.4" width="9.7" height="6.3" fill="#ffff00" stroke="none" stroke-width="0" rx="1.3"/>
<rect x="287.6" y="778.4" width="9.7" height="6.3" fill="#ffff00" stroke="none" stroke-width="0" rx="1.3"/>
<rect x="297.9" y="778.4" width="9.7" height="6.3" fill="#ff0000" stroke="none" stroke-width="0" rx="1.3"/>
<rect x="308.2" y="778.4" width="9.7" height="6.3" fill="#ff0000" stroke="none" stroke-width="0" rx="1.3"/>
<rect x="318.5" y="778.4" width="9.7" height="6.3" fill="#ff0000" stroke="none" stroke-width="0" rx="1.3"/>
<rect x="246.5" y="785.3" width="9.7" height="6.3" fill="#00ffff" stroke="none" stroke-width="0" rx="1.3"/>
<rect x="256.8" y="785.3" width="9.7" height="6.3" fill="#ff0000" stroke="none" stroke-width="0" rx="1.3"/>
<rect x="267.1" y="785.3" width="9.7" height="6.3" fill="#ffff00" stroke="none" stroke-width="0" rx="1.3"/>
<rect x="277.4" y="785.3" width="9.7" height="6.3" fill="#ffff00" stroke="none" stroke-width="0" rx="1.3"/>
<rect x="287.6" y="785.3" width="9.7" height="6.3" fill="#ffff00" stroke="none" stroke-width="0" rx="1.3"/>
<rect x="297.9" y="785.3" width="9.7" height="6.3" fill="#00ffff" stroke="none" stroke-width="0" rx="1.3"/>
<rect x="308.2" y="785.3" width="9.7" height="6.3" fill="#ff0000" stroke="none" stroke-width="0" rx="1.3"/>
<rect x="318.5" y="785.3" width="9.7" height="6.3" fill="#ffff00" stroke="none" stroke-width="0" rx="1.3"/>
<rect x="246.5" y="792.2" width="9.7" height="6.3" fill="#00ffff" stroke="none" stroke-width="0" rx="1.3"/>
<rect x="256.8" y="792.2" width="9.7" height="6.3" fill="#0000ff" stroke="none" stroke-width="0" rx="1.3"/>
<rect x="267.1" y="792.2" width="9.7" height="6.3" fill="#ffff00" stroke="none" stroke-width="0" rx="1.3"/>
<rect x="277.4" y="792.2" width="9.7" height="6.3" fill="#ffff00" stroke="none" stroke-width="0" rx="1.3"/>
<rect x="287.6" y="792.2" width="9.7" height="6.3" fill="#00ffff" stroke="none" stroke-width="0" rx="1.3"/>
<rect x="297.9" y="792.2" width="9.7" height="6.3" fill="#00ffff" stroke="none" stroke-width="0" rx="1.3"/>
<rect x="308.2" y="792.2" width="9.7" height="6.3" fill="#0000ff" stroke="none" stroke-width="0" rx="1.3"/>
<rect x="318.5" y="792.2" width="9.7" height="6.3" fill="#ffff00" stroke="none" stroke-width="0" rx="1.3"/>
<rect x="246.5" y="799.1" width="9.7" height="6.3" fill="#0000ff" stroke="none" stroke-width="0" rx="1.3"/>
<rect x="256.8" y="799.1" width="9.7" height="6.3" fill="#ff0000" stroke="none" stroke-width="0" rx="1.3"/>
<rect x="267.1" y="799.1" width="9.7" height="6.3" fill="#ff0000" stroke="none" stroke-width="0" rx="1.3"/>
<rect x="277.4" y="799.1" width="9.7" height="6.3" fill="#00ffff" stroke="none" stroke-width="0" rx="1.3"/>
<rect x="287.6" y="799.1" width="9.7" height="6.3" fill="#00ffff" stroke="none" stroke-width="0" rx="1.3"/>
<rect x="297.9" y="799.1" width="9.7" height="6.3" fill="#0000ff" stroke="none" stroke-width="0" rx="1.3"/>
<rect x="308.2" y="799.1" width="9.7" height="6.3" fill="#ff0000" stroke="none" stroke-width="0" rx="1.3"/>
<rect x="318.5" y="799.1" width="9.7" height="6.3" fill="#ff0000" stroke="none" stroke-width="0" rx="1.3"/>
<rect x="246.5" y="806" width="9.7" height="6.3" fill="#ff0000" stroke="none" stroke-width="0" rx="1.3"/>
<rect x="256.8" y="806" width="9.7" height="6.3" fill="#ff0000" stroke="none" stroke-width="0" rx="1.3"/>
<rect x="267.1" y="806" width="9.7" height="6.3" fill="#ff0000" stroke="none" stroke-width="0" rx="1.3"/>
<rect x="277.4" y="806" width="9.7" height="6.3" fill="#ff0000" stroke="none" stroke-width="0" rx="1.3"/>
<rect x="287.6" y="806" width="9.7" height="6.3" fill="#0000ff" stroke="none" stroke-width="0" rx="1.3"/>
<rect x="297.9" y="806" width="9.7" height="6.3" fill="#ff0000" stroke="none" stroke-width="0" rx="1.3"/>
<rect x="308.2" y="806" width="9.7" height="6.3" fill="#ff0000" stroke="none" stroke-width="0" rx="1.3"/>
<rect x="318.5" y="806" width="9.7" height="6.3" fill="#ff0000" stroke="none" stroke-width="0" rx="1.3"/>
<rect x="246.5" y="813" width="9.7" height="6.3" fill="#ffff00" stroke="none" stroke-width="0" rx="1.3"/>
<rect x="256.8" y="813" width="9.7" height="6.3" fill="#ff0000" stroke="none" stroke-width="0" rx="1.3"/>
<rect x="267.1" y="813" width="9.7" height="6.3" fill="#ff0000" stroke="none" stroke-width="0" rx="1.3"/>
<rect x="277.4" y="813" width="9.7" height="6.3" fill="#ffff00" stroke="none" stroke-width="0" rx="1.3"/>
<rect x="287.6" y="813" width="9.7" height="6.3" fill="#ffff00" stroke="none" stroke-width="0" rx="1.3"/>
<rect x="297.9" y="813" width="9.7" height="6.3" fill="#ff0000" stroke="none" stroke-width="0" rx="1.3"/>
<rect x="308.2" y="813" width="9.7" height="6.3" fill="#ff0000" stroke="none" stroke-width="0" rx="1.3"/>
<rect x="318.5" y="813" width="9.7" height="6.3" fill="#ffff00" stroke="none" stroke-width="0" rx="1.3"/>
<text x="288.2" y="757.9" font-family="Liberation Serif" font-size="14.8" font-weight="normal" fill="#111" text-anchor="middle" textLength="75.6" lengthAdjust="spacingAndGlyphs">0101-0101</text>
<rect x="338.5" y="763.1" width="84.5" height="57.6" fill="#222" stroke="none" stroke-width="0" rx="0"/>
<rect x="339.9" y="764.5" width="9.7" height="6.3" fill="#ffff00" stroke="none" stroke-width="0" rx="1.3"/>
<rect x="350.2" y="764.5" width="9.7" height="6.3" fill="#ffff00" stroke="none" stroke-width="0" rx="1.3"/>
<rect x="360.5" y="764.5" width="9.7" height="6.3" fill="#00ffff" stroke="none" stroke-width="0" rx="1.3"/>
<rect x="370.8" y="764.5" width="9.7" height="6.3" fill="#ff0000" stroke="none" stroke-width="0" rx="1.3"/>
<rect x="381.1" y="764.5" width="9.7" height="6.3" fill="#ffff00" stroke="none" stroke-width="0" rx="1.3"/>
<rect x="391.3" y="764.5" width="9.7" height="6.3" fill="#ffff00" stroke="none" stroke-width="0" rx="1.3"/>
<rect x="401.6" y="764.5" width="9.7" height="6.3" fill="#00ffff" stroke="none" stroke-width="0" rx="1.3"/>
<rect x="411.9" y="764.5" width="9.7" height="6.3" fill="#ff0000" stroke="none" stroke-width="0" rx="1.3"/>
<rect x="339.9" y="771.4" width="9.7" height="6.3" fill="#ffff00" stroke="none" stroke-width="0" rx="1.3"/>
<rect x="350.2" y="771.4" width="9.7" height="6.3" fill="#00ffff" stroke="none" stroke-width="0" rx="1.3"/>
<rect x="360.5" y="771.4" width="9.7" height="6.3" fill="#00ffff" stroke="none" stroke-width="0" rx="1.3"/>
<rect x="370.8" y="771.4" width="9.7" height="6.3" fill="#0000ff" stroke="none" stroke-width="0" rx="1.3"/>
<rect x="381.1" y="771.4" width="9.7" height="6.3" fill="#ffff00" stroke="none" stroke-width="0" rx="1.3"/>
<rect x="391.3" y="771.4" width="9.7" height="6.3" fill="#00ffff" stroke="none" stroke-width="0" rx="1.3"/>
<rect x="401.6" y="771.4" width="9.7" height="6.3" fill="#00ffff" stroke="none" stroke-width="0" rx="1.3"/>
<rect x="411.9" y="771.4" width="9.7" height="6.3" fill="#0000ff" stroke="none" stroke-width="0" rx="1.3"/>
<rect x="339.9" y="778.4" width="9.7" height="6.3" fill="#00ffff" stroke="none" stroke-width="0" rx="1.3"/>
<rect x="350.2" y="778.4" width="9.7" height="6.3" fill="#00ffff" stroke="none" stroke-width="0" rx="1.3"/>
<rect x="360.5" y="778.4" width="9.7" height="6.3" fill="#0000ff" stroke="none" stroke-width="0" rx="1.3"/>
<rect x="370.8" y="778.4" width="9.7" height="6.3" fill="#ff0000" stroke="none" stroke-width="0" rx="1.3"/>
<rect x="381.1" y="778.4" width="9.7" height="6.3" fill="#ff0000" stroke="none" stroke-width="0" rx="1.3"/>
<rect x="391.3" y="778.4" width="9.7" height="6.3" fill="#00ffff" stroke="none" stroke-width="0" rx="1.3"/>
<rect x="401.6" y="778.4" width="9.7" height="6.3" fill="#0000ff" stroke="none" stroke-width="0" rx="1.3"/>
<rect x="411.9" y="778.4" width="9.7" height="6.3" fill="#ff0000" stroke="none" stroke-width="0" rx="1.3"/>
<rect x="339.9" y="785.3" width="9.7" height="6.3" fill="#ff0000" stroke="none" stroke-width="0" rx="1.3"/>
<rect x="350.2" y="785.3" width="9.7" height="6.3" fill="#0000ff" stroke="none" stroke-width="0" rx="1.3"/>
<rect x="360.5" y="785.3" width="9.7" height="6.3" fill="#ff0000" stroke="none" stroke-width="0" rx="1.3"/>
<rect x="370.8" y="785.3" width="9.7" height="6.3" fill="#ff0000" stroke="none" stroke-width="0" rx="1.3"/>
<rect x="381.1" y="785.3" width="9.7" height="6.3" fill="#ff0000" stroke="none" stroke-width="0" rx="1.3"/>
<rect x="391.3" y="785.3" width="9.7" height="6.3" fill="#ffff00" stroke="none" stroke-width="0" rx="1.3"/>
<rect x="401.6" y="785.3" width="9.7" height="6.3" fill="#ff0000" stroke="none" stroke-width="0" rx="1.3"/>
<rect x="411.9" y="785.3" width="9.7" height="6.3" fill="#ff0000" stroke="none" stroke-width="0" rx="1.3"/>
<rect x="339.9" y="792.2" width="9.7" height="6.3" fill="#ffff00" stroke="none" stroke-width="0" rx="1.3"/>
<rect x="350.2" y="792.2" width="9.7" height="6.3" fill="#ffff00" stroke="none" stroke-width="0" rx="1.3"/>
<rect x="360.5" y="792.2" width="9.7" height="6.3" fill="#ff0000" stroke="none" stroke-width="0" rx="1.3"/>
<rect x="370.8" y="792.2" width="9.7" height="6.3" fill="#ff0000" stroke="none" stroke-width="0" rx="1.3"/>
<rect x="381.1" y="792.2" width="9.7" height="6.3" fill="#ffff00" stroke="none" stroke-width="0" rx="1.3"/>
<rect x="391.3" y="792.2" width="9.7" height="6.3" fill="#ffff00" stroke="none" stroke-width="0" rx="1.3"/>
<rect x="401.6" y="792.2" width="9.7" height="6.3" fill="#ffff00" stroke="none" stroke-width="0" rx="1.3"/>
<rect x="411.9" y="792.2" width="9.7" height="6.3" fill="#ff0000" stroke="none" stroke-width="0" rx="1.3"/>
<rect x="339.9" y="799.1" width="9.7" height="6.3" fill="#ffff00" stroke="none" stroke-width="0" rx="1.3"/>
<rect x="350.2" y="799.1" width="9.7" height="6.3" fill="#00ffff" stroke="none" stroke-width="0" rx="1.3"/>
<rect x="360.5" y="799.1" width="9.7" height="6.3" fill="#00ffff" stroke="none" stroke-width="0" rx="1.3"/>
<rect x="370.8" y="799.1" width="9.7" height="6.3" fill="#ffff00" stroke="none" stroke-width="0" rx="1.3"/>
<rect x="381.1" y="799.1" width="9.7" height="6.3" fill="#ffff00" stroke="none" stroke-width="0" rx="1.3"/>
<rect x="391.3" y="799.1" width="9.7" height="6.3" fill="#00ffff" stroke="none" stroke-width="0" rx="1.3"/>
<rect x="401.6" y="799.1" width="9.7" height="6.3" fill="#00ffff" stroke="none" stroke-width="0" rx="1.3"/>
<rect x="411.9" y="799.1" width="9.7" height="6.3" fill="#00ffff" stroke="none" stroke-width="0" rx="1.3"/>
<rect x="339.9" y="806" width="9.7" height="6.3" fill="#00ffff" stroke="none" stroke-width="0" rx="1.3"/>
<rect x="350.2" y="806" width="9.7" height="6.3" fill="#00ffff" stroke="none" stroke-width="0" rx="1.3"/>
<rect x="360.5" y="806" width="9.7" height="6.3" fill="#0000ff" stroke="none" stroke-width="0" rx="1.3"/>
<rect x="370.8" y="806" width="9.7" height="6.3" fill="#ff0000" stroke="none" stroke-width="0" rx="1.3"/>
<rect x="381.1" y="806" width="9.7" height="6.3" fill="#00ffff" stroke="none" stroke-width="0" rx="1.3"/>
<rect x="391.3" y="806" width="9.7" height="6.3" fill="#00ffff" stroke="none" stroke-width="0" rx="1.3"/>
<rect x="401.6" y="806" width="9.7" height="6.3" fill="#00ffff" stroke="none" stroke-width="0" rx="1.3"/>
<rect x="411.9" y="806" width="9.7" height="6.3" fill="#0000ff" stroke="none" stroke-width="0" rx="1.3"/>
<rect x="339.9" y="813" width="9.7" height="6.3" fill="#ff0000" stroke="none" stroke-width="0" rx="1.3"/>
<rect x="350.2" y="813" width="9.7" height="6.3" fill="#0000ff" stroke="none" stroke-width="0" rx="1.3"/>
<rect x="360.5" y="813" width="9.7" height="6.3" fill="#ff0000" stroke="none" stroke-width="0" rx="1.3"/>
<rect x="370.8" y="813" width="9.7" height="6.3" fill="#ff0000" stroke="none" stroke-width="0" rx="1.3"/>
<rect x="381.1" y="813" width="9.7" height="6.3" fill="#ff0000" stroke="none" stroke-width="0" rx="1.3"/>
<rect x="391.3" y="813" width="9.7" height="6.3" fill="#00ffff" stroke="none" stroke-width="0" rx="1.3"/>
<rect x="401.6" y="813" width="9.7" height="6.3" fill="#0000ff" stroke="none" stroke-width="0" rx="1.3"/>
<rect x="411.9" y="813" width="9.7" height="6.3" fill="#ff0000" stroke="none" stroke-width="0" rx="1.3"/>
<text x="381.6" y="757.9" font-family="Liberation Serif" font-size="14.8" font-weight="normal" fill="#111" text-anchor="middle" textLength="75.6" lengthAdjust="spacingAndGlyphs">0110-0110</text>
<rect x="432.3" y="763.1" width="84.5" height="57.6" fill="#222" stroke="none" stroke-width="0" rx="0"/>
<rect x="433.7" y="764.5" width="9.7" height="6.3" fill="#ffff00" stroke="none" stroke-width="0" rx="1.3"/>
<rect x="444" y="764.5" width="9.7" height="6.3" fill="#00ffff" stroke="none" stroke-width="0" rx="1.3"/>
<rect x="454.3" y="764.5" width="9.7" height="6.3" fill="#00ffff" stroke="none" stroke-width="0" rx="1.3"/>
<rect x="464.6" y="764.5" width="9.7" height="6.3" fill="#ffff00" stroke="none" stroke-width="0" rx="1.3"/>
<rect x="474.9" y="764.5" width="9.7" height="6.3" fill="#ffff00" stroke="none" stroke-width="0" rx="1.3"/>
<rect x="485.1" y="764.5" width="9.7" height="6.3" fill="#00ffff" stroke="none" stroke-width="0" rx="1.3"/>
<rect x="495.4" y="764.5" width="9.7" height="6.3" fill="#00ffff" stroke="none" stroke-width="0" rx="1.3"/>
<rect x="505.7" y="764.5" width="9.7" height="6.3" fill="#ff0000" stroke="none" stroke-width="0" rx="1.3"/>
<rect x="433.7" y="771.4" width="9.7" height="6.3" fill="#00ffff" stroke="none" stroke-width="0" rx="1.3"/>
<rect x="444" y="771.4" width="9.7" height="6.3" fill="#00ffff" stroke="none" stroke-width="0" rx="1.3"/>
<rect x="454.3" y="771.4" width="9.7" height="6.3" fill="#0000ff" stroke="none" stroke-width="0" rx="1.3"/>
<rect x="464.6" y="771.4" width="9.7" height="6.3" fill="#ff0000" stroke="none" stroke-width="0" rx="1.3"/>
<rect x="474.9" y="771.4" width="9.7" height="6.3" fill="#00ffff" stroke="none" stroke-width="0" rx="1.3"/>
<rect x="485.1" y="771.4" width="9.7" height="6.3" fill="#00ffff" stroke="none" stroke-width="0" rx="1.3"/>
<rect x="495.4" y="771.4" width="9.7" height="6.3" fill="#00ffff" stroke="none" stroke-width="0" rx="1.3"/>
<rect x="505.7" y="771.4" width="9.7" height="6.3" fill="#0000ff" stroke="none" stroke-width="0" rx="1.3"/>
<rect x="433.7" y="778.4" width="9.7" height="6.3" fill="#00ffff" stroke="none" stroke-width="0" rx="1.3"/>
<rect x="444" y="778.4" width="9.7" height="6.3" fill="#0000ff" stroke="none" stroke-width="0" rx="1.3"/>
<rect x="454.3" y="778.4" width="9.7" height="6.3" fill="#ff0000" stroke="none" stroke-width="0" rx="1.3"/>
<rect x="464.6" y="778.4" width="9.7" height="6.3" fill="#ff0000" stroke="none" stroke-width="0" rx="1.3"/>
<rect x="474.9" y="778.4" width="9.7" height="6.3" fill="#ff0000" stroke="none" stroke-width="0" rx="1.3"/>
<rect x="485.1" y="778.4" width="9.7" height="6.3" fill="#00ffff" stroke="none" stroke-width="0" rx="1.3"/>
<rect x="495.4" y="778.4" width="9.7" height="6.3" fill="#0000ff" stroke="none" stroke-width="0" rx="1.3"/>
<rect x="505.7" y="778.4" width="9.7" height="6.3" fill="#ff0000" stroke="none" stroke-width="0" rx="1.3"/>
<rect x="433.7" y="785.3" width="9.7" height="6.3" fill="#ffff00" stroke="none" stroke-width="0" rx="1.3"/>
<rect x="444" y="785.3" width="9.7" height="6.3" fill="#ff0000" stroke="none" stroke-width="0" rx="1.3"/>
<rect x="454.3" y="785.3" width="9.7" height="6.3" fill="#ff0000" stroke="none" stroke-width="0" rx="1.3"/>
<rect x="464.6" y="785.3" width="9.7" height="6.3" fill="#ff0000" stroke="none" stroke-width="0" rx="1.3"/>
<rect x="474.9" y="785.3" width="9.7" height="6.3" fill="#ff0000" stroke="none" stroke-width="0" rx="1.3"/>
<rect x="485.1" y="785.3" width="9.7" height="6.3" fill="#ffff00" stroke="none" stroke-width="0" rx="1.3"/>
<rect x="495.4" y="785.3" width="9.7" height="6.3" fill="#ff0000" stroke="none" stroke-width="0" rx="1.3"/>
<rect x="505.7" y="785.3" width="9.7" height="6.3" fill="#ff0000" stroke="none" stroke-width="0" rx="1.3"/>
<rect x="433.7" y="792.2" width="9.7" height="6.3" fill="#ffff00" stroke="none" stroke-width="0" rx="1.3"/>
<rect x="444" y="792.2" width="9.7" height="6.3" fill="#00ffff" stroke="none" stroke-width="0" rx="1.3"/>
<rect x="454.3" y="792.2" width="9.7" height="6.3" fill="#ff0000" stroke="none" stroke-width="0" rx="1.3"/>
<rect x="464.6" y="792.2" width="9.7" height="6.3" fill="#ff0000" stroke="none" stroke-width="0" rx="1.3"/>
<rect x="474.9" y="792.2" width="9.7" height="6.3" fill="#ffff00" stroke="none" stroke-width="0" rx="1.3"/>
<rect x="485.1" y="792.2" width="9.7" height="6.3" fill="#ffff00" stroke="none" stroke-width="0" rx="1.3"/>
<rect x="495.4" y="792.2" width="9.7" height="6.3" fill="#00ffff" stroke="none" stroke-width="0" rx="1.3"/>
<rect x="505.7" y="792.2" width="9.7" height="6.3" fill="#ff0000" stroke="none" stroke-width="0" rx="1.3"/>
<rect x="433.7" y="799.1" width="9.7" height="6.3" fill="#00ffff" stroke="none" stroke-width="0" rx="1.3"/>
<rect x="444" y="799.1" width="9.7" height="6.3" fill="#00ffff" stroke="none" stroke-width="0" rx="1.3"/>
<rect x="454.3" y="799.1" width="9.7" height="6.3" fill="#00ffff" stroke="none" stroke-width="0" rx="1.3"/>
<rect x="464.6" y="799.1" width="9.7" height="6.3" fill="#ffff00" stroke="none" stroke-width="0" rx="1.3"/>
<rect x="474.9" y="799.1" width="9.7" height="6.3" fill="#ffff00" stroke="none" stroke-width="0" rx="1.3"/>
<rect x="485.1" y="799.1" width="9.7" height="6.3" fill="#00ffff" stroke="none" stroke-width="0" rx="1.3"/>
<rect x="495.4" y="799.1" width="9.7" height="6.3" fill="#00ffff" stroke="none" stroke-width="0" rx="1.3"/>
<rect x="505.7" y="799.1" width="9.7" height="6.3" fill="#0000ff" stroke="none" stroke-width="0" rx="1.3"/>
<rect x="433.7" y="806" width="9.7" height="6.3" fill="#00ffff" stroke="none" stroke-width="0" rx="1.3"/>
<rect x="444" y="806" width="9.7" height="6.3" fill="#00ffff" stroke="none" stroke-width="0" rx="1.3"/>
<rect x="454.3" y="806" width="9.7" height="6.3" fill="#0000ff" stroke="none" stroke-width="0" rx="1.3"/>
<rect x="464.6" y="806" width="9.7" height="6.3" fill="#ff0000" stroke="none" stroke-width="0" rx="1.3"/>
<rect x="474.9" y="806" width="9.7" height="6.3" fill="#00ffff" stroke="none" stroke-width="0" rx="1.3"/>
<rect x="485.1" y="806" width="9.7" height="6.3" fill="#00ffff" stroke="none" stroke-width="0" rx="1.3"/>
<rect x="495.4" y="806" width="9.7" height="6.3" fill="#0000ff" stroke="none" stroke-width="0" rx="1.3"/>
<rect x="505.7" y="806" width="9.7" height="6.3" fill="#ff0000" stroke="none" stroke-width="0" rx="1.3"/>
<rect x="433.7" y="813" width="9.7" height="6.3" fill="#ff0000" stroke="none" stroke-width="0" rx="1.3"/>
<rect x="444" y="813" width="9.7" height="6.3" fill="#0000ff" stroke="none" stroke-width="0" rx="1.3"/>
<rect x="454.3" y="813" width="9.7" height="6.3" fill="#ff0000" stroke="none" stroke-width="0" rx="1.3"/>
<rect x="464.6" y="813" width="9.7" height="6.3" fill="#ff0000" stroke="none" stroke-width="0" rx="1.3"/>
<rect x="474.9" y="813" width="9.7" height="6.3" fill="#ff0000" stroke="none" stroke-width="0" rx="1.3"/>
<rect x="485.1" y="813" width="9.7" height="6.3" fill="#0000ff" stroke="none" stroke-width="0" rx="1.3"/>
<rect x="495.4" y="813" width="9.7" height="6.3" fill="#ff0000" stroke="none" stroke-width="0" rx="1.3"/>
<rect x="505.7" y="813" width="9.7" height="6.3" fill="#ff0000" stroke="none" stroke-width="0" rx="1.3"/>
<text x="475.4" y="757.9" font-family="Liberation Serif" font-size="14.8" font-weight="normal" fill="#111" text-anchor="middle" textLength="75.6" lengthAdjust="spacingAndGlyphs">0111-0111</text>
<rect x="151.1" y="843" width="84.5" height="57.6" fill="#222" stroke="none" stroke-width="0" rx="0"/>
<rect x="152.5" y="844.4" width="9.7" height="6.3" fill="#ff0000" stroke="none" stroke-width="0" rx="1.3"/>
<rect x="162.8" y="844.4" width="9.7" height="6.3" fill="#ff0000" stroke="none" stroke-width="0" rx="1.3"/>
<rect x="173.1" y="844.4" width="9.7" height="6.3" fill="#ff0000" stroke="none" stroke-width="0" rx="1.3"/>
<rect x="183.4" y="844.4" width="9.7" height="6.3" fill="#0000ff" stroke="none" stroke-width="0" rx="1.3"/>
<rect x="193.7" y="844.4" width="9.7" height="6.3" fill="#ff0000" stroke="none" stroke-width="0" rx="1.3"/>
<rect x="203.9" y="844.4" width="9.7" height="6.3" fill="#ff0000" stroke="none" stroke-width="0" rx="1.3"/>
<rect x="214.2" y="844.4" width="9.7" height="6.3" fill="#ff0000" stroke="none" stroke-width="0" rx="1.3"/>
<rect x="224.5" y="844.4" width="9.7" height="6.3" fill="#00ffff" stroke="none" stroke-width="0" rx="1.3"/>
<rect x="152.5" y="851.3" width="9.7" height="6.3" fill="#ff0000" stroke="none" stroke-width="0" rx="1.3"/>
<rect x="162.8" y="851.3" width="9.7" height="6.3" fill="#ff0000" stroke="none" stroke-width="0" rx="1.3"/>
<rect x="173.1" y="851.3" width="9.7" height="6.3" fill="#ffff00" stroke="none" stroke-width="0" rx="1.3"/>
<rect x="183.4" y="851.3" width="9.7" height="6.3" fill="#ffff00" stroke="none" stroke-width="0" rx="1.3"/>
<rect x="193.7" y="851.3" width="9.7" height="6.3" fill="#ff0000" stroke="none" stroke-width="0" rx="1.3"/>
<rect x="203.9" y="851.3" width="9.7" height="6.3" fill="#ff0000" stroke="none" stroke-width="0" rx="1.3"/>
<rect x="214.2" y="851.3" width="9.7" height="6.3" fill="#ff0000" stroke="none" stroke-width="0" rx="1.3"/>
<rect x="224.5" y="851.3" width="9.7" height="6.3" fill="#ffff00" stroke="none" stroke-width="0" rx="1.3"/>
<rect x="152.5" y="858.2" width="9.7" height="6.3" fill="#ff0000" stroke="none" stroke-width="0" rx="1.3"/>
<rect x="162.8" y="858.2" width="9.7" height="6.3" fill="#ffff00" stroke="none" stroke-width="0" rx="1.3"/>
<rect x="173.1" y="858.2" width="9.7" height="6.3" fill="#ffff00" stroke="none" stroke-width="0" rx="1.3"/>
<rect x="183.4" y="858.2" width="9.7" height="6.3" fill="#00ffff" stroke="none" stroke-width="0" rx="1.3"/>
<rect x="193.7" y="858.2" width="9.7" height="6.3" fill="#00ffff" stroke="none" stroke-width="0" rx="1.3"/>
<rect x="203.9" y="858.2" width="9.7" height="6.3" fill="#ff0000" stroke="none" stroke-width="0" rx="1.3"/>
<rect x="214.2" y="858.2" width="9.7" height="6.3" fill="#ffff00" stroke="none" stroke-width="0" rx="1.3"/>
<rect x="224.5" y="858.2" width="9.7" height="6.3" fill="#ffff00" stroke="none" stroke-width="0" rx="1.3"/>
<rect x="152.5" y="865.2" width="9.7" height="6.3" fill="#0000ff" stroke="none" stroke-width="0" rx="1.3"/>
<rect x="162.8" y="865.2" width="9.7" height="6.3" fill="#ffff00" stroke="none" stroke-width="0" rx="1.3"/>
<rect x="173.1" y="865.2" width="9.7" height="6.3" fill="#00ffff" stroke="none" stroke-width="0" rx="1.3"/>
<rect x="183.4" y="865.2" width="9.7" height="6.3" fill="#00ffff" stroke="none" stroke-width="0" rx="1.3"/>
<rect x="193.7" y="865.2" width="9.7" height="6.3" fill="#00ffff" stroke="none" stroke-width="0" rx="1.3"/>
<rect x="203.9" y="865.2" width="9.7" height="6.3" fill="#ff0000" stroke="none" stroke-width="0" rx="1.3"/>
<rect x="214.2" y="865.2" width="9.7" height="6.3" fill="#ffff00" stroke="none" stroke-width="0" rx="1.3"/>
<rect x="224.5" y="865.2" width="9.7" height="6.3" fill="#00ffff" stroke="none" stroke-width="0" rx="1.3"/>
<rect x="152.5" y="872.1" width="9.7" height="6.3" fill="#ff0000" stroke="none" stroke-width="0" rx="1.3"/>
<rect x="162.8" y="872.1" width="9.7" height="6.3" fill="#ff0000" stroke="none" stroke-width="0" rx="1.3"/>
<rect x="173.1" y="872.1" width="9.7" height="6.3" fill="#00ffff" stroke="none" stroke-width="0" rx="1.3"/>
<rect x="183.4" y="872.1" width="9.7" height="6.3" fill="#00ffff" stroke="none" stroke-width="0" rx="1.3"/>
<rect x="193.7" y="872.1" width="9.7" height="6.3" fill="#0000ff" stroke="none" stroke-width="0" rx="1.3"/>
<rect x="203.9" y="872.1" width="9.7" height="6.3" fill="#ff0000" stroke="none" stroke-width="0" rx="1.3"/>
<rect x="214.2" y="872.1" width="9.7" height="6.3" fill="#ff0000" stroke="none" stroke-width="0" rx="1.3"/>
<rect x="224.5" y="872.1" width="9.7" height="6.3" fill="#00ffff" stroke="none" stroke-width="0" rx="1.3"/>
<rect x="152.5" y="879" width="9.7" height="6.3" fill="#ff0000" stroke="none" stroke-width="0" rx="1.3"/>
<rect x="162.8" y="879" width="9.7" height="6.3" fill="#ff0000" stroke="none" stroke-width="0" rx="1.3"/>
<rect x="173.1" y="879" width="9.7" height="6.3" fill="#ff0000" stroke="none" stroke-width="0" rx="1.3"/>
<rect x="183.4" y="879" width="9.7" height="6.3" fill="#ff0000" stroke="none" stroke-width="0" rx="1.3"/>
<rect x="193.7" y="879" width="9.7" height="6.3" fill="#ff0000" stroke="none" stroke-width="0" rx="1.3"/>
<rect x="203.9" y="879" width="9.7" height="6.3" fill="#ff0000" stroke="none" stroke-width="0" rx="1.3"/>
<rect x="214.2" y="879" width="9.7" height="6.3" fill="#ff0000" stroke="none" stroke-width="0" rx="1.3"/>
<rect x="224.5" y="879" width="9.7" height="6.3" fill="#ffff00" stroke="none" stroke-width="0" rx="1.3"/>
<rect x="152.5" y="885.9" width="9.7" height="6.3" fill="#ff0000" stroke="none" stroke-width="0" rx="1.3"/>
<rect x="162.8" y="885.9" width="9.7" height="6.3" fill="#ff0000" stroke="none" stroke-width="0" rx="1.3"/>
<rect x="173.1" y="885.9" width="9.7" height="6.3" fill="#ffff00" stroke="none" stroke-width="0" rx="1.3"/>
<rect x="183.4" y="885.9" width="9.7" height="6.3" fill="#ffff00" stroke="none" stroke-width="0" rx="1.3"/>
<rect x="193.7" y="885.9" width="9.7" height="6.3" fill="#ff0000" stroke="none" stroke-width="0" rx="1.3"/>
<rect x="203.9" y="885.9" width="9.7" height="6.3" fill="#ff0000" stroke="none" stroke-width="0" rx="1.3"/>
<rect x="214.2" y="885.9" width="9.7" height="6.3" fill="#ffff00" stroke="none" stroke-width="0" rx="1.3"/>
<rect x="224.5" y="885.9" width="9.7" height="6.3" fill="#ffff00" stroke="none" stroke-width="0" rx="1.3"/>
<rect x="152.5" y="892.9" width="9.7" height="6.3" fill="#00ffff" stroke="none" stroke-width="0" rx="1.3"/>
<rect x="162.8" y="892.9" width="9.7" height="6.3" fill="#ffff00" stroke="none" stroke-width="0" rx="1.3"/>
<rect x="173.1" y="892.9" width="9.7" height="6.3" fill="#ffff00" stroke="none" stroke-width="0" rx="1.3"/>
<rect x="183.4" y="892.9" width="9.7" height="6.3" fill="#00ffff" stroke="none" stroke-width="0" rx="1.3"/>
<rect x="193.7" y="892.9" width="9.7" height="6.3" fill="#00ffff" stroke="none" stroke-width="0" rx="1.3"/>
<rect x="203.9" y="892.9" width="9.7" height="6.3" fill="#ffff00" stroke="none" stroke-width="0" rx="1.3"/>
<rect x="214.2" y="892.9" width="9.7" height="6.3" fill="#ffff00" stroke="none" stroke-width="0" rx="1.3"/>
<rect x="224.5" y="892.9" width="9.7" height="6.3" fill="#00ffff" stroke="none" stroke-width="0" rx="1.3"/>
<text x="194.2" y="837.8" font-family="Liberation Serif" font-size="14.8" font-weight="normal" fill="#111" text-anchor="middle" textLength="75.6" lengthAdjust="spacingAndGlyphs">1000-1000</text>
<rect x="245.1" y="843" width="84.5" height="57.6" fill="#222" stroke="none" stroke-width="0" rx="0"/>
<rect x="246.5" y="844.4" width="9.7" height="6.3" fill="#ff0000" stroke="none" stroke-width="0" rx="1.3"/>
<rect x="256.8" y="844.4" width="9.7" height="6.3" fill="#ff0000" stroke="none" stroke-width="0" rx="1.3"/>
<rect x="267.1" y="844.4" width="9.7" height="6.3" fill="#ff0000" stroke="none" stroke-width="0" rx="1.3"/>
<rect x="277.4" y="844.4" width="9.7" height="6.3" fill="#0000ff" stroke="none" stroke-width="0" rx="1.3"/>
<rect x="287.6" y="844.4" width="9.7" height="6.3" fill="#ff0000" stroke="none" stroke-width="0" rx="1.3"/>
<rect x="297.9" y="844.4" width="9.7" height="6.3" fill="#ff0000" stroke="none" stroke-width="0" rx="1.3"/>
<rect x="308.2" y="844.4" width="9.7" height="6.3" fill="#ff0000" stroke="none" stroke-width="0" rx="1.3"/>
<rect x="318.5" y="844.4" width="9.7" height="6.3" fill="#0000ff" stroke="none" stroke-width="0" rx="1.3"/>
<rect x="246.5" y="851.3" width="9.7" height="6.3" fill="#ff0000" stroke="none" stroke-width="0" rx="1.3"/>
<rect x="256.8" y="851.3" width="9.7" height="6.3" fill="#ff0000" stroke="none" stroke-width="0" rx="1.3"/>
<rect x="267.1" y="851.3" width="9.7" height="6.3" fill="#ffff00" stroke="none" stroke-width="0" rx="1.3"/>
<rect x="277.4" y="851.3" width="9.7" height="6.3" fill="#ffff00" stroke="none" stroke-width="0" rx="1.3"/>
<rect x="287.6" y="851.3" width="9.7" height="6.3" fill="#ff0000" stroke="none" stroke-width="0" rx="1.3"/>
<rect x="297.9" y="851.3" width="9.7" height="6.3" fill="#ff0000" stroke="none" stroke-width="0" rx="1.3"/>
<rect x="308.2" y="851.3" width="9.7" height="6.3" fill="#ffff00" stroke="none" stroke-width="0" rx="1.3"/>
<rect x="318.5" y="851.3" width="9.7" height="6.3" fill="#ffff00" stroke="none" stroke-width="0" rx="1.3"/>
<rect x="246.5" y="858.2" width="9.7" height="6.3" fill="#ffff00" stroke="none" stroke-width="0" rx="1.3"/>
<rect x="256.8" y="858.2" width="9.7" height="6.3" fill="#ffff00" stroke="none" stroke-width="0" rx="1.3"/>
<rect x="267.1" y="858.2" width="9.7" height="6.3" fill="#ffff00" stroke="none" stroke-width="0" rx="1.3"/>
<rect x="277.4" y="858.2" width="9.7" height="6.3" fill="#00ffff" stroke="none" stroke-width="0" rx="1.3"/>
<rect x="287.6" y="858.2" width="9.7" height="6.3" fill="#00ffff" stroke="none" stroke-width="0" rx="1.3"/>
<rect x="297.9" y="858.2" width="9.7" height="6.3" fill="#ffff00" stroke="none" stroke-width="0" rx="1.3"/>
<rect x="308.2" y="858.2" width="9.7" height="6.3" fill="#ffff00" stroke="none" stroke-width="0" rx="1.3"/>
<rect x="318.5" y="858.2" width="9.7" height="6.3" fill="#00ffff" stroke="none" stroke-width="0" rx="1.3"/>
<rect x="246.5" y="865.2" width="9.7" height="6.3" fill="#0000ff" stroke="none" stroke-width="0" rx="1.3"/>
<rect x="256.8" y="865.2" width="9.7" height="6.3" fill="#ffff00" stroke="none" stroke-width="0" rx="1.3"/>
<rect x="267.1" y="865.2" width="9.7" height="6.3" fill="#00ffff" stroke="none" stroke-width="0" rx="1.3"/>
<rect x="277.4" y="865.2" width="9.7" height="6.3" fill="#00ffff" stroke="none" stroke-width="0" rx="1.3"/>
<rect x="287.6" y="865.2" width="9.7" height="6.3" fill="#0000ff" stroke="none" stroke-width="0" rx="1.3"/>
<rect x="297.9" y="865.2" width="9.7" height="6.3" fill="#ff0000" stroke="none" stroke-width="0" rx="1.3"/>
<rect x="308.2" y="865.2" width="9.7" height="6.3" fill="#00ffff" stroke="none" stroke-width="0" rx="1.3"/>
<rect x="318.5" y="865.2" width="9.7" height="6.3" fill="#00ffff" stroke="none" stroke-width="0" rx="1.3"/>
<rect x="246.5" y="872.1" width="9.7" height="6.3" fill="#ff0000" stroke="none" stroke-width="0" rx="1.3"/>
<rect x="256.8" y="872.1" width="9.7" height="6.3" fill="#ff0000" stroke="none" stroke-width="0" rx="1.3"/>
<rect x="267.1" y="872.1" width="9.7" height="6.3" fill="#00ffff" stroke="none" stroke-width="0" rx="1.3"/>
<rect x="277.4" y="872.1" width="9.7" height="6.3" fill="#0000ff" stroke="none" stroke-width="0" rx="1.3"/>
<rect x="287.6" y="872.1" width="9.7" height="6.3" fill="#ff0000" stroke="none" stroke-width="0" rx="1.3"/>
<rect x="297.9" y="872.1" width="9.7" height="6.3" fill="#ff0000" stroke="none" stroke-width="0" rx="1.3"/>
<rect x="308.2" y="872.1" width="9.7" height="6.3" fill="#ff0000" stroke="none" stroke-width="0" rx="1.3"/>
<rect x="318.5" y="872.1" width="9.7" height="6.3" fill="#0000ff" stroke="none" stroke-width="0" rx="1.3"/>
<rect x="246.5" y="879" width="9.7" height="6.3" fill="#ff0000" stroke="none" stroke-width="0" rx="1.3"/>
<rect x="256.8" y="879" width="9.7" height="6.3" fill="#ff0000" stroke="none" stroke-width="0" rx="1.3"/>
<rect x="267.1" y="879" width="9.7" height="6.3" fill="#ffff00" stroke="none" stroke-width="0" rx="1.3"/>
<rect x="277.4" y="879" width="9.7" height="6.3" fill="#ff0000" stroke="none" stroke-width="0" rx="1.3"/>
<rect x="287.6" y="879" width="9.7" height="6.3" fill="#ff0000" stroke="none" stroke-width="0" rx="1.3"/>
<rect x="297.9" y="879" width="9.7" height="6.3" fill="#ff0000" stroke="none" stroke-width="0" rx="1.3"/>
<rect x="308.2" y="879" width="9.7" height="6.3" fill="#ffff00" stroke="none" stroke-width="0" rx="1.3"/>
<rect x="318.5" y="879" width="9.7" height="6.3" fill="#ffff00" stroke="none" stroke-width="0" rx="1.3"/>
<rect x="246.5" y="885.9" width="9.7" height="6.3" fill="#ff0000" stroke="none" stroke-width="0" rx="1.3"/>
<rect x="256.8" y="885.9" width="9.7" height="6.3" fill="#ffff00" stroke="none" stroke-width="0" rx="1.3"/>
<rect x="267.1" y="885.9" width="9.7" height="6.3" fill="#ffff00" stroke="none" stroke-width="0" rx="1.3"/>
<rect x="277.4" y="885.9" width="9.7" height="6.3" fill="#00ffff" stroke="none" stroke-width="0" rx="1.3"/>
<rect x="287.6" y="885.9" width="9.7" height="6.3" fill="#ff0000" stroke="none" stroke-width="0" rx="1.3"/>
<rect x="297.9" y="885.9" width="9.7" height="6.3" fill="#ffff00" stroke="none" stroke-width="0" rx="1.3"/>
<rect x="308.2" y="885.9" width="9.7" height="6.3" fill="#ffff00" stroke="none" stroke-width="0" rx="1.3"/>
<rect x="318.5" y="885.9" width="9.7" height="6.3" fill="#ffff00" stroke="none" stroke-width="0" rx="1.3"/>
<rect x="246.5" y="892.9" width="9.7" height="6.3" fill="#0000ff" stroke="none" stroke-width="0" rx="1.3"/>
<rect x="256.8" y="892.9" width="9.7" height="6.3" fill="#ffff00" stroke="none" stroke-width="0" rx="1.3"/>
<rect x="267.1" y="892.9" width="9.7" height="6.3" fill="#00ffff" stroke="none" stroke-width="0" rx="1.3"/>
<rect x="277.4" y="892.9" width="9.7" height="6.3" fill="#00ffff" stroke="none" stroke-width="0" rx="1.3"/>
<rect x="287.6" y="892.9" width="9.7" height="6.3" fill="#0000ff" stroke="none" stroke-width="0" rx="1.3"/>
<rect x="297.9" y="892.9" width="9.7" height="6.3" fill="#ffff00" stroke="none" stroke-width="0" rx="1.3"/>
<rect x="308.2" y="892.9" width="9.7" height="6.3" fill="#ffff00" stroke="none" stroke-width="0" rx="1.3"/>
<rect x="318.5" y="892.9" width="9.7" height="6.3" fill="#00ffff" stroke="none" stroke-width="0" rx="1.3"/>
<text x="288.2" y="837.8" font-family="Liberation Serif" font-size="14.8" font-weight="normal" fill="#111" text-anchor="middle" textLength="75.6" lengthAdjust="spacingAndGlyphs">1001-1001</text>
<rect x="338.5" y="843" width="84.5" height="57.6" fill="#222" stroke="none" stroke-width="0" rx="0"/>
<rect x="339.9" y="844.4" width="9.7" height="6.3" fill="#ff0000" stroke="none" stroke-width="0" rx="1.3"/>
<rect x="350.2" y="844.4" width="9.7" height="6.3" fill="#ffff00" stroke="none" stroke-width="0" rx="1.3"/>
<rect x="360.5" y="844.4" width="9.7" height="6.3" fill="#ffff00" stroke="none" stroke-width="0" rx="1.3"/>
<rect x="370.8" y="844.4" width="9.7" height="6.3" fill="#ff0000" stroke="none" stroke-width="0" rx="1.3"/>
<rect x="381.1" y="844.4" width="9.7" height="6.3" fill="#ff0000" stroke="none" stroke-width="0" rx="1.3"/>
<rect x="391.3" y="844.4" width="9.7" height="6.3" fill="#ffff00" stroke="none" stroke-width="0" rx="1.3"/>
<rect x="401.6" y="844.4" width="9.7" height="6.3" fill="#ffff00" stroke="none" stroke-width="0" rx="1.3"/>
<rect x="411.9" y="844.4" width="9.7" height="6.3" fill="#ff0000" stroke="none" stroke-width="0" rx="1.3"/>
<rect x="339.9" y="851.3" width="9.7" height="6.3" fill="#ffff00" stroke="none" stroke-width="0" rx="1.3"/>
<rect x="350.2" y="851.3" width="9.7" height="6.3" fill="#ffff00" stroke="none" stroke-width="0" rx="1.3"/>
<rect x="360.5" y="851.3" width="9.7" height="6.3" fill="#00ffff" stroke="none" stroke-width="0" rx="1.3"/>
<rect x="370.8" y="851.3" width="9.7" height="6.3" fill="#00ffff" stroke="none" stroke-width="0" rx="1.3"/>
<rect x="381.1" y="851.3" width="9.7" height="6.3" fill="#ffff00" stroke="none" stroke-width="0" rx="1.3"/>
<rect x="391.3" y="851.3" width="9.7" height="6.3" fill="#ffff00" stroke="none" stroke-width="0" rx="1.3"/>
<rect x="401.6" y="851.3" width="9.7" height="6.3" fill="#ffff00" stroke="none" stroke-width="0" rx="1.3"/>
<rect x="411.9" y="851.3" width="9.7" height="6.3" fill="#00ffff" stroke="none" stroke-width="0" rx="1.3"/>
<rect x="339.9" y="858.2" width="9.7" height="6.3" fill="#ffff00" stroke="none" stroke-width="0" rx="1.3"/>
<rect x="350.2" y="858.2" width="9.7" height="6.3" fill="#00ffff" stroke="none" stroke-width="0" rx="1.3"/>
<rect x="360.5" y="858.2" width="9.7" height="6.3" fill="#00ffff" stroke="none" stroke-width="0" rx="1.3"/>
<rect x="370.8" y="858.2" width="9.7" height="6.3" fill="#0000ff" stroke="none" stroke-width="0" rx="1.3"/>
<rect x="381.1" y="858.2" width="9.7" height="6.3" fill="#ff0000" stroke="none" stroke-width="0" rx="1.3"/>
<rect x="391.3" y="858.2" width="9.7" height="6.3" fill="#ffff00" stroke="none" stroke-width="0" rx="1.3"/>
<rect x="401.6" y="858.2" width="9.7" height="6.3" fill="#00ffff" stroke="none" stroke-width="0" rx="1.3"/>
<rect x="411.9" y="858.2" width="9.7" height="6.3" fill="#00ffff" stroke="none" stroke-width="0" rx="1.3"/>
<rect x="339.9" y="865.2" width="9.7" height="6.3" fill="#ff0000" stroke="none" stroke-width="0" rx="1.3"/>
<rect x="350.2" y="865.2" width="9.7" height="6.3" fill="#00ffff" stroke="none" stroke-width="0" rx="1.3"/>
<rect x="360.5" y="865.2" width="9.7" height="6.3" fill="#0000ff" stroke="none" stroke-width="0" rx="1.3"/>
<rect x="370.8" y="865.2" width="9.7" height="6.3" fill="#ff0000" stroke="none" stroke-width="0" rx="1.3"/>
<rect x="381.1" y="865.2" width="9.7" height="6.3" fill="#ff0000" stroke="none" stroke-width="0" rx="1.3"/>
<rect x="391.3" y="865.2" width="9.7" height="6.3" fill="#ff0000" stroke="none" stroke-width="0" rx="1.3"/>
<rect x="401.6" y="865.2" width="9.7" height="6.3" fill="#00ffff" stroke="none" stroke-width="0" rx="1.3"/>
<rect x="411.9" y="865.2" width="9.7" height="6.3" fill="#0000ff" stroke="none" stroke-width="0" rx="1.3"/>
<rect x="339.9" y="872.1" width="9.7" height="6.3" fill="#ff0000" stroke="none" stroke-width="0" rx="1.3"/>
<rect x="350.2" y="872.1" width="9.7" height="6.3" fill="#ffff00" stroke="none" stroke-width="0" rx="1.3"/>
<rect x="360.5" y="872.1" width="9.7" height="6.3" fill="#ff0000" stroke="none" stroke-width="0" rx="1.3"/>
<rect x="370.8" y="872.1" width="9.7" height="6.3" fill="#ff0000" stroke="none" stroke-width="0" rx="1.3"/>
<rect x="381.1" y="872.1" width="9.7" height="6.3" fill="#ff0000" stroke="none" stroke-width="0" rx="1.3"/>
<rect x="391.3" y="872.1" width="9.7" height="6.3" fill="#ff0000" stroke="none" stroke-width="0" rx="1.3"/>
<rect x="401.6" y="872.1" width="9.7" height="6.3" fill="#ffff00" stroke="none" stroke-width="0" rx="1.3"/>
<rect x="411.9" y="872.1" width="9.7" height="6.3" fill="#ff0000" stroke="none" stroke-width="0" rx="1.3"/>
<rect x="339.9" y="879" width="9.7" height="6.3" fill="#ffff00" stroke="none" stroke-width="0" rx="1.3"/>
<rect x="350.2" y="879" width="9.7" height="6.3" fill="#ffff00" stroke="none" stroke-width="0" rx="1.3"/>
<rect x="360.5" y="879" width="9.7" height="6.3" fill="#ffff00" stroke="none" stroke-width="0" rx="1.3"/>
<rect x="370.8" y="879" width="9.7" height="6.3" fill="#ff0000" stroke="none" stroke-width="0" rx="1.3"/>
<rect x="381.1" y="879" width="9.7" height="6.3" fill="#ff0000" stroke="none" stroke-width="0" rx="1.3"/>
<rect x="391.3" y="879" width="9.7" height="6.3" fill="#ffff00" stroke="none" stroke-width="0" rx="1.3"/>
<rect x="401.6" y="879" width="9.7" height="6.3" fill="#ffff00" stroke="none" stroke-width="0" rx="1.3"/>
<rect x="411.9" y="879" width="9.7" height="6.3" fill="#00ffff" stroke="none" stroke-width="0" rx="1.3"/>
<rect x="339.9" y="885.9" width="9.7" height="6.3" fill="#ffff00" stroke="none" stroke-width="0" rx="1.3"/>
<rect x="350.2" y="885.9" width="9.7" height="6.3" fill="#ffff00" stroke="none" stroke-width="0" rx="1.3"/>
<rect x="360.5" y="885.9" width="9.7" height="6.3" fill="#00ffff" stroke="none" stroke-width="0" rx="1.3"/>
<rect x="370.8" y="885.9" width="9.7" height="6.3" fill="#00ffff" stroke="none" stroke-width="0" rx="1.3"/>
<rect x="381.1" y="885.9" width="9.7" height="6.3" fill="#ffff00" stroke="none" stroke-width="0" rx="1.3"/>
<rect x="391.3" y="885.9" width="9.7" height="6.3" fill="#ffff00" stroke="none" stroke-width="0" rx="1.3"/>
<rect x="401.6" y="885.9" width="9.7" height="6.3" fill="#00ffff" stroke="none" stroke-width="0" rx="1.3"/>
<rect x="411.9" y="885.9" width="9.7" height="6.3" fill="#00ffff" stroke="none" stroke-width="0" rx="1.3"/>
<rect x="339.9" y="892.9" width="9.7" height="6.3" fill="#ff0000" stroke="none" stroke-width="0" rx="1.3"/>
<rect x="350.2" y="892.9" width="9.7" height="6.3" fill="#00ffff" stroke="none" stroke-width="0" rx="1.3"/>
<rect x="360.5" y="892.9" width="9.7" height="6.3" fill="#00ffff" stroke="none" stroke-width="0" rx="1.3"/>
<rect x="370.8" y="892.9" width="9.7" height="6.3" fill="#0000ff" stroke="none" stroke-width="0" rx="1.3"/>
<rect x="381.1" y="892.9" width="9.7" height="6.3" fill="#ff0000" stroke="none" stroke-width="0" rx="1.3"/>
<rect x="391.3" y="892.9" width="9.7" height="6.3" fill="#00ffff" stroke="none" stroke-width="0" rx="1.3"/>
<rect x="401.6" y="892.9" width="9.7" height="6.3" fill="#00ffff" stroke="none" stroke-width="0" rx="1.3"/>
<rect x="411.9" y="892.9" width="9.7" height="6.3" fill="#0000ff" stroke="none" stroke-width="0" rx="1.3"/>
<text x="381.6" y="837.8" font-family="Liberation Serif" font-size="14.8" font-weight="normal" fill="#111" text-anchor="middle" textLength="75.6" lengthAdjust="spacingAndGlyphs">1010-1010</text>
<rect x="432.3" y="843" width="84.5" height="57.6" fill="#222" stroke="none" stroke-width="0" rx="0"/>
<rect x="433.7" y="844.4" width="9.7" height="6.3" fill="#ff0000" stroke="none" stroke-width="0" rx="1.3"/>
<rect x="444" y="844.4" width="9.7" height="6.3" fill="#ff0000" stroke="none" stroke-width="0" rx="1.3"/>
<rect x="454.3" y="844.4" width="9.7" height="6.3" fill="#ffff00" stroke="none" stroke-width="0" rx="1.3"/>
<rect x="464.6" y="844.4" width="9.7" height="6.3" fill="#ff0000" stroke="none" stroke-width="0" rx="1.3"/>
<rect x="474.9" y="844.4" width="9.7" height="6.3" fill="#ff0000" stroke="none" stroke-width="0" rx="1.3"/>
<rect x="485.1" y="844.4" width="9.7" height="6.3" fill="#ff0000" stroke="none" stroke-width="0" rx="1.3"/>
<rect x="495.4" y="844.4" width="9.7" height="6.3" fill="#ffff00" stroke="none" stroke-width="0" rx="1.3"/>
<rect x="505.7" y="844.4" width="9.7" height="6.3" fill="#ff0000" stroke="none" stroke-width="0" rx="1.3"/>
<rect x="433.7" y="851.3" width="9.7" height="6.3" fill="#ff0000" stroke="none" stroke-width="0" rx="1.3"/>
<rect x="444" y="851.3" width="9.7" height="6.3" fill="#ffff00" stroke="none" stroke-width="0" rx="1.3"/>
<rect x="454.3" y="851.3" width="9.7" height="6.3" fill="#ffff00" stroke="none" stroke-width="0" rx="1.3"/>
<rect x="464.6" y="851.3" width="9.7" height="6.3" fill="#00ffff" stroke="none" stroke-width="0" rx="1.3"/>
<rect x="474.9" y="851.3" width="9.7" height="6.3" fill="#ff0000" stroke="none" stroke-width="0" rx="1.3"/>
<rect x="485.1" y="851.3" width="9.7" height="6.3" fill="#ffff00" stroke="none" stroke-width="0" rx="1.3"/>
<rect x="495.4" y="851.3" width="9.7" height="6.3" fill="#ffff00" stroke="none" stroke-width="0" rx="1.3"/>
<rect x="505.7" y="851.3" width="9.7" height="6.3" fill="#00ffff" stroke="none" stroke-width="0" rx="1.3"/>
<rect x="433.7" y="858.2" width="9.7" height="6.3" fill="#ffff00" stroke="none" stroke-width="0" rx="1.3"/>
<rect x="444" y="858.2" width="9.7" height="6.3" fill="#ffff00" stroke="none" stroke-width="0" rx="1.3"/>
<rect x="454.3" y="858.2" width="9.7" height="6.3" fill="#00ffff" stroke="none" stroke-width="0" rx="1.3"/>
<rect x="464.6" y="858.2" width="9.7" height="6.3" fill="#00ffff" stroke="none" stroke-width="0" rx="1.3"/>
<rect x="474.9" y="858.2" width="9.7" height="6.3" fill="#0000ff" stroke="none" stroke-width="0" rx="1.3"/>
<rect x="485.1" y="858.2" width="9.7" height="6.3" fill="#ffff00" stroke="none" stroke-width="0" rx="1.3"/>
<rect x="495.4" y="858.2" width="9.7" height="6.3" fill="#00ffff" stroke="none" stroke-width="0" rx="1.3"/>
<rect x="505.7" y="858.2" width="9.7" height="6.3" fill="#00ffff" stroke="none" stroke-width="0" rx="1.3"/>
<rect x="433.7" y="865.2" width="9.7" height="6.3" fill="#ff0000" stroke="none" stroke-width="0" rx="1.3"/>
<rect x="444" y="865.2" width="9.7" height="6.3" fill="#00ffff" stroke="none" stroke-width="0" rx="1.3"/>
<rect x="454.3" y="865.2" width="9.7" height="6.3" fill="#00ffff" stroke="none" stroke-width="0" rx="1.3"/>
<rect x="464.6" y="865.2" width="9.7" height="6.3" fill="#0000ff" stroke="none" stroke-width="0" rx="1.3"/>
<rect x="474.9" y="865.2" width="9.7" height="6.3" fill="#ff0000" stroke="none" stroke-width="0" rx="1.3"/>
<rect x="485.1" y="865.2" width="9.7" height="6.3" fill="#ff0000" stroke="none" stroke-width="0" rx="1.3"/>
<rect x="495.4" y="865.2" width="9.7" height="6.3" fill="#00ffff" stroke="none" stroke-width="0" rx="1.3"/>
<rect x="505.7" y="865.2" width="9.7" height="6.3" fill="#0000ff" stroke="none" stroke-width="0" rx="1.3"/>
<rect x="433.7" y="872.1" width="9.7" height="6.3" fill="#ff0000" stroke="none" stroke-width="0" rx="1.3"/>
<rect x="444" y="872.1" width="9.7" height="6.3" fill="#ff0000" stroke="none" stroke-width="0" rx="1.3"/>
<rect x="454.3" y="872.1" width="9.7" height="6.3" fill="#0000ff" stroke="none" stroke-width="0" rx="1.3"/>
<rect x="464.6" y="872.1" width="9.7" height="6.3" fill="#ff0000" stroke="none" stroke-width="0" rx="1.3"/>
<rect x="474.9" y="872.1" width="9.7" height="6.3" fill="#ff0000" stroke="none" stroke-width="0" rx="1.3"/>
<rect x="485.1" y="872.1" width="9.7" height="6.3" fill="#ff0000" stroke="none" stroke-width="0" rx="1.3"/>
<rect x="495.4" y="872.1" width="9.7" height="6.3" fill="#ff0000" stroke="none" stroke-width="0" rx="1.3"/>
<rect x="505.7" y="872.1" width="9.7" height="6.3" fill="#ff0000" stroke="none" stroke-width="0" rx="1.3"/>
<rect x="433.7" y="879" width="9.7" height="6.3" fill="#ff0000" stroke="none" stroke-width="0" rx="1.3"/>
<rect x="444" y="879" width="9.7" height="6.3" fill="#ffff00" stroke="none" stroke-width="0" rx="1.3"/>
<rect x="454.3" y="879" width="9.7" height="6.3" fill="#ffff00" stroke="none" stroke-width="0" rx="1.3"/>
<rect x="464.6" y="879" width="9.7" height="6.3" fill="#ff0000" stroke="none" stroke-width="0" rx="1.3"/>
<rect x="474.9" y="879" width="9.7" height="6.3" fill="#ff0000" stroke="none" stroke-width="0" rx="1.3"/>
<rect x="485.1" y="879" width="9.7" height="6.3" fill="#ffff00" stroke="none" stroke-width="0" rx="1.3"/>
<rect x="495.4" y="879" width="9.7" height="6.3" fill="#ffff00" stroke="none" stroke-width="0" rx="1.3"/>
<rect x="505.7" y="879" width="9.7" height="6.3" fill="#ffff00" stroke="none" stroke-width="0" rx="1.3"/>
<rect x="433.7" y="885.9" width="9.7" height="6.3" fill="#ffff00" stroke="none" stroke-width="0" rx="1.3"/>
<rect x="444" y="885.9" width="9.7" height="6.3" fill="#ffff00" stroke="none" stroke-width="0" rx="1.3"/>
<rect x="454.3" y="885.9" width="9.7" height="6.3" fill="#00ffff" stroke="none" stroke-width="0" rx="1.3"/>
<rect x="464.6" y="885.9" width="9.7" height="6.3" fill="#00ffff" stroke="none" stroke-width="0" rx="1.3"/>
<rect x="474.9" y="885.9" width="9.7" height="6.3" fill="#ffff00" stroke="none" stroke-width="0" rx="1.3"/>
<rect x="485.1" y="885.9" width="9.7" height="6.3" fill="#ffff00" stroke="none" stroke-width="0" rx="1.3"/>
<rect x="495.4" y="885.9" width="9.7" height="6.3" fill="#ffff00" stroke="none" stroke-width="0" rx="1.3"/>
<rect x="505.7" y="885.9" width="9.7" height="6.3" fill="#00ffff" stroke="none" stroke-width="0" rx="1.3"/>
<rect x="433.7" y="892.9" width="9.7" height="6.3" fill="#ff0000" stroke="none" stroke-width="0" rx="1.3"/>
<rect x="444" y="892.9" width="9.7" height="6.3" fill="#00ffff" stroke="none" stroke-width="0" rx="1.3"/>
<rect x="454.3" y="892.9" width="9.7" height="6.3" fill="#00ffff" stroke="none" stroke-width="0" rx="1.3"/>
<rect x="464.6" y="892.9" width="9.7" height="6.3" fill="#0000ff" stroke="none" stroke-width="0" rx="1.3"/>
<rect x="474.9" y="892.9" width="9.7" height="6.3" fill="#0000ff" stroke="none" stroke-width="0" rx="1.3"/>
<rect x="485.1" y="892.9" width="9.7" height="6.3" fill="#ffff00" stroke="none" stroke-width="0" rx="1.3"/>
<rect x="495.4" y="892.9" width="9.7" height="6.3" fill="#00ffff" stroke="none" stroke-width="0" rx="1.3"/>
<rect x="505.7" y="892.9" width="9.7" height="6.3" fill="#00ffff" stroke="none" stroke-width="0" rx="1.3"/>
<text x="475.4" y="837.8" font-family="Liberation Serif" font-size="14.8" font-weight="normal" fill="#111" text-anchor="middle" textLength="75.6" lengthAdjust="spacingAndGlyphs">1011-1011</text>
<rect x="151.1" y="923" width="84.5" height="57.6" fill="#222" stroke="none" stroke-width="0" rx="0"/>
<rect x="152.5" y="924.4" width="9.7" height="6.3" fill="#0000ff" stroke="none" stroke-width="0" rx="1.3"/>
<rect x="162.8" y="924.4" width="9.7" height="6.3" fill="#ff0000" stroke="none" stroke-width="0" rx="1.3"/>
<rect x="173.1" y="924.4" width="9.7" height="6.3" fill="#ff0000" stroke="none" stroke-width="0" rx="1.3"/>
<rect x="183.4" y="924.4" width="9.7" height="6.3" fill="#00ffff" stroke="none" stroke-width="0" rx="1.3"/>
<rect x="193.7" y="924.4" width="9.7" height="6.3" fill="#0000ff" stroke="none" stroke-width="0" rx="1.3"/>
<rect x="203.9" y="924.4" width="9.7" height="6.3" fill="#ff0000" stroke="none" stroke-width="0" rx="1.3"/>
<rect x="214.2" y="924.4" width="9.7" height="6.3" fill="#ff0000" stroke="none" stroke-width="0" rx="1.3"/>
<rect x="224.5" y="924.4" width="9.7" height="6.3" fill="#00ffff" stroke="none" stroke-width="0" rx="1.3"/>
<rect x="152.5" y="931.3" width="9.7" height="6.3" fill="#ff0000" stroke="none" stroke-width="0" rx="1.3"/>
<rect x="162.8" y="931.3" width="9.7" height="6.3" fill="#ff0000" stroke="none" stroke-width="0" rx="1.3"/>
<rect x="173.1" y="931.3" width="9.7" height="6.3" fill="#ff0000" stroke="none" stroke-width="0" rx="1.3"/>
<rect x="183.4" y="931.3" width="9.7" height="6.3" fill="#ffff00" stroke="none" stroke-width="0" rx="1.3"/>
<rect x="193.7" y="931.3" width="9.7" height="6.3" fill="#ff0000" stroke="none" stroke-width="0" rx="1.3"/>
<rect x="203.9" y="931.3" width="9.7" height="6.3" fill="#ff0000" stroke="none" stroke-width="0" rx="1.3"/>
<rect x="214.2" y="931.3" width="9.7" height="6.3" fill="#ff0000" stroke="none" stroke-width="0" rx="1.3"/>
<rect x="224.5" y="931.3" width="9.7" height="6.3" fill="#ffff00" stroke="none" stroke-width="0" rx="1.3"/>
<rect x="152.5" y="938.2" width="9.7" height="6.3" fill="#ff0000" stroke="none" stroke-width="0" rx="1.3"/>
<rect x="162.8" y="938.2" width="9.7" height="6.3" fill="#ff0000" stroke="none" stroke-width="0" rx="1.3"/>
<rect x="173.1" y="938.2" width="9.7" height="6.3" fill="#ffff00" stroke="none" stroke-width="0" rx="1.3"/>
<rect x="183.4" y="938.2" width="9.7" height="6.3" fill="#ffff00" stroke="none" stroke-width="0" rx="1.3"/>
<rect x="193.7" y="938.2" width="9.7" height="6.3" fill="#00ffff" stroke="none" stroke-width="0" rx="1.3"/>
<rect x="203.9" y="938.2" width="9.7" height="6.3" fill="#ff0000" stroke="none" stroke-width="0" rx="1.3"/>
<rect x="214.2" y="938.2" width="9.7" height="6.3" fill="#ffff00" stroke="none" stroke-width="0" rx="1.3"/>
<rect x="224.5" y="938.2" width="9.7" height="6.3" fill="#ffff00" stroke="none" stroke-width="0" rx="1.3"/>
<rect x="152.5" y="945.2" width="9.7" height="6.3" fill="#00ffff" stroke="none" stroke-width="0" rx="1.3"/>
<rect x="162.8" y="945.2" width="9.7" height="6.3" fill="#ffff00" stroke="none" stroke-width="0" rx="1.3"/>
<rect x="173.1" y="945.2" width="9.7" height="6.3" fill="#ffff00" stroke="none" stroke-width="0" rx="1.3"/>
<rect x="183.4" y="945.2" width="9.7" height="6.3" fill="#00ffff" stroke="none" stroke-width="0" rx="1.3"/>
<rect x="193.7" y="945.2" width="9.7" height="6.3" fill="#00ffff" stroke="none" stroke-width="0" rx="1.3"/>
<rect x="203.9" y="945.2" width="9.7" height="6.3" fill="#0000ff" stroke="none" stroke-width="0" rx="1.3"/>
<rect x="214.2" y="945.2" width="9.7" height="6.3" fill="#ffff00" stroke="none" stroke-width="0" rx="1.3"/>
<rect x="224.5" y="945.2" width="9.7" height="6.3" fill="#00ffff" stroke="none" stroke-width="0" rx="1.3"/>
<rect x="152.5" y="952.1" width="9.7" height="6.3" fill="#0000ff" stroke="none" stroke-width="0" rx="1.3"/>
<rect x="162.8" y="952.1" width="9.7" height="6.3" fill="#ff0000" stroke="none" stroke-width="0" rx="1.3"/>
<rect x="173.1" y="952.1" width="9.7" height="6.3" fill="#00ffff" stroke="none" stroke-width="0" rx="1.3"/>
<rect x="183.4" y="952.1" width="9.7" height="6.3" fill="#00ffff" stroke="none" stroke-width="0" rx="1.3"/>
<rect x="193.7" y="952.1" width="9.7" height="6.3" fill="#0000ff" stroke="none" stroke-width="0" rx="1.3"/>
<rect x="203.9" y="952.1" width="9.7" height="6.3" fill="#ff0000" stroke="none" stroke-width="0" rx="1.3"/>
<rect x="214.2" y="952.1" width="9.7" height="6.3" fill="#ff0000" stroke="none" stroke-width="0" rx="1.3"/>
<rect x="224.5" y="952.1" width="9.7" height="6.3" fill="#00ffff" stroke="none" stroke-width="0" rx="1.3"/>
<rect x="152.5" y="959" width="9.7" height="6.3" fill="#ff0000" stroke="none" stroke-width="0" rx="1.3"/>
<rect x="162.8" y="959" width="9.7" height="6.3" fill="#ff0000" stroke="none" stroke-width="0" rx="1.3"/>
<rect x="173.1" y="959" width="9.7" height="6.3" fill="#ff0000" stroke="none" stroke-width="0" rx="1.3"/>
<rect x="183.4" y="959" width="9.7" height="6.3" fill="#0000ff" stroke="none" stroke-width="0" rx="1.3"/>
<rect x="193.7" y="959" width="9.7" height="6.3" fill="#ff0000" stroke="none" stroke-width="0" rx="1.3"/>
<rect x="203.9" y="959" width="9.7" height="6.3" fill="#ff0000" stroke="none" stroke-width="0" rx="1.3"/>
<rect x="214.2" y="959" width="9.7" height="6.3" fill="#ff0000" stroke="none" stroke-width="0" rx="1.3"/>
<rect x="224.5" y="959" width="9.7" height="6.3" fill="#ff0000" stroke="none" stroke-width="0" rx="1.3"/>
<rect x="152.5" y="965.9" width="9.7" height="6.3" fill="#ff0000" stroke="none" stroke-width="0" rx="1.3"/>
<rect x="162.8" y="965.9" width="9.7" height="6.3" fill="#ff0000" stroke="none" stroke-width="0" rx="1.3"/>
<rect x="173.1" y="965.9" width="9.7" height="6.3" fill="#ffff00" stroke="none" stroke-width="0" rx="1.3"/>
<rect x="183.4" y="965.9" width="9.7" height="6.3" fill="#ffff00" stroke="none" stroke-width="0" rx="1.3"/>
<rect x="193.7" y="965.9" width="9.7" height="6.3" fill="#ff0000" stroke="none" stroke-width="0" rx="1.3"/>
<rect x="203.9" y="965.9" width="9.7" height="6.3" fill="#ff0000" stroke="none" stroke-width="0" rx="1.3"/>
<rect x="214.2" y="965.9" width="9.7" height="6.3" fill="#ff0000" stroke="none" stroke-width="0" rx="1.3"/>
<rect x="224.5" y="965.9" width="9.7" height="6.3" fill="#ffff00" stroke="none" stroke-width="0" rx="1.3"/>
<rect x="152.5" y="972.9" width="9.7" height="6.3" fill="#00ffff" stroke="none" stroke-width="0" rx="1.3"/>
<rect x="162.8" y="972.9" width="9.7" height="6.3" fill="#ffff00" stroke="none" stroke-width="0" rx="1.3"/>
<rect x="173.1" y="972.9" width="9.7" height="6.3" fill="#ffff00" stroke="none" stroke-width="0" rx="1.3"/>
<rect x="183.4" y="972.9" width="9.7" height="6.3" fill="#00ffff" stroke="none" stroke-width="0" rx="1.3"/>
<rect x="193.7" y="972.9" width="9.7" height="6.3" fill="#00ffff" stroke="none" stroke-width="0" rx="1.3"/>
<rect x="203.9" y="972.9" width="9.7" height="6.3" fill="#ffff00" stroke="none" stroke-width="0" rx="1.3"/>
<rect x="214.2" y="972.9" width="9.7" height="6.3" fill="#ffff00" stroke="none" stroke-width="0" rx="1.3"/>
<rect x="224.5" y="972.9" width="9.7" height="6.3" fill="#ffff00" stroke="none" stroke-width="0" rx="1.3"/>
<text x="194.2" y="917.8" font-family="Liberation Serif" font-size="14.8" font-weight="normal" fill="#111" text-anchor="middle" textLength="75.6" lengthAdjust="spacingAndGlyphs">1100-1100</text>
<rect x="245.1" y="923" width="84.5" height="57.6" fill="#222" stroke="none" stroke-width="0" rx="0"/>
<rect x="246.5" y="924.4" width="9.7" height="6.3" fill="#ff0000" stroke="none" stroke-width="0" rx="1.3"/>
<rect x="256.8" y="924.4" width="9.7" height="6.3" fill="#ff0000" stroke="none" stroke-width="0" rx="1.3"/>
<rect x="267.1" y="924.4" width="9.7" height="6.3" fill="#ff0000" stroke="none" stroke-width="0" rx="1.3"/>
<rect x="277.4" y="924.4" width="9.7" height="6.3" fill="#0000ff" stroke="none" stroke-width="0" rx="1.3"/>
<rect x="287.6" y="924.4" width="9.7" height="6.3" fill="#ff0000" stroke="none" stroke-width="0" rx="1.3"/>
<rect x="297.9" y="924.4" width="9.7" height="6.3" fill="#ff0000" stroke="none" stroke-width="0" rx="1.3"/>
<rect x="308.2" y="924.4" width="9.7" height="6.3" fill="#ff0000" stroke="none" stroke-width="0" rx="1.3"/>
<rect x="318.5" y="924.4" width="9.7" height="6.3" fill="#00ffff" stroke="none" stroke-width="0" rx="1.3"/>
<rect x="246.5" y="931.3" width="9.7" height="6.3" fill="#ff0000" stroke="none" stroke-width="0" rx="1.3"/>
<rect x="256.8" y="931.3" width="9.7" height="6.3" fill="#ff0000" stroke="none" stroke-width="0" rx="1.3"/>
<rect x="267.1" y="931.3" width="9.7" height="6.3" fill="#ffff00" stroke="none" stroke-width="0" rx="1.3"/>
<rect x="277.4" y="931.3" width="9.7" height="6.3" fill="#ffff00" stroke="none" stroke-width="0" rx="1.3"/>
<rect x="287.6" y="931.3" width="9.7" height="6.3" fill="#ff0000" stroke="none" stroke-width="0" rx="1.3"/>
<rect x="297.9" y="931.3" width="9.7" height="6.3" fill="#ff0000" stroke="none" stroke-width="0" rx="1.3"/>
<rect x="308.2" y="931.3" width="9.7" height="6.3" fill="#ff0000" stroke="none" stroke-width="0" rx="1.3"/>
<rect x="318.5" y="931.3" width="9.7" height="6.3" fill="#ffff00" stroke="none" stroke-width="0" rx="1.3"/>
<rect x="246.5" y="938.2" width="9.7" height="6.3" fill="#ff0000" stroke="none" stroke-width="0" rx="1.3"/>
<rect x="256.8" y="938.2" width="9.7" height="6.3" fill="#ffff00" stroke="none" stroke-width="0" rx="1.3"/>
<rect x="267.1" y="938.2" width="9.7" height="6.3" fill="#ffff00" stroke="none" stroke-width="0" rx="1.3"/>
<rect x="277.4" y="938.2" width="9.7" height="6.3" fill="#00ffff" stroke="none" stroke-width="0" rx="1.3"/>
<rect x="287.6" y="938.2" width="9.7" height="6.3" fill="#00ffff" stroke="none" stroke-width="0" rx="1.3"/>
<rect x="297.9" y="938.2" width="9.7" height="6.3" fill="#ff0000" stroke="none" stroke-width="0" rx="1.3"/>
<rect x="308.2" y="938.2" width="9.7" height="6.3" fill="#ffff00" stroke="none" stroke-width="0" rx="1.3"/>
<rect x="318.5" y="938.2" width="9.7" height="6.3" fill="#ffff00" stroke="none" stroke-width="0" rx="1.3"/>
<rect x="246.5" y="945.2" width="9.7" height="6.3" fill="#0000ff" stroke="none" stroke-width="0" rx="1.3"/>
<rect x="256.8" y="945.2" width="9.7" height="6.3" fill="#ffff00" stroke="none" stroke-width="0" rx="1.3"/>
<rect x="267.1" y="945.2" width="9.7" height="6.3" fill="#00ffff" stroke="none" stroke-width="0" rx="1.3"/>
<rect x="277.4" y="945.2" width="9.7" height="6.3" fill="#00ffff" stroke="none" stroke-width="0" rx="1.3"/>
<rect x="287.6" y="945.2" width="9.7" height="6.3" fill="#00ffff" stroke="none" stroke-width="0" rx="1.3"/>
<rect x="297.9" y="945.2" width="9.7" height="6.3" fill="#ff0000" stroke="none" stroke-width="0" rx="1.3"/>
<rect x="308.2" y="945.2" width="9.7" height="6.3" fill="#ffff00" stroke="none" stroke-width="0" rx="1.3"/>
<rect x="318.5" y="945.2" width="9.7" height="6.3" fill="#00ffff" stroke="none" stroke-width="0" rx="1.3"/>
<rect x="246.5" y="952.1" width="9.7" height="6.3" fill="#ff0000" stroke="none" stroke-width="0" rx="1.3"/>
<rect x="256.8" y="952.1" width="9.7" height="6.3" fill="#ff0000" stroke="none" stroke-width="0" rx="1.3"/>
<rect x="267.1" y="952.1" width="9.7" height="6.3" fill="#00ffff" stroke="none" stroke-width="0" rx="1.3"/>
<rect x="277.4" y="952.1" width="9.7" height="6.3" fill="#00ffff" stroke="none" stroke-width="0" rx="1.3"/>
<rect x="287.6" y="952.1" width="9.7" height="6.3" fill="#0000ff" stroke="none" stroke-width="0" rx="1.3"/>
<rect x="297.9" y="952.1" width="9.7" height="6.3" fill="#ff0000" stroke="none" stroke-width="0" rx="1.3"/>
<rect x="308.2" y="952.1" width="9.7" height="6.3" fill="#ff0000" stroke="none" stroke-width="0" rx="1.3"/>
<rect x="318.5" y="952.1" width="9.7" height="6.3" fill="#00ffff" stroke="none" stroke-width="0" rx="1.3"/>
<rect x="246.5" y="959" width="9.7" height="6.3" fill="#ff0000" stroke="none" stroke-width="0" rx="1.3"/>
<rect x="256.8" y="959" width="9.7" height="6.3" fill="#ff0000" stroke="none" stroke-width="0" rx="1.3"/>
<rect x="267.1" y="959" width="9.7" height="6.3" fill="#ff0000" stroke="none" stroke-width="0" rx="1.3"/>
<rect x="277.4" y="959" width="9.7" height="6.3" fill="#ff0000" stroke="none" stroke-width="0" rx="1.3"/>
<rect x="287.6" y="959" width="9.7" height="6.3" fill="#ff0000" stroke="none" stroke-width="0" rx="1.3"/>
<rect x="297.9" y="959" width="9.7" height="6.3" fill="#ff0000" stroke="none" stroke-width="0" rx="1.3"/>
<rect x="308.2" y="959" width="9.7" height="6.3" fill="#ff0000" stroke="none" stroke-width="0" rx="1.3"/>
<rect x="318.5" y="959" width="9.7" height="6.3" fill="#ffff00" stroke="none" stroke-width="0" rx="1.3"/>
<rect x="246.5" y="965.9" width="9.7" height="6.3" fill="#ff0000" stroke="none" stroke-width="0" rx="1.3"/>
<rect x="256.8" y="965.9" width="9.7" height="6.3" fill="#ff0000" stroke="none" stroke-width="0" rx="1.3"/>
<rect x="267.1" y="965.9" width="9.7" height="6.3" fill="#ffff00" stroke="none" stroke-width="0" rx="1.3"/>
<rect x="277.4" y="965.9" width="9.7" height="6.3" fill="#ffff00" stroke="none" stroke-width="0" rx="1.3"/>
<rect x="287.6" y="965.9" width="9.7" height="6.3" fill="#ff0000" stroke="none" stroke-width="0" rx="1.3"/>
<rect x="297.9" y="965.9" width="9.7" height="6.3" fill="#ff0000" stroke="none" stroke-width="0" rx="1.3"/>
<rect x="308.2" y="965.9" width="9.7" height="6.3" fill="#ffff00" stroke="none" stroke-width="0" rx="1.3"/>
<rect x="318.5" y="965.9" width="9.7" height="6.3" fill="#ffff00" stroke="none" stroke-width="0" rx="1.3"/>
<rect x="246.5" y="972.9" width="9.7" height="6.3" fill="#00ffff" stroke="none" stroke-width="0" rx="1.3"/>
<rect x="256.8" y="972.9" width="9.7" height="6.3" fill="#ffff00" stroke="none" stroke-width="0" rx="1.3"/>
<rect x="267.1" y="972.9" width="9.7" height="6.3" fill="#ffff00" stroke="none" stroke-width="0" rx="1.3"/>
<rect x="277.4" y="972.9" width="9.7" height="6.3" fill="#00ffff" stroke="none" stroke-width="0" rx="1.3"/>
<rect x="287.6" y="972.9" width="9.7" height="6.3" fill="#00ffff" stroke="none" stroke-width="0" rx="1.3"/>
<rect x="297.9" y="972.9" width="9.7" height="6.3" fill="#ffff00" stroke="none" stroke-width="0" rx="1.3"/>
<rect x="308.2" y="972.9" width="9.7" height="6.3" fill="#ffff00" stroke="none" stroke-width="0" rx="1.3"/>
<rect x="318.5" y="972.9" width="9.7" height="6.3" fill="#00ffff" stroke="none" stroke-width="0" rx="1.3"/>
<text x="288.2" y="917.8" font-family="Liberation Serif" font-size="14.8" font-weight="normal" fill="#111" text-anchor="middle" textLength="75.6" lengthAdjust="spacingAndGlyphs">1101-1101</text>
<rect x="338.5" y="923" width="84.5" height="57.6" fill="#222" stroke="none" stroke-width="0" rx="0"/>
<rect x="339.9" y="924.4" width="9.7" height="6.3" fill="#ffff00" stroke="none" stroke-width="0" rx="1.3"/>
<rect x="350.2" y="924.4" width="9.7" height="6.3" fill="#ffff00" stroke="none" stroke-width="0" rx="1.3"/>
<rect x="360.5" y="924.4" width="9.7" height="6.3" fill="#ffff00" stroke="none" stroke-width="0" rx="1.3"/>
<rect x="370.8" y="924.4" width="9.7" height="6.3" fill="#ff0000" stroke="none" stroke-width="0" rx="1.3"/>
<rect x="381.1" y="924.4" width="9.7" height="6.3" fill="#ff0000" stroke="none" stroke-width="0" rx="1.3"/>
<rect x="391.3" y="924.4" width="9.7" height="6.3" fill="#ffff00" stroke="none" stroke-width="0" rx="1.3"/>
<rect x="401.6" y="924.4" width="9.7" height="6.3" fill="#ffff00" stroke="none" stroke-width="0" rx="1.3"/>
<rect x="411.9" y="924.4" width="9.7" height="6.3" fill="#ff0000" stroke="none" stroke-width="0" rx="1.3"/>
<rect x="339.9" y="931.3" width="9.7" height="6.3" fill="#ffff00" stroke="none" stroke-width="0" rx="1.3"/>
<rect x="350.2" y="931.3" width="9.7" height="6.3" fill="#ffff00" stroke="none" stroke-width="0" rx="1.3"/>
<rect x="360.5" y="931.3" width="9.7" height="6.3" fill="#00ffff" stroke="none" stroke-width="0" rx="1.3"/>
<rect x="370.8" y="931.3" width="9.7" height="6.3" fill="#00ffff" stroke="none" stroke-width="0" rx="1.3"/>
<rect x="381.1" y="931.3" width="9.7" height="6.3" fill="#ffff00" stroke="none" stroke-width="0" rx="1.3"/>
<rect x="391.3" y="931.3" width="9.7" height="6.3" fill="#ffff00" stroke="none" stroke-width="0" rx="1.3"/>
<rect x="401.6" y="931.3" width="9.7" height="6.3" fill="#00ffff" stroke="none" stroke-width="0" rx="1.3"/>
<rect x="411.9" y="931.3" width="9.7" height="6.3" fill="#00ffff" stroke="none" stroke-width="0" rx="1.3"/>
<rect x="339.9" y="938.2" width="9.7" height="6.3" fill="#00ffff" stroke="none" stroke-width="0" rx="1.3"/>
<rect x="350.2" y="938.2" width="9.7" height="6.3" fill="#00ffff" stroke="none" stroke-width="0" rx="1.3"/>
<rect x="360.5" y="938.2" width="9.7" height="6.3" fill="#00ffff" stroke="none" stroke-width="0" rx="1.3"/>
<rect x="370.8" y="938.2" width="9.7" height="6.3" fill="#0000ff" stroke="none" stroke-width="0" rx="1.3"/>
<rect x="381.1" y="938.2" width="9.7" height="6.3" fill="#ff0000" stroke="none" stroke-width="0" rx="1.3"/>
<rect x="391.3" y="938.2" width="9.7" height="6.3" fill="#00ffff" stroke="none" stroke-width="0" rx="1.3"/>
<rect x="401.6" y="938.2" width="9.7" height="6.3" fill="#00ffff" stroke="none" stroke-width="0" rx="1.3"/>
<rect x="411.9" y="938.2" width="9.7" height="6.3" fill="#0000ff" stroke="none" stroke-width="0" rx="1.3"/>
<rect x="339.9" y="945.2" width="9.7" height="6.3" fill="#ff0000" stroke="none" stroke-width="0" rx="1.3"/>
<rect x="350.2" y="945.2" width="9.7" height="6.3" fill="#00ffff" stroke="none" stroke-width="0" rx="1.3"/>
<rect x="360.5" y="945.2" width="9.7" height="6.3" fill="#0000ff" stroke="none" stroke-width="0" rx="1.3"/>
<rect x="370.8" y="945.2" width="9.7" height="6.3" fill="#ff0000" stroke="none" stroke-width="0" rx="1.3"/>
<rect x="381.1" y="945.2" width="9.7" height="6.3" fill="#ff0000" stroke="none" stroke-width="0" rx="1.3"/>
<rect x="391.3" y="945.2" width="9.7" height="6.3" fill="#ff0000" stroke="none" stroke-width="0" rx="1.3"/>
<rect x="401.6" y="945.2" width="9.7" height="6.3" fill="#0000ff" stroke="none" stroke-width="0" rx="1.3"/>
<rect x="411.9" y="945.2" width="9.7" height="6.3" fill="#ff0000" stroke="none" stroke-width="0" rx="1.3"/>
<rect x="339.9" y="952.1" width="9.7" height="6.3" fill="#ff0000" stroke="none" stroke-width="0" rx="1.3"/>
<rect x="350.2" y="952.1" width="9.7" height="6.3" fill="#ffff00" stroke="none" stroke-width="0" rx="1.3"/>
<rect x="360.5" y="952.1" width="9.7" height="6.3" fill="#ff0000" stroke="none" stroke-width="0" rx="1.3"/>
<rect x="370.8" y="952.1" width="9.7" height="6.3" fill="#ff0000" stroke="none" stroke-width="0" rx="1.3"/>
<rect x="381.1" y="952.1" width="9.7" height="6.3" fill="#ff0000" stroke="none" stroke-width="0" rx="1.3"/>
<rect x="391.3" y="952.1" width="9.7" height="6.3" fill="#ffff00" stroke="none" stroke-width="0" rx="1.3"/>
<rect x="401.6" y="952.1" width="9.7" height="6.3" fill="#ffff00" stroke="none" stroke-width="0" rx="1.3"/>
<rect x="411.9" y="952.1" width="9.7" height="6.3" fill="#ff0000" stroke="none" stroke-width="0" rx="1.3"/>
<rect x="339.9" y="959" width="9.7" height="6.3" fill="#ffff00" stroke="none" stroke-width="0" rx="1.3"/>
<rect x="350.2" y="959" width="9.7" height="6.3" fill="#ffff00" stroke="none" stroke-width="0" rx="1.3"/>
<rect x="360.5" y="959" width="9.7" height="6.3" fill="#00ffff" stroke="none" stroke-width="0" rx="1.3"/>
<rect x="370.8" y="959" width="9.7" height="6.3" fill="#ff0000" stroke="none" stroke-width="0" rx="1.3"/>
<rect x="381.1" y="959" width="9.7" height="6.3" fill="#ffff00" stroke="none" stroke-width="0" rx="1.3"/>
<rect x="391.3" y="959" width="9.7" height="6.3" fill="#ffff00" stroke="none" stroke-width="0" rx="1.3"/>
<rect x="401.6" y="959" width="9.7" height="6.3" fill="#00ffff" stroke="none" stroke-width="0" rx="1.3"/>
<rect x="411.9" y="959" width="9.7" height="6.3" fill="#00ffff" stroke="none" stroke-width="0" rx="1.3"/>
<rect x="339.9" y="965.9" width="9.7" height="6.3" fill="#ffff00" stroke="none" stroke-width="0" rx="1.3"/>
<rect x="350.2" y="965.9" width="9.7" height="6.3" fill="#00ffff" stroke="none" stroke-width="0" rx="1.3"/>
<rect x="360.5" y="965.9" width="9.7" height="6.3" fill="#00ffff" stroke="none" stroke-width="0" rx="1.3"/>
<rect x="370.8" y="965.9" width="9.7" height="6.3" fill="#0000ff" stroke="none" stroke-width="0" rx="1.3"/>
<rect x="381.1" y="965.9" width="9.7" height="6.3" fill="#ffff00" stroke="none" stroke-width="0" rx="1.3"/>
<rect x="391.3" y="965.9" width="9.7" height="6.3" fill="#00ffff" stroke="none" stroke-width="0" rx="1.3"/>
<rect x="401.6" y="965.9" width="9.7" height="6.3" fill="#00ffff" stroke="none" stroke-width="0" rx="1.3"/>
<rect x="411.9" y="965.9" width="9.7" height="6.3" fill="#00ffff" stroke="none" stroke-width="0" rx="1.3"/>
<rect x="339.9" y="972.9" width="9.7" height="6.3" fill="#ff0000" stroke="none" stroke-width="0" rx="1.3"/>
<rect x="350.2" y="972.9" width="9.7" height="6.3" fill="#00ffff" stroke="none" stroke-width="0" rx="1.3"/>
<rect x="360.5" y="972.9" width="9.7" height="6.3" fill="#0000ff" stroke="none" stroke-width="0" rx="1.3"/>
<rect x="370.8" y="972.9" width="9.7" height="6.3" fill="#ff0000" stroke="none" stroke-width="0" rx="1.3"/>
<rect x="381.1" y="972.9" width="9.7" height="6.3" fill="#ff0000" stroke="none" stroke-width="0" rx="1.3"/>
<rect x="391.3" y="972.9" width="9.7" height="6.3" fill="#00ffff" stroke="none" stroke-width="0" rx="1.3"/>
<rect x="401.6" y="972.9" width="9.7" height="6.3" fill="#00ffff" stroke="none" stroke-width="0" rx="1.3"/>
<rect x="411.9" y="972.9" width="9.7" height="6.3" fill="#0000ff" stroke="none" stroke-width="0" rx="1.3"/>
<text x="381.6" y="917.8" font-family="Liberation Serif" font-size="14.8" font-weight="normal" fill="#111" text-anchor="middle" textLength="75.6" lengthAdjust="spacingAndGlyphs">1110-1110</text>
<rect x="432.3" y="923" width="84.5" height="57.6" fill="#222" stroke="none" stroke-width="0" rx="0"/>
<rect x="433.7" y="924.4" width="9.7" height="6.3" fill="#ff0000" stroke="none" stroke-width="0" rx="1.3"/>
<rect x="444" y="924.4" width="9.7" height="6.3" fill="#ffff00" stroke="none" stroke-width="0" rx="1.3"/>
<rect x="454.3" y="924.4" width="9.7" height="6.3" fill="#ffff00" stroke="none" stroke-width="0" rx="1.3"/>
<rect x="464.6" y="924.4" width="9.7" height="6.3" fill="#ff0000" stroke="none" stroke-width="0" rx="1.3"/>
<rect x="474.9" y="924.4" width="9.7" height="6.3" fill="#ff0000" stroke="none" stroke-width="0" rx="1.3"/>
<rect x="485.1" y="924.4" width="9.7" height="6.3" fill="#ffff00" stroke="none" stroke-width="0" rx="1.3"/>
<rect x="495.4" y="924.4" width="9.7" height="6.3" fill="#ffff00" stroke="none" stroke-width="0" rx="1.3"/>
<rect x="505.7" y="924.4" width="9.7" height="6.3" fill="#ff0000" stroke="none" stroke-width="0" rx="1.3"/>
<rect x="433.7" y="931.3" width="9.7" height="6.3" fill="#ffff00" stroke="none" stroke-width="0" rx="1.3"/>
<rect x="444" y="931.3" width="9.7" height="6.3" fill="#ffff00" stroke="none" stroke-width="0" rx="1.3"/>
<rect x="454.3" y="931.3" width="9.7" height="6.3" fill="#00ffff" stroke="none" stroke-width="0" rx="1.3"/>
<rect x="464.6" y="931.3" width="9.7" height="6.3" fill="#00ffff" stroke="none" stroke-width="0" rx="1.3"/>
<rect x="474.9" y="931.3" width="9.7" height="6.3" fill="#ffff00" stroke="none" stroke-width="0" rx="1.3"/>
<rect x="485.1" y="931.3" width="9.7" height="6.3" fill="#ffff00" stroke="none" stroke-width="0" rx="1.3"/>
<rect x="495.4" y="931.3" width="9.7" height="6.3" fill="#ffff00" stroke="none" stroke-width="0" rx="1.3"/>
<rect x="505.7" y="931.3" width="9.7" height="6.3" fill="#00ffff" stroke="none" stroke-width="0" rx="1.3"/>
<rect x="433.7" y="938.2" width="9.7" height="6.3" fill="#ffff00" stroke="none" stroke-width="0" rx="1.3"/>
<rect x="444" y="938.2" width="9.7" height="6.3" fill="#00ffff" stroke="none" stroke-width="0" rx="1.3"/>
<rect x="454.3" y="938.2" width="9.7" height="6.3" fill="#00ffff" stroke="none" stroke-width="0" rx="1.3"/>
<rect x="464.6" y="938.2" width="9.7" height="6.3" fill="#0000ff" stroke="none" stroke-width="0" rx="1.3"/>
<rect x="474.9" y="938.2" width="9.7" height="6.3" fill="#ff0000" stroke="none" stroke-width="0" rx="1.3"/>
<rect x="485.1" y="938.2" width="9.7" height="6.3" fill="#ffff00" stroke="none" stroke-width="0" rx="1.3"/>
<rect x="495.4" y="938.2" width="9.7" height="6.3" fill="#00ffff" stroke="none" stroke-width="0" rx="1.3"/>
<rect x="505.7" y="938.2" width="9.7" height="6.3" fill="#00ffff" stroke="none" stroke-width="0" rx="1.3"/>
<rect x="433.7" y="945.2" width="9.7" height="6.3" fill="#ff0000" stroke="none" stroke-width="0" rx="1.3"/>
<rect x="444" y="945.2" width="9.7" height="6.3" fill="#00ffff" stroke="none" stroke-width="0" rx="1.3"/>
<rect x="454.3" y="945.2" width="9.7" height="6.3" fill="#0000ff" stroke="none" stroke-width="0" rx="1.3"/>
<rect x="464.6" y="945.2" width="9.7" height="6.3" fill="#ff0000" stroke="none" stroke-width="0" rx="1.3"/>
<rect x="474.9" y="945.2" width="9.7" height="6.3" fill="#ff0000" stroke="none" stroke-width="0" rx="1.3"/>
<rect x="485.1" y="945.2" width="9.7" height="6.3" fill="#ff0000" stroke="none" stroke-width="0" rx="1.3"/>
<rect x="495.4" y="945.2" width="9.7" height="6.3" fill="#00ffff" stroke="none" stroke-width="0" rx="1.3"/>
<rect x="505.7" y="945.2" width="9.7" height="6.3" fill="#0000ff" stroke="none" stroke-width="0" rx="1.3"/>
<rect x="433.7" y="952.1" width="9.7" height="6.3" fill="#ff0000" stroke="none" stroke-width="0" rx="1.3"/>
<rect x="444" y="952.1" width="9.7" height="6.3" fill="#ffff00" stroke="none" stroke-width="0" rx="1.3"/>
<rect x="454.3" y="952.1" width="9.7" height="6.3" fill="#ff0000" stroke="none" stroke-width="0" rx="1.3"/>
<rect x="464.6" y="952.1" width="9.7" height="6.3" fill="#ff0000" stroke="none" stroke-width="0" rx="1.3"/>
<rect x="474.9" y="952.1" width="9.7" height="6.3" fill="#ff0000" stroke="none" stroke-width="0" rx="1.3"/>
<rect x="485.1" y="952.1" width="9.7" height="6.3" fill="#ff0000" stroke="none" stroke-width="0" rx="1.3"/>
<rect x="495.4" y="952.1" width="9.7" height="6.3" fill="#ffff00" stroke="none" stroke-width="0" rx="1.3"/>
<rect x="505.7" y="952.1" width="9.7" height="6.3" fill="#ff0000" stroke="none" stroke-width="0" rx="1.3"/>
<rect x="433.7" y="959" width="9.7" height="6.3" fill="#ffff00" stroke="none" stroke-width="0" rx="1.3"/>
<rect x="444" y="959" width="9.7" height="6.3" fill="#ffff00" stroke="none" stroke-width="0" rx="1.3"/>
<rect x="454.3" y="959" width="9.7" height="6.3" fill="#ffff00" stroke="none" stroke-width="0" rx="1.3"/>
<rect x="464.6" y="959" width="9.7" height="6.3" fill="#ff0000" stroke="none" stroke-width="0" rx="1.3"/>
<rect x="474.9" y="959" width="9.7" height="6.3" fill="#ff0000" stroke="none" stroke-width="0" rx="1.3"/>
<rect x="485.1" y="959" width="9.7" height="6.3" fill="#ffff00" stroke="none" stroke-width="0" rx="1.3"/>
<rect x="495.4" y="959" width="9.7" height="6.3" fill="#ffff00" stroke="none" stroke-width="0" rx="1.3"/>
<rect x="505.7" y="959" width="9.7" height="6.3" fill="#00ffff" stroke="none" stroke-width="0" rx="1.3"/>
<rect x="433.7" y="965.9" width="9.7" height="6.3" fill="#ffff00" stroke="none" stroke-width="0" rx="1.3"/>
<rect x="444" y="965.9" width="9.7" height="6.3" fill="#ffff00" stroke="none" stroke-width="0" rx="1.3"/>
<rect x="454.3" y="965.9" width="9.7" height="6.3" fill="#00ffff" stroke="none" stroke-width="0" rx="1.3"/>
<rect x="464.6" y="965.9" width="9.7" height="6.3" fill="#00ffff" stroke="none" stroke-width="0" rx="1.3"/>
<rect x="474.9" y="965.9" width="9.7" height="6.3" fill="#ffff00" stroke="none" stroke-width="0" rx="1.3"/>
<rect x="485.1" y="965.9" width="9.7" height="6.3" fill="#ffff00" stroke="none" stroke-width="0" rx="1.3"/>
<rect x="495.4" y="965.9" width="9.7" height="6.3" fill="#00ffff" stroke="none" stroke-width="0" rx="1.3"/>
<rect x="505.7" y="965.9" width="9.7" height="6.3" fill="#00ffff" stroke="none" stroke-width="0" rx="1.3"/>
<rect x="433.7" y="972.9" width="9.7" height="6.3" fill="#ff0000" stroke="none" stroke-width="0" rx="1.3"/>
<rect x="444" y="972.9" width="9.7" height="6.3" fill="#00ffff" stroke="none" stroke-width="0" rx="1.3"/>
<rect x="454.3" y="972.9" width="9.7" height="6.3" fill="#00ffff" stroke="none" stroke-width="0" rx="1.3"/>
<rect x="464.6" y="972.9" width="9.7" height="6.3" fill="#0000ff" stroke="none" stroke-width="0" rx="1.3"/>
<rect x="474.9" y="972.9" width="9.7" height="6.3" fill="#ff0000" stroke="none" stroke-width="0" rx="1.3"/>
<rect x="485.1" y="972.9" width="9.7" height="6.3" fill="#00ffff" stroke="none" stroke-width="0" rx="1.3"/>
<rect x="495.4" y="972.9" width="9.7" height="6.3" fill="#00ffff" stroke="none" stroke-width="0" rx="1.3"/>
<rect x="505.7" y="972.9" width="9.7" height="6.3" fill="#0000ff" stroke="none" stroke-width="0" rx="1.3"/>
<text x="475.4" y="917.8" font-family="Liberation Serif" font-size="14.8" font-weight="normal" fill="#111" text-anchor="middle" textLength="75.6" lengthAdjust="spacingAndGlyphs">1111-1111</text>
<rect x="530.2" y="683.4" width="10.5" height="74.2" fill="#ff0000" stroke="none" stroke-width="0" rx="0"/>
<text x="546" y="725.2" font-family="Liberation Serif" font-size="14" font-weight="bold" fill="#111" text-anchor="start" textLength="15.4" lengthAdjust="spacingAndGlyphs">S4</text>
<rect x="530.2" y="758" width="10.5" height="74.2" fill="#ffff00" stroke="none" stroke-width="0" rx="0"/>
<text x="546" y="799.8" font-family="Liberation Serif" font-size="14" font-weight="bold" fill="#111" text-anchor="start" textLength="15.4" lengthAdjust="spacingAndGlyphs">S3</text>
<rect x="530.2" y="831.9" width="10.5" height="74.2" fill="#00ffff" stroke="none" stroke-width="0" rx="0"/>
<text x="546" y="873.7" font-family="Liberation Serif" font-size="14" font-weight="bold" fill="#111" text-anchor="start" textLength="15.4" lengthAdjust="spacingAndGlyphs">S2</text>
<rect x="530.2" y="905.8" width="10.5" height="74.2" fill="#0000ff" stroke="none" stroke-width="0" rx="0"/>
<text x="546" y="947.6" font-family="Liberation Serif" font-size="14" font-weight="bold" fill="#111" text-anchor="start" textLength="15.4" lengthAdjust="spacingAndGlyphs">S1</text>
<rect x="530.2" y="683.4" width="10.5" height="296.8" fill="none" stroke="#888" stroke-width="0.6" rx="0"/>
<text x="24.5" y="684.4" font-family="Liberation Serif" font-size="19" font-weight="bold" fill="#000" text-anchor="start">(g)</text>
</svg></body></html>
